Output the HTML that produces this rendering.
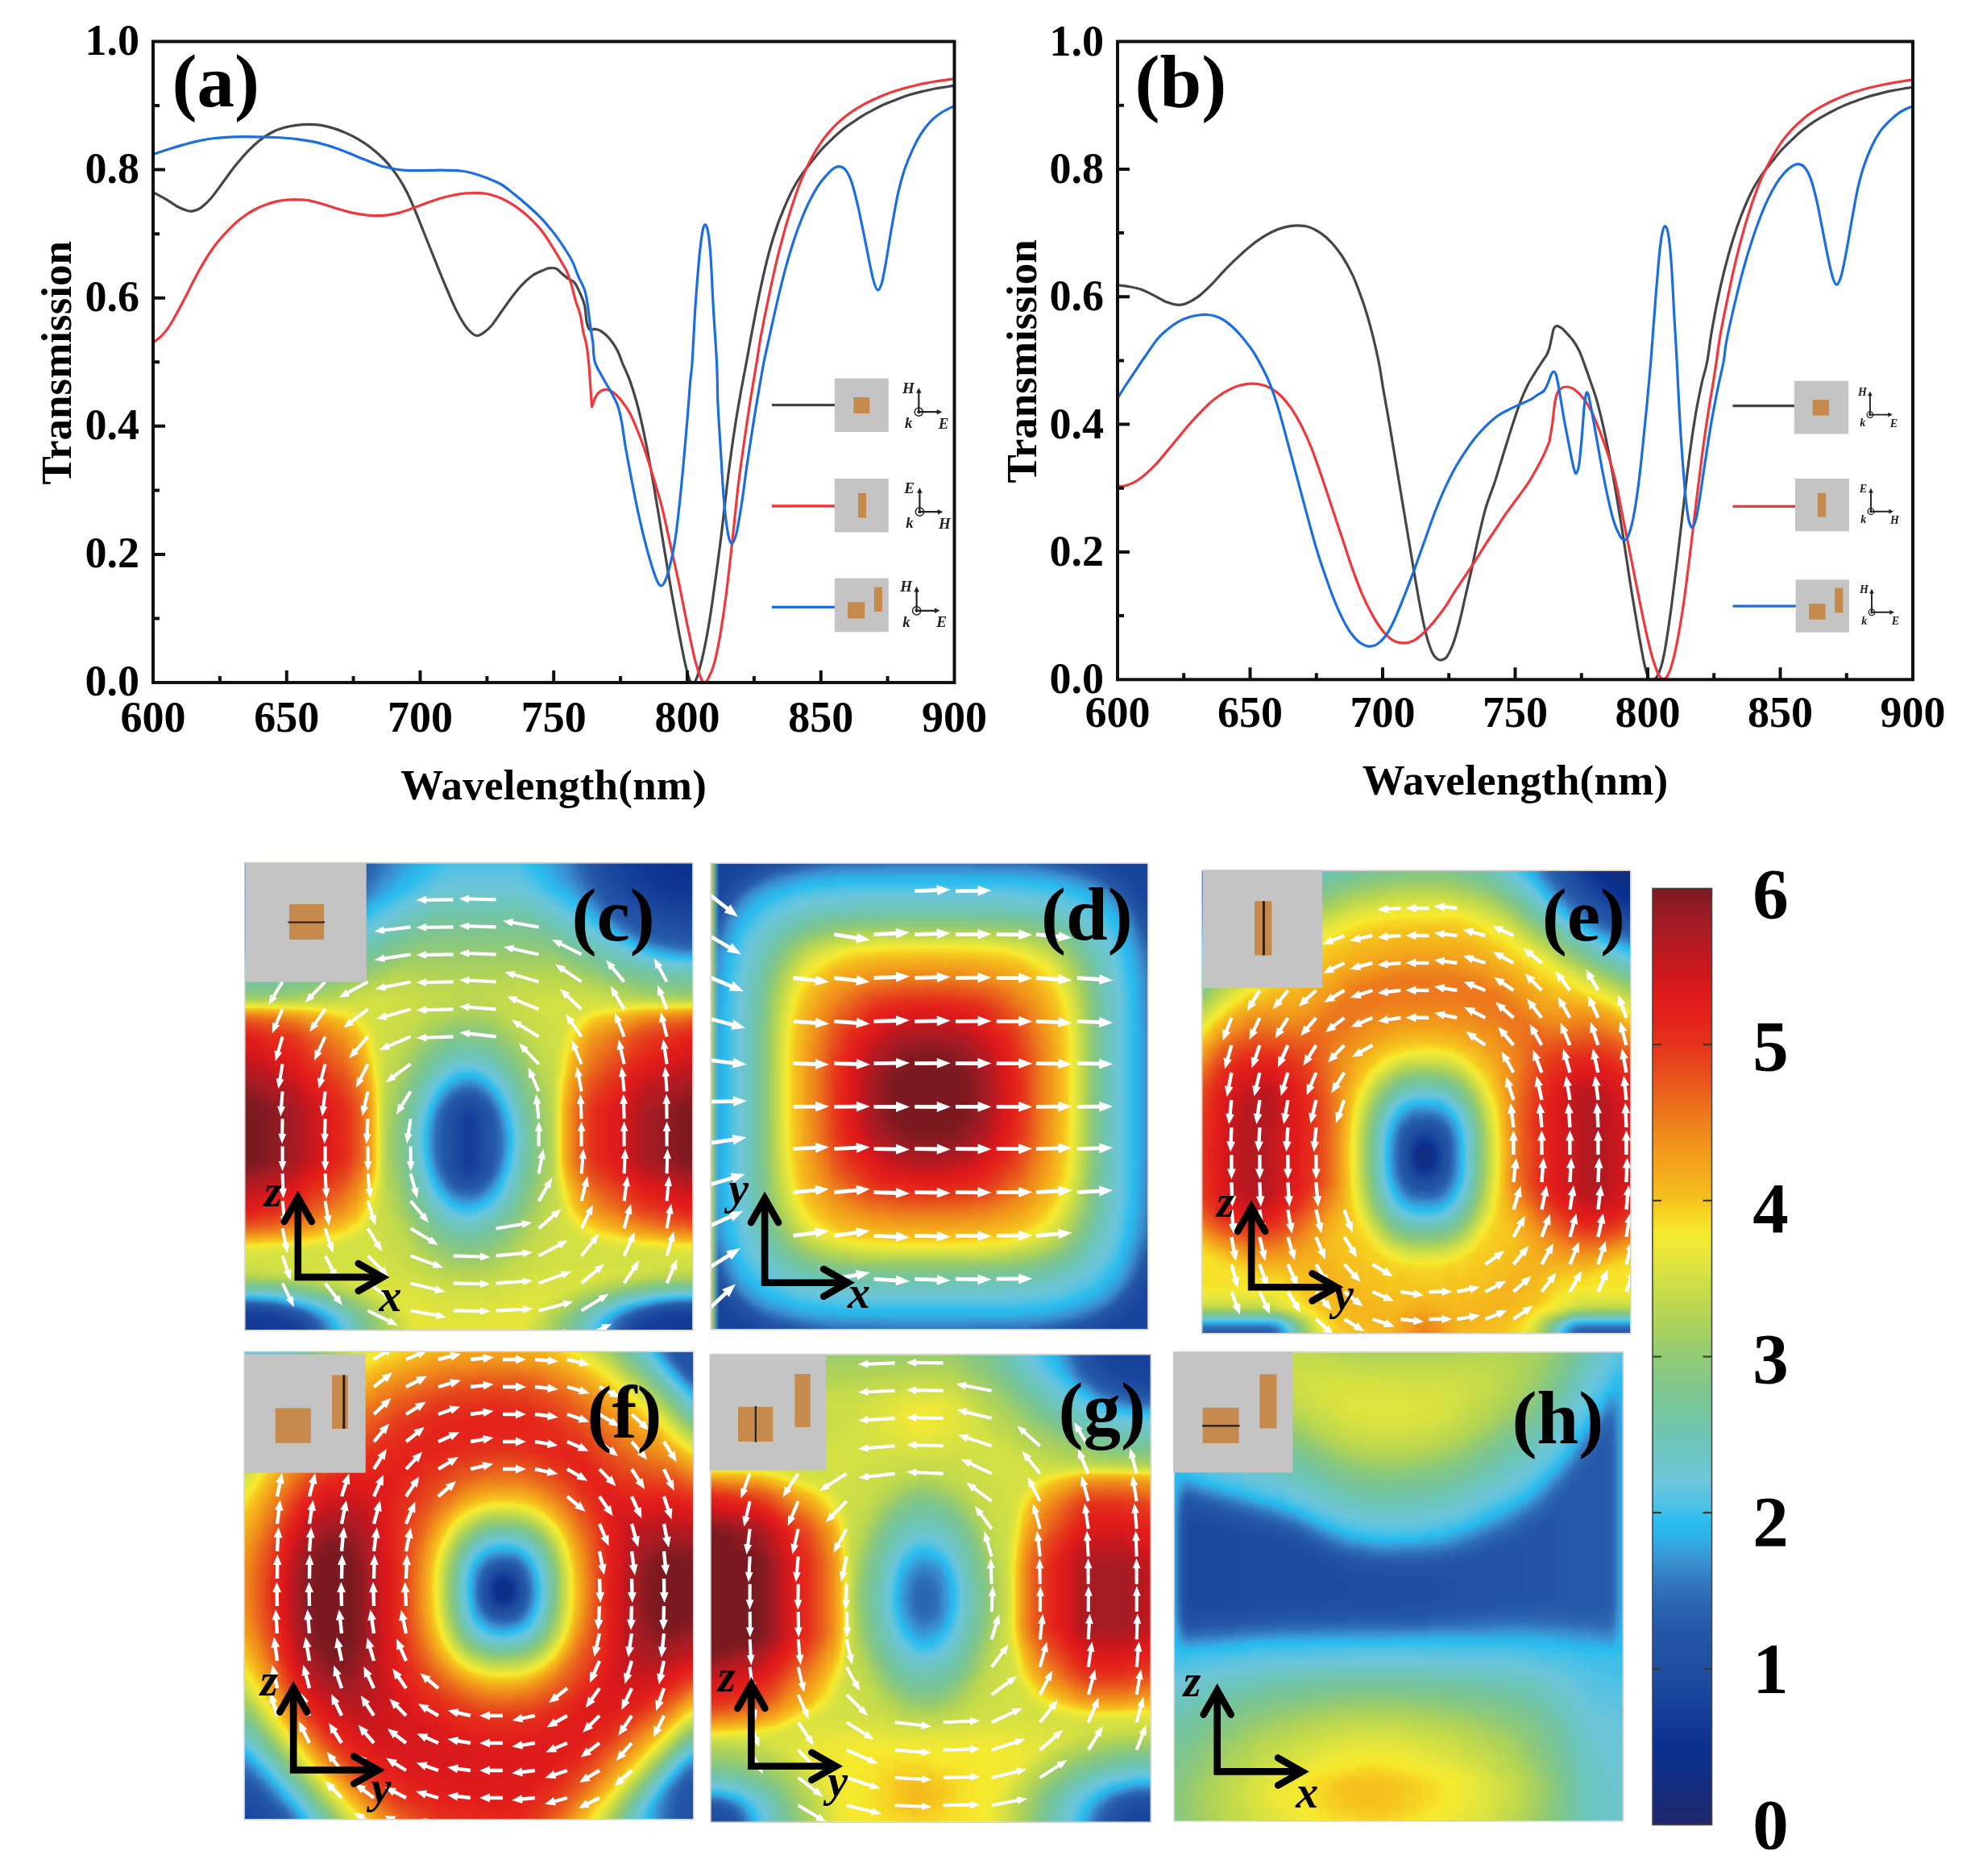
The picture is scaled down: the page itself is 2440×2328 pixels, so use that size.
<!DOCTYPE html><html><head><meta charset="utf-8"><title>Figure</title><style>html,body{margin:0;padding:0;background:#fff}svg{display:block;filter:blur(0.7px)}</style></head><body>
<svg xmlns="http://www.w3.org/2000/svg" width="2440" height="2328" viewBox="0 0 2440 2328">
<rect width="2440" height="2328" fill="#fff"/>
<clipPath id="clipA"><rect x="190" y="51.5" width="994.5" height="795.5"/></clipPath>
<g clip-path="url(#clipA)" fill="none" stroke-width="3.2" stroke-linejoin="round">
<path d="M190.0 238.7C192.5 240.0 200.2 243.9 205.3 246.8C210.3 249.8 216.3 254.2 220.5 256.5C224.8 258.8 227.7 259.9 230.7 260.8C233.7 261.7 235.4 262.5 238.3 262.1C241.3 261.7 244.7 260.8 248.5 258.3C252.3 255.7 256.5 252.1 261.2 246.8C265.9 241.5 271.4 233.3 276.5 226.5C281.6 219.7 286.6 212.5 291.7 206.1C296.8 199.8 301.9 193.6 307.0 188.3C312.1 183.0 317.2 178.4 322.2 174.3C327.3 170.3 332.4 166.8 337.5 164.2C342.6 161.5 347.7 159.8 352.8 158.3C357.9 156.8 362.9 156.0 368.0 155.3C373.1 154.6 378.2 154.3 383.3 154.3C388.4 154.3 393.5 154.5 398.5 155.3C403.6 156.1 408.7 157.5 413.8 159.1C418.9 160.7 424.0 162.7 429.1 164.9C434.2 167.2 439.2 169.6 444.3 172.6C449.4 175.5 454.5 178.8 459.6 182.7C464.7 186.6 470.6 191.9 474.8 196.0C479.1 200.1 481.6 203.2 485.0 207.4C488.4 211.6 491.8 216.1 495.2 221.4C498.6 226.7 502.0 232.4 505.4 239.2C508.8 246.0 512.1 254.0 515.5 262.1C518.9 270.1 522.3 279.0 525.7 287.5C529.1 296.0 532.5 304.5 535.9 313.0C539.3 321.4 542.7 330.1 546.1 338.4C549.4 346.7 552.8 354.7 556.2 362.5C559.6 370.4 563.0 378.7 566.4 385.4C569.8 392.2 573.6 398.8 576.6 403.2C579.5 407.7 581.7 409.9 584.2 412.1C586.7 414.3 589.3 416.3 591.8 416.5C594.4 416.7 596.5 415.4 599.5 413.4C602.4 411.4 605.8 409.0 609.6 404.5C613.4 400.1 618.1 392.6 622.3 386.7C626.6 380.8 630.8 374.4 635.1 368.9C639.3 363.4 643.5 358.1 647.8 353.6C652.0 349.2 656.3 345.2 660.5 342.2C664.7 339.2 669.8 337.4 673.2 335.8C676.6 334.3 678.0 333.2 680.8 332.8C683.6 332.4 687.2 332.2 690.0 333.3C692.8 334.4 695.1 337.5 697.6 339.7C700.2 341.8 702.7 344.2 705.3 346.0C707.8 347.8 710.3 347.4 712.9 350.6C715.4 353.8 718.4 360.3 720.5 365.1C722.6 369.8 724.3 373.4 725.6 379.1C726.9 384.8 727.1 394.4 728.1 399.4C729.2 404.4 730.3 407.6 732.0 409.1C733.7 410.6 736.0 408.0 738.3 408.3C740.7 408.6 743.0 409.0 746.0 410.9C748.9 412.8 752.7 415.7 756.1 419.8C759.5 423.8 763.5 429.8 766.3 435.0C769.1 440.2 770.1 444.9 772.7 451.1C775.2 457.2 778.4 462.9 781.6 471.9C784.7 480.9 788.3 491.8 791.7 505.0C795.1 518.1 798.5 533.8 801.9 550.7C805.3 567.7 808.7 587.2 812.1 606.7C815.5 626.2 818.9 647.4 822.2 667.7C825.6 688.1 829.0 709.3 832.4 728.8C835.8 748.3 839.6 769.0 842.6 784.7C845.6 800.4 848.1 813.3 850.2 822.9C852.3 832.4 853.7 837.6 855.3 841.9C856.9 846.3 858.4 848.8 859.9 848.8C861.4 848.8 863.1 845.0 864.5 841.9C865.8 838.9 866.6 835.8 868.0 830.5C869.5 825.2 871.0 820.3 873.1 810.1C875.2 800.0 878.2 785.1 880.7 769.4C883.3 753.8 885.8 734.7 888.4 716.0C890.9 697.4 893.5 678.3 896.0 657.5C898.5 636.8 901.1 611.8 903.6 591.4C906.2 571.1 908.7 552.4 911.3 535.5C913.8 518.5 916.3 504.1 918.9 489.7C921.4 475.3 924.0 462.8 926.5 449.0C929.1 435.2 931.2 422.5 934.2 407.1C937.1 391.6 940.9 371.9 944.3 356.2C947.7 340.5 951.1 325.7 954.5 313.0C957.9 300.2 961.3 289.6 964.7 279.9C968.1 270.1 971.5 262.3 974.8 254.5C978.2 246.6 981.6 239.2 985.0 232.8C988.4 226.5 991.4 221.8 995.2 216.3C999.0 210.8 1003.7 205.1 1007.9 199.8C1012.1 194.5 1016.4 189.2 1020.6 184.5C1024.9 179.9 1029.1 175.8 1033.3 171.8C1037.6 167.8 1041.8 163.8 1046.1 160.4C1050.3 157.0 1054.5 154.3 1058.8 151.5C1063.0 148.6 1067.2 145.6 1071.5 143.1C1075.7 140.5 1080.0 138.4 1084.2 136.2C1088.4 134.0 1092.7 131.7 1096.9 129.8C1101.2 127.9 1105.4 126.4 1109.6 124.8C1113.9 123.1 1118.1 121.2 1122.3 119.7C1126.6 118.2 1130.8 117.0 1135.1 115.9C1139.3 114.7 1143.5 113.8 1147.8 112.8C1152.0 111.8 1156.3 110.8 1160.5 110.0C1164.7 109.2 1169.4 108.6 1173.2 108.0C1177.0 107.4 1181.7 106.7 1183.4 106.4" stroke="#454545"/>
<path d="M190.0 424.9C191.7 423.6 196.8 420.6 200.2 417.2C203.6 413.8 207.0 409.6 210.3 404.5C213.7 399.4 217.1 392.9 220.5 386.7C223.9 380.6 227.3 374.2 230.7 367.6C234.1 361.1 237.0 354.5 240.9 347.3C244.7 340.1 249.3 331.4 253.6 324.4C257.8 317.4 262.1 311.0 266.3 305.3C270.5 299.6 274.8 294.7 279.0 290.1C283.3 285.4 287.5 281.2 291.7 277.3C296.0 273.5 300.2 270.1 304.4 267.2C308.7 264.2 312.9 261.7 317.2 259.5C321.4 257.3 325.6 255.5 329.9 254.0C334.1 252.4 338.4 251.1 342.6 250.1C346.8 249.2 351.1 248.5 355.3 248.1C359.5 247.7 363.8 247.5 368.0 247.6C372.3 247.6 376.5 247.8 380.7 248.4C385.0 248.9 389.2 250.1 393.5 251.2C397.7 252.3 401.9 253.7 406.2 255.0C410.4 256.3 414.7 257.8 418.9 259.0C423.1 260.3 427.4 261.5 431.6 262.6C435.8 263.7 440.1 264.6 444.3 265.4C448.6 266.2 452.8 266.8 457.0 267.2C461.3 267.6 465.5 267.8 469.8 267.7C474.0 267.6 478.2 267.3 482.5 266.7C486.7 266.1 490.9 265.2 495.2 264.1C499.4 263.0 503.7 261.5 507.9 260.1C512.1 258.6 516.4 256.8 520.6 255.2C524.9 253.7 529.1 252.1 533.3 250.6C537.6 249.2 541.8 247.6 546.1 246.3C550.3 245.0 554.5 243.9 558.8 243.0C563.0 242.1 567.2 241.3 571.5 240.7C575.7 240.1 580.0 239.6 584.2 239.5C588.4 239.3 592.7 239.3 596.9 239.7C601.2 240.1 605.4 240.6 609.6 241.7C613.9 242.8 618.1 244.4 622.3 246.3C626.6 248.2 630.8 250.6 635.1 253.2C639.3 255.8 643.5 258.7 647.8 262.1C652.0 265.5 656.3 269.3 660.5 273.5C664.7 277.8 669.4 282.6 673.2 287.5C677.0 292.4 680.6 298.5 683.4 302.8C686.2 307.1 687.7 309.6 690.0 313.5C692.3 317.4 695.0 321.8 697.3 325.9C699.6 330.0 702.0 333.2 704.0 337.9C706.0 342.6 707.5 347.9 709.3 353.9C711.1 359.9 712.8 368.0 714.6 374.0C716.4 380.0 718.5 383.7 720.0 390.0C721.5 396.3 722.6 405.7 723.9 412.0C725.2 418.3 726.8 421.7 727.9 428.0C729.0 434.3 729.8 441.7 730.6 449.8C731.4 457.9 732.0 467.3 732.6 476.5C733.2 485.7 734.2 500.2 734.5 505.0L734.5 505.0C735.6 502.4 738.1 493.3 740.9 489.7C743.6 486.1 747.6 483.8 751.0 483.3C754.4 482.9 757.8 484.8 761.2 487.1C764.6 489.5 768.0 493.1 771.4 497.3C774.8 501.6 778.2 506.2 781.6 512.6C784.9 518.9 788.3 527.0 791.7 535.5C795.1 543.9 798.5 553.3 801.9 563.4C805.3 573.6 808.7 585.1 812.1 596.5C815.5 608.0 818.9 618.5 822.2 632.1C825.6 645.7 829.0 662.6 832.4 677.9C835.8 693.2 839.2 707.6 842.6 723.7C846.0 739.8 849.4 758.4 852.8 774.5C856.2 790.6 860.0 808.9 862.9 820.3C865.9 831.8 868.7 838.8 870.6 843.2C872.5 847.7 873.1 847.0 874.4 847.0C875.7 847.0 876.3 846.8 878.2 843.2C880.1 839.6 883.3 834.3 885.8 825.4C888.4 816.5 890.9 804.2 893.5 789.8C896.0 775.4 898.5 758.4 901.1 738.9C903.6 719.4 906.2 695.7 908.7 672.8C911.3 649.9 913.8 622.8 916.3 601.6C918.9 580.4 921.4 563.4 924.0 545.6C926.5 527.8 929.1 510.9 931.6 494.8C934.2 478.7 937.1 461.9 939.2 449.0C941.4 436.1 941.8 431.0 944.3 417.2C946.9 403.5 951.1 382.5 954.5 366.4C957.9 350.3 961.3 334.6 964.7 320.6C968.1 306.6 971.5 294.3 974.8 282.4C978.2 270.6 981.6 259.5 985.0 249.4C988.4 239.2 991.4 230.5 995.2 221.4C999.0 212.3 1003.7 202.5 1007.9 194.7C1012.1 186.9 1016.4 180.3 1020.6 174.3C1024.9 168.4 1029.1 163.6 1033.3 159.1C1037.6 154.6 1041.8 150.7 1046.1 147.1C1050.3 143.5 1054.5 140.4 1058.8 137.5C1063.0 134.6 1067.2 132.2 1071.5 129.8C1075.7 127.5 1080.0 125.5 1084.2 123.5C1088.4 121.5 1092.7 119.6 1096.9 117.9C1101.2 116.2 1105.4 114.7 1109.6 113.3C1113.9 111.9 1118.1 110.7 1122.3 109.5C1126.6 108.3 1130.8 107.2 1135.1 106.2C1139.3 105.2 1143.5 104.2 1147.8 103.4C1152.0 102.5 1156.3 101.8 1160.5 101.1C1164.7 100.4 1169.4 99.9 1173.2 99.3C1177.0 98.8 1181.7 98.0 1183.4 97.8" stroke="#f0383c"/>
<path d="M190.0 191.4C194.2 190.0 207.0 185.8 215.4 183.2C223.9 180.7 232.4 178.1 240.9 176.1C249.3 174.2 257.8 172.6 266.3 171.5C274.8 170.5 283.3 170.1 291.7 169.8C300.2 169.5 308.7 169.6 317.2 169.8C325.6 169.9 334.1 170.1 342.6 170.5C351.1 171.0 359.5 171.5 368.0 172.6C376.5 173.6 385.0 174.9 393.5 176.9C401.9 178.9 410.4 181.6 418.9 184.5C427.4 187.5 435.8 191.3 444.3 194.7C452.8 198.1 463.0 202.5 469.8 204.9C476.5 207.2 479.9 207.6 485.0 208.7C490.1 209.7 494.3 210.7 500.3 211.2C506.2 211.7 513.0 211.7 520.6 211.7C528.3 211.7 537.6 211.2 546.1 211.2C554.5 211.3 564.7 211.4 571.5 212.0C578.3 212.6 581.7 213.7 586.7 215.0C591.8 216.4 596.1 217.8 602.0 220.1C607.9 222.5 616.4 225.6 622.3 229.0C628.3 232.4 632.5 236.4 637.6 240.5C642.7 244.5 647.8 248.7 652.9 253.2C658.0 257.6 663.5 262.5 668.1 267.2C672.8 271.8 677.2 276.9 680.8 281.2C684.5 285.4 686.8 288.2 690.0 292.6C693.2 297.0 696.8 302.1 700.2 307.4C703.6 312.7 707.4 318.4 710.3 324.4C713.3 330.4 715.4 337.5 718.0 343.5C720.5 349.4 723.7 354.1 725.6 360.0C727.5 365.9 728.4 372.5 729.4 379.1C730.5 385.6 730.9 391.8 732.0 399.4C733.0 407.1 734.7 416.6 735.8 424.9C736.8 433.1 736.2 441.6 738.3 449.0C740.4 456.4 745.1 463.0 748.5 469.3C751.9 475.7 755.7 481.6 758.7 487.1C761.6 492.7 764.2 496.5 766.3 502.4C768.4 508.3 769.7 513.9 771.4 522.8C773.1 531.7 774.4 543.5 776.5 555.8C778.6 568.1 781.6 583.4 784.1 596.5C786.6 609.6 789.2 622.8 791.7 634.7C794.3 646.5 796.8 657.5 799.4 667.7C801.9 677.9 804.4 687.2 807.0 695.7C809.5 704.2 812.5 713.4 814.6 718.6C816.7 723.8 818.0 726.1 819.7 726.7C821.4 727.4 822.9 726.3 824.8 722.4C826.7 718.5 829.0 711.6 831.1 703.3C833.3 695.1 835.6 684.7 837.5 672.8C839.4 660.9 840.9 647.4 842.6 632.1C844.3 616.9 846.0 599.5 847.7 581.2C849.4 563.0 851.3 540.6 852.8 522.8C854.3 505.0 855.5 486.7 856.6 474.4C857.6 462.1 858.1 464.5 859.1 449.0C860.2 433.5 861.5 403.4 862.9 381.6C864.4 359.8 866.5 333.7 868.0 318.0C869.5 302.4 870.7 294.1 871.8 287.5C873.0 281.0 874.0 278.6 875.1 278.6C876.3 278.6 877.6 281.0 878.7 287.5C879.9 294.1 880.9 302.4 882.0 318.0C883.1 333.7 884.0 359.5 885.3 381.6C886.6 403.8 888.7 431.3 889.6 451.1C890.6 470.8 890.1 481.1 890.9 499.9C891.8 518.6 893.5 543.1 894.7 563.4C896.0 583.8 897.1 605.4 898.5 621.9C900.0 638.5 902.0 653.9 903.6 662.6C905.2 671.3 906.5 674.1 908.2 674.1C909.9 674.1 911.8 670.5 913.8 662.6C915.8 654.8 918.0 640.6 920.2 627.0C922.3 613.5 924.2 597.4 926.5 581.2C928.9 565.1 931.6 546.5 934.2 530.4C936.7 514.3 939.4 498.2 941.8 484.6C944.1 471.0 946.0 459.8 948.1 449.0C950.3 438.2 951.7 432.3 954.5 419.8C957.3 407.3 961.3 388.4 964.7 374.0C968.1 359.6 971.5 345.8 974.8 333.3C978.2 320.8 981.6 309.4 985.0 299.0C988.4 288.6 991.8 279.5 995.2 271.0C998.6 262.5 1002.0 254.9 1005.4 248.1C1008.8 241.3 1012.1 235.4 1015.5 230.3C1018.9 225.2 1022.7 221.0 1025.7 217.6C1028.7 214.2 1030.8 211.8 1033.3 210.0C1035.9 208.1 1038.4 206.6 1041.0 206.6C1043.5 206.6 1046.1 207.1 1048.6 210.0C1051.1 212.8 1053.7 216.9 1056.2 223.9C1058.8 230.9 1061.3 241.3 1063.9 251.9C1066.4 262.5 1068.9 275.2 1071.5 287.5C1074.0 299.8 1077.0 315.5 1079.1 325.7C1081.2 335.8 1082.5 342.8 1084.2 348.6C1085.9 354.3 1087.6 359.6 1089.3 360.0C1091.0 360.4 1092.7 356.8 1094.4 351.1C1096.1 345.4 1097.3 337.5 1099.5 325.7C1101.6 313.8 1104.5 294.3 1107.1 279.9C1109.6 265.5 1112.2 250.6 1114.7 239.2C1117.3 227.8 1119.4 220.1 1122.3 211.2C1125.3 202.3 1129.1 193.2 1132.5 185.8C1135.9 178.4 1138.9 172.7 1142.7 166.7C1146.5 160.8 1151.2 154.6 1155.4 150.2C1159.7 145.7 1163.5 143.1 1168.1 140.0C1172.8 137.0 1180.8 133.2 1183.4 131.9" stroke="#1a6ee0"/>
</g>
<path d="M272.9 847v-8M355.8 847v-15M438.6 847v-8M521.5 847v-15M604.4 847v-8M687.2 847v-15M770.1 847v-8M853.0 847v-15M935.9 847v-8M1018.8 847v-15M1101.6 847v-8M190 767.5h8M190 687.9h15M190 608.4h8M190 528.8h15M190 449.2h8M190 369.7h15M190 290.2h8M190 210.6h15M190 131.0h8" stroke="#111" stroke-width="4" fill="none"/>
<rect x="190" y="51.5" width="994.5" height="795.5" fill="none" stroke="#111" stroke-width="4"/>
<g font-family="Liberation Serif, serif" font-weight="bold" font-size="54" fill="#000">
<text x="190.0" y="907.6" text-anchor="middle">600</text>
<text x="355.8" y="907.6" text-anchor="middle">650</text>
<text x="521.5" y="907.6" text-anchor="middle">700</text>
<text x="687.2" y="907.6" text-anchor="middle">750</text>
<text x="853.0" y="907.6" text-anchor="middle">800</text>
<text x="1018.8" y="907.6" text-anchor="middle">850</text>
<text x="1184.5" y="907.6" text-anchor="middle">900</text>
<text x="173" y="863.0" text-anchor="end">0.0</text>
<text x="173" y="703.9" text-anchor="end">0.2</text>
<text x="173" y="544.8" text-anchor="end">0.4</text>
<text x="173" y="385.7" text-anchor="end">0.6</text>
<text x="173" y="226.6" text-anchor="end">0.8</text>
<text x="173" y="67.5" text-anchor="end">1.0</text>
</g>
<text font-family="Liberation Serif, serif" font-weight="bold" font-size="53" x="687.2" y="992" text-anchor="middle" letter-spacing="0.2">Wavelength(nm)</text>
<text font-family="Liberation Serif, serif" font-weight="bold" font-size="53" transform="translate(87.8 450.2) rotate(-90)" text-anchor="middle" letter-spacing="0">Transmission</text>
<text font-family="Liberation Serif, serif" font-weight="bold" font-size="93" x="213.5" y="132">(a)</text>
<g stroke-width="3.3" fill="none"><path d="M958 502.7H1037" stroke="#454545"/><path d="M958 628H1037" stroke="#f0383c"/><path d="M958 753.3H1037" stroke="#1a6ee0"/></g>
<g fill="#c4c4c4"><rect x="1035.8" y="469.5" width="67" height="66.5"/><rect x="1035.8" y="594" width="67" height="66.5"/><rect x="1035.8" y="717.5" width="67" height="66.7"/></g>
<g fill="#c68a4c"><rect x="1059.3" y="493" width="20" height="20"/><rect x="1065" y="612" width="10" height="30.5"/><rect x="1052" y="747.3" width="21.2" height="20.2"/><rect x="1085" y="728.7" width="10" height="30.3"/></g>
<g stroke="#222" stroke-width="2.2" fill="none"><path d="M1140.3 511.2V484.2M1140.3 511.2H1166.3"/><circle cx="1140.3" cy="511.2" r="5.1" stroke-width="1.5"/></g>
<circle cx="1140.3" cy="511.2" r="2.0" fill="#222"/>
<path d="M1140.3 481.2l-3.3000000000000003 6.6000000000000005h6.6000000000000005z M1169.3 511.2l-6.6000000000000005 -3.3000000000000003v6.6000000000000005z" fill="#222"/>
<g font-family="Liberation Serif, serif" font-weight="bold" font-style="italic" font-size="19" fill="#222" text-anchor="middle">
<text x="1127.4" y="487.8">H</text>
<text x="1127.8" y="531.1">k</text>
<text x="1171.2" y="531.7">E</text>
</g>
<g stroke="#222" stroke-width="2.2" fill="none"><path d="M1141.4 635.2V608.2M1141.4 635.2H1167.4"/><circle cx="1141.4" cy="635.2" r="5.1" stroke-width="1.5"/></g>
<circle cx="1141.4" cy="635.2" r="2.0" fill="#222"/>
<path d="M1141.4 605.2l-3.3000000000000003 6.6000000000000005h6.6000000000000005z M1170.4 635.2l-6.6000000000000005 -3.3000000000000003v6.6000000000000005z" fill="#222"/>
<g font-family="Liberation Serif, serif" font-weight="bold" font-style="italic" font-size="19" fill="#222" text-anchor="middle">
<text x="1128.5" y="611.9">E</text>
<text x="1128.9" y="655.2">k</text>
<text x="1172.3" y="655.7">H</text>
</g>
<g stroke="#222" stroke-width="2.2" fill="none"><path d="M1137.6 757.8V730.8M1137.6 757.8H1163.6"/><circle cx="1137.6" cy="757.8" r="5.1" stroke-width="1.5"/></g>
<circle cx="1137.6" cy="757.8" r="2.0" fill="#222"/>
<path d="M1137.6 727.8l-3.3000000000000003 6.6000000000000005h6.6000000000000005z M1166.6 757.8l-6.6000000000000005 -3.3000000000000003v6.6000000000000005z" fill="#222"/>
<g font-family="Liberation Serif, serif" font-weight="bold" font-style="italic" font-size="19" fill="#222" text-anchor="middle">
<text x="1124.7" y="734.4">H</text>
<text x="1125.1" y="777.8">k</text>
<text x="1168.5" y="778.3">E</text>
</g>
<clipPath id="clipB"><rect x="1387" y="51.5" width="987" height="791.8"/></clipPath>
<g clip-path="url(#clipB)" fill="none" stroke-width="3.2" stroke-linejoin="round">
<path d="M1386.0 353.6C1388.5 354.0 1396.2 354.7 1401.3 355.7C1406.3 356.6 1411.4 357.5 1416.5 359.2C1421.6 361.0 1426.7 363.8 1431.8 366.4C1436.9 368.9 1442.0 372.5 1447.0 374.5C1452.1 376.5 1458.1 378.0 1462.3 378.3C1466.5 378.7 1468.2 378.3 1472.5 376.5C1476.7 374.8 1482.6 371.4 1487.7 367.6C1492.8 363.8 1497.9 358.7 1503.0 353.6C1508.1 348.6 1513.2 342.4 1518.2 337.1C1523.3 331.8 1528.4 326.7 1533.5 321.9C1538.6 317.0 1543.7 312.1 1548.8 307.9C1553.9 303.6 1558.9 299.8 1564.0 296.4C1569.1 293.0 1574.2 289.9 1579.3 287.5C1584.4 285.1 1589.5 283.2 1594.5 281.9C1599.6 280.7 1604.7 279.9 1609.8 279.9C1614.9 279.9 1620.0 280.2 1625.1 281.9C1630.2 283.6 1635.7 286.8 1640.3 290.1C1645.0 293.3 1648.8 296.8 1653.0 301.5C1657.3 306.2 1661.5 311.5 1665.8 318.0C1670.0 324.6 1674.7 332.9 1678.5 340.9C1682.3 349.0 1685.7 358.3 1688.6 366.4C1691.6 374.4 1693.7 380.8 1696.3 389.3C1698.8 397.7 1701.4 406.9 1703.9 417.2C1706.4 427.5 1709.4 440.2 1711.5 451.1C1713.7 461.9 1714.5 469.7 1716.6 482.1C1718.7 494.4 1721.7 510.5 1724.3 525.3C1726.8 540.1 1729.3 555.8 1731.9 571.1C1734.4 586.3 1737.0 601.6 1739.5 616.9C1742.1 632.1 1744.6 647.4 1747.1 662.6C1749.7 677.9 1752.2 693.6 1754.8 708.4C1757.3 723.2 1759.9 738.5 1762.4 751.6C1764.9 764.8 1767.5 777.5 1770.0 787.3C1772.6 797.0 1775.3 805.1 1777.7 810.1C1780.0 815.2 1782.1 816.3 1784.0 817.8C1785.9 819.3 1787.2 819.5 1789.1 819.0C1791.0 818.6 1793.1 818.4 1795.5 815.2C1797.8 812.0 1800.5 806.7 1803.1 800.0C1805.6 793.2 1808.2 784.3 1810.7 774.5C1813.3 764.8 1815.8 752.5 1818.3 741.5C1820.9 730.5 1823.4 719.9 1826.0 708.4C1828.5 697.0 1830.6 685.7 1833.6 672.8C1836.6 659.9 1840.3 643.0 1843.8 630.8C1847.3 618.7 1851.4 609.6 1854.6 600.0C1857.8 590.4 1860.0 582.4 1862.8 573.5C1865.5 564.6 1868.3 555.4 1871.1 546.6C1873.8 537.8 1876.6 529.0 1879.3 520.8C1882.0 512.6 1884.8 504.4 1887.5 497.3C1890.2 490.2 1893.0 484.0 1895.7 478.5C1898.4 473.0 1901.2 469.0 1903.9 464.5C1906.6 460.0 1909.5 455.5 1912.1 451.6C1914.6 447.7 1917.4 444.1 1919.2 441.0C1921.0 437.9 1921.6 436.3 1922.7 432.8C1923.8 429.3 1924.7 423.8 1925.6 419.9C1926.5 416.0 1927.1 411.8 1927.9 409.3C1928.7 406.9 1929.4 406.0 1930.3 405.2C1931.2 404.4 1931.9 404.3 1933.2 404.6C1934.5 404.9 1936.4 406.0 1937.9 407.0C1939.4 408.0 1939.6 408.3 1942.0 410.9C1944.3 413.4 1949.2 418.3 1952.1 422.3C1955.1 426.3 1957.4 430.2 1959.8 435.0C1962.1 439.8 1964.0 445.3 1966.1 451.1C1968.2 456.8 1969.7 461.2 1972.5 469.3C1975.2 477.5 1979.3 487.6 1982.6 499.9C1986.0 512.2 1989.4 527.0 1992.8 543.1C1996.2 559.2 1999.6 577.4 2003.0 596.5C2006.4 615.6 2009.8 636.4 2013.2 657.5C2016.6 678.7 2019.9 702.5 2023.3 723.7C2026.7 744.9 2030.5 767.8 2033.5 784.7C2036.5 801.7 2039.0 815.9 2041.1 825.4C2043.3 834.9 2044.6 838.9 2046.2 841.9C2047.8 845.0 2049.2 843.9 2050.8 843.7C2052.4 843.5 2054.1 843.3 2055.9 840.7C2057.7 838.0 2059.7 833.9 2061.5 827.9C2063.3 822.0 2064.5 817.3 2066.6 805.1C2068.7 792.8 2071.7 772.8 2074.2 754.2C2076.7 735.5 2079.3 714.3 2081.8 693.2C2084.4 672.0 2086.9 648.6 2089.5 627.0C2092.0 605.4 2094.5 582.5 2097.1 563.4C2099.6 544.4 2102.2 527.4 2104.7 512.6C2107.3 497.7 2110.0 485.0 2112.3 474.4C2114.7 463.8 2116.6 460.2 2118.7 449.0C2120.8 437.8 2122.3 422.5 2125.1 407.1C2127.8 391.6 2131.8 371.4 2135.2 356.2C2138.6 340.9 2142.0 327.8 2145.4 315.5C2148.8 303.2 2152.2 292.4 2155.6 282.4C2159.0 272.5 2162.4 263.8 2165.8 255.7C2169.1 247.7 2172.5 240.5 2175.9 234.1C2179.3 227.8 2182.3 223.1 2186.1 217.6C2189.9 212.1 2194.6 206.3 2198.8 201.1C2203.1 195.8 2207.3 190.5 2211.5 185.8C2215.8 181.1 2220.0 177.1 2224.3 173.1C2228.5 169.0 2232.7 165.1 2237.0 161.6C2241.2 158.2 2245.4 155.1 2249.7 152.2C2253.9 149.3 2258.2 146.8 2262.4 144.3C2266.6 141.9 2270.9 139.6 2275.1 137.5C2279.4 135.3 2283.6 133.2 2287.8 131.4C2292.1 129.5 2296.3 127.9 2300.5 126.3C2304.8 124.7 2309.0 123.1 2313.3 121.7C2317.5 120.3 2321.7 119.1 2326.0 117.9C2330.2 116.7 2334.5 115.6 2338.7 114.6C2342.9 113.6 2347.2 112.8 2351.4 112.0C2355.7 111.2 2360.7 110.3 2364.1 109.7C2367.6 109.2 2370.9 108.7 2372.3 108.5" stroke="#454545"/>
<path d="M1386.0 603.6C1387.7 603.5 1392.8 603.6 1396.2 602.9C1399.6 602.1 1403.0 600.7 1406.3 599.1C1409.7 597.4 1413.1 595.2 1416.5 592.7C1419.9 590.1 1423.3 587.0 1426.7 583.8C1430.1 580.6 1433.0 577.9 1436.9 573.6C1440.7 569.4 1445.3 563.4 1449.6 558.4C1453.8 553.3 1458.1 548.2 1462.3 543.1C1466.5 538.0 1470.8 532.7 1475.0 527.8C1479.3 523.0 1483.5 518.3 1487.7 513.9C1492.0 509.4 1496.2 505.0 1500.4 501.1C1504.7 497.3 1508.9 493.9 1513.2 491.0C1517.4 488.0 1521.6 485.5 1525.9 483.3C1530.1 481.2 1534.4 479.4 1538.6 478.2C1542.8 477.1 1547.1 476.4 1551.3 476.2C1555.5 476.0 1559.8 476.1 1564.0 477.0C1568.3 477.9 1572.5 479.2 1576.7 481.6C1581.0 483.9 1585.2 486.9 1589.5 491.0C1593.7 495.1 1597.9 500.1 1602.2 506.2C1606.4 512.4 1610.7 519.6 1614.9 527.8C1619.1 536.1 1623.4 545.2 1627.6 555.8C1631.8 566.4 1636.1 579.1 1640.3 591.4C1644.6 603.7 1648.8 616.9 1653.0 629.6C1657.3 642.3 1661.5 655.0 1665.8 667.7C1670.0 680.4 1674.2 694.0 1678.5 705.9C1682.7 717.7 1686.9 729.2 1691.2 738.9C1695.4 748.7 1699.7 756.9 1703.9 764.4C1708.1 771.8 1712.4 778.3 1716.6 783.4C1720.9 788.5 1725.1 792.5 1729.3 794.9C1733.6 797.3 1737.8 797.9 1742.1 797.9C1746.3 797.9 1750.5 797.1 1754.8 794.9C1759.0 792.7 1763.2 788.7 1767.5 784.7C1771.7 780.7 1776.0 775.8 1780.2 770.7C1784.4 765.6 1788.7 760.3 1792.9 754.2C1797.2 748.0 1801.4 740.4 1805.6 733.8C1809.9 727.3 1814.1 721.1 1818.3 714.8C1822.6 708.4 1826.8 702.3 1831.1 695.7C1835.3 689.1 1839.5 681.9 1843.8 675.3C1848.0 668.8 1852.3 662.6 1856.5 656.3C1860.7 649.9 1864.3 644.2 1869.2 637.2C1874.1 630.2 1881.5 620.5 1886.0 614.3C1890.5 608.1 1892.8 605.3 1896.2 600.1C1899.6 594.9 1903.0 589.1 1906.3 583.0C1909.7 576.9 1913.8 569.3 1916.5 563.4C1919.3 557.6 1921.8 550.7 1922.9 548.2L1922.9 548.2C1923.5 544.4 1925.5 533.4 1926.7 525.3C1927.8 517.2 1928.7 506.2 1929.7 499.9C1930.8 493.5 1931.7 490.2 1933.0 487.1C1934.4 484.1 1936.2 482.7 1938.1 481.6C1940.0 480.4 1942.2 479.9 1944.5 480.0C1946.8 480.1 1949.6 480.7 1952.1 482.1C1954.7 483.5 1957.2 485.9 1959.8 488.4C1962.3 491.0 1964.8 493.7 1967.4 497.3C1969.9 500.9 1972.5 505.0 1975.0 510.0C1977.6 515.1 1980.1 521.5 1982.6 527.8C1985.2 534.2 1987.7 541.0 1990.3 548.2C1992.8 555.4 1995.4 562.6 1997.9 571.1C2000.4 579.6 2003.0 588.0 2005.5 599.1C2008.1 610.1 2010.6 624.5 2013.2 637.2C2015.7 649.9 2018.2 662.6 2020.8 675.3C2023.3 688.1 2025.9 700.8 2028.4 713.5C2031.0 726.2 2033.5 739.4 2036.1 751.6C2038.6 763.9 2041.1 776.2 2043.7 787.3C2046.2 798.3 2048.8 809.3 2051.3 817.8C2053.9 826.2 2056.8 834.0 2058.9 838.1C2061.1 842.3 2062.3 842.5 2064.0 842.7C2065.7 842.9 2067.2 842.7 2069.1 839.4C2071.0 836.1 2073.4 830.3 2075.5 822.9C2077.6 815.4 2079.5 807.2 2081.8 794.9C2084.2 782.6 2086.9 766.5 2089.5 749.1C2092.0 731.7 2094.5 711.0 2097.1 690.6C2099.6 670.3 2102.2 647.8 2104.7 627.0C2107.3 606.3 2109.8 585.1 2112.3 566.0C2114.9 546.9 2117.6 527.8 2120.0 512.6C2122.3 497.3 2124.6 485.0 2126.3 474.4C2128.0 463.8 2128.7 459.0 2130.2 449.0C2131.6 439.0 2132.7 428.9 2135.2 414.7C2137.8 400.5 2142.0 379.9 2145.4 363.8C2148.8 347.7 2152.2 332.0 2155.6 318.0C2159.0 304.1 2162.4 291.5 2165.8 279.9C2169.1 268.2 2172.5 257.8 2175.9 248.1C2179.3 238.4 2182.3 230.1 2186.1 221.4C2189.9 212.7 2194.6 203.6 2198.8 196.0C2203.1 188.3 2207.3 181.6 2211.5 175.6C2215.8 169.7 2220.0 164.9 2224.3 160.4C2228.5 155.8 2232.7 152.0 2237.0 148.4C2241.2 144.8 2245.4 141.6 2249.7 138.7C2253.9 135.9 2258.2 133.4 2262.4 131.1C2266.6 128.8 2270.9 126.7 2275.1 124.8C2279.4 122.8 2283.6 120.9 2287.8 119.2C2292.1 117.5 2296.3 116.0 2300.5 114.6C2304.8 113.2 2309.0 112.0 2313.3 110.8C2317.5 109.6 2321.7 108.5 2326.0 107.5C2330.2 106.4 2334.5 105.5 2338.7 104.7C2342.9 103.8 2347.2 103.1 2351.4 102.4C2355.7 101.7 2360.7 100.9 2364.1 100.3C2367.6 99.8 2370.9 99.3 2372.3 99.1" stroke="#f0383c"/>
<path d="M1386.0 496.0C1387.7 493.3 1392.8 484.8 1396.2 479.5C1399.6 474.2 1403.0 469.3 1406.3 464.3C1409.7 459.2 1413.6 453.4 1416.5 449.0C1419.5 444.6 1420.8 442.9 1424.1 438.1C1427.5 433.3 1432.6 425.2 1436.9 420.3C1441.1 415.3 1445.3 411.8 1449.6 408.3C1453.8 404.8 1458.1 401.8 1462.3 399.4C1466.5 397.0 1470.8 395.2 1475.0 393.8C1479.3 392.4 1483.9 391.6 1487.7 391.0C1491.5 390.5 1494.5 390.3 1497.9 390.5C1501.3 390.7 1504.7 391.2 1508.1 392.3C1511.5 393.4 1514.9 394.8 1518.2 396.9C1521.6 398.9 1525.0 401.5 1528.4 404.5C1531.8 407.5 1535.2 410.9 1538.6 414.7C1542.0 418.5 1545.4 422.8 1548.8 427.4C1552.2 432.0 1554.7 434.7 1558.9 442.1C1563.2 449.6 1570.0 462.3 1574.2 471.9C1578.4 481.5 1581.0 489.3 1584.4 499.9C1587.8 510.5 1591.2 523.2 1594.5 535.5C1597.9 547.8 1601.3 560.9 1604.7 573.6C1608.1 586.3 1611.5 599.1 1614.9 611.8C1618.3 624.5 1621.7 637.6 1625.1 649.9C1628.5 662.2 1631.8 674.5 1635.2 685.5C1638.6 696.5 1642.0 706.3 1645.4 716.0C1648.8 725.8 1652.2 735.5 1655.6 744.0C1659.0 752.5 1662.4 760.1 1665.8 766.9C1669.1 773.7 1672.5 779.8 1675.9 784.7C1679.3 789.6 1682.9 793.4 1686.1 796.2C1689.3 798.9 1692.5 800.3 1695.0 801.2C1697.5 802.2 1699.0 802.3 1701.4 802.0C1703.7 801.7 1706.0 801.5 1709.0 799.5C1712.0 797.4 1715.8 794.4 1719.2 789.8C1722.6 785.2 1725.5 780.0 1729.3 772.0C1733.2 763.9 1737.8 752.1 1742.1 741.5C1746.3 730.9 1750.5 719.9 1754.8 708.4C1759.0 697.0 1763.2 684.7 1767.5 672.8C1771.7 660.9 1776.0 648.2 1780.2 637.2C1784.4 626.2 1788.7 616.0 1792.9 606.7C1797.2 597.4 1801.4 588.9 1805.6 581.2C1809.9 573.6 1814.1 567.3 1818.3 560.9C1822.6 554.5 1826.8 548.4 1831.1 543.1C1835.3 537.8 1839.5 533.4 1843.8 529.1C1848.0 524.9 1852.3 520.8 1856.5 517.7C1860.7 514.5 1864.3 512.7 1869.2 510.0C1874.1 507.4 1881.9 503.8 1886.0 501.9C1890.1 500.0 1891.1 499.8 1893.6 498.6C1896.2 497.4 1898.7 496.3 1901.3 494.8C1903.8 493.3 1906.3 491.4 1908.9 489.7C1911.4 488.0 1914.4 487.1 1916.5 484.6C1918.6 482.1 1920.1 477.8 1921.6 474.4C1923.1 471.0 1924.2 466.5 1925.4 464.3C1926.6 462.1 1927.7 460.8 1928.7 461.2C1929.8 461.6 1930.6 462.5 1931.8 466.8C1932.9 471.1 1934.1 478.7 1935.6 487.1C1937.1 495.6 1938.8 507.1 1940.7 517.7C1942.6 528.3 1945.1 541.0 1947.0 550.7C1948.9 560.5 1950.6 570.0 1952.1 576.2C1953.6 582.3 1954.7 587.6 1955.9 587.6C1957.2 587.6 1958.5 584.4 1959.8 576.2C1961.0 567.9 1962.5 549.9 1963.6 538.0C1964.6 526.1 1965.3 513.2 1966.1 505.0C1967.0 496.7 1967.8 491.0 1968.7 488.4C1969.5 485.9 1970.1 486.5 1971.2 489.7C1972.3 492.9 1973.3 498.6 1975.0 507.5C1976.7 516.4 1979.3 531.2 1981.4 543.1C1983.5 555.0 1985.4 566.4 1987.7 578.7C1990.1 591.0 1992.8 605.4 1995.4 616.9C1997.9 628.3 2000.4 639.3 2003.0 647.4C2005.5 655.4 2008.5 661.4 2010.6 665.2C2012.7 668.9 2014.0 669.8 2015.7 669.8C2017.4 669.8 2018.9 669.8 2020.8 665.2C2022.7 660.6 2025.0 652.9 2027.1 642.3C2029.3 631.7 2031.6 616.0 2033.5 601.6C2035.4 587.2 2036.9 571.9 2038.6 555.8C2040.3 539.7 2042.0 522.8 2043.7 505.0C2045.4 487.1 2047.1 469.6 2048.8 449.0C2050.5 428.4 2052.2 403.0 2053.9 381.6C2055.5 360.2 2057.5 335.8 2058.9 320.6C2060.4 305.3 2061.5 296.7 2062.8 290.1C2064.0 283.4 2065.3 280.7 2066.6 280.7C2067.8 280.7 2069.1 282.6 2070.4 290.1C2071.7 297.6 2072.9 308.3 2074.2 325.7C2075.5 343.0 2076.8 373.4 2078.0 394.3C2079.2 415.2 2080.3 431.3 2081.3 451.1C2082.4 470.8 2083.2 492.6 2084.4 512.6C2085.5 532.6 2086.9 553.7 2088.2 571.1C2089.5 588.5 2090.7 604.6 2092.0 616.9C2093.3 629.1 2094.5 638.6 2095.8 644.8C2097.2 651.1 2098.7 654.5 2100.1 654.5C2101.6 654.5 2103.1 651.1 2104.7 644.8C2106.3 638.6 2107.9 628.7 2109.8 616.9C2111.7 605.0 2113.8 588.9 2116.2 573.6C2118.5 558.4 2121.2 540.1 2123.8 525.3C2126.3 510.5 2128.9 497.3 2131.4 484.6C2134.0 471.9 2137.1 459.4 2139.1 449.0C2141.0 438.6 2140.5 434.4 2142.9 422.3C2145.2 410.2 2149.6 390.9 2153.0 376.5C2156.4 362.1 2159.8 348.3 2163.2 335.8C2166.6 323.3 2170.0 312.1 2173.4 301.5C2176.8 290.9 2180.2 281.2 2183.6 272.3C2186.9 263.4 2190.3 255.3 2193.7 248.1C2197.1 240.9 2200.5 234.5 2203.9 229.0C2207.3 223.5 2210.7 218.9 2214.1 215.0C2217.5 211.2 2221.3 208.0 2224.3 206.1C2227.2 204.2 2229.3 203.4 2231.9 203.6C2234.4 203.8 2237.0 204.4 2239.5 207.4C2242.1 210.4 2244.6 214.4 2247.1 221.4C2249.7 228.4 2252.2 238.4 2254.8 249.4C2257.3 260.4 2259.9 274.8 2262.4 287.5C2264.9 300.2 2267.9 315.9 2270.0 325.7C2272.1 335.4 2273.5 341.4 2275.1 346.0C2276.7 350.6 2278.1 353.6 2279.7 353.1C2281.3 352.7 2283.0 349.3 2284.8 343.5C2286.6 337.6 2288.2 329.5 2290.4 318.0C2292.6 306.6 2295.5 288.8 2298.0 274.8C2300.5 260.8 2303.1 245.6 2305.6 234.1C2308.2 222.7 2310.3 215.0 2313.3 206.1C2316.2 197.2 2320.0 187.9 2323.4 180.7C2326.8 173.5 2329.8 168.2 2333.6 162.9C2337.4 157.6 2342.1 152.9 2346.3 148.9C2350.6 144.9 2354.7 141.5 2359.0 138.7C2363.4 136.0 2370.1 133.4 2372.3 132.4" stroke="#1a6ee0"/>
</g>
<path d="M1469.2 843.3v-8M1551.5 843.3v-15M1633.8 843.3v-8M1716.0 843.3v-15M1798.2 843.3v-8M1880.5 843.3v-15M1962.8 843.3v-8M2045.0 843.3v-15M2127.2 843.3v-8M2209.5 843.3v-15M2291.8 843.3v-8M1387 764.1h8M1387 684.9h15M1387 605.8h8M1387 526.6h15M1387 447.4h8M1387 368.2h15M1387 289.0h8M1387 209.9h15M1387 130.7h8" stroke="#111" stroke-width="4" fill="none"/>
<rect x="1387" y="51.5" width="987" height="791.8" fill="none" stroke="#111" stroke-width="4"/>
<g font-family="Liberation Serif, serif" font-weight="bold" font-size="54" fill="#000">
<text x="1387.0" y="902.0" text-anchor="middle">600</text>
<text x="1551.5" y="902.0" text-anchor="middle">650</text>
<text x="1716.0" y="902.0" text-anchor="middle">700</text>
<text x="1880.5" y="902.0" text-anchor="middle">750</text>
<text x="2045.0" y="902.0" text-anchor="middle">800</text>
<text x="2209.5" y="902.0" text-anchor="middle">850</text>
<text x="2374.0" y="902.0" text-anchor="middle">900</text>
<text x="1370" y="860.3" text-anchor="end">0.0</text>
<text x="1370" y="701.9" text-anchor="end">0.2</text>
<text x="1370" y="543.6" text-anchor="end">0.4</text>
<text x="1370" y="385.2" text-anchor="end">0.6</text>
<text x="1370" y="226.9" text-anchor="end">0.8</text>
<text x="1370" y="68.5" text-anchor="end">1.0</text>
</g>
<text font-family="Liberation Serif, serif" font-weight="bold" font-size="53" x="1880.5" y="986" text-anchor="middle" letter-spacing="0.2">Wavelength(nm)</text>
<text font-family="Liberation Serif, serif" font-weight="bold" font-size="53" transform="translate(1286.4 448.4) rotate(-90)" text-anchor="middle" letter-spacing="0">Transmission</text>
<text font-family="Liberation Serif, serif" font-weight="bold" font-size="93" x="1408.5" y="132.5">(b)</text>
<g stroke-width="3.3" fill="none"><path d="M2150.5 503.7H2228" stroke="#454545"/><path d="M2150.5 628.3H2229" stroke="#f0383c"/><path d="M2150.5 752.2H2230" stroke="#1a6ee0"/></g>
<g fill="#c4c4c4"><rect x="2226.8" y="472.7" width="67.4" height="65.8"/><rect x="2228" y="594" width="67" height="65.3"/><rect x="2228.6" y="719.3" width="66.4" height="65.4"/></g>
<g fill="#c68a4c"><rect x="2249.7" y="496" width="20.3" height="19.6"/><rect x="2256" y="611.8" width="10.2" height="29.7"/><rect x="2245.1" y="749.1" width="20.3" height="19.6"/><rect x="2277.1" y="729.5" width="10.2" height="31"/></g>
<g stroke="#222" stroke-width="1.9" fill="none"><path d="M2320.9 514.6V488.6M2320.9 514.6H2345.9"/><circle cx="2320.9" cy="514.6" r="3.8" stroke-width="1.3"/></g>
<circle cx="2320.9" cy="514.6" r="1.7" fill="#222"/>
<path d="M2320.9 485.6l-2.8499999999999996 5.699999999999999h5.699999999999999z M2348.9 514.6l-5.699999999999999 -2.8499999999999996v5.699999999999999z" fill="#222"/>
<g font-family="Liberation Serif, serif" font-weight="bold" font-style="italic" font-size="14" fill="#222" text-anchor="middle">
<text x="2311.4" y="490.5">H</text>
<text x="2311.7" y="529.3">k</text>
<text x="2350.3" y="529.7">E</text>
</g>
<g stroke="#222" stroke-width="1.9" fill="none"><path d="M2322 634.7V608.7M2322 634.7H2347"/><circle cx="2322" cy="634.7" r="3.8" stroke-width="1.3"/></g>
<circle cx="2322" cy="634.7" r="1.7" fill="#222"/>
<path d="M2322 605.7l-2.8499999999999996 5.699999999999999h5.699999999999999z M2350 634.7l-5.699999999999999 -2.8499999999999996v5.699999999999999z" fill="#222"/>
<g font-family="Liberation Serif, serif" font-weight="bold" font-style="italic" font-size="14" fill="#222" text-anchor="middle">
<text x="2312.5" y="610.6">E</text>
<text x="2312.8" y="649.4">k</text>
<text x="2351.4" y="649.8">H</text>
</g>
<g stroke="#222" stroke-width="1.9" fill="none"><path d="M2323 759.8V733.8M2323 759.8H2348"/><circle cx="2323" cy="759.8" r="3.8" stroke-width="1.3"/></g>
<circle cx="2323" cy="759.8" r="1.7" fill="#222"/>
<path d="M2323 730.8l-2.8499999999999996 5.699999999999999h5.699999999999999z M2351 759.8l-5.699999999999999 -2.8499999999999996v5.699999999999999z" fill="#222"/>
<g font-family="Liberation Serif, serif" font-weight="bold" font-style="italic" font-size="14" fill="#222" text-anchor="middle">
<text x="2313.5" y="735.7">H</text>
<text x="2313.8" y="774.5">k</text>
<text x="2352.4" y="774.9">E</text>
</g>
<clipPath id="cpc"><rect x="304.6" y="1071.4" width="554.4" height="578.5999999999999"/></clipPath>
<filter id="jetc" filterUnits="userSpaceOnUse" x="274.6" y="1041.4" width="614.4" height="638.5999999999999" color-interpolation-filters="sRGB"><feGaussianBlur stdDeviation="5.1"/><feComponentTransfer><feFuncR type="table" tableValues="0.125 0.116 0.107 0.097 0.088 0.078 0.071 0.063 0.055 0.047 0.039 0.049 0.058 0.067 0.077 0.086 0.094 0.102 0.110 0.118 0.125 0.129 0.132 0.135 0.138 0.141 0.150 0.158 0.167 0.176 0.184 0.195 0.206 0.217 0.227 0.210 0.193 0.176 0.173 0.169 0.237 0.306 0.345 0.384 0.424 0.425 0.427 0.429 0.431 0.433 0.435 0.445 0.456 0.466 0.476 0.486 0.504 0.521 0.538 0.555 0.573 0.598 0.623 0.648 0.673 0.698 0.723 0.748 0.773 0.798 0.824 0.851 0.878 0.906 0.933 0.949 0.965 0.967 0.969 0.967 0.965 0.962 0.960 0.958 0.955 0.953 0.949 0.945 0.941 0.937 0.933 0.929 0.925 0.922 0.918 0.914 0.911 0.907 0.904 0.901 0.898 0.897 0.896 0.895 0.894 0.884 0.873 0.863 0.837 0.810 0.784 0.759 0.734 0.709 0.684 0.659 0.624 0.588 0.553 0.518 0.482"/><feFuncG type="table" tableValues="0.153 0.158 0.162 0.167 0.172 0.176 0.180 0.183 0.186 0.189 0.192 0.204 0.216 0.227 0.239 0.251 0.263 0.275 0.286 0.298 0.310 0.316 0.322 0.329 0.335 0.341 0.360 0.379 0.398 0.416 0.435 0.472 0.508 0.544 0.580 0.622 0.664 0.706 0.724 0.741 0.751 0.761 0.766 0.771 0.776 0.776 0.775 0.775 0.774 0.773 0.773 0.773 0.774 0.775 0.776 0.776 0.780 0.783 0.786 0.789 0.792 0.800 0.808 0.816 0.824 0.831 0.841 0.850 0.860 0.869 0.878 0.886 0.894 0.902 0.910 0.914 0.918 0.878 0.839 0.800 0.761 0.736 0.711 0.685 0.660 0.635 0.609 0.582 0.555 0.529 0.502 0.471 0.439 0.408 0.376 0.345 0.317 0.289 0.260 0.232 0.204 0.183 0.163 0.142 0.122 0.115 0.108 0.102 0.099 0.097 0.094 0.097 0.100 0.104 0.107 0.110 0.108 0.107 0.105 0.104 0.102"/><feFuncB type="table" tableValues="0.416 0.433 0.450 0.467 0.485 0.502 0.514 0.525 0.537 0.549 0.561 0.569 0.578 0.587 0.595 0.604 0.610 0.616 0.623 0.629 0.635 0.640 0.645 0.649 0.654 0.659 0.671 0.684 0.696 0.709 0.722 0.747 0.773 0.798 0.824 0.855 0.886 0.918 0.925 0.933 0.918 0.902 0.886 0.871 0.855 0.829 0.803 0.776 0.750 0.724 0.698 0.673 0.648 0.623 0.598 0.573 0.549 0.525 0.502 0.478 0.455 0.431 0.408 0.384 0.361 0.337 0.323 0.309 0.295 0.281 0.267 0.255 0.243 0.231 0.220 0.198 0.176 0.159 0.141 0.129 0.118 0.115 0.113 0.111 0.108 0.106 0.107 0.107 0.108 0.109 0.110 0.111 0.111 0.112 0.113 0.114 0.113 0.112 0.111 0.111 0.110 0.109 0.108 0.107 0.106 0.107 0.108 0.110 0.112 0.115 0.118 0.122 0.127 0.132 0.136 0.141 0.139 0.136 0.134 0.132 0.129"/><feFuncA type="linear" slope="0" intercept="1"/></feComponentTransfer></filter>
<rect x="303.8" y="1070.6" width="556.0" height="580.2" fill="none" stroke="#d4d0cc" stroke-width="1.6"/>
<g clip-path="url(#cpc)"><g filter="url(#jetc)"><g transform="translate(304.60 1075.99) scale(9.2400 9.1841)" stroke-width="1.08" fill="none">
<path stroke="#161616" d="M-2 -2h6M56 -2h6M-2 -1h6M56 -1h6M-2 0h5M57 0h5M-2 1h2"/>
<path stroke="#181818" d="M4 -2h2M55 -2h1M4 -1h2M55 -1h1M3 0h3M55 0h2M0 1h5M55 1h7M-2 2h6M56 2h6"/>
<path stroke="#1a1a1a" d="M6 -2h1M53 -2h2M6 -1h1M53 -1h2M6 0h1M54 0h1M5 1h2M54 1h1M4 2h2M55 2h1M-2 3h6M57 3h5"/>
<path stroke="#1c1c1c" d="M7 -2h2M52 -2h1M7 -1h2M52 -1h1M7 0h2M53 0h1M7 1h1M53 1h1M6 2h1M54 2h1M4 3h2M55 3h2M-2 4h5M57 4h5M-2 62h4M58 62h4M-2 63h5M57 63h5M-2 64h5M57 64h5"/>
<path stroke="#1e1e1e" d="M9 -2h1M51 -2h1M9 -1h1M51 -1h1M9 0h1M51 0h2M8 1h1M52 1h1M7 2h1M53 2h1M6 3h1M54 3h1M3 4h2M56 4h1M-2 5h4M29 34h2M29 35h2M29 36h2M29 37h2M29 38h2M29 39h2M29 40h2M-2 61h6M56 61h6M2 62h4M54 62h4M3 63h3M54 63h3M3 64h3M54 64h3"/>
<path stroke="#202020" d="M10 -2h1M50 -2h1M10 -1h1M50 -1h1M10 0h1M50 0h1M9 1h1M51 1h1M8 2h2M52 2h1M7 3h1M53 3h1M5 4h2M54 4h2M2 5h2M57 5h5M29 41h2M-2 60h4M58 60h4M4 61h2M54 61h2M6 62h1M53 62h1M6 63h1M53 63h1M6 64h1M53 64h1"/>
<path stroke="#222222" d="M11 -2h1M11 -1h1M11 0h1M10 1h1M50 1h1M10 2h1M51 2h1M8 3h2M52 3h1M7 4h1M53 4h1M4 5h2M55 5h2M-2 6h5M59 6h3M29 33h2M2 60h2M56 60h2M6 61h1M53 61h1M7 62h1M52 62h1M7 63h1M52 63h1M7 64h1M52 64h1"/>
<path stroke="#242424" d="M12 -2h1M49 -2h1M12 -1h1M49 -1h1M49 0h1M11 1h1M50 2h1M51 3h1M8 4h1M52 4h1M6 5h1M54 5h1M3 6h2M56 6h3"/>
<path stroke="#262626" d="M48 -2h1M48 -1h1M12 0h1M48 0h1M12 1h1M49 1h1M11 2h1M49 2h1M10 3h1M50 3h1M9 4h1M51 4h1M7 5h2M53 5h1M5 6h2M55 6h1M-2 7h5M58 7h4M28 34h1M31 34h1M28 35h1M31 35h1M28 36h1M31 36h1M28 37h1M31 37h1M28 38h1M31 38h1M28 39h1M31 39h1M28 40h1M31 40h1M28 41h1M31 41h1"/>
<path stroke="#282828" d="M13 -2h1M13 -1h1M13 0h1M48 1h1M12 2h1M11 3h1M10 4h1M52 5h1M7 6h1M53 6h2M3 7h3M56 7h2M28 33h1M31 33h1M29 42h2M4 60h1M55 60h1"/>
<path stroke="#2a2a2a" d="M47 -2h1M47 -1h1M13 1h1M13 2h1M48 2h1M12 3h1M49 3h1M11 4h1M50 4h1M9 5h1M51 5h1M8 6h1M6 7h1M55 7h1M-2 8h6M58 8h4M29 32h2M7 61h1M52 61h1M8 62h1M51 62h1M8 63h1M51 63h1M8 64h1M51 64h1"/>
<path stroke="#2c2c2c" d="M14 -2h1M14 -1h1M14 0h1M47 0h1M48 3h1M49 4h1M10 5h1M52 6h1M7 7h1M54 7h1M4 8h1M56 8h2M28 42h1M31 42h1"/>
<path stroke="#2e2e2e" d="M14 1h1M47 1h1M13 3h1M12 4h1M11 5h1M50 5h1M9 6h1M51 6h1M8 7h1M53 7h1M5 8h1M55 8h1M-2 9h4M28 32h1M31 32h1M27 34h1M32 34h1M27 35h1M32 35h1M27 36h1M32 36h1M27 37h1M32 37h1M27 38h1M32 38h1M27 39h1M32 39h1M27 40h1M32 40h1M27 41h1M32 41h1M5 60h1M54 60h1"/>
<path stroke="#303030" d="M47 2h1M49 5h1M10 6h1M52 7h1M6 8h1M54 8h1M2 9h2M58 9h4M27 33h1M32 33h1M29 43h1"/>
<path stroke="#323232" d="M15 -2h1M46 -2h1M15 -1h1M46 -1h1M46 0h1M14 2h1M13 4h1M48 4h1M12 5h1M11 6h1M50 6h1M9 7h1M51 7h1M7 8h1M53 8h1M4 9h2M56 9h2M29 31h1M30 43h1"/>
<path stroke="#343434" d="M15 0h1M14 3h1M47 3h1M10 7h1M8 8h1M52 8h1M6 9h1M55 9h1M-2 10h4M30 31h1M27 42h1M28 43h1M8 61h1M51 61h1M9 63h1M50 63h1M9 64h1M50 64h1"/>
<path stroke="#363636" d="M15 1h1M46 1h1M49 6h1M9 8h1M7 9h1M54 9h1M2 10h2M58 10h4M28 31h1M27 32h1M26 34h1M26 35h1M33 35h1M26 36h1M33 36h1M26 37h1M33 37h1M26 38h1M33 38h1M26 39h1M33 39h1M26 40h1M32 42h1M31 43h1M6 60h1M53 60h1M9 62h1M50 62h1"/>
<path stroke="#383838" d="M15 2h1M46 2h1M13 5h1M48 5h1M12 6h1M50 7h1M53 9h1M4 10h2M56 10h2M31 31h1M32 32h1M33 34h1M33 40h1M-2 59h3M59 59h3"/>
<path stroke="#3a3a3a" d="M16 -2h1M45 -2h1M16 -1h1M45 -1h1M16 0h1M45 0h1M14 4h1M47 4h1M11 7h1M51 8h1M8 9h1M6 10h1M55 10h1M-2 11h4M26 33h1M26 41h1M1 59h1M58 59h1"/>
<path stroke="#3c3c3c" d="M16 1h1M45 1h1M15 3h1M46 3h1M10 8h1M2 11h2M33 33h1M33 41h1M27 43h1M29 44h2M2 59h1M57 59h1M7 60h1M52 60h1"/>
<path stroke="#3e3e3e" d="M17 -2h1M44 -2h1M17 -1h1M44 -1h1M17 0h1M48 6h1M49 7h1M52 9h1M54 10h1M59 11h3M29 30h2M27 31h1M32 43h1M28 44h1M3 59h1M56 59h1M9 61h1M50 61h1"/>
<path stroke="#404040" d="M44 0h1M17 1h1M16 2h1M45 2h1M14 5h1M47 5h1M13 6h1M12 7h1M50 8h1M9 9h1M7 10h1M4 11h1M58 11h1M32 31h1M25 35h1M25 36h1M25 37h1M34 37h1M25 38h1M34 38h1M25 39h1M26 42h1M31 44h1M10 62h1M49 62h1M10 63h1M49 63h1M10 64h1M49 64h1"/>
<path stroke="#424242" d="M18 -2h1M18 -1h1M18 0h1M44 1h1M16 3h1M45 3h1M15 4h1M46 4h1M11 8h1M5 11h1M57 11h1M28 30h1M31 30h1M26 32h1M34 36h1M34 39h1M33 42h1M4 59h1M55 59h1"/>
<path stroke="#444444" d="M43 -2h1M43 -1h1M43 0h1M18 1h1M17 2h1M44 2h1M51 9h1M8 10h1M53 10h1M56 11h1M33 32h1M25 34h1M34 35h1M25 40h1"/>
<path stroke="#464646" d="M19 -2h1M42 -2h1M19 -1h1M42 -1h1M19 0h1M43 1h1M17 3h1M16 4h1M14 6h1M47 6h1M48 7h1M10 9h1M6 11h1M-2 12h4M34 34h1M34 40h1M27 44h1M29 45h2M8 60h1M51 60h1"/>
<path stroke="#484848" d="M20 -2h1M20 -1h1M20 0h1M42 0h1M19 1h1M18 2h1M43 2h1M44 3h1M45 4h1M15 5h1M46 5h1M13 7h1M12 8h1M49 8h1M55 11h1M2 12h1M29 29h2M27 30h1M26 31h1M25 33h1M25 41h1M26 43h1M32 44h1M28 45h1M5 59h1M54 59h1M10 61h1M49 61h1"/>
<path stroke="#4a4a4a" d="M21 -2h1M41 -2h1M21 -1h1M41 -1h1M41 0h1M20 1h1M42 1h1M19 2h1M18 3h1M17 4h1M50 9h1M9 10h1M52 10h1M3 12h1M32 30h1M33 31h1M34 41h1M33 43h1M31 45h1M11 62h1M48 62h1M11 63h1M48 63h1M11 64h1M48 64h1"/>
<path stroke="#4c4c4c" d="M22 -2h1M40 -2h1M22 -1h1M40 -1h1M21 0h1M41 1h1M42 2h1M43 3h1M44 4h1M16 5h1M45 5h1M15 6h1M46 6h1M11 9h1M7 11h1M54 11h1M4 12h1M59 12h3M28 29h1M31 29h1M34 33h1M6 59h1M53 59h1M9 60h1M50 60h1"/>
<path stroke="#4e4e4e" d="M23 -2h1M39 -2h1M23 -1h1M39 -1h1M22 0h1M40 0h1M21 1h1M20 2h1M41 2h1M19 3h1M42 3h1M18 4h1M14 7h1M47 7h1M58 12h1M25 32h1M24 36h1M24 37h1M24 38h1M25 42h1M27 45h1"/>
<path stroke="#505050" d="M24 -2h1M24 -1h1M23 0h1M39 0h1M22 1h1M40 1h1M21 2h1M20 3h1M43 4h1M17 5h1M16 6h1M13 8h1M48 8h1M10 10h1M51 10h1M8 11h1M53 11h1M5 12h1M57 12h1M27 29h1M26 30h1M34 32h1M24 35h1M35 36h1M35 37h1M35 38h1M24 39h1M34 42h1M26 44h1M33 44h1M32 45h1M29 46h2M11 61h1M48 61h1"/>
<path stroke="#525252" d="M25 -2h1M38 -2h1M25 -1h1M38 -1h1M24 0h1M38 0h1M23 1h1M39 1h1M22 2h1M40 2h1M21 3h1M41 3h1M19 4h1M44 5h1M45 6h1M15 7h1M46 7h1M12 9h1M49 9h1M56 12h1M29 28h2M32 29h1M33 30h1M24 34h1M35 35h1M35 39h1M24 40h1M25 43h1M28 46h1M7 59h1M52 59h1M12 63h1M47 63h1M12 64h1M47 64h1"/>
<path stroke="#545454" d="M37 -2h1M37 -1h1M25 0h1M37 0h1M24 1h1M38 1h1M23 2h1M39 2h1M40 3h1M20 4h1M42 4h1M18 5h1M43 5h1M14 8h1M47 8h1M6 12h1M55 12h1M-2 13h4M28 28h1M31 28h1M25 31h1M35 34h1M35 40h1M34 43h1M31 46h1M-2 58h4M58 58h4M10 60h1M49 60h1M12 62h1M47 62h1"/>
<path stroke="#565656" d="M26 -2h11M26 -1h11M26 0h1M25 1h1M24 2h1M22 3h1M41 4h1M19 5h1M17 6h1M44 6h1M16 7h1M13 9h1M48 9h1M11 10h1M50 10h1M9 11h1M52 11h1M2 13h1M34 31h1M24 33h1M24 41h1M26 45h1M27 46h1M2 58h1M57 58h1M8 59h1M51 59h1"/>
<path stroke="#585858" d="M27 0h10M26 1h1M37 1h1M38 2h1M23 3h1M39 3h1M21 4h1M42 5h1M18 6h1M45 7h1M15 8h1M46 8h1M7 12h1M54 12h1M3 13h1M27 28h1M26 29h1M35 33h1M35 41h1M25 44h1M33 45h1M32 46h1M29 47h1M3 58h1M56 58h1M12 61h1M47 61h1"/>
<path stroke="#5a5a5a" d="M27 1h10M25 2h1M37 2h1M24 3h1M38 3h1M22 4h1M40 4h1M20 5h1M19 6h1M43 6h1M17 7h1M14 9h1M47 9h1M12 10h1M49 10h1M10 11h1M51 11h1M4 13h1M29 27h1M32 28h1M33 29h1M25 30h1M24 32h1M24 42h1M34 44h1M30 47h1M4 58h1M55 58h1"/>
<path stroke="#5c5c5c" d="M26 2h11M25 3h1M37 3h1M23 4h1M39 4h1M21 5h1M41 5h1M42 6h1M18 7h1M44 7h1M16 8h1M11 11h1M8 12h1M53 12h1M5 13h1M57 13h5M28 27h1M30 27h1M34 30h1M35 32h1M23 36h1M23 37h1M23 38h1M35 42h1M28 47h1M31 47h1M9 59h1M50 59h1M11 60h1M48 60h1M13 62h1M46 62h1M13 63h1M46 63h1M13 64h1M46 64h1"/>
<path stroke="#5e5e5e" d="M26 3h11M24 4h1M38 4h1M22 5h1M40 5h1M20 6h1M43 7h1M17 8h1M45 8h1M15 9h1M13 10h1M48 10h1M50 11h1M9 12h1M52 12h1M6 13h1M56 13h1M31 27h1M24 31h1M23 35h1M36 36h1M36 37h1M36 38h1M23 39h1M24 43h1M25 45h1M26 46h1M33 46h1M5 58h1M54 58h1"/>
<path stroke="#606060" d="M23 5h1M39 5h1M21 6h1M41 6h1M19 7h1M44 8h1M46 9h1M12 11h1M7 13h1M55 13h1M-2 14h4M27 27h1M26 28h1M33 28h1M25 29h1M35 31h1M23 34h1M36 35h1M36 39h1M23 40h1M35 43h1M34 45h1M27 47h1M32 47h1"/>
<path stroke="#626262" d="M25 4h1M37 4h1M40 6h1M20 7h1M42 7h1M18 8h1M16 9h1M45 9h1M14 10h1M47 10h1M49 11h1M10 12h1M51 12h1M54 13h1M2 14h2M32 27h1M34 29h1M23 33h1M36 34h1M36 40h1M23 41h1M29 48h2M6 58h1M53 58h1M13 61h1M46 61h1"/>
<path stroke="#646464" d="M26 4h11M24 5h1M38 5h1M22 6h1M41 7h1M19 8h1M43 8h1M17 9h1M15 10h1M13 11h1M11 12h1M8 13h1M53 13h1M4 14h1M60 14h2M29 26h2M24 30h1M36 33h1M36 41h1M24 44h1M35 44h1M26 47h1M28 48h1M31 48h1M10 59h1M49 59h1M12 60h1M47 60h1M14 63h1M45 63h1M14 64h1M45 64h1"/>
<path stroke="#666666" d="M25 5h1M37 5h1M23 6h1M39 6h1M21 7h1M42 8h1M44 9h1M16 10h1M46 10h1M48 11h1M50 12h1M9 13h1M5 14h1M57 14h3M28 26h1M31 26h1M26 27h1M33 27h1M25 28h1M35 30h1M23 32h1M23 42h1M36 42h1M25 46h1M34 46h1M33 47h1M27 48h1M7 58h1M52 58h1M14 62h1M45 62h1"/>
<path stroke="#686868" d="M26 5h11M24 6h1M38 6h1M22 7h1M40 7h1M20 8h1M18 9h1M43 9h1M45 10h1M14 11h1M47 11h1M12 12h1M49 12h1M52 13h1M6 14h1M56 14h1M27 26h1M32 26h1M34 28h1M24 29h1M36 32h1M22 36h1M22 37h1M22 38h1M23 43h1M24 45h1M35 45h1M32 48h1M29 49h1"/>
<path stroke="#6a6a6a" d="M25 6h1M23 7h1M39 7h1M21 8h1M41 8h1M19 9h1M17 10h1M15 11h1M13 12h1M10 13h1M51 13h1M7 14h1M55 14h1M-2 15h5M29 25h2M35 29h1M23 31h1M36 31h1M22 35h1M37 36h1M37 37h1M37 38h1M22 39h1M22 40h1M36 43h1M25 47h1M26 48h1M28 49h1M30 49h2M8 58h1M51 58h1M11 59h1M48 59h1M13 60h1M46 60h1M14 61h1M45 61h1"/>
<path stroke="#6c6c6c" d="M26 6h12M22 8h1M40 8h1M20 9h1M42 9h1M18 10h1M44 10h1M16 11h1M46 11h1M14 12h1M48 12h1M11 13h1M50 13h1M8 14h1M54 14h1M3 15h1M28 25h1M31 25h1M26 26h1M33 26h1M25 27h1M34 27h1M23 30h1M22 34h1M37 35h1M37 39h1M37 40h1M22 41h1M23 44h1M24 46h1M34 47h1M33 48h1M27 49h1M-2 57h5M57 57h5"/>
<path stroke="#6e6e6e" d="M24 7h1M38 7h1M43 10h1M45 11h1M47 12h1M12 13h1M9 14h1M53 14h1M4 15h2M59 15h3M27 25h1M32 25h1M24 28h1M35 28h1M36 30h1M22 33h1M37 33h1M37 34h1M37 41h1M36 44h1M35 46h1M32 49h1M3 57h1M56 57h1M9 58h1M50 58h1M15 62h1M44 62h1M15 63h1M44 63h1M15 64h1M44 64h1"/>
<path stroke="#707070" d="M25 7h13M23 8h1M39 8h1M21 9h1M41 9h1M19 10h1M17 11h1M15 12h1M13 13h1M49 13h1M10 14h1M52 14h1M6 15h1M56 15h3M23 29h1M22 32h1M22 42h1M37 42h1M23 45h1M25 48h1M26 49h1M28 50h3M4 57h1M55 57h1M12 59h1M47 59h1"/>
<path stroke="#727272" d="M24 8h1M38 8h1M22 9h1M40 9h1M20 10h1M42 10h1M18 11h1M44 11h1M16 12h1M46 12h1M14 13h1M48 13h1M11 14h1M51 14h1M7 15h1M55 15h1M-2 16h2M28 24h4M26 25h1M25 26h1M34 26h1M24 27h1M36 29h1M22 31h1M37 32h1M22 43h1M36 45h1M24 47h1M35 47h1M34 48h1M33 49h1M31 50h1M14 60h1M45 60h1M15 61h1M44 61h1"/>
<path stroke="#747474" d="M25 8h13M23 9h1M39 9h1M21 10h1M41 10h1M19 11h1M43 11h1M17 12h1M45 12h1M47 13h1M12 14h1M50 14h1M8 15h2M53 15h2M0 16h4M27 24h1M33 25h1M35 27h1M37 31h1M21 35h1M21 36h1M21 37h1M21 38h1M21 39h1M37 43h1M22 44h1M23 46h1M27 50h1M32 50h1M5 57h1M54 57h1M10 58h1M49 58h1"/>
<path stroke="#767676" d="M24 9h15M44 12h1M15 13h1M13 14h1M49 14h1M10 15h1M52 15h1M4 16h2M58 16h4M32 24h1M25 25h1M24 26h1M23 28h1M36 28h1M22 30h1M37 30h1M21 33h1M21 34h1M38 34h1M38 35h1M38 36h1M38 37h1M38 38h1M38 39h1M21 40h1M38 40h1M21 41h1M37 44h1M36 46h1M24 48h1M35 48h1M25 49h1M34 49h1M26 50h1M33 50h1M28 51h3M6 57h1M53 57h1M13 59h1M46 59h1M16 62h1M43 62h1M16 63h1M43 63h1M16 64h1M43 64h1"/>
<path stroke="#787878" d="M22 10h1M40 10h1M20 11h1M42 11h1M18 12h1M16 13h1M46 13h1M48 14h1M11 15h1M51 15h1M6 16h2M56 16h2M28 23h4M26 24h1M33 24h1M34 25h1M35 26h1M23 27h1M22 29h1M21 32h1M38 33h1M38 41h1M21 42h1M22 45h1M37 45h1M23 47h1M36 47h1M27 51h1M31 51h2"/>
<path stroke="#7a7a7a" d="M23 10h17M21 11h1M41 11h1M19 12h1M43 12h1M17 13h1M45 13h1M14 14h1M47 14h1M12 15h1M50 15h1M8 16h1M54 16h2M-2 17h5M27 23h1M32 23h1M25 24h1M24 25h1M36 27h1M37 29h1M21 31h1M38 32h1M38 42h1M21 43h1M22 46h1M24 49h1M35 49h1M25 50h1M34 50h1M29 52h1M7 57h1M52 57h1M11 58h1M48 58h1M15 60h1M44 60h1M16 61h1M43 61h1"/>
<path stroke="#7c7c7c" d="M22 11h1M20 12h1M42 12h1M18 13h1M44 13h1M15 14h1M49 15h1M9 16h1M53 16h1M3 17h3M28 22h3M26 23h1M33 23h1M34 24h1M35 25h1M23 26h1M36 26h1M22 28h1M37 28h1M21 30h1M38 31h1M20 35h1M20 36h1M20 37h1M20 38h1M20 39h1M38 43h1M21 44h1M37 46h1M23 48h1M36 48h1M26 51h1M33 51h1M28 52h1M30 52h2M8 57h1M51 57h1M14 59h1M45 59h1"/>
<path stroke="#7e7e7e" d="M23 11h18M16 14h1M46 14h1M13 15h1M48 15h1M10 16h1M52 16h1M6 17h1M57 17h5M27 22h1M31 22h2M22 27h1M38 30h1M20 33h1M20 34h1M39 34h1M39 35h1M39 36h1M39 37h1M39 38h1M39 39h1M20 40h1M39 40h1M20 41h1M38 44h1M21 45h1M22 47h1M37 47h1M23 49h1M24 50h1M35 50h1M25 51h1M34 51h1M27 52h1M32 52h1M12 58h1M47 58h1M17 62h1M42 62h1M17 63h1M42 63h1M17 64h1M42 64h1"/>
<path stroke="#818181" d="M21 12h1M41 12h1M19 13h1M43 13h1M17 14h1M45 14h1M14 15h1M11 16h1M51 16h1M7 17h2M55 17h2M26 22h1M25 23h1M34 23h1M24 24h1M35 24h1M23 25h1M36 25h1M37 27h1M21 29h1M38 29h1M20 32h1M39 33h1M39 41h1M20 42h1M39 42h1M38 45h1M21 46h1M22 48h1M36 49h1M26 52h1M33 52h1M28 53h4M-2 56h5M57 56h5M9 57h1M50 57h1M16 60h1M43 60h1M17 61h1M42 61h1"/>
<path stroke="#838383" d="M22 12h19M20 13h1M42 13h1M18 14h1M44 14h1M15 15h1M47 15h1M12 16h1M50 16h1M9 17h1M53 17h2M28 21h4M33 22h1M22 26h1M37 26h1M21 28h1M38 28h1M20 31h1M39 31h1M39 32h1M20 43h1M39 43h1M38 46h1M37 48h1M23 50h1M24 51h1M35 51h1M25 52h1M27 53h1M32 53h1M3 56h2M55 56h2M10 57h1M49 57h1M13 58h1M46 58h1M15 59h1M44 59h1"/>
<path stroke="#858585" d="M21 13h21M16 15h1M46 15h1M13 16h1M49 16h1M10 17h1M52 17h1M27 21h1M32 21h1M25 22h1M34 22h1M24 23h1M35 23h1M23 24h1M36 24h1M22 25h1M21 27h1M20 30h1M39 30h1M19 35h1M19 36h1M19 37h1M40 37h1M19 38h1M40 38h1M19 39h1M19 40h1M20 44h1M39 44h1M21 47h1M38 47h1M22 49h1M36 50h1M34 52h1M26 53h1M33 53h1M29 54h1M5 56h1M54 56h1M18 62h1M41 62h1M18 63h1M41 63h1M18 64h1M41 64h1"/>
<path stroke="#878787" d="M19 14h1M27 14h5M43 14h1M17 15h1M45 15h1M14 16h1M48 16h1M11 17h1M51 17h1M-2 18h8M28 20h4M26 21h1M33 21h1M37 25h1M38 27h1M20 29h1M39 29h1M19 33h1M19 34h1M40 34h1M40 35h1M40 36h1M40 39h1M40 40h1M19 41h1M40 41h1M19 42h1M20 45h1M39 45h1M21 48h1M37 49h1M23 51h1M24 52h1M35 52h1M27 54h2M30 54h2M6 56h1M53 56h1M11 57h1M48 57h1M14 58h1M45 58h1M17 60h1M42 60h1M18 61h1M41 61h1"/>
<path stroke="#898989" d="M20 14h7M32 14h11M18 15h1M44 15h1M15 16h1M47 16h1M12 17h1M50 17h1M6 18h2M58 18h4M27 20h1M32 20h1M25 21h1M34 21h1M24 22h1M35 22h1M23 23h1M36 23h1M22 24h1M21 26h1M38 26h1M20 28h1M19 31h1M19 32h1M40 32h1M40 33h1M40 42h1M19 43h1M20 46h1M39 46h1M38 48h1M22 50h1M37 50h1M36 51h1M25 53h1M34 53h1M32 54h1M7 56h1M52 56h1M16 59h1M43 59h1"/>
<path stroke="#8b8b8b" d="M23 15h13M16 16h1M46 16h1M13 17h1M49 17h1M8 18h2M54 18h4M28 19h4M26 20h1M33 20h1M24 21h1M23 22h1M37 24h1M21 25h1M38 25h1M20 27h1M39 27h1M39 28h1M19 30h1M40 30h1M40 31h1M40 43h1M19 44h1M40 44h1M20 47h1M39 47h1M21 49h1M38 49h1M22 51h1M23 52h1M36 52h1M24 53h1M35 53h1M25 54h2M33 54h1M28 55h4M8 56h1M51 56h1M12 57h1M47 57h1M19 62h1M40 62h1M19 63h1M40 63h1M19 64h1M40 64h1"/>
<path stroke="#8d8d8d" d="M19 15h4M36 15h8M17 16h1M24 16h12M45 16h1M14 17h1M28 17h4M48 17h1M10 18h2M28 18h4M52 18h2M26 19h2M32 19h2M25 20h1M34 20h1M35 21h1M36 22h1M22 23h1M37 23h1M21 24h1M38 24h1M20 26h1M39 26h1M19 28h1M19 29h1M40 29h1M18 32h1M18 33h1M41 33h1M18 34h1M41 34h1M18 35h1M41 35h1M18 36h1M41 36h1M18 37h1M41 37h1M18 38h1M41 38h1M18 39h1M41 39h1M18 40h1M41 40h1M18 41h1M41 41h1M18 42h1M19 45h1M40 45h1M19 46h1M20 48h1M39 48h1M21 50h1M38 50h1M37 51h1M22 52h1M23 53h1M36 53h1M24 54h1M34 54h1M26 55h2M32 55h2M9 56h1M50 56h1M15 58h1M44 58h1M17 59h1M42 59h1M18 60h1M41 60h1M19 61h1M40 61h1"/>
<path stroke="#8f8f8f" d="M18 16h6M36 16h9M15 17h1M23 17h5M32 17h5M47 17h1M12 18h1M26 18h2M32 18h2M50 18h2M25 19h1M34 19h1M24 20h1M35 20h1M23 21h1M36 21h1M22 22h1M37 22h1M21 23h1M38 23h1M20 25h1M39 25h1M19 27h1M40 27h1M40 28h1M18 30h1M18 31h1M41 31h1M41 32h1M41 42h1M18 43h1M41 43h1M18 44h1M41 44h1M40 46h1M19 47h1M40 47h1M20 49h1M39 49h1M21 51h1M38 51h1M37 52h1M35 54h1M-2 55h4M25 55h1M34 55h1M58 55h4M28 56h4M13 57h1M46 57h1"/>
<path stroke="#919191" d="M16 17h7M37 17h10M13 18h1M23 18h3M34 18h3M49 18h1M23 19h2M35 19h2M22 20h2M36 20h2M21 21h2M37 21h2M21 22h1M38 22h1M20 23h1M39 23h1M19 24h2M39 24h1M19 25h1M40 25h1M19 26h1M40 26h1M18 27h1M41 27h1M18 28h1M41 28h1M18 29h1M41 29h1M41 30h1M18 45h1M41 45h1M18 46h1M41 46h1M18 47h1M41 47h1M19 48h1M40 48h1M19 49h1M40 49h1M19 50h2M39 50h2M20 51h1M39 51h1M20 52h2M38 52h1M21 53h2M37 53h2M22 54h2M36 54h2M2 55h3M24 55h1M35 55h1M55 55h3M10 56h1M26 56h2M32 56h2M49 56h1M14 57h1M45 57h1M16 58h1M43 58h1M19 60h1M40 60h1M20 62h1M39 62h1M20 63h1M39 63h1M20 64h1M39 64h1"/>
<path stroke="#939393" d="M14 18h1M20 18h3M37 18h3M48 18h1M20 19h3M37 19h2M20 20h2M38 20h2M19 21h2M39 21h2M19 22h2M39 22h2M18 23h2M40 23h2M18 24h1M40 24h2M18 25h1M41 25h1M18 26h1M41 26h1M17 47h1M42 47h1M17 48h2M41 48h2M17 49h2M41 49h2M18 50h1M41 50h1M18 51h2M40 51h2M18 52h2M39 52h2M19 53h2M39 53h2M20 54h2M38 54h2M5 55h1M21 55h3M36 55h3M54 55h1M11 56h1M23 56h3M34 56h3M48 56h1M27 57h6M18 59h1M41 59h1M20 61h1M39 61h1"/>
<path stroke="#959595" d="M15 18h5M40 18h8M14 19h6M39 19h7M16 20h4M40 20h4M17 21h2M41 21h2M17 22h2M41 22h2M17 23h1M42 23h1M42 24h1M17 46h1M42 46h1M16 49h1M43 49h1M15 50h3M42 50h3M13 51h5M42 51h6M4 52h14M41 52h16M-2 53h21M41 53h21M-2 54h22M40 54h22M6 55h1M19 55h2M39 55h2M53 55h1M12 56h1M21 56h2M37 56h2M47 56h1M15 57h1M23 57h4M33 57h4M44 57h1M17 58h1M26 58h8M42 58h1M21 62h1M38 62h1M21 63h1M38 63h1M21 64h1M38 64h1"/>
<path stroke="#979797" d="M12 19h2M46 19h2M15 20h1M44 20h1M16 21h1M43 21h1M17 24h1M42 25h1M17 45h1M42 45h1M16 48h1M43 48h1M14 50h1M45 50h1M10 51h3M48 51h2M-2 52h6M57 52h5M7 55h12M41 55h12M13 56h8M39 56h8M16 57h7M37 57h7M23 58h3M34 58h3M19 59h1M25 59h9M40 59h1M20 60h1M39 60h1M21 61h1M38 61h1"/>
<path stroke="#999999" d="M10 19h2M48 19h1M17 25h1M42 26h1M42 44h1M15 49h1M44 49h1M9 51h1M50 51h2M18 58h5M37 58h5M20 59h5M34 59h6M24 60h12M26 61h8"/>
<path stroke="#9b9b9b" d="M9 19h1M49 19h2M45 20h1M16 22h1M43 22h1M17 26h1M42 27h1M17 44h1M13 50h1M46 50h1M7 51h2M52 51h1M21 60h3M36 60h3M22 61h4M34 61h4M22 62h16M22 63h16M22 64h16"/>
<path stroke="#9d9d9d" d="M7 19h2M51 19h1M14 20h1M44 21h1M17 27h1M42 28h1M42 43h1M16 47h1M43 47h1M45 49h1M47 50h1M5 51h2M53 51h3"/>
<path stroke="#9f9f9f" d="M5 19h2M52 19h1M15 21h1M43 23h1M17 28h1M17 43h1M44 48h1M14 49h1M12 50h1M48 50h1M2 51h3M56 51h3"/>
<path stroke="#a1a1a1" d="M2 19h3M53 19h4M46 20h1M16 23h1M42 29h1M42 42h1M43 46h1M15 48h1M11 50h1M49 50h1M-2 51h4M59 51h3"/>
<path stroke="#a3a3a3" d="M0 19h2M57 19h2M13 20h1M45 21h1M44 22h1M16 24h1M43 24h1M17 29h1M42 30h1M17 42h1M16 46h1M46 49h1M10 50h1"/>
<path stroke="#a5a5a5" d="M-2 19h2M59 19h3M12 20h1M47 20h1M14 21h1M15 22h1M43 25h1M17 30h1M42 31h1M17 41h1M42 41h1M43 45h1M44 47h1M45 48h1M13 49h1M9 50h1M50 50h1"/>
<path stroke="#a7a7a7" d="M48 20h1M16 25h1M17 31h1M42 32h1M42 40h1M16 45h1M15 47h1M14 48h1M47 49h1M51 50h1"/>
<path stroke="#a9a9a9" d="M11 20h1M49 20h1M46 21h1M45 22h1M44 23h1M16 26h1M43 26h1M17 32h1M17 33h1M42 33h1M17 34h1M42 34h1M17 35h1M42 35h1M17 36h1M42 36h1M17 37h1M42 37h1M17 38h1M42 38h1M17 39h1M42 39h1M17 40h1M43 44h1M12 49h1M48 49h1M8 50h1M52 50h1"/>
<path stroke="#ababab" d="M10 20h1M13 21h1M14 22h1M15 23h1M43 27h1M16 44h1M44 46h1M46 48h1M11 49h1M7 50h1"/>
<path stroke="#adadad" d="M50 20h1M47 21h1M15 24h1M44 24h1M16 27h1M43 28h1M43 43h1M15 46h1M45 47h1M13 48h1M49 49h1M6 50h1M53 50h2"/>
<path stroke="#afafaf" d="M9 20h1M51 20h1M12 21h1M48 21h1M45 23h1M44 25h1M16 28h1M16 43h1M44 45h1M14 47h1M47 48h1M10 49h1M50 49h1M5 50h1M55 50h1"/>
<path stroke="#b1b1b1" d="M8 20h1M11 21h1M13 22h1M46 22h1M14 23h1M15 25h1M43 29h1M43 42h1M15 45h1M12 48h1M9 49h1M3 50h2M56 50h2"/>
<path stroke="#b3b3b3" d="M52 20h1M49 21h1M47 22h1M45 24h1M15 26h1M44 26h1M16 29h1M43 30h1M16 42h1M44 44h1M14 46h1M45 46h1M46 47h1M11 48h1M48 48h1M51 49h1M2 50h1M58 50h1"/>
<path stroke="#b5b5b5" d="M7 20h1M10 21h1M12 22h1M14 24h1M44 27h1M16 30h1M43 31h1M43 41h1M15 44h1M13 47h1M49 48h1M8 49h1M0 50h2M59 50h3"/>
<path stroke="#b7b7b7" d="M6 20h1M53 20h2M50 21h1M48 22h1M46 23h1M45 25h1M15 27h1M16 31h1M43 32h1M16 41h1M44 43h1M45 45h1M47 47h1M10 48h1M52 49h1M-2 50h2"/>
<path stroke="#b9b9b9" d="M5 20h1M55 20h1M9 21h1M51 21h1M11 22h1M13 23h1M14 25h1M45 26h1M44 28h1M16 32h1M43 33h1M43 34h1M43 35h1M43 36h1M43 37h1M43 38h1M43 39h1M43 40h1M15 43h1M14 45h1M46 46h1M12 47h1M48 47h1M50 48h1M7 49h1M53 49h1"/>
<path stroke="#bbbbbb" d="M4 20h1M56 20h1M8 21h1M10 22h1M49 22h1M47 23h1M13 24h1M46 24h1M14 26h1M15 28h1M44 29h1M16 33h1M16 34h1M16 35h1M16 36h1M16 37h1M16 38h1M16 39h1M16 40h1M44 42h1M45 44h1M13 46h1M11 47h1M9 48h1M6 49h1M54 49h1"/>
<path stroke="#bdbdbd" d="M3 20h1M57 20h2M52 21h1M50 22h1M12 23h1M48 23h1M47 24h1M46 25h1M45 27h1M15 29h1M15 42h1M14 44h1M46 45h1M47 46h1M49 47h1M8 48h1M51 48h1M5 49h1M55 49h1"/>
<path stroke="#bfbfbf" d="M1 20h2M59 20h1M7 21h1M9 22h1M11 23h1M12 24h1M13 25h1M14 27h1M45 28h1M15 30h1M44 30h1M44 41h1M45 43h1M13 45h1M12 46h1M10 47h1M52 48h1M4 49h1M56 49h1"/>
<path stroke="#c1c1c1" d="M-2 20h3M60 20h2M53 21h1M51 22h1M49 23h1M48 24h1M47 25h1M46 26h1M14 28h1M44 31h1M15 41h1M14 43h1M46 44h1M47 45h1M11 46h1M48 46h1M50 47h1M7 48h1M3 49h1M57 49h2"/>
<path stroke="#c3c3c3" d="M6 21h1M54 21h1M8 22h1M10 23h1M11 24h1M12 25h1M13 26h1M46 27h1M45 29h1M15 31h1M44 32h1M44 40h1M45 42h1M13 44h1M12 45h1M49 46h1M9 47h1M53 48h1M1 49h2M59 49h1"/>
<path stroke="#c5c5c5" d="M5 21h1M55 21h1M52 22h1M50 23h1M49 24h1M48 25h1M47 26h1M13 27h1M14 29h1M45 30h1M15 32h1M44 33h1M44 34h1M44 35h1M44 36h1M44 37h1M44 38h1M44 39h1M15 40h1M14 42h1M47 44h1M48 45h1M10 46h1M51 47h1M6 48h1M54 48h1M0 49h1M60 49h2"/>
<path stroke="#c7c7c7" d="M4 21h1M56 21h2M7 22h1M9 23h1M10 24h1M11 25h1M49 25h1M12 26h1M47 27h1M46 28h1M14 30h1M15 33h1M15 34h1M15 35h1M15 36h1M15 37h1M15 38h1M15 39h1M45 41h1M46 43h1M12 44h1M11 45h1M50 46h1M8 47h1M5 48h1M55 48h1M-2 49h2"/>
<path stroke="#c9c9c9" d="M2 21h2M58 21h1M53 22h1M51 23h1M50 24h1M10 25h1M11 26h1M48 26h1M12 27h1M13 28h1M45 31h1M14 41h1M13 43h1M48 44h1M49 45h1M9 46h1M52 47h1M4 48h1M56 48h1"/>
<path stroke="#cbcbcb" d="M1 21h1M59 21h1M6 22h1M54 22h1M8 23h1M9 24h1M50 25h1M49 26h1M48 27h1M47 28h1M46 29h1M14 31h1M45 32h1M45 40h1M46 42h1M47 43h1M11 44h1M10 45h1M50 45h1M51 46h1M7 47h1M3 48h1M57 48h2"/>
<path stroke="#cdcdcd" d="M0 21h1M60 21h2M5 22h1M55 22h1M52 23h1M51 24h1M9 25h1M10 26h1M11 27h1M12 28h1M13 29h1M46 30h1M14 32h1M45 33h1M45 34h1M45 35h1M45 36h1M45 37h1M45 38h1M45 39h1M14 40h1M13 42h1M12 43h1M48 43h1M49 44h1M9 45h1M8 46h1M53 47h2M1 48h2M59 48h1"/>
<path stroke="#cfcfcf" d="M-2 21h2M4 22h1M56 22h2M7 23h1M8 24h1M51 25h1M50 26h1M49 27h1M48 28h1M47 29h1M13 30h1M46 31h1M14 33h1M14 34h1M14 35h1M14 36h1M14 37h1M14 38h1M14 39h1M46 41h1M47 42h1M11 43h1M10 44h1M51 45h1M52 46h1M5 47h2M55 47h1M0 48h1M60 48h2"/>
<path stroke="#d1d1d1" d="M2 22h2M58 22h1M53 23h1M52 24h1M8 25h1M9 26h1M10 27h1M11 28h1M12 29h1M47 30h1M13 31h1M13 41h1M12 42h1M49 43h1M50 44h1M8 45h1M7 46h1M4 47h1M56 47h1M-2 48h2"/>
<path stroke="#d3d3d3" d="M1 22h1M59 22h1M6 23h1M54 23h2M7 24h1M52 25h1M51 26h1M50 27h1M49 28h1M48 29h1M12 30h1M46 32h1M46 40h1M47 41h1M48 42h1M10 43h1M9 44h1M53 46h1M3 47h1M57 47h1"/>
<path stroke="#d5d5d5" d="M0 22h1M60 22h2M5 23h1M56 23h1M53 24h2M8 26h1M9 27h1M10 28h1M11 29h1M49 29h1M48 30h1M47 31h1M13 32h1M46 33h1M46 34h1M46 35h1M46 36h1M46 37h1M46 38h1M46 39h1M13 40h1M12 41h1M11 42h1M50 43h1M51 44h1M52 45h1M6 46h1M54 46h1M2 47h1M58 47h1"/>
<path stroke="#d7d7d7" d="M-2 22h2M3 23h2M57 23h1M6 24h1M55 24h1M7 25h1M53 25h1M52 26h1M51 27h1M50 28h1M10 29h1M11 30h1M12 31h1M48 31h1M47 32h1M13 33h1M13 34h1M13 35h1M13 36h1M13 37h1M13 38h1M13 39h1M47 40h1M48 41h1M49 42h1M9 43h1M8 44h1M7 45h1M53 45h1M5 46h1M55 46h1M1 47h1M59 47h3"/>
<path stroke="#d9d9d9" d="M2 23h1M58 23h1M4 24h2M56 24h1M6 25h1M54 25h1M7 26h1M8 27h1M9 28h1M50 29h1M49 30h1M11 31h1M12 32h1M47 33h1M47 34h1M47 35h1M47 36h1M47 37h1M47 38h1M47 39h1M12 40h1M11 41h1M10 42h1M51 43h1M52 44h1M54 45h1M4 46h1M56 46h1M-2 47h3"/>
<path stroke="#dbdbdb" d="M1 23h1M59 23h1M3 24h1M57 24h1M5 25h1M55 25h1M53 26h1M52 27h1M51 28h1M10 30h1M49 31h1M48 32h1M12 33h1M12 34h1M12 35h1M12 36h1M12 37h1M12 38h1M12 39h1M48 40h1M49 41h1M50 42h1M8 43h1M7 44h1M5 45h2M55 45h1M3 46h1M57 46h1"/>
<path stroke="#dddddd" d="M0 23h1M60 23h2M2 24h1M58 24h1M4 25h1M56 25h1M6 26h1M54 26h1M7 27h1M8 28h1M9 29h1M50 30h1M10 31h1M11 32h1M48 33h1M48 34h1M48 35h1M48 36h1M48 37h1M48 38h1M48 39h1M11 40h1M10 41h1M9 42h1M52 43h1M53 44h1M4 45h1M56 45h1M2 46h1M58 46h2"/>
<path stroke="#dfdfdf" d="M-2 23h2M1 24h1M59 24h1M3 25h1M57 25h1M5 26h1M55 26h1M53 27h1M52 28h1M51 29h1M9 30h1M50 31h1M49 32h1M11 33h1M11 34h1M11 35h1M11 36h1M11 37h1M11 38h1M11 39h1M49 40h1M50 41h1M51 42h1M6 44h1M54 44h1M3 45h1M57 45h1M1 46h1M60 46h2"/>
<path stroke="#e1e1e1" d="M0 24h1M60 24h2M2 25h1M58 25h1M4 26h1M56 26h1M6 27h1M54 27h1M7 28h1M8 29h1M51 30h1M9 31h1M10 32h1M49 33h1M49 34h1M49 35h1M49 36h1M49 37h1M49 38h1M49 39h1M10 40h1M9 41h1M8 42h1M7 43h1M5 44h1M55 44h1M2 45h1M58 45h1M-2 46h3"/>
<path stroke="#e3e3e3" d="M-2 24h2M1 25h1M59 25h1M3 26h1M57 26h1M5 27h1M55 27h1M53 28h1M52 29h1M8 30h1M50 32h1M10 33h1M10 34h1M10 35h1M10 36h1M10 37h1M10 38h1M10 39h1M50 40h1M51 41h1M52 42h1M53 43h2M4 44h1M56 44h1M1 45h1M59 45h1"/>
<path stroke="#e5e5e5" d="M0 25h1M60 25h2M2 26h1M58 26h1M4 27h1M56 27h1M6 28h1M54 28h1M7 29h1M51 31h1M9 32h1M50 33h1M50 34h1M50 35h1M50 36h1M50 37h1M50 38h1M50 39h1M9 40h1M8 41h1M7 42h1M6 43h1M55 43h1M3 44h1M57 44h1M0 45h1M60 45h2"/>
<path stroke="#e7e7e7" d="M-2 25h2M1 26h1M59 26h1M3 27h1M57 27h1M5 28h1M55 28h1M53 29h1M52 30h1M8 31h1M51 32h1M9 33h1M9 34h1M9 35h1M9 36h1M9 37h1M9 38h1M9 39h1M52 41h1M53 42h1M5 43h1M56 43h1M2 44h1M58 44h1M-2 45h2"/>
<path stroke="#e9e9e9" d="M0 26h1M60 26h2M2 27h1M58 27h1M4 28h1M56 28h1M6 29h1M54 29h1M7 30h1M52 31h1M8 32h1M51 33h1M51 34h1M51 35h1M51 36h1M51 37h1M51 38h1M51 39h1M51 40h1M6 42h1M54 42h1M4 43h1M57 43h1M1 44h1M59 44h3"/>
<path stroke="#ebebeb" d="M-2 26h2M1 27h1M59 27h1M3 28h1M57 28h1M5 29h1M55 29h1M53 30h1M7 31h1M52 32h1M8 33h1M8 34h1M8 35h1M8 36h1M8 37h1M8 38h1M8 39h1M8 40h1M7 41h1M5 42h1M55 42h1M3 43h1M58 43h1M-2 44h3"/>
<path stroke="#ededed" d="M0 27h1M60 27h2M2 28h1M58 28h1M4 29h1M56 29h1M6 30h1M54 30h1M53 31h1M7 32h1M52 33h1M52 34h1M52 35h1M52 36h1M52 37h1M52 38h1M52 39h1M52 40h1M53 41h1M4 42h1M56 42h1M2 43h1M59 43h1"/>
<path stroke="#efefef" d="M-2 27h2M1 28h1M59 28h1M3 29h1M57 29h1M5 30h1M55 30h1M6 31h1M54 31h1M53 32h1M7 40h1M6 41h1M54 41h1M3 42h1M57 42h1M1 43h1M60 43h2"/>
<path stroke="#f1f1f1" d="M0 28h1M60 28h2M2 29h1M58 29h1M4 30h1M56 30h1M5 31h1M55 31h1M54 32h1M7 33h1M7 34h1M7 35h1M7 36h1M7 37h1M7 38h1M7 39h1M53 40h1M5 41h1M55 41h1M2 42h1M58 42h1M-2 43h3"/>
<path stroke="#f3f3f3" d="M-2 28h2M1 29h1M59 29h1M3 30h1M57 30h1M4 31h1M56 31h1M6 32h1M55 32h1M53 33h1M53 34h1M53 35h1M53 36h1M53 37h1M53 38h1M53 39h1M6 40h1M54 40h1M4 41h1M56 41h1M1 42h1M59 42h1"/>
<path stroke="#f5f5f5" d="M0 29h1M60 29h2M2 30h1M58 30h1M3 31h1M57 31h1M5 32h1M56 32h1M6 33h1M54 33h1M6 34h1M54 34h1M6 35h1M54 35h1M6 36h1M54 36h1M6 37h1M54 37h1M6 38h1M54 38h1M6 39h1M54 39h1M5 40h1M55 40h1M3 41h1M57 41h1M0 42h1M60 42h2"/>
<path stroke="#f7f7f7" d="M-2 29h2M1 30h1M59 30h3M2 31h1M58 31h1M4 32h1M5 33h1M55 33h1M5 34h1M55 34h1M5 35h1M55 35h1M5 36h1M55 36h1M5 37h1M55 37h1M5 38h1M55 38h1M5 39h1M55 39h1M4 40h1M56 40h1M2 41h1M58 41h1M-2 42h2"/>
<path stroke="#f9f9f9" d="M0 30h1M1 31h1M59 31h1M3 32h1M57 32h1M4 33h1M56 33h1M4 34h1M56 34h1M4 35h1M56 35h1M4 36h1M56 36h1M4 37h1M56 37h1M4 38h1M56 38h1M4 39h1M56 39h1M3 40h1M57 40h1M1 41h1M59 41h3"/>
<path stroke="#fbfbfb" d="M-2 30h2M0 31h1M60 31h2M2 32h1M58 32h1M3 33h1M57 33h1M3 34h1M57 34h1M3 35h1M57 35h1M3 36h1M57 36h1M3 37h1M57 37h1M3 38h1M57 38h1M3 39h1M57 39h1M58 40h1M0 41h1"/>
<path stroke="#fdfdfd" d="M-2 31h2M1 32h1M59 32h3M2 33h1M58 33h1M2 34h1M58 34h1M2 35h1M58 35h1M2 36h1M58 36h1M2 37h1M58 37h1M2 38h1M58 38h1M2 39h1M58 39h1M2 40h1M59 40h1M-2 41h2"/>
<path stroke="#ffffff" d="M-2 32h3M-2 33h4M59 33h3M-2 34h4M59 34h3M-2 35h4M59 35h3M-2 36h4M59 36h3M-2 37h4M59 37h3M-2 38h4M59 38h3M-2 39h4M59 39h3M-2 40h4M60 40h2"/>
</g></g></g>
<clipPath id="cpd"><rect x="883" y="1072" width="541" height="577"/></clipPath>
<filter id="jetd" filterUnits="userSpaceOnUse" x="853" y="1042" width="601" height="637" color-interpolation-filters="sRGB"><feGaussianBlur stdDeviation="5.0"/><feComponentTransfer><feFuncR type="table" tableValues="0.125 0.116 0.107 0.097 0.088 0.078 0.071 0.063 0.055 0.047 0.039 0.049 0.058 0.067 0.077 0.086 0.094 0.102 0.110 0.118 0.125 0.129 0.132 0.135 0.138 0.141 0.150 0.158 0.167 0.176 0.184 0.195 0.206 0.217 0.227 0.210 0.193 0.176 0.173 0.169 0.237 0.306 0.345 0.384 0.424 0.425 0.427 0.429 0.431 0.433 0.435 0.445 0.456 0.466 0.476 0.486 0.504 0.521 0.538 0.555 0.573 0.598 0.623 0.648 0.673 0.698 0.723 0.748 0.773 0.798 0.824 0.851 0.878 0.906 0.933 0.949 0.965 0.967 0.969 0.967 0.965 0.962 0.960 0.958 0.955 0.953 0.949 0.945 0.941 0.937 0.933 0.929 0.925 0.922 0.918 0.914 0.911 0.907 0.904 0.901 0.898 0.897 0.896 0.895 0.894 0.884 0.873 0.863 0.837 0.810 0.784 0.759 0.734 0.709 0.684 0.659 0.624 0.588 0.553 0.518 0.482"/><feFuncG type="table" tableValues="0.153 0.158 0.162 0.167 0.172 0.176 0.180 0.183 0.186 0.189 0.192 0.204 0.216 0.227 0.239 0.251 0.263 0.275 0.286 0.298 0.310 0.316 0.322 0.329 0.335 0.341 0.360 0.379 0.398 0.416 0.435 0.472 0.508 0.544 0.580 0.622 0.664 0.706 0.724 0.741 0.751 0.761 0.766 0.771 0.776 0.776 0.775 0.775 0.774 0.773 0.773 0.773 0.774 0.775 0.776 0.776 0.780 0.783 0.786 0.789 0.792 0.800 0.808 0.816 0.824 0.831 0.841 0.850 0.860 0.869 0.878 0.886 0.894 0.902 0.910 0.914 0.918 0.878 0.839 0.800 0.761 0.736 0.711 0.685 0.660 0.635 0.609 0.582 0.555 0.529 0.502 0.471 0.439 0.408 0.376 0.345 0.317 0.289 0.260 0.232 0.204 0.183 0.163 0.142 0.122 0.115 0.108 0.102 0.099 0.097 0.094 0.097 0.100 0.104 0.107 0.110 0.108 0.107 0.105 0.104 0.102"/><feFuncB type="table" tableValues="0.416 0.433 0.450 0.467 0.485 0.502 0.514 0.525 0.537 0.549 0.561 0.569 0.578 0.587 0.595 0.604 0.610 0.616 0.623 0.629 0.635 0.640 0.645 0.649 0.654 0.659 0.671 0.684 0.696 0.709 0.722 0.747 0.773 0.798 0.824 0.855 0.886 0.918 0.925 0.933 0.918 0.902 0.886 0.871 0.855 0.829 0.803 0.776 0.750 0.724 0.698 0.673 0.648 0.623 0.598 0.573 0.549 0.525 0.502 0.478 0.455 0.431 0.408 0.384 0.361 0.337 0.323 0.309 0.295 0.281 0.267 0.255 0.243 0.231 0.220 0.198 0.176 0.159 0.141 0.129 0.118 0.115 0.113 0.111 0.108 0.106 0.107 0.107 0.108 0.109 0.110 0.111 0.111 0.112 0.113 0.114 0.113 0.112 0.111 0.111 0.110 0.109 0.108 0.107 0.106 0.107 0.108 0.110 0.112 0.115 0.118 0.122 0.127 0.132 0.136 0.141 0.139 0.136 0.134 0.132 0.129"/><feFuncA type="linear" slope="0" intercept="1"/></feComponentTransfer></filter>
<rect x="882.2" y="1071.2" width="542.6" height="578.6" fill="none" stroke="#d4d0cc" stroke-width="1.6"/>
<g clip-path="url(#cpd)"><g filter="url(#jetd)"><g transform="translate(883.00 1076.51) scale(9.0167 9.0156)" stroke-width="1.08" fill="none">
<path stroke="#222222" d="M-2 -2h7M55 -2h7M-2 -1h7M55 -1h7M-2 0h6M56 0h6M-2 1h5M57 1h5M-2 2h3M59 2h3M-2 3h3M59 3h3M-2 4h2M60 4h2M-2 59h2M60 59h2M-2 60h3M59 60h3M-2 61h3M59 61h3M-2 62h5M57 62h5M-2 63h6M56 63h6M-2 64h7M55 64h7M-2 65h7M55 65h7"/>
<path stroke="#242424" d="M5 -2h1M54 -2h1M5 -1h1M54 -1h1M4 0h1M55 0h1M1 2h1M58 2h1M0 4h1M59 4h1M-2 5h2M60 5h2M-2 58h2M60 58h2M0 59h1M59 59h1M1 61h1M58 61h1M4 63h1M55 63h1M5 64h1M54 64h1M5 65h1M54 65h1"/>
<path stroke="#262626" d="M6 -2h1M53 -2h1M6 -1h1M53 -1h1M5 0h1M54 0h1M3 1h1M56 1h1M2 2h1M57 2h1M1 3h1M58 3h1M0 5h1M59 5h1M-2 6h2M60 6h2M-2 57h2M60 57h2M0 58h1M59 58h1M1 60h1M58 60h1M2 61h1M57 61h1M3 62h1M56 62h1M5 63h1M54 63h1M6 64h1M53 64h1M6 65h1M53 65h1"/>
<path stroke="#282828" d="M7 -2h2M51 -2h2M7 -1h2M51 -1h2M6 0h1M53 0h1M4 1h1M55 1h1M3 2h1M56 2h1M2 3h1M57 3h1M1 4h1M58 4h1M0 6h1M59 6h1M-2 7h2M60 7h2M-2 56h2M60 56h2M0 57h1M59 57h1M1 59h1M58 59h1M2 60h1M57 60h1M3 61h1M56 61h1M4 62h1M55 62h1M6 63h1M53 63h1M7 64h2M51 64h2M7 65h2M51 65h2"/>
<path stroke="#2a2a2a" d="M9 -2h1M50 -2h1M9 -1h1M50 -1h1M7 0h1M52 0h1M5 1h1M54 1h1M1 5h1M58 5h1M0 7h1M59 7h1M-2 8h2M60 8h2M-2 55h2M60 55h2M0 56h1M59 56h1M1 58h1M58 58h1M5 62h1M54 62h1M7 63h1M52 63h1M9 64h1M50 64h1M9 65h1M50 65h1"/>
<path stroke="#2c2c2c" d="M10 -2h1M49 -2h1M10 -1h1M49 -1h1M8 0h1M51 0h1M4 2h1M55 2h1M2 4h1M57 4h1M-2 9h2M60 9h2M-2 54h2M60 54h2M2 59h1M57 59h1M4 61h1M55 61h1M8 63h1M51 63h1M10 64h1M49 64h1M10 65h1M49 65h1"/>
<path stroke="#2e2e2e" d="M6 1h1M53 1h1M3 3h1M56 3h1M3 60h1M56 60h1M6 62h1M53 62h1"/>
<path stroke="#303030" d="M11 -2h1M48 -2h1M11 -1h1M48 -1h1M9 0h1M50 0h1M0 8h1M59 8h1M0 55h1M59 55h1M9 63h1M50 63h1M11 64h1M48 64h1M11 65h1M48 65h1"/>
<path stroke="#323232" d="M12 -2h1M47 -2h1M12 -1h1M47 -1h1M1 6h1M58 6h1M-2 10h2M60 10h2M-2 53h2M60 53h2M1 57h1M58 57h1M12 64h1M47 64h1M12 65h1M47 65h1"/>
<path stroke="#343434" d="M13 -2h1M46 -2h1M13 -1h1M46 -1h1M10 0h1M49 0h1M5 2h1M54 2h1M5 61h1M54 61h1M10 63h1M49 63h1M13 64h1M46 64h1M13 65h1M46 65h1"/>
<path stroke="#363636" d="M7 1h1M52 1h1M2 5h1M57 5h1M0 9h1M59 9h1M-2 11h2M60 11h2M-2 52h2M60 52h2M0 54h1M59 54h1M2 58h1M57 58h1M7 62h1M52 62h1"/>
<path stroke="#383838" d="M14 -2h2M44 -2h2M14 -1h2M44 -1h2M11 0h1M48 0h1M4 3h1M55 3h1M4 60h1M55 60h1M11 63h1M48 63h1M14 64h2M44 64h2M14 65h2M44 65h2"/>
<path stroke="#3a3a3a" d="M16 -2h1M43 -2h1M16 -1h1M43 -1h1M3 4h1M56 4h1M1 7h1M58 7h1M-2 12h2M60 12h2M-2 51h2M60 51h2M1 56h1M58 56h1M3 59h1M56 59h1M16 64h1M43 64h1M16 65h1M43 65h1"/>
<path stroke="#3c3c3c" d="M17 -2h4M39 -2h4M17 -1h4M39 -1h4M12 0h1M47 0h1M8 1h1M51 1h1M0 10h1M59 10h1M0 53h1M59 53h1M8 62h1M51 62h1M12 63h1M47 63h1M17 64h4M39 64h4M17 65h4M39 65h4"/>
<path stroke="#3e3e3e" d="M21 -2h18M21 -1h18M13 0h1M46 0h1M6 2h1M53 2h1M-2 13h2M60 13h2M-2 50h2M60 50h2M6 61h1M53 61h1M13 63h1M46 63h1M21 64h18M21 65h18"/>
<path stroke="#404040" d="M14 0h1M45 0h1M2 6h1M57 6h1M1 8h1M58 8h1M0 11h1M59 11h1M-2 14h2M60 14h2M-2 49h2M60 49h2M0 52h1M59 52h1M1 55h1M58 55h1M2 57h1M57 57h1M14 63h1M45 63h1"/>
<path stroke="#424242" d="M15 0h1M44 0h1M9 1h1M50 1h1M-2 15h2M60 15h2M-2 48h2M60 48h2M9 62h1M50 62h1M15 63h1M44 63h1"/>
<path stroke="#444444" d="M16 0h8M36 0h8M10 1h1M49 1h1M7 2h1M52 2h1M5 3h1M54 3h1M4 4h1M55 4h1M3 5h1M56 5h1M1 9h1M58 9h1M0 12h1M59 12h1M0 13h1M59 13h1M-2 16h2M60 16h2M-2 17h2M60 17h2M-2 18h2M60 18h2M-2 19h2M60 19h2M-2 44h2M60 44h2M-2 45h2M60 45h2M-2 46h2M60 46h2M-2 47h2M60 47h2M0 50h1M59 50h1M0 51h1M59 51h1M1 54h1M58 54h1M3 58h1M56 58h1M4 59h1M55 59h1M5 60h1M54 60h1M7 61h1M52 61h1M10 62h1M49 62h1M16 63h8M36 63h8"/>
<path stroke="#464646" d="M24 0h12M11 1h1M48 1h1M8 2h1M51 2h1M6 3h1M53 3h1M2 7h1M57 7h1M1 10h1M58 10h1M0 14h1M59 14h1M0 15h1M59 15h1M-2 20h2M60 20h2M-2 21h2M60 21h2M-2 22h2M60 22h2M-2 23h2M60 23h2M-2 24h2M60 24h2M-2 25h2M60 25h2M-2 26h2M60 26h2M-2 27h2M60 27h2M-2 28h2M60 28h2M-2 29h2M60 29h2M-2 30h2M60 30h2M-2 31h2M60 31h2M-2 32h2M60 32h2M-2 33h2M60 33h2M-2 34h2M60 34h2M-2 35h2M60 35h2M-2 36h2M60 36h2M-2 37h2M60 37h2M-2 38h2M60 38h2M-2 39h2M60 39h2M-2 40h2M60 40h2M-2 41h2M60 41h2M-2 42h2M60 42h2M-2 43h2M60 43h2M0 48h1M59 48h1M0 49h1M59 49h1M1 53h1M58 53h1M2 56h1M57 56h1M6 60h1M53 60h1M8 61h1M51 61h1M11 62h1M48 62h1M24 63h12"/>
<path stroke="#484848" d="M12 1h2M46 1h2M9 2h1M50 2h1M5 4h1M54 4h1M4 5h1M55 5h1M3 6h1M56 6h1M2 8h1M57 8h1M1 11h1M58 11h1M0 16h1M59 16h1M0 17h1M59 17h1M0 18h1M59 18h1M0 19h1M59 19h1M0 20h1M59 20h1M0 21h1M59 21h1M0 22h1M59 22h1M0 41h1M59 41h1M0 42h1M59 42h1M0 43h1M59 43h1M0 44h1M59 44h1M0 45h1M59 45h1M0 46h1M59 46h1M0 47h1M59 47h1M1 52h1M58 52h1M2 55h1M57 55h1M3 57h1M56 57h1M4 58h1M55 58h1M5 59h1M54 59h1M9 61h1M50 61h1M12 62h2M46 62h2"/>
<path stroke="#4a4a4a" d="M14 1h4M42 1h4M10 2h1M49 2h1M7 3h1M52 3h1M3 7h1M56 7h1M2 9h1M57 9h1M1 12h1M58 12h1M0 23h1M59 23h1M0 24h1M59 24h1M0 25h1M59 25h1M0 26h1M59 26h1M0 27h1M59 27h1M0 28h1M59 28h1M0 29h1M59 29h1M0 30h1M59 30h1M0 31h1M59 31h1M0 32h1M59 32h1M0 33h1M59 33h1M0 34h1M59 34h1M0 35h1M59 35h1M0 36h1M59 36h1M0 37h1M59 37h1M0 38h1M59 38h1M0 39h1M59 39h1M0 40h1M59 40h1M1 51h1M58 51h1M2 54h1M57 54h1M3 56h1M56 56h1M7 60h1M52 60h1M10 61h1M49 61h1M14 62h4M42 62h4"/>
<path stroke="#4c4c4c" d="M18 1h24M11 2h1M48 2h1M8 3h1M51 3h1M6 4h1M53 4h1M5 5h1M54 5h1M4 6h1M55 6h1M2 10h1M57 10h1M1 13h1M58 13h1M1 14h1M58 14h1M1 49h1M58 49h1M1 50h1M58 50h1M2 53h1M57 53h1M4 57h1M55 57h1M5 58h1M54 58h1M6 59h1M53 59h1M8 60h1M51 60h1M11 61h1M48 61h1M18 62h24"/>
<path stroke="#4e4e4e" d="M12 2h2M46 2h2M9 3h1M50 3h1M7 4h1M52 4h1M3 8h1M56 8h1M2 11h1M57 11h1M1 15h1M58 15h1M1 16h1M58 16h1M1 17h1M58 17h1M1 18h1M58 18h1M1 45h1M58 45h1M1 46h1M58 46h1M1 47h1M58 47h1M1 48h1M58 48h1M2 52h1M57 52h1M3 55h1M56 55h1M7 59h1M52 59h1M9 60h1M50 60h1M12 61h2M46 61h2"/>
<path stroke="#505050" d="M14 2h3M43 2h3M10 3h1M49 3h1M6 5h1M53 5h1M5 6h1M54 6h1M4 7h1M55 7h1M3 9h1M56 9h1M2 12h1M57 12h1M1 19h1M58 19h1M1 20h1M58 20h1M1 21h1M58 21h1M1 22h1M58 22h1M1 23h1M58 23h1M1 24h1M58 24h1M1 25h1M58 25h1M1 26h1M58 26h1M1 27h1M58 27h1M1 28h1M58 28h1M1 29h1M58 29h1M1 30h1M58 30h1M1 31h1M58 31h1M1 32h1M58 32h1M1 33h1M58 33h1M1 34h1M58 34h1M1 35h1M58 35h1M1 36h1M58 36h1M1 37h1M58 37h1M1 38h1M58 38h1M1 39h1M58 39h1M1 40h1M58 40h1M1 41h1M58 41h1M1 42h1M58 42h1M1 43h1M58 43h1M1 44h1M58 44h1M2 51h1M57 51h1M3 54h1M56 54h1M4 56h1M55 56h1M5 57h1M54 57h1M6 58h1M53 58h1M10 60h1M49 60h1M14 61h3M43 61h3"/>
<path stroke="#525252" d="M17 2h26M11 3h1M48 3h1M8 4h1M51 4h1M4 8h1M55 8h1M3 10h1M56 10h1M2 13h1M57 13h1M2 14h1M57 14h1M2 49h1M57 49h1M2 50h1M57 50h1M3 53h1M56 53h1M4 55h1M55 55h1M8 59h1M51 59h1M11 60h1M48 60h1M17 61h26"/>
<path stroke="#545454" d="M12 3h2M46 3h2M9 4h1M50 4h1M7 5h1M52 5h1M6 6h1M53 6h1M5 7h1M54 7h1M3 11h1M56 11h1M2 15h1M57 15h1M2 16h1M57 16h1M2 47h1M57 47h1M2 48h1M57 48h1M3 52h1M56 52h1M5 56h1M54 56h1M6 57h1M53 57h1M7 58h1M52 58h1M9 59h1M50 59h1M12 60h2M46 60h2"/>
<path stroke="#565656" d="M14 3h3M43 3h3M10 4h1M49 4h1M8 5h1M51 5h1M5 8h1M54 8h1M4 9h1M55 9h1M3 12h1M56 12h1M2 17h1M57 17h1M2 18h1M57 18h1M2 19h1M57 19h1M2 20h1M57 20h1M2 21h1M57 21h1M2 22h1M57 22h1M2 23h1M57 23h1M2 24h1M57 24h1M2 25h1M57 25h1M2 26h1M57 26h1M2 27h1M57 27h1M2 28h1M57 28h1M2 29h1M57 29h1M2 30h1M57 30h1M2 31h1M57 31h1M2 32h1M57 32h1M2 33h1M57 33h1M2 34h1M57 34h1M2 35h1M57 35h1M2 36h1M57 36h1M2 37h1M57 37h1M2 38h1M57 38h1M2 39h1M57 39h1M2 40h1M57 40h1M2 41h1M57 41h1M2 42h1M57 42h1M2 43h1M57 43h1M2 44h1M57 44h1M2 45h1M57 45h1M2 46h1M57 46h1M3 51h1M56 51h1M4 54h1M55 54h1M5 55h1M54 55h1M8 58h1M51 58h1M10 59h1M49 59h1M14 60h3M43 60h3"/>
<path stroke="#585858" d="M17 3h26M11 4h2M47 4h2M9 5h1M50 5h1M7 6h1M52 6h1M6 7h1M53 7h1M4 10h1M55 10h1M3 13h1M56 13h1M3 14h1M56 14h1M3 49h1M56 49h1M3 50h1M56 50h1M4 53h1M55 53h1M6 56h1M53 56h1M7 57h1M52 57h1M9 58h1M50 58h1M11 59h2M47 59h2M17 60h26"/>
<path stroke="#5a5a5a" d="M13 4h2M45 4h2M10 5h1M49 5h1M8 6h1M51 6h1M7 7h1M52 7h1M6 8h1M53 8h1M5 9h1M54 9h1M4 11h1M55 11h1M4 12h1M55 12h1M3 15h1M56 15h1M3 16h1M56 16h1M3 17h1M56 17h1M3 46h1M56 46h1M3 47h1M56 47h1M3 48h1M56 48h1M4 51h1M55 51h1M4 52h1M55 52h1M5 54h1M54 54h1M6 55h1M53 55h1M7 56h1M52 56h1M8 57h1M51 57h1M10 58h1M49 58h1M13 59h2M45 59h2"/>
<path stroke="#5c5c5c" d="M15 4h4M41 4h4M11 5h1M48 5h1M9 6h1M50 6h1M5 10h1M54 10h1M4 13h1M55 13h1M3 18h1M56 18h1M3 19h1M56 19h1M3 20h1M56 20h1M3 21h1M56 21h1M3 22h1M56 22h1M3 23h1M56 23h1M3 24h1M56 24h1M3 25h1M56 25h1M3 26h1M56 26h1M3 27h1M56 27h1M3 28h1M56 28h1M3 29h1M56 29h1M3 30h1M56 30h1M3 31h1M56 31h1M3 32h1M56 32h1M3 33h1M56 33h1M3 34h1M56 34h1M3 35h1M56 35h1M3 36h1M56 36h1M3 37h1M56 37h1M3 38h1M56 38h1M3 39h1M56 39h1M3 40h1M56 40h1M3 41h1M56 41h1M3 42h1M56 42h1M3 43h1M56 43h1M3 44h1M56 44h1M3 45h1M56 45h1M4 50h1M55 50h1M5 53h1M54 53h1M9 57h1M50 57h1M11 58h1M48 58h1M15 59h4M41 59h4"/>
<path stroke="#5e5e5e" d="M19 4h22M12 5h2M46 5h2M10 6h1M49 6h1M8 7h1M51 7h1M7 8h1M52 8h1M6 9h1M53 9h1M5 11h1M54 11h1M4 14h1M55 14h1M4 15h1M55 15h1M4 48h1M55 48h1M4 49h1M55 49h1M5 52h1M54 52h1M6 54h1M53 54h1M7 55h1M52 55h1M8 56h1M51 56h1M10 57h1M49 57h1M12 58h2M46 58h2M19 59h22"/>
<path stroke="#606060" d="M14 5h2M44 5h2M11 6h1M48 6h1M9 7h1M50 7h1M6 10h1M53 10h1M5 12h1M54 12h1M4 16h1M55 16h1M4 17h1M55 17h1M4 18h1M55 18h1M4 45h1M55 45h1M4 46h1M55 46h1M4 47h1M55 47h1M5 51h1M54 51h1M6 53h1M53 53h1M9 56h1M50 56h1M11 57h1M48 57h1M14 58h2M44 58h2"/>
<path stroke="#626262" d="M16 5h4M40 5h4M12 6h1M47 6h1M8 8h1M51 8h1M7 9h1M52 9h1M6 11h1M53 11h1M5 13h1M54 13h1M4 19h1M55 19h1M4 20h1M55 20h1M4 21h1M55 21h1M4 22h1M55 22h1M4 23h1M55 23h1M4 24h1M55 24h1M4 25h1M55 25h1M4 26h1M55 26h1M4 27h1M55 27h1M4 28h1M55 28h1M4 29h1M55 29h1M4 30h1M55 30h1M4 31h1M55 31h1M4 32h1M55 32h1M4 33h1M55 33h1M4 34h1M55 34h1M4 35h1M55 35h1M4 36h1M55 36h1M4 37h1M55 37h1M4 38h1M55 38h1M4 39h1M55 39h1M4 40h1M55 40h1M4 41h1M55 41h1M4 42h1M55 42h1M4 43h1M55 43h1M4 44h1M55 44h1M5 50h1M54 50h1M6 52h1M53 52h1M7 54h1M52 54h1M8 55h1M51 55h1M12 57h1M47 57h1M16 58h4M40 58h4"/>
<path stroke="#646464" d="M20 5h20M13 6h1M46 6h1M10 7h1M49 7h1M9 8h1M50 8h1M7 10h1M52 10h1M6 12h1M53 12h1M5 14h1M54 14h1M5 15h1M54 15h1M5 48h1M54 48h1M5 49h1M54 49h1M6 51h1M53 51h1M7 53h1M52 53h1M9 55h1M50 55h1M10 56h1M49 56h1M13 57h1M46 57h1M20 58h20"/>
<path stroke="#666666" d="M14 6h2M44 6h2M11 7h1M48 7h1M8 9h1M51 9h1M6 13h1M53 13h1M5 16h1M54 16h1M5 17h1M54 17h1M5 18h1M54 18h1M5 45h1M54 45h1M5 46h1M54 46h1M5 47h1M54 47h1M6 50h1M53 50h1M8 54h1M51 54h1M11 56h1M48 56h1M14 57h2M44 57h2"/>
<path stroke="#686868" d="M16 6h4M40 6h4M12 7h1M47 7h1M10 8h1M49 8h1M9 9h1M50 9h1M8 10h1M51 10h1M7 11h1M52 11h1M6 14h1M53 14h1M5 19h1M54 19h1M5 20h1M54 20h1M5 21h1M54 21h1M5 22h1M54 22h1M5 23h1M54 23h1M5 24h1M54 24h1M5 25h1M54 25h1M5 26h1M54 26h1M5 27h1M54 27h1M5 28h1M54 28h1M5 29h1M54 29h1M5 30h1M54 30h1M5 31h1M54 31h1M5 32h1M54 32h1M5 33h1M54 33h1M5 34h1M54 34h1M5 35h1M54 35h1M5 36h1M54 36h1M5 37h1M54 37h1M5 38h1M54 38h1M5 39h1M54 39h1M5 40h1M54 40h1M5 41h1M54 41h1M5 42h1M54 42h1M5 43h1M54 43h1M5 44h1M54 44h1M6 49h1M53 49h1M7 52h1M52 52h1M8 53h1M51 53h1M9 54h1M50 54h1M10 55h1M49 55h1M12 56h1M47 56h1M16 57h4M40 57h4"/>
<path stroke="#6a6a6a" d="M20 6h20M13 7h1M46 7h1M11 8h1M48 8h1M7 12h1M52 12h1M6 15h1M53 15h1M6 48h1M53 48h1M7 51h1M52 51h1M11 55h1M48 55h1M13 56h1M46 56h1M20 57h20"/>
<path stroke="#6c6c6c" d="M14 7h1M45 7h1M8 11h1M51 11h1M6 16h1M53 16h1M6 47h1M53 47h1M8 52h1M51 52h1M14 56h1M45 56h1"/>
<path stroke="#6e6e6e" d="M15 7h1M44 7h1M12 8h1M47 8h1M10 9h1M49 9h1M9 10h1M50 10h1M7 13h1M52 13h1M6 17h1M53 17h1M6 18h1M53 18h1M6 45h1M53 45h1M6 46h1M53 46h1M7 50h1M52 50h1M9 53h1M50 53h1M10 54h1M49 54h1M12 55h1M47 55h1M15 56h1M44 56h1"/>
<path stroke="#707070" d="M16 7h3M41 7h3M7 14h1M52 14h1M6 19h1M53 19h1M6 20h1M53 20h1M6 43h1M53 43h1M6 44h1M53 44h1M7 49h1M52 49h1M16 56h3M41 56h3"/>
<path stroke="#727272" d="M19 7h4M37 7h4M13 8h1M46 8h1M11 9h1M48 9h1M8 12h1M51 12h1M6 21h1M53 21h1M6 22h1M53 22h1M6 23h1M53 23h1M6 24h1M53 24h1M6 25h1M53 25h1M6 26h1M53 26h1M6 27h1M53 27h1M6 28h1M53 28h1M6 29h1M53 29h1M6 30h1M53 30h1M6 31h1M53 31h1M6 32h1M53 32h1M6 33h1M53 33h1M6 34h1M53 34h1M6 35h1M53 35h1M6 36h1M53 36h1M6 37h1M53 37h1M6 38h1M53 38h1M6 39h1M53 39h1M6 40h1M53 40h1M6 41h1M53 41h1M6 42h1M53 42h1M8 51h1M51 51h1M11 54h1M48 54h1M13 55h1M46 55h1M19 56h4M37 56h4"/>
<path stroke="#747474" d="M23 7h14M14 8h1M45 8h1M10 10h1M49 10h1M9 11h1M50 11h1M7 15h1M52 15h1M7 48h1M52 48h1M9 52h1M50 52h1M10 53h1M49 53h1M14 55h1M45 55h1M23 56h14"/>
<path stroke="#767676" d="M15 8h1M44 8h1M12 9h1M47 9h1M8 13h1M51 13h1M7 16h1M52 16h1M7 17h1M52 17h1M7 46h1M52 46h1M7 47h1M52 47h1M8 50h1M51 50h1M12 54h1M47 54h1M15 55h1M44 55h1"/>
<path stroke="#787878" d="M16 8h1M43 8h1M11 10h1M48 10h1M9 12h1M50 12h1M8 14h1M51 14h1M7 18h1M52 18h1M7 45h1M52 45h1M8 49h1M51 49h1M9 51h1M50 51h1M11 53h1M48 53h1M16 55h1M43 55h1"/>
<path stroke="#7a7a7a" d="M17 8h3M40 8h3M13 9h1M46 9h1M10 11h1M49 11h1M7 19h1M52 19h1M7 20h1M52 20h1M7 21h1M52 21h1M7 42h1M52 42h1M7 43h1M52 43h1M7 44h1M52 44h1M10 52h1M49 52h1M13 54h1M46 54h1M17 55h3M40 55h3"/>
<path stroke="#7c7c7c" d="M20 8h4M36 8h4M14 9h1M45 9h1M9 13h1M50 13h1M8 15h1M51 15h1M7 22h1M52 22h1M7 23h1M52 23h1M7 24h1M52 24h1M7 25h1M52 25h1M7 26h1M52 26h1M7 27h1M52 27h1M7 28h1M52 28h1M7 29h1M52 29h1M7 30h1M52 30h1M7 31h1M52 31h1M7 32h1M52 32h1M7 33h1M52 33h1M7 34h1M52 34h1M7 35h1M52 35h1M7 36h1M52 36h1M7 37h1M52 37h1M7 38h1M52 38h1M7 39h1M52 39h1M7 40h1M52 40h1M7 41h1M52 41h1M8 48h1M51 48h1M9 50h1M50 50h1M14 54h1M45 54h1M20 55h4M36 55h4"/>
<path stroke="#7e7e7e" d="M24 8h12M15 9h1M44 9h1M12 10h1M47 10h1M10 12h1M49 12h1M8 16h1M51 16h1M8 47h1M51 47h1M10 51h1M49 51h1M12 53h1M47 53h1M15 54h1M44 54h1M24 55h12"/>
<path stroke="#818181" d="M16 9h1M43 9h1M11 11h1M48 11h1M9 14h1M50 14h1M8 17h1M51 17h1M8 46h1M51 46h1M9 49h1M50 49h1M11 52h1M48 52h1M16 54h1M43 54h1"/>
<path stroke="#838383" d="M17 9h1M42 9h1M13 10h1M46 10h1M8 18h1M51 18h1M8 45h1M51 45h1M13 53h1M46 53h1M17 54h1M42 54h1"/>
<path stroke="#858585" d="M18 9h1M41 9h1M14 10h1M45 10h1M12 11h1M47 11h1M10 13h1M49 13h1M9 15h1M50 15h1M8 19h1M51 19h1M8 20h1M51 20h1M8 43h1M51 43h1M8 44h1M51 44h1M9 48h1M50 48h1M10 50h1M49 50h1M12 52h1M47 52h1M14 53h1M45 53h1M18 54h1M41 54h1"/>
<path stroke="#878787" d="M19 9h2M39 9h2M11 12h1M48 12h1M8 21h1M51 21h1M8 22h1M51 22h1M8 41h1M51 41h1M8 42h1M51 42h1M11 51h1M48 51h1M19 54h2M39 54h2"/>
<path stroke="#898989" d="M21 9h18M15 10h1M44 10h1M10 14h1M49 14h1M9 16h1M50 16h1M8 23h1M51 23h1M8 24h1M51 24h1M8 25h1M51 25h1M8 26h1M51 26h1M8 27h1M51 27h1M8 28h1M51 28h1M8 29h1M51 29h1M8 30h1M51 30h1M8 31h1M51 31h1M8 32h1M51 32h1M8 33h1M51 33h1M8 34h1M51 34h1M8 35h1M51 35h1M8 36h1M51 36h1M8 37h1M51 37h1M8 38h1M51 38h1M8 39h1M51 39h1M8 40h1M51 40h1M9 47h1M50 47h1M10 49h1M49 49h1M15 53h1M44 53h1M21 54h18"/>
<path stroke="#8b8b8b" d="M16 10h1M43 10h1M13 11h1M46 11h1M9 17h1M50 17h1M9 46h1M50 46h1M13 52h1M46 52h1M16 53h1M43 53h1"/>
<path stroke="#8d8d8d" d="M17 10h1M42 10h1M12 12h1M47 12h1M11 13h1M48 13h1M10 15h1M49 15h1M9 18h1M50 18h1M9 45h1M50 45h1M10 48h1M49 48h1M11 50h1M48 50h1M12 51h1M47 51h1M17 53h1M42 53h1"/>
<path stroke="#8f8f8f" d="M18 10h1M41 10h1M14 11h1M45 11h1M9 19h1M50 19h1M9 44h1M50 44h1M14 52h1M45 52h1M18 53h1M41 53h1"/>
<path stroke="#919191" d="M19 10h1M40 10h1M15 11h1M44 11h1M13 12h1M46 12h1M11 14h1M48 14h1M10 16h1M49 16h1M9 20h1M50 20h1M9 43h1M50 43h1M10 47h1M49 47h1M11 49h1M48 49h1M13 51h1M46 51h1M15 52h1M44 52h1M19 53h1M40 53h1"/>
<path stroke="#939393" d="M20 10h2M38 10h2M12 13h1M47 13h1M9 21h1M50 21h1M9 22h1M50 22h1M9 41h1M50 41h1M9 42h1M50 42h1M12 50h1M47 50h1M20 53h2M38 53h2"/>
<path stroke="#959595" d="M22 10h16M16 11h1M43 11h1M10 17h1M49 17h1M9 23h1M50 23h1M9 24h1M50 24h1M9 25h1M50 25h1M9 26h1M50 26h1M9 27h1M50 27h1M9 36h1M50 36h1M9 37h1M50 37h1M9 38h1M50 38h1M9 39h1M50 39h1M9 40h1M50 40h1M10 46h1M49 46h1M16 52h1M43 52h1M22 53h16"/>
<path stroke="#979797" d="M17 11h1M42 11h1M14 12h1M45 12h1M11 15h1M48 15h1M10 18h1M49 18h1M9 28h1M50 28h1M9 29h1M50 29h1M9 30h1M50 30h1M9 31h1M50 31h1M9 32h1M50 32h1M9 33h1M50 33h1M9 34h1M50 34h1M9 35h1M50 35h1M10 45h1M49 45h1M11 48h1M48 48h1M14 51h1M45 51h1M17 52h1M42 52h1"/>
<path stroke="#999999" d="M18 11h1M41 11h1M15 12h1M44 12h1M13 13h1M46 13h1M12 14h1M47 14h1M11 16h1M48 16h1M10 19h1M49 19h1M10 44h1M49 44h1M11 47h1M48 47h1M12 49h1M47 49h1M13 50h1M46 50h1M15 51h1M44 51h1M18 52h1M41 52h1"/>
<path stroke="#9b9b9b" d="M19 11h1M40 11h1M10 20h1M49 20h1M10 43h1M49 43h1M19 52h1M40 52h1"/>
<path stroke="#9d9d9d" d="M20 11h2M38 11h2M16 12h1M43 12h1M14 13h1M45 13h1M12 15h1M47 15h1M11 17h1M48 17h1M10 21h1M49 21h1M10 22h1M49 22h1M10 41h1M49 41h1M10 42h1M49 42h1M11 46h1M48 46h1M12 48h1M47 48h1M14 50h1M45 50h1M16 51h1M43 51h1M20 52h2M38 52h2"/>
<path stroke="#9f9f9f" d="M22 11h3M35 11h3M13 14h1M46 14h1M10 23h1M49 23h1M10 24h1M49 24h1M10 39h1M49 39h1M10 40h1M49 40h1M13 49h1M46 49h1M22 52h3M35 52h3"/>
<path stroke="#a1a1a1" d="M25 11h10M17 12h1M42 12h1M15 13h1M44 13h1M12 16h1M47 16h1M11 18h1M48 18h1M10 25h1M49 25h1M10 26h1M49 26h1M10 27h1M49 27h1M10 28h1M49 28h1M10 29h1M49 29h1M10 30h1M49 30h1M10 31h1M49 31h1M10 32h1M49 32h1M10 33h1M49 33h1M10 34h1M49 34h1M10 35h1M49 35h1M10 36h1M49 36h1M10 37h1M49 37h1M10 38h1M49 38h1M11 45h1M48 45h1M12 47h1M47 47h1M15 50h1M44 50h1M17 51h1M42 51h1M25 52h10"/>
<path stroke="#a3a3a3" d="M18 12h1M41 12h1M14 14h1M45 14h1M13 15h1M46 15h1M11 19h1M48 19h1M11 44h1M48 44h1M13 48h1M46 48h1M14 49h1M45 49h1M18 51h1M41 51h1"/>
<path stroke="#a5a5a5" d="M19 12h1M40 12h1M16 13h1M43 13h1M12 17h1M47 17h1M11 20h1M48 20h1M11 43h1M48 43h1M12 46h1M47 46h1M16 50h1M43 50h1M19 51h1M40 51h1"/>
<path stroke="#a7a7a7" d="M20 12h3M37 12h3M17 13h1M42 13h1M15 14h1M44 14h1M13 16h1M46 16h1M12 18h1M47 18h1M11 21h1M48 21h1M11 22h1M48 22h1M11 41h1M48 41h1M11 42h1M48 42h1M12 45h1M47 45h1M13 47h1M46 47h1M15 49h1M44 49h1M17 50h1M42 50h1M20 51h3M37 51h3"/>
<path stroke="#a9a9a9" d="M23 12h14M18 13h1M41 13h1M14 15h1M45 15h1M12 19h1M47 19h1M11 23h1M48 23h1M11 24h1M48 24h1M11 25h1M48 25h1M11 26h1M48 26h1M11 27h1M48 27h1M11 36h1M48 36h1M11 37h1M48 37h1M11 38h1M48 38h1M11 39h1M48 39h1M11 40h1M48 40h1M12 44h1M47 44h1M14 48h1M45 48h1M18 50h1M41 50h1M23 51h14"/>
<path stroke="#ababab" d="M19 13h1M40 13h1M16 14h1M43 14h1M15 15h1M44 15h1M14 16h1M45 16h1M13 17h1M46 17h1M12 20h1M47 20h1M11 28h1M48 28h1M11 29h1M48 29h1M11 30h1M48 30h1M11 31h1M48 31h1M11 32h1M48 32h1M11 33h1M48 33h1M11 34h1M48 34h1M11 35h1M48 35h1M12 43h1M47 43h1M13 46h1M46 46h1M14 47h1M45 47h1M15 48h1M44 48h1M16 49h1M43 49h1M19 50h1M40 50h1"/>
<path stroke="#adadad" d="M20 13h3M37 13h3M17 14h1M42 14h1M13 18h1M46 18h1M12 21h1M47 21h1M12 22h1M47 22h1M12 41h1M47 41h1M12 42h1M47 42h1M13 45h1M46 45h1M17 49h1M42 49h1M20 50h3M37 50h3"/>
<path stroke="#afafaf" d="M23 13h5M32 13h5M18 14h1M41 14h1M16 15h1M43 15h1M15 16h1M44 16h1M14 17h1M45 17h1M13 19h1M46 19h1M12 23h1M47 23h1M12 24h1M47 24h1M12 39h1M47 39h1M12 40h1M47 40h1M13 44h1M46 44h1M14 46h1M45 46h1M15 47h1M44 47h1M16 48h1M43 48h1M18 49h1M41 49h1M23 50h5M32 50h5"/>
<path stroke="#b1b1b1" d="M28 13h4M19 14h2M39 14h2M17 15h1M42 15h1M14 18h1M45 18h1M13 20h1M46 20h1M12 25h1M47 25h1M12 26h1M47 26h1M12 27h1M47 27h1M12 28h1M47 28h1M12 29h1M47 29h1M12 30h1M47 30h1M12 31h1M47 31h1M12 32h1M47 32h1M12 33h1M47 33h1M12 34h1M47 34h1M12 35h1M47 35h1M12 36h1M47 36h1M12 37h1M47 37h1M12 38h1M47 38h1M13 43h1M46 43h1M14 45h1M45 45h1M17 48h1M42 48h1M19 49h2M39 49h2M28 50h4"/>
<path stroke="#b3b3b3" d="M21 14h1M38 14h1M18 15h1M41 15h1M16 16h1M43 16h1M15 17h1M44 17h1M14 19h1M45 19h1M13 21h1M46 21h1M13 22h1M46 22h1M13 41h1M46 41h1M13 42h1M46 42h1M14 44h1M45 44h1M15 46h1M44 46h1M16 47h1M43 47h1M18 48h1M41 48h1M21 49h1M38 49h1"/>
<path stroke="#b5b5b5" d="M22 14h3M35 14h3M19 15h1M40 15h1M17 16h1M42 16h1M15 18h1M44 18h1M14 20h1M45 20h1M13 23h1M46 23h1M13 24h1M46 24h1M13 39h1M46 39h1M13 40h1M46 40h1M14 43h1M45 43h1M15 45h1M44 45h1M17 47h1M42 47h1M19 48h1M40 48h1M22 49h3M35 49h3"/>
<path stroke="#b7b7b7" d="M25 14h10M20 15h1M39 15h1M16 17h1M43 17h1M14 21h1M45 21h1M13 25h1M46 25h1M13 26h1M46 26h1M13 27h1M46 27h1M13 36h1M46 36h1M13 37h1M46 37h1M13 38h1M46 38h1M14 42h1M45 42h1M16 46h1M43 46h1M20 48h1M39 48h1M25 49h10"/>
<path stroke="#b9b9b9" d="M21 15h1M38 15h1M18 16h1M41 16h1M17 17h1M42 17h1M16 18h1M43 18h1M15 19h1M44 19h1M14 22h1M45 22h1M13 28h1M46 28h1M13 29h1M46 29h1M13 30h1M46 30h1M13 31h1M46 31h1M13 32h1M46 32h1M13 33h1M46 33h1M13 34h1M46 34h1M13 35h1M46 35h1M14 41h1M45 41h1M15 44h1M44 44h1M16 45h1M43 45h1M17 46h1M42 46h1M18 47h1M41 47h1M21 48h1M38 48h1"/>
<path stroke="#bbbbbb" d="M22 15h2M36 15h2M19 16h1M40 16h1M15 20h1M44 20h1M14 23h1M45 23h1M14 40h1M45 40h1M15 43h1M44 43h1M19 47h1M40 47h1M22 48h2M36 48h2"/>
<path stroke="#bdbdbd" d="M24 15h12M20 16h1M39 16h1M18 17h1M41 17h1M17 18h1M42 18h1M16 19h1M43 19h1M15 21h1M44 21h1M14 24h1M45 24h1M14 25h1M45 25h1M14 38h1M45 38h1M14 39h1M45 39h1M15 42h1M44 42h1M16 44h1M43 44h1M17 45h1M42 45h1M18 46h1M41 46h1M20 47h1M39 47h1M24 48h12"/>
<path stroke="#bfbfbf" d="M21 16h1M38 16h1M19 17h1M40 17h1M16 20h1M43 20h1M15 22h1M44 22h1M14 26h1M45 26h1M14 27h1M45 27h1M14 28h1M45 28h1M14 29h1M45 29h1M14 30h1M45 30h1M14 31h1M45 31h1M14 32h1M45 32h1M14 33h1M45 33h1M14 34h1M45 34h1M14 35h1M45 35h1M14 36h1M45 36h1M14 37h1M45 37h1M15 41h1M44 41h1M16 43h1M43 43h1M19 46h1M40 46h1M21 47h1M38 47h1"/>
<path stroke="#c1c1c1" d="M22 16h2M36 16h2M18 18h1M41 18h1M17 19h1M42 19h1M15 23h1M44 23h1M15 40h1M44 40h1M17 44h1M42 44h1M18 45h1M41 45h1M22 47h2M36 47h2"/>
<path stroke="#c3c3c3" d="M24 16h2M34 16h2M20 17h1M39 17h1M16 21h1M43 21h1M15 24h1M44 24h1M15 39h1M44 39h1M16 42h1M43 42h1M20 46h1M39 46h1M24 47h2M34 47h2"/>
<path stroke="#c5c5c5" d="M26 16h8M21 17h1M38 17h1M19 18h1M40 18h1M18 19h1M41 19h1M17 20h1M42 20h1M16 22h1M43 22h1M15 25h1M44 25h1M15 26h1M44 26h1M15 37h1M44 37h1M15 38h1M44 38h1M16 41h1M43 41h1M17 43h1M42 43h1M18 44h1M41 44h1M19 45h1M40 45h1M21 46h1M38 46h1M26 47h8"/>
<path stroke="#c7c7c7" d="M22 17h1M37 17h1M20 18h1M39 18h1M16 23h1M43 23h1M15 27h1M44 27h1M15 28h1M44 28h1M15 29h1M44 29h1M15 30h1M44 30h1M15 31h1M44 31h1M15 32h1M44 32h1M15 33h1M44 33h1M15 34h1M44 34h1M15 35h1M44 35h1M15 36h1M44 36h1M16 40h1M43 40h1M20 45h1M39 45h1M22 46h1M37 46h1"/>
<path stroke="#c9c9c9" d="M23 17h2M35 17h2M19 19h1M40 19h1M18 20h1M41 20h1M17 21h1M42 21h1M16 24h1M43 24h1M16 39h1M43 39h1M17 42h1M42 42h1M18 43h1M41 43h1M19 44h1M40 44h1M23 46h2M35 46h2"/>
<path stroke="#cbcbcb" d="M25 17h4M31 17h4M21 18h1M38 18h1M17 22h1M42 22h1M16 25h1M43 25h1M16 38h1M43 38h1M17 41h1M42 41h1M21 45h1M38 45h1M25 46h4M31 46h4"/>
<path stroke="#cdcdcd" d="M29 17h2M22 18h1M37 18h1M20 19h1M39 19h1M19 20h1M40 20h1M18 21h1M41 21h1M17 23h1M42 23h1M16 26h1M43 26h1M16 27h1M43 27h1M16 28h1M43 28h1M16 35h1M43 35h1M16 36h1M43 36h1M16 37h1M43 37h1M17 40h1M42 40h1M18 42h1M41 42h1M19 43h1M40 43h1M20 44h1M39 44h1M22 45h1M37 45h1M29 46h2"/>
<path stroke="#cfcfcf" d="M23 18h1M36 18h1M21 19h1M38 19h1M17 24h1M42 24h1M16 29h1M43 29h1M16 30h1M43 30h1M16 31h1M43 31h1M16 32h1M43 32h1M16 33h1M43 33h1M16 34h1M43 34h1M17 39h1M42 39h1M21 44h1M38 44h1M23 45h1M36 45h1"/>
<path stroke="#d1d1d1" d="M24 18h2M34 18h2M20 20h1M39 20h1M19 21h1M40 21h1M18 22h1M41 22h1M17 25h1M42 25h1M17 38h1M42 38h1M18 41h1M41 41h1M19 42h1M40 42h1M20 43h1M39 43h1M24 45h2M34 45h2"/>
<path stroke="#d3d3d3" d="M26 18h8M22 19h1M37 19h1M18 23h1M41 23h1M17 26h1M42 26h1M17 37h1M42 37h1M18 40h1M41 40h1M22 44h1M37 44h1M26 45h8"/>
<path stroke="#d5d5d5" d="M23 19h1M36 19h1M21 20h1M38 20h1M20 21h1M39 21h1M19 22h1M40 22h1M18 24h1M41 24h1M17 27h1M42 27h1M17 28h1M42 28h1M17 29h1M42 29h1M17 34h1M42 34h1M17 35h1M42 35h1M17 36h1M42 36h1M18 39h1M41 39h1M19 41h1M40 41h1M20 42h1M39 42h1M21 43h1M38 43h1M23 44h1M36 44h1"/>
<path stroke="#d7d7d7" d="M24 19h2M34 19h2M22 20h1M37 20h1M18 25h1M41 25h1M17 30h1M42 30h1M17 31h1M42 31h1M17 32h1M42 32h1M17 33h1M42 33h1M18 38h1M41 38h1M22 43h1M37 43h1M24 44h2M34 44h2"/>
<path stroke="#d9d9d9" d="M26 19h3M31 19h3M21 21h1M38 21h1M20 22h1M39 22h1M19 23h1M40 23h1M18 26h1M41 26h1M18 37h1M41 37h1M19 40h1M40 40h1M20 41h1M39 41h1M21 42h1M38 42h1M26 44h3M31 44h3"/>
<path stroke="#dbdbdb" d="M29 19h2M23 20h1M36 20h1M19 24h1M40 24h1M18 27h1M41 27h1M18 28h1M41 28h1M18 35h1M41 35h1M18 36h1M41 36h1M19 39h1M40 39h1M23 43h1M36 43h1M29 44h2"/>
<path stroke="#dddddd" d="M24 20h2M34 20h2M22 21h1M37 21h1M21 22h1M38 22h1M20 23h1M39 23h1M19 25h1M40 25h1M18 29h1M41 29h1M18 30h1M41 30h1M18 31h1M41 31h1M18 32h1M41 32h1M18 33h1M41 33h1M18 34h1M41 34h1M19 38h1M40 38h1M20 40h1M39 40h1M21 41h1M38 41h1M22 42h1M37 42h1M24 43h2M34 43h2"/>
<path stroke="#dfdfdf" d="M26 20h1M33 20h1M23 21h1M36 21h1M19 26h1M40 26h1M19 37h1M40 37h1M23 42h1M36 42h1M26 43h1M33 43h1"/>
<path stroke="#e1e1e1" d="M27 20h6M24 21h1M35 21h1M22 22h1M37 22h1M21 23h1M38 23h1M20 24h1M39 24h1M19 27h1M40 27h1M19 36h1M40 36h1M20 39h1M39 39h1M21 40h1M38 40h1M22 41h1M37 41h1M24 42h1M35 42h1M27 43h6"/>
<path stroke="#e3e3e3" d="M25 21h1M34 21h1M20 25h1M39 25h1M19 28h1M40 28h1M19 29h1M40 29h1M19 30h1M40 30h1M19 33h1M40 33h1M19 34h1M40 34h1M19 35h1M40 35h1M20 38h1M39 38h1M25 42h1M34 42h1"/>
<path stroke="#e5e5e5" d="M26 21h1M33 21h1M23 22h1M36 22h1M22 23h1M37 23h1M21 24h1M38 24h1M20 26h1M39 26h1M19 31h1M40 31h1M19 32h1M40 32h1M20 37h1M39 37h1M21 39h1M38 39h1M22 40h1M37 40h1M23 41h1M36 41h1M26 42h1M33 42h1"/>
<path stroke="#e7e7e7" d="M27 21h6M24 22h1M35 22h1M20 27h1M39 27h1M20 36h1M39 36h1M24 41h1M35 41h1M27 42h6"/>
<path stroke="#e9e9e9" d="M25 22h1M34 22h1M23 23h1M36 23h1M22 24h1M37 24h1M21 25h1M38 25h1M20 28h1M39 28h1M20 35h1M39 35h1M21 38h1M38 38h1M22 39h1M37 39h1M23 40h1M36 40h1M25 41h1M34 41h1"/>
<path stroke="#ebebeb" d="M26 22h1M33 22h1M21 26h1M38 26h1M20 29h1M39 29h1M20 30h1M39 30h1M20 31h1M39 31h1M20 32h1M39 32h1M20 33h1M39 33h1M20 34h1M39 34h1M21 37h1M38 37h1M26 41h1M33 41h1"/>
<path stroke="#ededed" d="M27 22h2M31 22h2M24 23h1M35 23h1M23 24h1M36 24h1M22 25h1M37 25h1M21 27h1M38 27h1M21 36h1M38 36h1M22 38h1M37 38h1M23 39h1M36 39h1M24 40h1M35 40h1M27 41h2M31 41h2"/>
<path stroke="#efefef" d="M29 22h2M25 23h1M34 23h1M22 26h1M37 26h1M21 28h1M38 28h1M21 29h1M38 29h1M21 34h1M38 34h1M21 35h1M38 35h1M22 37h1M37 37h1M25 40h1M34 40h1M29 41h2"/>
<path stroke="#f1f1f1" d="M26 23h2M32 23h2M24 24h1M35 24h1M23 25h1M36 25h1M22 27h1M37 27h1M21 30h1M38 30h1M21 31h1M38 31h1M21 32h1M38 32h1M21 33h1M38 33h1M22 36h1M37 36h1M23 38h1M36 38h1M24 39h1M35 39h1M26 40h2M32 40h2"/>
<path stroke="#f3f3f3" d="M28 23h4M25 24h1M34 24h1M24 25h1M35 25h1M23 26h1M36 26h1M22 28h1M37 28h1M22 35h1M37 35h1M23 37h1M36 37h1M24 38h1M35 38h1M25 39h1M34 39h1M28 40h4"/>
<path stroke="#f5f5f5" d="M26 24h2M32 24h2M23 27h1M36 27h1M22 29h1M37 29h1M22 30h1M37 30h1M22 31h1M37 31h1M22 32h1M37 32h1M22 33h1M37 33h1M22 34h1M37 34h1M23 36h1M36 36h1M26 39h2M32 39h2"/>
<path stroke="#f7f7f7" d="M28 24h4M25 25h1M34 25h1M24 26h1M35 26h1M23 28h1M36 28h1M23 35h1M36 35h1M24 37h1M35 37h1M25 38h1M34 38h1M28 39h4"/>
<path stroke="#f9f9f9" d="M26 25h2M32 25h2M25 26h1M34 26h1M24 27h1M35 27h1M23 29h1M36 29h1M23 30h1M36 30h1M23 31h1M36 31h1M23 32h1M36 32h1M23 33h1M36 33h1M23 34h1M36 34h1M24 36h1M35 36h1M25 37h1M34 37h1M26 38h2M32 38h2"/>
<path stroke="#fbfbfb" d="M28 25h4M26 26h1M33 26h1M25 27h1M34 27h1M24 28h1M35 28h1M24 29h1M35 29h1M24 34h1M35 34h1M24 35h1M35 35h1M25 36h1M34 36h1M26 37h1M33 37h1M28 38h4"/>
<path stroke="#fdfdfd" d="M27 26h6M26 27h1M33 27h1M25 28h1M34 28h1M24 30h1M35 30h1M24 31h1M35 31h1M24 32h1M35 32h1M24 33h1M35 33h1M25 35h1M34 35h1M26 36h1M33 36h1M27 37h6"/>
<path stroke="#ffffff" d="M27 27h6M26 28h8M25 29h10M25 30h10M25 31h10M25 32h10M25 33h10M25 34h10M26 35h8M27 36h6"/>
</g></g></g>
<linearGradient id="dl" x1="0" y1="0" x2="1" y2="0"><stop offset="0" stop-color="#c4d84a"/><stop offset="0.45" stop-color="#7cc8a0" stop-opacity="0.7"/><stop offset="1" stop-color="#4cc0e4" stop-opacity="0"/></linearGradient>
<rect x="883" y="1072" width="10" height="577" fill="url(#dl)"/>
<clipPath id="cpe"><rect x="1492.4" y="1081" width="530.5999999999999" height="573"/></clipPath>
<filter id="jete" filterUnits="userSpaceOnUse" x="1462.4" y="1051" width="590.5999999999999" height="633" color-interpolation-filters="sRGB"><feGaussianBlur stdDeviation="4.9"/><feComponentTransfer><feFuncR type="table" tableValues="0.125 0.116 0.107 0.097 0.088 0.078 0.071 0.063 0.055 0.047 0.039 0.049 0.058 0.067 0.077 0.086 0.094 0.102 0.110 0.118 0.125 0.129 0.132 0.135 0.138 0.141 0.150 0.158 0.167 0.176 0.184 0.195 0.206 0.217 0.227 0.210 0.193 0.176 0.173 0.169 0.237 0.306 0.345 0.384 0.424 0.425 0.427 0.429 0.431 0.433 0.435 0.445 0.456 0.466 0.476 0.486 0.504 0.521 0.538 0.555 0.573 0.598 0.623 0.648 0.673 0.698 0.723 0.748 0.773 0.798 0.824 0.851 0.878 0.906 0.933 0.949 0.965 0.967 0.969 0.967 0.965 0.962 0.960 0.958 0.955 0.953 0.949 0.945 0.941 0.937 0.933 0.929 0.925 0.922 0.918 0.914 0.911 0.907 0.904 0.901 0.898 0.897 0.896 0.895 0.894 0.884 0.873 0.863 0.837 0.810 0.784 0.759 0.734 0.709 0.684 0.659 0.624 0.588 0.553 0.518 0.482"/><feFuncG type="table" tableValues="0.153 0.158 0.162 0.167 0.172 0.176 0.180 0.183 0.186 0.189 0.192 0.204 0.216 0.227 0.239 0.251 0.263 0.275 0.286 0.298 0.310 0.316 0.322 0.329 0.335 0.341 0.360 0.379 0.398 0.416 0.435 0.472 0.508 0.544 0.580 0.622 0.664 0.706 0.724 0.741 0.751 0.761 0.766 0.771 0.776 0.776 0.775 0.775 0.774 0.773 0.773 0.773 0.774 0.775 0.776 0.776 0.780 0.783 0.786 0.789 0.792 0.800 0.808 0.816 0.824 0.831 0.841 0.850 0.860 0.869 0.878 0.886 0.894 0.902 0.910 0.914 0.918 0.878 0.839 0.800 0.761 0.736 0.711 0.685 0.660 0.635 0.609 0.582 0.555 0.529 0.502 0.471 0.439 0.408 0.376 0.345 0.317 0.289 0.260 0.232 0.204 0.183 0.163 0.142 0.122 0.115 0.108 0.102 0.099 0.097 0.094 0.097 0.100 0.104 0.107 0.110 0.108 0.107 0.105 0.104 0.102"/><feFuncB type="table" tableValues="0.416 0.433 0.450 0.467 0.485 0.502 0.514 0.525 0.537 0.549 0.561 0.569 0.578 0.587 0.595 0.604 0.610 0.616 0.623 0.629 0.635 0.640 0.645 0.649 0.654 0.659 0.671 0.684 0.696 0.709 0.722 0.747 0.773 0.798 0.824 0.855 0.886 0.918 0.925 0.933 0.918 0.902 0.886 0.871 0.855 0.829 0.803 0.776 0.750 0.724 0.698 0.673 0.648 0.623 0.598 0.573 0.549 0.525 0.502 0.478 0.455 0.431 0.408 0.384 0.361 0.337 0.323 0.309 0.295 0.281 0.267 0.255 0.243 0.231 0.220 0.198 0.176 0.159 0.141 0.129 0.118 0.115 0.113 0.111 0.108 0.106 0.107 0.107 0.108 0.109 0.110 0.111 0.111 0.112 0.113 0.114 0.113 0.112 0.111 0.111 0.110 0.109 0.108 0.107 0.106 0.107 0.108 0.110 0.112 0.115 0.118 0.122 0.127 0.132 0.136 0.141 0.139 0.136 0.134 0.132 0.129"/><feFuncA type="linear" slope="0" intercept="1"/></feComponentTransfer></filter>
<rect x="1491.6" y="1080.2" width="532.2" height="574.6" fill="none" stroke="#d4d0cc" stroke-width="1.6"/>
<g clip-path="url(#cpe)"><g filter="url(#jete)"><g transform="translate(1492.40 1085.41) scale(8.8433 8.8154)" stroke-width="1.08" fill="none">
<path stroke="#060606" d="M31 39h1M31 40h1"/>
<path stroke="#0a0a0a" d="M59 -2h3M59 -1h3M60 0h2"/>
<path stroke="#0c0c0c" d="M58 -2h1M58 -1h1M58 0h2M60 1h2M30 39h1M30 40h1"/>
<path stroke="#0e0e0e" d="M57 -2h1M57 -1h1M59 1h1"/>
<path stroke="#101010" d="M57 0h1M58 1h1M59 2h3M31 41h1"/>
<path stroke="#121212" d="M56 -2h1M56 -1h1M56 0h1M57 1h1M31 38h1M30 41h1"/>
<path stroke="#141414" d="M55 -2h1M55 -1h1M58 2h1M59 3h3M30 38h1M32 39h1M32 40h1"/>
<path stroke="#161616" d="M55 0h1M56 1h1M57 2h1"/>
<path stroke="#181818" d="M-2 -2h2M54 -2h1M-2 -1h2M54 -1h1M58 3h1M59 4h3M32 41h1"/>
<path stroke="#1a1a1a" d="M0 -2h1M0 -1h1M-2 0h2M54 0h1M55 1h1M56 2h1M57 3h1M32 38h1"/>
<path stroke="#1c1c1c" d="M53 -2h1M53 -1h1M0 0h1M58 4h1M31 37h1M29 39h1M29 40h1M30 42h2"/>
<path stroke="#1e1e1e" d="M1 -2h1M1 -1h1M1 0h1M53 0h1M-2 1h2M54 1h1M55 2h1M56 3h1M60 5h2M30 37h1"/>
<path stroke="#202020" d="M2 -2h1M2 -1h1M0 1h1M57 4h1M59 5h1M29 38h1M29 41h1M32 42h1"/>
<path stroke="#222222" d="M52 -2h1M52 -1h1M2 0h1M1 1h1M-2 2h3M54 2h1M32 37h1"/>
<path stroke="#242424" d="M3 -2h1M3 -1h1M3 0h1M52 0h1M53 1h1M-2 3h2M55 3h1M56 4h1M58 5h1M60 6h2M33 39h1M33 40h1M29 42h1"/>
<path stroke="#262626" d="M4 -2h1M4 -1h1M2 1h1M1 2h1M0 3h1M59 6h1M29 37h1M33 38h1M33 41h1M31 43h1"/>
<path stroke="#282828" d="M51 -2h1M51 -1h1M53 2h1M54 3h1M57 5h1M30 36h2M30 43h1"/>
<path stroke="#2a2a2a" d="M4 0h1M51 0h1M52 1h1M-2 4h2M55 4h1M58 6h1M32 36h1M33 42h1M32 43h1"/>
<path stroke="#2c2c2c" d="M5 -2h1M5 -1h1M3 1h1M2 2h1M1 3h1M0 4h1M56 5h1M60 7h2M33 37h1M28 39h1M28 40h1M29 43h1"/>
<path stroke="#2e2e2e" d="M52 2h1M53 3h1M54 4h1M57 6h1M59 7h1M29 36h1M28 38h1M28 41h1"/>
<path stroke="#303030" d="M50 -2h1M50 -1h1M5 0h1M51 1h1M-2 5h2M55 5h1M28 42h1M33 43h1M31 44h1"/>
<path stroke="#323232" d="M50 0h1M4 1h1M56 6h1M58 7h1M31 35h1M33 36h1M28 37h1M30 44h1M32 44h1"/>
<path stroke="#343434" d="M6 -2h1M6 -1h1M3 2h1M51 2h1M2 3h1M52 3h1M1 4h1M53 4h1M0 5h1M54 5h1M30 35h1M32 35h1M34 39h1M34 40h1M29 44h1"/>
<path stroke="#363636" d="M49 -2h1M49 -1h1M50 1h1M55 6h1M57 7h1M60 8h2M29 35h1M28 36h1M34 38h1M34 41h1M28 43h1M-2 65h12M53 65h9M-2 66h12M53 66h9"/>
<path stroke="#383838" d="M6 0h1M49 0h1M5 1h1M-2 6h2M59 8h1M34 37h1M34 42h1M33 44h1M-2 64h11M54 64h8M52 65h1M52 66h1"/>
<path stroke="#3a3a3a" d="M7 -2h1M7 -1h1M4 2h1M50 2h1M3 3h1M51 3h1M52 4h1M53 5h1M56 7h1M33 35h1M31 45h1M9 64h1M53 64h1"/>
<path stroke="#3c3c3c" d="M48 -2h1M48 -1h1M49 1h1M2 4h1M1 5h1M0 6h1M54 6h1M58 8h1M34 36h1M27 38h1M27 39h1M27 40h1M27 41h1M34 43h1M28 44h1M30 45h1M32 45h1M52 64h1"/>
<path stroke="#3e3e3e" d="M7 0h1M48 0h1M-2 7h2M60 9h2M30 34h3M28 35h1M27 37h1M27 42h1M29 45h1M10 65h1M10 66h1"/>
<path stroke="#404040" d="M8 -2h1M8 -1h1M6 1h1M5 2h1M50 3h1M51 4h1M52 5h1M55 7h1M57 8h1M59 9h1M29 34h1M33 45h1M10 64h1"/>
<path stroke="#424242" d="M49 2h1M4 3h1M3 4h1M2 5h1M1 6h1M53 6h1M0 7h1M27 36h1M27 43h1M34 44h1M51 65h1M51 66h1"/>
<path stroke="#444444" d="M47 -2h1M47 -1h1M8 0h1M48 1h1M56 8h1M33 34h1M34 35h1M35 38h1M35 39h1M35 40h1M35 41h1M28 45h1"/>
<path stroke="#464646" d="M9 -2h1M9 -1h1M47 0h1M7 1h1M54 7h1M-2 8h2M58 9h1M28 34h1M35 37h1M35 42h1M30 46h3M51 64h1"/>
<path stroke="#484848" d="M6 2h1M5 3h1M49 3h1M50 4h1M51 5h1M0 8h1M60 10h2M30 33h2M27 35h1M35 43h1M27 44h1M34 45h1M29 46h1"/>
<path stroke="#4a4a4a" d="M46 -2h1M46 -1h1M9 0h1M48 2h1M4 4h1M3 5h1M2 6h1M52 6h1M1 7h1M55 8h1M57 9h1M29 33h1M32 33h1M34 34h1M35 36h1M26 39h1M26 40h1M33 46h1"/>
<path stroke="#4c4c4c" d="M10 -2h1M10 -1h1M8 1h1M47 1h1M53 7h1M-2 9h2M59 10h1M33 33h1M26 37h1M26 38h1M26 41h1M26 42h1M28 46h1M11 65h1M11 66h1"/>
<path stroke="#4e4e4e" d="M46 0h1M7 2h1M56 9h1M28 33h1M27 34h1M35 35h1M26 43h1M35 44h1M27 45h1M31 47h1M-2 63h12M53 63h9M11 64h1"/>
<path stroke="#505050" d="M11 -2h1M45 -2h1M11 -1h1M45 -1h1M10 0h1M6 3h1M48 3h1M5 4h1M49 4h1M4 5h1M50 5h1M3 6h1M51 6h1M2 7h1M1 8h1M54 8h1M0 9h1M58 10h1M26 36h1M34 46h1M29 47h2M32 47h1M52 63h1"/>
<path stroke="#525252" d="M9 1h1M46 1h1M47 2h1M52 7h1M-2 10h2M29 32h4M34 33h1M35 34h1M26 35h1M36 38h1M36 39h1M36 40h1M36 41h1M36 42h1M26 44h1M35 45h1M27 46h1M33 47h1M10 63h1M50 65h1M50 66h1"/>
<path stroke="#545454" d="M11 0h1M45 0h1M8 2h1M55 9h1M57 10h1M60 11h2M33 32h1M27 33h1M36 37h1M36 43h1M28 47h1"/>
<path stroke="#565656" d="M12 -2h1M44 -2h1M12 -1h1M44 -1h1M7 3h1M6 4h1M5 5h1M53 8h1M0 10h1M59 11h1M28 32h1M36 36h1M26 45h1M51 63h1M50 64h1"/>
<path stroke="#585858" d="M13 -2h1M13 -1h1M12 0h1M44 0h1M10 1h1M9 2h1M47 3h1M48 4h1M49 5h1M4 6h1M50 6h1M3 7h1M2 8h1M1 9h1M-2 11h2M26 34h1M25 38h1M25 39h1M25 40h1M25 41h1M36 44h1M35 46h1M34 47h1M30 48h3"/>
<path stroke="#5a5a5a" d="M43 -2h1M43 -1h1M45 1h1M46 2h1M8 3h1M51 7h1M54 9h1M56 10h1M58 11h1M34 32h1M35 33h1M36 35h1M25 37h1M25 42h1M27 47h1M29 48h1"/>
<path stroke="#5c5c5c" d="M14 -2h1M14 -1h1M13 0h1M11 1h1M7 4h1M6 5h1M5 6h1M4 7h1M3 8h1M52 8h1M2 9h1M1 10h1M0 11h1M60 12h2M30 31h3M25 36h1M25 43h1M33 48h1M12 65h1M12 66h1"/>
<path stroke="#5e5e5e" d="M43 0h1M12 1h1M44 1h1M10 2h1M9 3h1M48 5h1M55 10h1M-2 12h2M59 12h1M29 31h1M27 32h1M26 33h1M36 34h1M36 45h1M26 46h1M28 48h1M11 63h1"/>
<path stroke="#606060" d="M15 -2h1M42 -2h1M15 -1h1M42 -1h1M14 0h1M45 2h1M46 3h1M8 4h1M47 4h1M7 5h1M49 6h1M50 7h1M53 9h1M57 11h1M33 31h1M25 35h1M25 44h1M35 47h1M34 48h1M12 64h1"/>
<path stroke="#626262" d="M16 -2h1M16 -1h1M15 0h1M42 0h1M13 1h1M11 2h1M6 6h1M5 7h1M4 8h1M3 9h1M2 10h1M1 11h1M0 12h1M28 31h1M35 32h1M37 37h1M37 38h1M37 39h1M37 40h1M37 41h1M37 42h1"/>
<path stroke="#646464" d="M41 -2h1M41 -1h1M43 1h1M44 2h1M10 3h1M9 4h1M51 8h1M54 10h1M56 11h1M58 12h1M-2 13h2M60 13h2M34 31h1M37 36h1M37 43h1M25 45h1M36 46h1M26 47h1M27 48h1M29 49h4M49 65h1M49 66h1"/>
<path stroke="#666666" d="M17 -2h1M17 -1h1M16 0h1M14 1h1M12 2h1M45 3h1M46 4h1M8 5h1M47 5h1M7 6h1M6 7h1M52 9h1M26 32h1M36 33h1M25 34h1M33 49h1M50 63h1"/>
<path stroke="#686868" d="M18 -2h1M40 -2h1M18 -1h1M40 -1h1M17 0h1M41 0h1M13 2h1M11 3h1M10 4h1M48 6h1M5 8h1M4 9h1M3 10h1M2 11h1M55 11h1M1 12h1M57 12h1M0 13h1M59 13h1M30 30h3M27 31h1M37 35h1M37 44h1M35 48h1M28 49h1M49 64h1"/>
<path stroke="#6a6a6a" d="M19 -2h1M19 -1h1M15 1h1M42 1h1M43 2h1M44 3h1M9 5h1M49 7h1M53 10h1M-2 14h2M29 30h1M33 30h1M24 37h1M24 38h1M24 39h1M24 40h1M24 41h1M24 42h1M25 46h1M36 47h1M34 49h1"/>
<path stroke="#6c6c6c" d="M20 -2h1M39 -2h1M20 -1h1M39 -1h1M18 0h1M40 0h1M16 1h1M14 2h1M12 3h1M45 4h1M46 5h1M8 6h1M7 7h1M6 8h1M50 8h1M5 9h1M51 9h1M54 11h1M56 12h1M58 13h1M28 30h1M35 31h1M36 32h1M25 33h1M37 34h1M24 36h1M24 43h1M37 45h1M26 48h1"/>
<path stroke="#6e6e6e" d="M21 -2h1M38 -2h1M21 -1h1M38 -1h1M19 0h1M41 1h1M11 4h1M10 5h1M47 6h1M4 10h1M3 11h1M2 12h1M1 13h1M0 14h1M60 14h2M34 30h1M24 44h1M27 49h1M30 50h3M12 63h1M13 65h1M13 66h1"/>
<path stroke="#707070" d="M22 -2h1M37 -2h1M22 -1h1M37 -1h1M20 0h1M39 0h1M17 1h1M15 2h1M42 2h1M13 3h1M43 3h1M9 6h1M8 7h1M48 7h1M52 10h1M55 12h1M59 14h1M-2 15h2M26 31h1M24 35h1M37 46h1M25 47h1M35 49h1M29 50h1M33 50h1M-2 62h11M54 62h8"/>
<path stroke="#727272" d="M23 -2h2M36 -2h1M23 -1h2M36 -1h1M21 0h1M38 0h1M18 1h1M40 1h1M14 3h1M12 4h1M44 4h1M45 5h1M7 8h1M49 8h1M6 9h1M5 10h1M53 11h1M57 13h1M30 29h2M27 30h1M25 32h1M37 33h1M24 34h1M38 37h1M38 38h1M38 39h1M38 40h1M38 41h1M38 42h1M24 45h1M36 48h1M28 50h1M9 62h1M52 62h2M13 64h1"/>
<path stroke="#747474" d="M25 -2h2M35 -2h1M25 -1h2M35 -1h1M22 0h1M37 0h1M19 1h1M16 2h1M41 2h1M11 5h1M10 6h1M46 6h1M50 9h1M4 11h1M3 12h1M2 13h1M1 14h1M0 15h1M29 29h1M32 29h1M35 30h1M36 31h1M38 36h1M38 43h1M26 49h1M34 50h1M10 62h1M49 63h1"/>
<path stroke="#767676" d="M27 -2h8M27 -1h8M23 0h2M36 0h1M20 1h1M39 1h1M17 2h1M15 3h1M42 3h1M13 4h1M9 7h1M47 7h1M8 8h1M7 9h1M51 10h1M54 12h1M56 13h1M58 14h1M-2 16h2M28 29h1M33 29h1M38 35h1M38 44h1M24 46h1M37 47h1M25 48h1M27 50h1M48 65h1M48 66h1"/>
<path stroke="#787878" d="M25 0h3M35 0h1M21 1h1M38 1h1M18 2h1M40 2h1M14 4h1M43 4h1M12 5h1M11 6h1M48 8h1M6 10h1M5 11h1M52 11h1M60 15h2M34 29h1M26 30h1M25 31h1M37 32h1M24 33h1M23 39h1M23 40h1M36 49h1M30 51h2M51 62h1"/>
<path stroke="#7a7a7a" d="M28 0h7M22 1h1M37 1h1M19 2h1M16 3h1M13 5h1M44 5h1M45 6h1M10 7h1M9 8h1M8 9h1M49 9h1M4 12h1M3 13h1M55 13h1M2 14h1M57 14h1M1 15h1M0 16h1M27 29h1M38 34h1M23 37h1M23 38h1M23 41h1M23 42h1M38 45h1M35 50h1M29 51h1M32 51h2M48 64h1"/>
<path stroke="#7c7c7c" d="M23 1h2M36 1h1M20 2h1M39 2h1M17 3h1M41 3h1M15 4h1M12 6h1M46 7h1M7 10h1M50 10h1M6 11h1M53 12h1M59 15h1M-2 17h2M36 30h1M24 32h1M23 36h1M23 43h1M24 47h1M37 48h1M28 51h1M13 63h1"/>
<path stroke="#7e7e7e" d="M25 1h2M35 1h1M21 2h1M38 2h1M18 3h1M16 4h1M42 4h1M14 5h1M11 7h1M10 8h1M47 8h1M51 11h1M5 12h1M29 28h4M35 29h1M37 31h1M38 33h1M23 35h1M23 44h1M38 46h1M25 49h1M26 50h1M34 51h1M11 62h1"/>
<path stroke="#818181" d="M27 1h8M22 2h1M37 2h1M19 3h1M40 3h1M43 5h1M13 6h1M44 6h1M9 9h1M48 9h1M8 10h1M7 11h1M52 12h1M4 13h1M54 13h1M3 14h1M56 14h1M58 15h1M0 17h1M33 28h1M26 29h1M25 30h1M23 34h1M39 39h1M39 40h1M23 45h1M27 51h1M14 65h1M14 66h1"/>
<path stroke="#838383" d="M23 2h1M17 4h1M41 4h1M15 5h1M12 7h1M45 7h1M49 10h1M6 12h1M2 15h1M1 16h1M60 16h2M-2 18h2M28 28h1M39 37h1M39 38h1M39 41h1M39 42h1M38 47h1M24 48h1M37 49h1M36 50h1M48 63h1M14 64h1"/>
<path stroke="#858585" d="M24 2h2M36 2h1M20 3h1M39 3h1M14 6h1M11 8h1M46 8h1M10 9h1M9 10h1M50 11h1M5 13h1M55 14h1M59 16h1M34 28h1M36 29h1M24 31h1M38 32h1M39 36h1M39 43h1M23 46h1M35 51h1M29 52h4M50 62h1"/>
<path stroke="#878787" d="M26 2h2M34 2h2M21 3h1M38 3h1M18 4h1M16 5h1M42 5h1M13 7h1M47 9h1M8 11h1M7 12h1M51 12h1M53 13h1M4 14h1M3 15h1M57 15h1M0 18h1M27 28h1M37 30h1M23 33h1M39 35h1M39 44h1M25 50h1M26 51h1M33 52h1M47 65h1M47 66h1"/>
<path stroke="#898989" d="M28 2h6M22 3h1M37 3h1M19 4h1M40 4h1M17 5h1M15 6h1M43 6h1M44 7h1M12 8h1M48 10h1M6 13h1M2 16h1M1 17h1M35 28h1M39 45h1M23 47h1M38 48h1M24 49h1M28 52h1M34 52h1M12 62h1M47 64h1"/>
<path stroke="#8b8b8b" d="M23 3h2M36 3h1M20 4h1M39 4h1M14 7h1M45 8h1M11 9h1M10 10h1M9 11h1M49 11h1M52 13h1M5 14h1M54 14h1M56 15h1M58 16h1M60 17h2M-2 19h2M29 27h4M25 29h1M24 30h1M38 31h1M23 32h1M39 34h1M22 37h1M22 38h1M22 39h1M22 40h1M22 41h1M22 42h1M37 50h1M36 51h1M27 52h1M14 63h1"/>
<path stroke="#8d8d8d" d="M25 3h1M35 3h1M21 4h1M18 5h1M41 5h1M16 6h1M13 8h1M46 9h1M8 12h1M50 12h1M4 15h1M59 17h1M28 27h1M33 27h1M26 28h1M39 33h1M22 36h1M22 43h1M39 46h1M49 62h1"/>
<path stroke="#8f8f8f" d="M26 3h4M33 3h2M22 4h1M38 4h1M19 5h1M40 5h1M42 6h1M15 7h1M43 7h1M12 9h1M11 10h1M47 10h1M7 13h1M3 16h1M57 16h1M2 17h1M1 18h1M0 19h1M34 27h1M36 28h1M37 29h1M22 35h1M22 44h1M23 48h1M38 49h1M25 51h1M35 52h1M-2 61h11M53 61h9M47 63h1M15 65h1M15 66h1"/>
<path stroke="#919191" d="M30 3h3M23 4h1M37 4h1M17 6h1M14 8h1M44 8h1M10 11h1M48 11h1M9 12h1M51 13h1M6 14h1M53 14h1M55 15h1M-2 20h2M27 27h1M38 30h1M23 31h1M22 34h1M22 45h1M39 47h1M24 50h1M26 52h1M29 53h4M9 61h1M52 61h1M13 62h1M15 64h1"/>
<path stroke="#939393" d="M24 4h1M36 4h1M20 5h1M39 5h1M18 6h1M41 6h1M16 7h1M13 9h1M45 9h1M49 12h1M8 13h1M5 15h1M4 16h1M58 17h1M60 18h2M35 27h1M25 28h1M24 29h1M39 32h1M40 37h1M40 38h1M40 39h1M40 40h1M40 41h1M40 42h1M37 51h1M28 53h1M33 53h1M10 61h1M48 62h1M46 65h1M46 66h1"/>
<path stroke="#959595" d="M25 4h2M35 4h1M21 5h1M38 5h1M40 6h1M42 7h1M15 8h1M12 10h1M46 10h1M11 11h1M10 12h1M7 14h1M52 14h1M54 15h1M56 16h1M3 17h1M59 18h1M0 20h1M22 33h1M40 36h1M40 43h1M22 46h1M23 49h1M36 52h1M34 53h1M15 63h1M46 64h1"/>
<path stroke="#979797" d="M27 4h8M22 5h1M37 5h1M19 6h1M17 7h1M43 8h1M14 9h1M47 11h1M9 13h1M50 13h1M6 15h1M2 18h1M1 19h1M-2 21h2M29 26h5M26 27h1M37 28h1M23 30h1M39 31h1M40 35h1M40 44h1M22 47h1M39 48h1M38 50h1M24 51h1M25 52h1M27 53h1M-2 60h12M53 60h9M51 61h1M14 62h1"/>
<path stroke="#999999" d="M23 5h2M36 5h1M20 6h1M39 6h1M18 7h1M41 7h1M16 8h1M44 9h1M13 10h1M12 11h1M11 12h1M8 14h1M51 14h1M53 15h1M5 16h1M55 16h1M57 17h1M28 26h1M34 26h1M36 27h1M38 29h1M22 32h1M40 34h1M40 45h1M35 53h1M52 60h1M11 61h1"/>
<path stroke="#9b9b9b" d="M25 5h2M21 6h1M38 6h1M42 8h1M15 9h1M45 10h1M48 12h1M10 13h1M7 15h1M4 17h1M58 18h1M60 19h2M27 26h1M25 27h1M24 28h1M40 33h1M21 36h1M21 37h1M21 38h1M21 39h1M21 40h1M21 41h1M21 42h1M21 43h1M40 46h1M22 48h1M39 49h1M23 50h1M37 52h1M26 53h1M29 54h5M10 60h1M50 61h1M47 62h1M46 63h1M16 64h1M16 65h1M16 66h1"/>
<path stroke="#9d9d9d" d="M27 5h9M22 6h1M19 7h1M40 7h1M17 8h1M14 10h1M13 11h1M46 11h1M49 13h1M9 14h1M50 14h1M52 15h1M6 16h1M54 16h1M56 17h1M3 18h1M2 19h1M1 20h1M0 21h1M35 26h1M23 29h1M39 30h1M22 31h1M21 35h1M21 44h1M40 47h1M38 51h1M36 53h1M28 54h1M34 54h1M-2 59h12M53 59h9M11 60h1M51 60h1M12 61h1M45 65h1M45 66h1"/>
<path stroke="#9f9f9f" d="M23 6h2M37 6h1M20 7h1M39 7h1M18 8h1M41 8h1M16 9h1M43 9h1M44 10h1M12 12h1M47 12h1M11 13h1M48 13h1M10 14h1M8 15h1M53 16h1M5 17h1M59 19h1M-2 22h2M30 25h3M26 26h1M37 27h1M38 28h1M40 32h1M21 34h1M21 45h1M22 49h1M39 50h1M24 52h1M25 53h1M27 54h1M10 59h1M51 59h2M50 60h1M13 61h1M49 61h1M15 62h1M16 63h1M45 64h1"/>
<path stroke="#a1a1a1" d="M25 6h2M36 6h1M21 7h1M19 8h1M40 8h1M17 9h1M42 9h1M15 10h1M43 10h1M14 11h1M45 11h1M46 12h1M49 14h1M9 15h1M51 15h1M7 16h1M55 17h1M4 18h1M57 18h1M28 25h2M33 25h1M36 26h1M39 29h1M22 30h1M21 33h1M41 37h1M41 38h1M41 39h1M41 40h1M41 41h1M41 42h1M21 46h1M40 48h1M23 51h1M35 54h1M11 59h1M50 59h1M12 60h1M49 60h1M48 61h1M46 62h1M17 65h1M17 66h1"/>
<path stroke="#a3a3a3" d="M27 6h9M22 7h1M38 7h1M41 9h1M16 10h1M44 11h1M13 12h1M45 12h1M12 13h1M47 13h1M11 14h1M48 14h1M50 15h1M52 16h1M54 17h1M3 19h1M0 22h1M34 25h1M25 26h1M24 27h1M23 28h1M40 31h1M41 35h1M41 36h1M41 43h1M41 44h1M21 47h1M38 52h1M37 53h1M-2 54h3M26 54h1M-2 55h5M30 55h3M59 55h3M-2 56h8M56 56h6M-2 57h10M54 57h8M-2 58h13M52 58h10M12 59h1M13 60h1M14 61h1M45 63h1M17 64h1M44 65h1M44 66h1"/>
<path stroke="#a5a5a5" d="M23 7h2M37 7h1M20 8h1M39 8h1M18 9h1M40 9h1M42 10h1M15 11h1M43 11h1M46 13h1M47 14h1M10 15h1M49 15h1M8 16h1M51 16h1M6 17h1M56 18h1M58 19h1M2 20h1M60 20h2M1 21h1M-2 23h2M27 25h1M35 25h1M21 32h1M41 34h1M41 45h1M40 49h1M22 50h1M39 51h1M-2 53h3M24 53h1M1 54h2M36 54h1M60 54h2M3 55h2M28 55h2M33 55h1M57 55h2M6 56h1M55 56h1M8 57h3M52 57h2M11 58h1M50 58h2M13 59h1M49 59h1M48 60h1M47 61h1M16 62h1M17 63h1M18 64h1M44 64h1M18 65h1M43 65h1M18 66h1M43 66h1"/>
<path stroke="#a7a7a7" d="M25 7h12M21 8h3M37 8h2M19 9h2M39 9h1M17 10h2M41 10h1M16 11h1M42 11h1M14 12h2M44 12h1M13 13h1M45 13h1M12 14h1M48 15h1M9 16h1M50 16h1M7 17h1M53 17h1M5 18h1M59 20h1M30 24h3M26 25h1M36 25h1M37 26h1M38 27h1M39 28h1M22 29h1M40 30h1M21 31h1M41 33h1M20 38h1M20 39h1M20 40h1M20 41h1M41 46h1M41 47h1M21 48h1M41 48h1M21 49h1M41 49h1M21 50h1M40 50h2M21 51h2M40 51h1M-2 52h2M22 52h2M39 52h2M22 53h2M38 53h2M23 54h3M37 54h2M59 54h1M5 55h1M24 55h4M34 55h4M56 55h1M7 56h1M26 56h11M54 56h1M11 57h1M30 57h3M50 57h2M12 58h1M49 58h1M48 59h1M14 60h1M47 60h1M15 61h1M46 61h1M45 62h1M44 63h1M43 64h1M19 65h1M42 65h1M19 66h1M42 66h1"/>
<path stroke="#a9a9a9" d="M24 8h4M35 8h2M21 9h2M38 9h1M19 10h1M40 10h1M17 11h1M16 12h1M43 12h1M14 13h1M13 14h1M46 14h1M11 15h2M47 15h1M49 16h1M8 17h1M52 17h1M55 18h1M4 19h1M57 19h1M0 23h1M27 24h3M33 24h2M25 25h1M24 26h1M38 26h1M23 27h1M22 28h1M40 29h1M21 30h1M41 32h1M20 36h1M20 37h1M20 42h1M20 43h1M20 44h1M20 45h1M20 46h1M20 47h1M20 48h1M20 49h1M42 49h1M19 50h2M42 50h1M19 51h2M41 51h2M20 52h2M41 52h2M1 53h1M20 53h2M40 53h2M3 54h1M21 54h2M39 54h3M58 54h1M6 55h1M22 55h2M38 55h3M8 56h3M23 56h3M37 56h3M51 56h3M12 57h1M24 57h6M33 57h6M49 57h1M13 58h1M26 58h11M48 58h1M14 59h1M15 60h1M16 61h1M17 62h1M18 63h1M43 63h1M19 64h1M42 64h1M20 65h1M41 65h1M20 66h1M41 66h1"/>
<path stroke="#ababab" d="M28 8h7M23 9h3M36 9h2M20 10h2M39 10h1M18 11h2M41 11h1M17 12h1M42 12h1M15 13h2M44 13h1M14 14h1M45 14h1M13 15h1M46 15h1M10 16h3M48 16h1M50 17h2M6 18h1M54 18h1M3 20h1M2 21h1M60 21h2M1 22h1M-2 24h2M26 24h1M35 24h1M37 25h1M23 26h1M39 27h1M40 28h1M41 31h1M20 34h1M20 35h1M42 47h1M42 48h1M19 49h1M43 50h1M18 51h1M43 51h1M0 52h1M18 52h2M43 52h1M18 53h2M42 53h2M4 54h1M19 54h2M42 54h2M19 55h3M41 55h2M55 55h1M11 56h2M20 56h3M40 56h2M49 56h2M13 57h2M21 57h3M39 57h2M48 57h1M14 58h1M22 58h4M37 58h3M47 58h1M15 59h1M24 59h15M46 59h2M16 60h1M26 60h2M34 60h2M45 60h2M17 61h1M44 61h2M18 62h2M43 62h2M19 63h2M41 63h2M20 64h3M39 64h3M21 65h3M38 65h3M21 66h3M38 66h3"/>
<path stroke="#adadad" d="M26 9h10M22 10h3M38 10h1M20 11h2M40 11h1M18 12h2M41 12h1M17 13h1M43 13h1M15 14h2M44 14h1M14 15h1M13 16h1M47 16h1M9 17h2M49 17h1M7 18h1M5 19h1M56 19h1M58 20h1M28 23h6M25 24h1M36 24h1M24 25h1M38 25h1M39 26h1M22 27h1M21 29h1M41 30h1M20 33h1M42 45h1M42 46h1M19 48h1M43 49h1M18 50h1M44 51h1M17 52h1M44 52h1M2 53h1M17 53h1M44 53h1M60 53h2M17 54h2M44 54h1M57 54h1M7 55h1M14 55h1M18 55h1M43 55h2M13 56h3M19 56h1M42 56h2M47 56h2M15 57h1M19 57h2M41 57h2M46 57h2M15 58h2M20 58h2M40 58h2M45 58h2M16 59h2M21 59h3M39 59h3M44 59h2M17 60h2M22 60h4M28 60h6M36 60h4M43 60h2M18 61h3M24 61h4M34 61h5M42 61h2M20 62h3M40 62h3M21 63h4M38 63h3M23 64h3M36 64h3M24 65h2M36 65h2M24 66h2M36 66h2"/>
<path stroke="#afafaf" d="M25 10h13M22 11h2M38 11h2M20 12h1M40 12h1M18 13h1M42 13h1M17 14h1M15 15h2M45 15h1M14 16h1M46 16h1M11 17h3M48 17h1M8 18h1M51 18h3M59 21h1M27 23h1M34 23h2M37 24h1M23 25h1M22 26h1M40 27h1M21 28h1M41 29h1M20 31h1M20 32h1M42 37h1M42 38h1M42 39h1M42 40h1M42 41h1M42 42h1M42 43h1M42 44h1M19 47h1M43 48h1M18 49h1M44 50h1M-2 51h2M17 51h1M45 52h1M16 53h1M45 53h1M59 53h1M5 54h1M15 54h2M45 54h3M8 55h6M15 55h3M45 55h10M16 56h3M44 56h3M16 57h3M43 57h3M17 58h3M42 58h3M18 59h3M42 59h2M19 60h3M40 60h3M21 61h3M28 61h2M32 61h2M39 61h3M23 62h5M34 62h6M25 63h2M36 63h2M26 64h1M35 64h1M26 65h1M35 65h1M26 66h1M35 66h1"/>
<path stroke="#b1b1b1" d="M24 11h4M34 11h4M21 12h2M39 12h1M19 13h2M41 13h1M18 14h1M43 14h1M17 15h1M44 15h1M15 16h2M14 17h1M47 17h1M9 18h4M49 18h2M6 19h1M55 19h1M4 20h1M29 22h4M26 23h1M36 23h1M0 24h1M24 24h1M38 24h1M39 25h1M40 26h1M21 27h1M41 28h1M20 30h1M42 34h1M42 35h1M42 36h1M19 46h1M43 47h1M18 48h1M44 49h1M17 50h1M16 51h1M45 51h1M1 52h1M16 52h1M46 52h1M3 53h1M15 53h1M46 53h1M13 54h2M48 54h2M56 54h1M30 61h2M28 62h1M33 62h1M27 63h1M35 63h1M27 64h1M27 65h1M34 65h1M27 66h1M34 66h1"/>
<path stroke="#b3b3b3" d="M28 11h6M23 12h2M37 12h2M21 13h1M40 13h1M19 14h1M42 14h1M18 15h1M45 16h1M15 17h1M46 17h1M13 18h2M47 18h2M7 19h1M54 19h1M5 20h1M57 20h1M3 21h1M2 22h1M27 22h2M33 22h2M60 22h2M1 23h1M25 23h1M37 23h1M23 24h1M-2 25h2M22 25h1M21 26h1M41 27h1M20 29h1M42 32h1M42 33h1M19 45h1M44 48h1M17 49h1M45 50h1M0 51h1M46 51h1M15 52h1M4 53h1M14 53h1M47 53h2M58 53h1M6 54h1M11 54h2M50 54h1M55 54h1M29 62h1M34 63h1M34 64h1"/>
<path stroke="#b5b5b5" d="M25 12h4M34 12h3M22 13h2M39 13h1M20 14h1M41 14h1M43 15h1M17 16h1M44 16h1M16 17h1M15 18h1M8 19h6M48 19h6M56 20h1M58 21h1M26 22h1M35 22h2M24 23h1M38 23h1M39 24h1M40 25h1M41 26h1M20 27h1M20 28h1M42 30h1M42 31h1M19 37h1M19 38h1M19 39h1M19 40h1M19 41h1M19 42h1M19 43h1M19 44h1M43 46h1M18 47h1M45 49h1M16 50h1M15 51h1M47 52h1M13 53h1M49 53h1M57 53h1M7 54h4M51 54h4M30 62h3M28 63h1M33 63h1M28 64h1M28 65h1M28 66h1"/>
<path stroke="#b7b7b7" d="M29 12h5M24 13h1M37 13h2M21 14h1M40 14h1M19 15h1M42 15h1M18 16h1M17 17h1M45 17h1M16 18h1M46 18h1M14 19h1M47 19h1M6 20h1M55 20h1M4 21h1M27 21h8M24 22h2M37 22h1M59 22h1M23 23h1M39 23h1M22 24h1M40 24h1M0 25h1M21 25h1M41 25h1M20 26h1M42 28h1M42 29h1M19 35h1M19 36h1M43 45h1M18 46h1M44 47h1M17 48h1M-2 50h2M46 50h1M2 52h1M14 52h1M48 52h1M59 52h3M5 53h1M12 53h1M29 63h1M33 64h1M33 65h1M33 66h1"/>
<path stroke="#b9b9b9" d="M25 13h3M35 13h2M22 14h2M39 14h1M20 15h1M41 15h1M19 16h1M43 16h1M44 17h1M45 18h1M15 19h1M46 19h1M7 20h1M10 20h4M28 20h6M48 20h4M5 21h1M25 21h2M35 21h3M57 21h1M3 22h1M23 22h1M38 22h1M2 23h1M22 23h1M40 23h1M60 23h2M1 24h1M21 24h1M41 24h1M20 25h1M-2 26h2M42 26h1M42 27h1M19 29h1M19 30h1M19 31h1M19 32h1M19 33h1M19 34h1M45 48h1M16 49h1M15 50h1M47 51h1M3 52h1M13 52h1M11 53h1M50 53h2M56 53h1M32 63h1M29 64h1M29 65h1M29 66h1"/>
<path stroke="#bbbbbb" d="M28 13h7M24 14h1M37 14h2M21 15h1M40 15h1M42 16h1M18 17h1M43 17h1M17 18h1M16 19h1M8 20h2M14 20h2M25 20h3M34 20h3M47 20h1M52 20h3M23 21h2M38 21h1M56 21h1M22 22h1M39 22h2M58 22h1M21 23h1M41 23h1M20 24h1M42 24h1M19 25h1M42 25h1M19 26h1M19 27h1M19 28h1M43 38h1M43 39h1M43 40h1M43 41h1M43 43h1M43 44h1M18 45h1M44 46h1M17 47h1M46 49h1M0 50h1M47 50h1M1 51h1M14 51h1M48 51h1M12 52h1M49 52h1M58 52h1M6 53h1M9 53h2M52 53h2M30 63h2M32 64h1M32 65h1M32 66h1"/>
<path stroke="#bdbdbd" d="M25 14h2M35 14h2M22 15h1M39 15h1M20 16h1M41 16h1M19 17h1M18 18h1M44 18h1M26 19h11M45 19h1M23 20h2M37 20h2M46 20h1M6 21h1M11 21h3M22 21h1M39 21h2M48 21h4M55 21h1M4 22h1M21 22h1M41 22h1M20 23h1M42 23h1M59 23h1M19 24h1M43 25h1M0 26h1M43 26h1M-2 27h2M43 27h1M43 28h1M43 29h1M43 30h1M43 31h1M43 32h1M43 33h1M43 36h1M43 37h1M43 42h1M18 44h1M45 47h1M16 48h1M15 49h1M13 51h1M4 52h1M50 52h1M7 53h2M54 53h2M30 64h1M30 65h2M30 66h2"/>
<path stroke="#bfbfbf" d="M27 14h8M23 15h2M38 15h1M21 16h1M40 16h1M20 17h1M42 17h1M26 18h10M43 18h1M17 19h1M24 19h2M37 19h2M44 19h1M16 20h1M22 20h1M39 20h2M45 20h1M7 21h4M14 21h2M21 21h1M41 21h1M47 21h1M52 21h3M5 22h1M20 22h1M42 22h1M57 22h1M3 23h1M19 23h1M43 23h1M18 24h1M43 24h1M1 25h1M18 25h1M18 26h1M18 27h1M18 28h1M18 29h1M18 30h1M43 34h1M43 35h1M44 45h1M17 46h1M46 48h1M-2 49h2M14 50h1M2 51h1M49 51h1M60 51h2M11 52h1M57 52h1M31 64h1"/>
<path stroke="#c1c1c1" d="M25 15h13M22 16h18M21 17h21M19 18h7M36 18h7M18 19h6M39 19h5M17 20h5M41 20h4M16 21h5M42 21h3M46 21h1M12 22h2M18 22h2M43 22h2M48 22h3M56 22h1M18 23h1M58 23h1M2 24h1M44 24h1M60 24h2M44 25h1M44 26h1M0 27h1M44 27h1M44 28h1M18 31h1M18 32h1M18 33h1M18 34h1M18 35h1M18 36h1M18 37h1M18 38h1M18 39h1M18 40h1M18 41h1M18 42h1M18 43h1M44 44h1M17 45h1M45 46h1M16 47h1M15 48h1M47 49h1M48 50h1M12 51h1M59 51h1M5 52h1M10 52h1M51 52h1"/>
<path stroke="#c3c3c3" d="M45 21h1M6 22h1M9 22h3M14 22h4M45 22h1M47 22h1M51 22h2M55 22h1M4 23h1M17 23h1M44 23h2M17 24h1M59 24h1M17 25h1M17 26h1M17 27h1M-2 28h2M44 29h1M44 30h1M44 31h1M44 43h1M46 47h1M0 49h1M14 49h1M1 50h1M13 50h1M3 51h1M50 51h1M6 52h1M8 52h2M52 52h3M56 52h1"/>
<path stroke="#c5c5c5" d="M7 22h2M46 22h1M53 22h2M5 23h1M13 23h2M16 23h1M46 23h1M48 23h1M57 23h1M3 24h1M16 24h1M45 24h1M45 25h1M1 26h1M45 26h1M45 27h1M17 28h1M17 29h1M17 30h1M44 32h1M44 33h1M44 34h1M44 35h1M44 36h1M44 37h1M44 38h1M44 39h1M44 40h1M44 41h1M44 42h1M17 44h1M45 45h1M16 46h1M-2 48h2M47 48h1M48 49h1M49 50h1M4 51h1M11 51h1M58 51h1M7 52h1M55 52h1"/>
<path stroke="#c7c7c7" d="M10 23h3M15 23h1M47 23h1M49 23h3M56 23h1M15 24h1M46 24h1M58 24h1M2 25h1M16 25h1M60 25h2M16 26h1M0 28h1M45 28h1M-2 29h2M45 29h1M17 31h1M17 32h1M17 37h1M17 38h1M17 39h1M17 40h1M17 41h1M17 42h1M17 43h1M15 47h1M14 48h1M13 49h1M2 50h1M12 50h1M60 50h2M10 51h1M51 51h1M57 51h1"/>
<path stroke="#c9c9c9" d="M6 23h4M52 23h4M4 24h1M13 24h2M47 24h2M15 25h1M46 25h1M59 25h1M46 26h1M16 27h1M16 28h1M-2 30h2M45 30h1M17 33h1M17 34h1M17 35h1M17 36h1M45 44h1M16 45h1M46 46h1M47 47h1M49 49h1M50 50h1M59 50h1M5 51h1M52 51h1"/>
<path stroke="#cbcbcb" d="M5 24h1M12 24h1M49 24h2M57 24h1M3 25h1M47 25h1M15 26h1M1 27h1M46 27h1M46 28h1M0 29h1M16 29h1M16 30h1M-2 31h2M45 31h1M45 32h1M45 33h1M45 36h1M45 37h1M45 38h1M45 39h1M45 40h1M45 41h1M45 42h1M45 43h1M15 46h1M-2 47h2M0 48h1M48 48h1M1 49h1M12 49h1M3 50h1M11 50h1M7 51h3M53 51h4"/>
<path stroke="#cdcdcd" d="M6 24h1M9 24h3M51 24h2M56 24h1M13 25h2M48 25h1M58 25h1M2 26h1M47 26h1M59 26h3M15 27h1M46 29h1M16 31h1M-2 32h2M45 34h1M45 35h1M16 44h1M46 45h1M14 47h1M13 48h1M50 49h1M51 50h1M58 50h1M6 51h1"/>
<path stroke="#cfcfcf" d="M7 24h2M53 24h3M4 25h1M12 25h1M49 25h2M57 25h1M3 26h1M14 26h1M47 27h1M1 28h1M15 28h1M15 29h1M0 30h1M46 30h1M16 32h1M-2 33h2M16 33h1M16 34h1M16 35h1M16 36h1M16 37h1M16 38h1M16 39h1M16 40h1M16 41h1M16 42h1M16 43h1M46 44h1M15 45h1M-2 46h2M47 46h1M0 47h1M48 47h1M49 48h1M2 49h1M59 49h3M4 50h1M10 50h1M52 50h1"/>
<path stroke="#d1d1d1" d="M5 25h1M11 25h1M13 26h1M48 26h1M58 26h1M2 27h1M14 27h1M60 27h2M47 28h1M15 30h1M0 31h1M46 31h1M46 32h1M-2 34h2M-2 35h2M46 38h1M46 39h1M46 40h1M46 41h1M46 43h1M-2 45h2M14 46h1M1 48h1M12 48h1M11 49h1M5 50h1M9 50h1M57 50h1"/>
<path stroke="#d3d3d3" d="M6 25h5M51 25h6M4 26h1M12 26h1M49 26h1M48 27h1M59 27h1M14 28h1M1 29h1M47 29h1M15 31h1M0 32h1M46 33h1M46 34h1M46 35h1M-2 36h2M46 36h1M-2 37h2M46 37h1M-2 42h2M46 42h1M-2 43h2M-2 44h2M15 44h1M47 45h1M0 46h1M13 47h1M50 48h1M3 49h1M51 49h1M58 49h1M6 50h3M53 50h4"/>
<path stroke="#d5d5d5" d="M11 26h1M50 26h1M57 26h1M3 27h1M13 27h1M49 27h1M2 28h1M48 28h1M60 28h2M14 29h1M1 30h1M47 30h1M47 31h1M15 32h1M0 33h1M15 33h1M0 34h1M15 34h1M0 35h1M15 36h1M15 37h1M-2 38h2M15 38h1M-2 39h2M15 39h1M-2 40h2M15 40h1M-2 41h2M15 41h1M15 42h1M15 43h1M0 44h1M47 44h1M0 45h1M14 45h1M48 46h1M1 47h1M49 47h1M2 48h1M11 48h1M60 48h2M4 49h1M10 49h1"/>
<path stroke="#d7d7d7" d="M5 26h1M10 26h1M51 26h1M56 26h1M12 27h1M50 27h1M58 27h1M13 28h1M59 28h1M2 29h1M48 29h1M60 29h2M14 30h1M1 31h1M47 32h1M47 33h1M15 35h1M0 36h1M47 36h1M0 37h1M47 37h1M0 38h1M47 38h1M0 39h1M47 39h1M0 40h1M47 40h1M0 41h1M47 41h1M0 42h1M47 42h1M0 43h1M47 43h1M13 46h1M12 47h1M59 48h1M52 49h1M57 49h1"/>
<path stroke="#d9d9d9" d="M6 26h4M52 26h4M4 27h1M11 27h1M57 27h1M3 28h1M12 28h1M49 28h1M13 29h1M48 30h1M14 31h1M1 32h1M14 32h1M1 33h1M47 34h1M47 35h1M14 37h1M14 38h1M14 39h1M14 40h1M14 41h1M14 42h1M14 43h1M14 44h1M48 45h1M1 46h1M49 46h1M2 47h1M50 47h1M60 47h2M3 48h1M51 48h1M5 49h1M9 49h1M56 49h1"/>
<path stroke="#dbdbdb" d="M5 27h1M51 27h1M50 28h1M58 28h1M49 29h1M59 29h1M2 30h1M13 30h1M60 30h2M48 31h1M14 33h1M1 34h1M14 34h1M1 35h1M14 35h1M1 36h1M14 36h1M1 37h1M48 39h1M48 40h1M1 42h1M1 43h1M1 44h1M48 44h1M1 45h1M13 45h1M12 46h1M11 47h1M59 47h1M10 48h1M58 48h1M6 49h3M53 49h3"/>
<path stroke="#dddddd" d="M6 27h5M52 27h5M4 28h1M11 28h1M3 29h1M12 29h1M49 30h1M59 30h1M2 31h1M13 31h1M60 31h2M48 32h1M60 32h2M48 33h1M48 34h1M48 35h1M48 36h1M48 37h1M1 38h1M48 38h1M1 39h1M1 40h1M1 41h1M48 41h1M48 42h1M48 43h1M13 44h1M49 45h1M2 46h1M50 46h1M60 46h2M3 47h1M51 47h1M4 48h1M52 48h1"/>
<path stroke="#dfdfdf" d="M10 28h1M51 28h1M57 28h1M11 29h1M50 29h1M58 29h1M3 30h1M12 30h1M49 31h1M59 31h1M2 32h1M13 32h1M2 33h1M13 33h1M60 33h2M2 34h1M13 34h1M60 34h2M13 35h1M13 36h1M13 37h1M13 38h1M13 39h1M13 40h1M13 41h1M13 42h1M13 43h1M2 45h1M12 45h1M60 45h2M11 46h1M59 46h1M10 47h1M5 48h1M9 48h1M57 48h1"/>
<path stroke="#e1e1e1" d="M5 28h2M52 28h1M55 28h2M4 29h1M51 29h1M50 30h1M58 30h1M3 31h1M12 31h1M49 32h1M59 32h1M49 33h1M59 33h1M2 35h1M49 35h1M60 35h2M2 36h1M49 36h1M60 36h2M2 37h1M49 37h1M60 37h2M2 38h1M49 38h1M60 38h2M2 39h1M49 39h1M60 39h2M2 40h1M49 40h1M60 40h2M2 41h1M49 41h1M60 41h2M2 42h1M49 42h1M60 42h2M2 43h1M49 43h1M60 43h2M2 44h1M12 44h1M49 44h1M60 44h2M50 45h1M59 45h1M51 46h1M52 47h1M58 47h1M6 48h3M53 48h4"/>
<path stroke="#e3e3e3" d="M7 28h3M53 28h2M10 29h1M57 29h1M4 30h1M11 30h1M50 31h1M3 32h1M12 32h1M12 33h1M12 34h1M49 34h1M59 34h1M12 35h1M59 35h1M12 36h1M59 36h1M12 37h1M59 37h1M12 38h1M59 38h1M12 39h1M59 39h1M12 40h1M12 41h1M59 41h1M12 42h1M59 42h1M12 43h1M59 43h1M50 44h1M59 44h1M11 45h1M3 46h1M4 47h1M9 47h1M57 47h1"/>
<path stroke="#e5e5e5" d="M5 29h2M52 29h1M55 29h2M51 30h1M57 30h1M11 31h1M58 31h1M50 32h1M58 32h1M3 33h1M50 33h1M3 34h1M50 34h1M3 35h1M50 35h1M3 36h1M50 36h1M50 37h1M11 38h1M50 38h1M11 39h1M50 39h1M11 40h1M50 40h1M59 40h1M11 41h1M50 41h1M50 42h1M3 43h1M50 43h1M3 44h1M11 44h1M3 45h1M51 45h1M10 46h1M58 46h1M5 47h2M53 47h1M56 47h1"/>
<path stroke="#e7e7e7" d="M7 29h3M53 29h2M5 30h1M10 30h1M4 31h1M51 31h1M11 32h1M11 33h1M58 33h1M11 34h1M58 34h1M11 35h1M58 35h1M11 36h1M3 37h1M11 37h1M51 37h1M3 38h1M51 38h1M3 39h1M51 39h1M3 40h1M51 40h1M3 41h1M51 41h1M3 42h1M11 42h1M51 42h1M11 43h1M51 44h1M58 44h1M10 45h1M58 45h1M4 46h1M52 46h1M57 46h1M7 47h2M54 47h2"/>
<path stroke="#e9e9e9" d="M6 30h2M9 30h1M52 30h1M55 30h2M5 31h1M10 31h1M57 31h1M4 32h1M10 32h1M51 32h1M4 33h1M51 33h1M4 34h1M51 34h1M51 35h1M10 36h1M51 36h1M58 36h1M10 37h1M58 37h1M10 38h1M58 38h1M10 39h1M58 39h1M10 40h1M58 40h1M10 41h1M58 41h1M10 42h1M58 42h1M10 43h1M51 43h1M58 43h1M10 44h1M4 45h1M52 45h1M5 46h1M9 46h1M56 46h1"/>
<path stroke="#ebebeb" d="M8 30h1M53 30h2M6 31h1M52 31h1M56 31h1M5 32h1M52 32h1M57 32h1M5 33h1M10 33h1M57 33h1M10 34h1M57 34h1M4 35h1M10 35h1M52 35h1M57 35h1M4 36h1M52 36h1M57 36h1M4 37h1M52 37h1M57 37h1M4 38h1M52 38h1M57 38h1M4 39h1M52 39h1M57 39h1M4 40h1M52 40h1M57 40h1M4 41h1M52 41h1M57 41h1M4 42h1M52 42h1M57 42h1M4 43h1M52 43h1M57 43h1M4 44h1M52 44h1M57 44h1M5 45h1M9 45h1M57 45h1M6 46h2M53 46h1M55 46h1"/>
<path stroke="#ededed" d="M7 31h1M9 31h1M54 31h2M6 32h1M9 32h1M56 32h1M52 33h1M56 33h1M5 34h1M52 34h1M56 34h1M5 35h1M9 35h1M56 35h1M5 36h1M9 36h1M56 36h1M5 37h1M9 37h1M56 37h1M5 38h1M9 38h1M5 39h1M9 39h1M5 40h1M9 40h1M5 41h1M9 41h1M5 42h1M9 42h1M56 42h1M5 43h1M9 43h1M56 43h1M5 44h1M9 44h1M56 44h1M6 45h1M53 45h1M56 45h1M8 46h1M54 46h1"/>
<path stroke="#efefef" d="M8 31h1M53 31h1M7 32h1M53 32h1M55 32h1M6 33h1M9 33h1M55 33h1M6 34h1M9 34h1M53 34h1M55 34h1M6 35h1M53 35h1M55 35h1M6 36h1M53 36h1M6 37h1M53 37h1M6 38h1M53 38h1M56 38h1M6 39h1M53 39h1M56 39h1M6 40h1M53 40h1M56 40h1M6 41h1M53 41h1M56 41h1M6 42h1M53 42h1M6 43h1M53 43h1M6 44h1M53 44h1M55 44h1M7 45h2M54 45h2"/>
<path stroke="#f1f1f1" d="M8 32h1M54 32h1M7 33h2M53 33h2M7 34h2M54 34h1M7 35h2M7 36h2M55 36h1M7 37h2M55 37h1M7 38h2M54 38h2M7 39h2M54 39h2M7 40h2M54 40h2M7 41h2M54 41h2M7 42h2M55 42h1M7 43h2M55 43h1M7 44h2M54 44h1"/>
<path stroke="#f3f3f3" d="M54 35h1M54 36h1M54 37h1M54 42h1M54 43h1"/>
</g></g></g>
<clipPath id="cpf"><rect x="304" y="1678" width="556" height="579"/></clipPath>
<filter id="jetf" filterUnits="userSpaceOnUse" x="274" y="1648" width="616" height="639" color-interpolation-filters="sRGB"><feGaussianBlur stdDeviation="5.1"/><feComponentTransfer><feFuncR type="table" tableValues="0.125 0.116 0.107 0.097 0.088 0.078 0.071 0.063 0.055 0.047 0.039 0.049 0.058 0.067 0.077 0.086 0.094 0.102 0.110 0.118 0.125 0.129 0.132 0.135 0.138 0.141 0.150 0.158 0.167 0.176 0.184 0.195 0.206 0.217 0.227 0.210 0.193 0.176 0.173 0.169 0.237 0.306 0.345 0.384 0.424 0.425 0.427 0.429 0.431 0.433 0.435 0.445 0.456 0.466 0.476 0.486 0.504 0.521 0.538 0.555 0.573 0.598 0.623 0.648 0.673 0.698 0.723 0.748 0.773 0.798 0.824 0.851 0.878 0.906 0.933 0.949 0.965 0.967 0.969 0.967 0.965 0.962 0.960 0.958 0.955 0.953 0.949 0.945 0.941 0.937 0.933 0.929 0.925 0.922 0.918 0.914 0.911 0.907 0.904 0.901 0.898 0.897 0.896 0.895 0.894 0.884 0.873 0.863 0.837 0.810 0.784 0.759 0.734 0.709 0.684 0.659 0.624 0.588 0.553 0.518 0.482"/><feFuncG type="table" tableValues="0.153 0.158 0.162 0.167 0.172 0.176 0.180 0.183 0.186 0.189 0.192 0.204 0.216 0.227 0.239 0.251 0.263 0.275 0.286 0.298 0.310 0.316 0.322 0.329 0.335 0.341 0.360 0.379 0.398 0.416 0.435 0.472 0.508 0.544 0.580 0.622 0.664 0.706 0.724 0.741 0.751 0.761 0.766 0.771 0.776 0.776 0.775 0.775 0.774 0.773 0.773 0.773 0.774 0.775 0.776 0.776 0.780 0.783 0.786 0.789 0.792 0.800 0.808 0.816 0.824 0.831 0.841 0.850 0.860 0.869 0.878 0.886 0.894 0.902 0.910 0.914 0.918 0.878 0.839 0.800 0.761 0.736 0.711 0.685 0.660 0.635 0.609 0.582 0.555 0.529 0.502 0.471 0.439 0.408 0.376 0.345 0.317 0.289 0.260 0.232 0.204 0.183 0.163 0.142 0.122 0.115 0.108 0.102 0.099 0.097 0.094 0.097 0.100 0.104 0.107 0.110 0.108 0.107 0.105 0.104 0.102"/><feFuncB type="table" tableValues="0.416 0.433 0.450 0.467 0.485 0.502 0.514 0.525 0.537 0.549 0.561 0.569 0.578 0.587 0.595 0.604 0.610 0.616 0.623 0.629 0.635 0.640 0.645 0.649 0.654 0.659 0.671 0.684 0.696 0.709 0.722 0.747 0.773 0.798 0.824 0.855 0.886 0.918 0.925 0.933 0.918 0.902 0.886 0.871 0.855 0.829 0.803 0.776 0.750 0.724 0.698 0.673 0.648 0.623 0.598 0.573 0.549 0.525 0.502 0.478 0.455 0.431 0.408 0.384 0.361 0.337 0.323 0.309 0.295 0.281 0.267 0.255 0.243 0.231 0.220 0.198 0.176 0.159 0.141 0.129 0.118 0.115 0.113 0.111 0.108 0.106 0.107 0.107 0.108 0.109 0.110 0.111 0.111 0.112 0.113 0.114 0.113 0.112 0.111 0.111 0.110 0.109 0.108 0.107 0.106 0.107 0.108 0.110 0.112 0.115 0.118 0.122 0.127 0.132 0.136 0.141 0.139 0.136 0.134 0.132 0.129"/><feFuncA type="linear" slope="0" intercept="1"/></feComponentTransfer></filter>
<rect x="303.2" y="1677.2" width="557.6" height="580.6" fill="none" stroke="#d4d0cc" stroke-width="1.6"/>
<g clip-path="url(#cpf)"><g filter="url(#jetf)"><g transform="translate(304.00 1682.67) scale(9.2667 9.3387)" stroke-width="1.08" fill="none">
<path stroke="#040404" d="M34 31h1"/>
<path stroke="#0c0c0c" d="M34 32h1"/>
<path stroke="#101010" d="M35 31h1"/>
<path stroke="#121212" d="M34 30h1M35 32h1"/>
<path stroke="#161616" d="M35 30h1M33 31h1"/>
<path stroke="#181818" d="M33 32h1"/>
<path stroke="#1a1a1a" d="M33 30h1M34 33h1"/>
<path stroke="#1e1e1e" d="M35 33h1"/>
<path stroke="#202020" d="M34 29h1M33 33h1"/>
<path stroke="#222222" d="M35 29h1M36 31h1"/>
<path stroke="#242424" d="M33 29h1M36 30h1M36 32h1M-2 62h3M-2 63h3"/>
<path stroke="#262626" d="M-2 61h3M1 62h1M1 63h1"/>
<path stroke="#282828" d="M32 31h1M32 32h1M36 33h1M-2 60h3M1 61h2M2 62h1M2 63h1"/>
<path stroke="#2a2a2a" d="M32 30h1M34 34h1M1 60h1M3 61h1M3 62h1M3 63h1"/>
<path stroke="#2c2c2c" d="M36 29h1M33 34h1M35 34h1M-2 59h4M60 59h2M2 60h1M59 60h3M60 61h2"/>
<path stroke="#2e2e2e" d="M60 -2h2M60 -1h2M60 0h2M60 1h2M60 2h2M34 28h1M32 33h1M-2 58h3M60 58h2M59 59h1M59 61h1M4 62h1M59 62h3M4 63h1M59 63h3"/>
<path stroke="#303030" d="M59 -2h1M59 -1h1M59 0h1M59 1h1M59 2h1M35 28h1M32 29h1M59 58h1M58 61h1"/>
<path stroke="#323232" d="M58 0h1M58 1h1M33 28h1M36 34h1M-2 57h3M60 57h2M1 58h1M2 59h1M3 60h1M58 60h1M4 61h1M58 62h1M58 63h1"/>
<path stroke="#343434" d="M58 -2h1M58 -1h1M60 3h2M37 31h1M37 32h1M59 57h1M58 59h1"/>
<path stroke="#363636" d="M57 -2h1M57 -1h1M57 0h1M36 28h1M37 30h1M32 34h1M-2 56h2M60 56h2M58 58h1M5 62h1M57 62h1M5 63h1M57 63h1"/>
<path stroke="#383838" d="M37 33h1M34 35h1M59 56h1M1 57h1M2 58h1M3 59h1M57 60h1M57 61h1"/>
<path stroke="#3a3a3a" d="M59 3h1M32 28h1M37 29h1M31 31h1M31 32h1M33 35h1M35 35h1M0 56h1M58 57h1M57 59h1M4 60h1M5 61h1"/>
<path stroke="#3c3c3c" d="M56 -2h1M56 -1h1M58 2h1M31 30h1M60 55h2M57 58h1"/>
<path stroke="#3e3e3e" d="M57 1h1M34 27h2M31 33h1M37 34h1M36 35h1M-2 55h2M59 55h1M58 56h1M56 61h1M56 62h1M56 63h1"/>
<path stroke="#404040" d="M56 0h1M60 4h2M33 27h1M31 29h1M0 55h1M1 56h1M2 57h1M57 57h1M3 58h1M56 59h1M56 60h1M6 62h1M6 63h1"/>
<path stroke="#424242" d="M36 27h1M37 28h1M32 35h1M4 59h1M5 60h1"/>
<path stroke="#444444" d="M31 34h1M-2 54h2M60 54h2M56 58h1M6 61h1"/>
<path stroke="#464646" d="M32 27h1M31 28h1M38 31h1M38 32h1M34 36h1M55 60h1M55 61h1M55 62h1M55 63h1"/>
<path stroke="#484848" d="M55 -2h1M55 -1h1M58 3h1M59 4h1M38 30h1M37 35h1M33 36h1M35 36h1M0 54h1M1 55h1M55 59h1"/>
<path stroke="#4a4a4a" d="M57 2h1M38 29h1M38 33h1M59 54h1M58 55h1M2 56h1M3 57h1M4 58h1M7 62h1M7 63h1"/>
<path stroke="#4c4c4c" d="M56 1h1M60 5h2M33 26h3M37 27h1M30 30h1M30 31h1M30 32h1M31 35h1M36 36h1M-2 53h2M57 56h1M5 59h1M6 60h1"/>
<path stroke="#4e4e4e" d="M55 0h1M36 26h1M31 27h1M30 29h1M30 33h1M38 34h1M32 36h1M56 57h1M54 60h1M7 61h1M54 61h1M54 62h1M54 63h1"/>
<path stroke="#505050" d="M32 26h1M38 28h1M30 34h1M0 53h1M60 53h2"/>
<path stroke="#525252" d="M59 5h1M30 28h1M38 35h1M37 36h1M34 37h1M1 54h1M2 55h1M3 56h1M55 58h1"/>
<path stroke="#545454" d="M54 -2h1M54 -1h1M58 4h1M37 26h1M38 27h1M39 31h1M31 36h1M33 37h1M35 37h1M-2 52h2M4 57h1M5 58h1"/>
<path stroke="#565656" d="M56 2h1M57 3h1M34 25h2M31 26h1M39 30h1M39 32h1M39 33h1M30 35h1M36 37h1M59 53h1M58 54h1M57 55h1M6 59h1M54 59h1M7 60h1M53 61h1M8 62h1M53 62h1M8 63h1M53 63h1"/>
<path stroke="#585858" d="M55 1h1M60 6h2M33 25h1M30 27h1M39 29h1M32 37h1M56 56h1M8 61h1"/>
<path stroke="#5a5a5a" d="M54 0h1M32 25h1M36 25h1M29 30h1M29 31h1M29 32h1M39 34h1M38 36h1M0 52h1M1 53h1M2 54h1M55 57h1M53 60h1"/>
<path stroke="#5c5c5c" d="M59 6h1M39 28h1M29 29h1M29 33h1M37 37h1M-2 51h2M3 55h1M4 56h1M5 57h1"/>
<path stroke="#5e5e5e" d="M-2 -2h7M53 -2h1M-2 -1h7M53 -1h1M-2 0h7M-2 1h6M-2 2h5M0 3h2M57 4h1M58 5h1M38 26h1M30 36h1M31 37h1M60 52h2M6 58h1M54 58h1M52 62h1M52 63h1"/>
<path stroke="#606060" d="M5 -2h1M5 -1h1M3 2h1M55 2h1M-2 3h2M2 3h1M56 3h1M-2 4h4M-2 5h3M37 25h1M30 26h1M29 28h1M29 34h1M39 35h1M34 38h2M7 59h1M52 61h1M9 62h1M9 63h1"/>
<path stroke="#626262" d="M5 0h1M53 0h1M4 1h1M54 1h1M-2 6h2M60 7h2M31 25h1M39 27h1M33 38h1M0 51h1M1 52h1M2 53h1M58 53h1M57 54h1M53 59h1M8 60h1"/>
<path stroke="#646464" d="M1 5h1M0 6h1M33 24h3M29 35h1M38 37h1M32 38h1M36 38h1M-2 50h2M59 52h1M3 54h1M4 55h1M56 55h1M9 61h1"/>
<path stroke="#666666" d="M6 -2h1M6 -1h1M4 2h1M3 3h1M2 4h1M-2 7h2M59 7h1M36 24h1M29 27h1M40 30h1M40 31h1M40 32h1M39 36h1M5 56h1M55 56h1M6 57h1M52 60h1"/>
<path stroke="#686868" d="M52 -2h1M52 -1h1M6 0h1M5 1h1M56 4h1M57 5h1M58 6h1M0 7h1M32 24h1M38 25h1M40 29h1M40 33h1M30 37h1M37 38h1M54 57h1M7 58h1M51 62h1M51 63h1"/>
<path stroke="#6a6a6a" d="M52 0h1M53 1h1M54 2h1M55 3h1M2 5h1M1 6h1M-2 8h2M30 25h1M39 26h1M40 34h1M29 36h1M31 38h1M0 50h1M1 51h1M8 59h1M10 62h1M10 63h1"/>
<path stroke="#6c6c6c" d="M7 -2h1M7 -1h1M5 2h1M4 3h1M3 4h1M60 8h2M37 24h1M40 28h1M28 30h1M28 31h1M28 32h1M-2 49h2M60 51h2M2 52h1M3 53h1M53 58h1M9 60h1M51 61h1"/>
<path stroke="#6e6e6e" d="M51 -2h1M51 -1h1M7 0h1M6 1h1M1 7h1M0 8h1M31 24h1M29 26h1M28 29h1M28 33h1M34 39h2M4 54h1M52 59h1M10 61h1"/>
<path stroke="#707070" d="M3 5h1M2 6h1M58 7h1M59 8h1M-2 9h2M40 27h1M28 34h1M40 35h1M39 37h1M38 38h1M33 39h1M58 52h1M57 53h1M56 54h1M5 55h1"/>
<path stroke="#727272" d="M8 -2h1M8 -1h1M51 0h1M52 1h1M6 2h1M53 2h1M5 3h1M54 3h1M4 4h1M55 4h1M56 5h1M57 6h1M0 9h1M33 23h3M38 24h1M39 25h1M28 28h1M30 38h1M32 39h1M36 39h1M0 49h1M1 50h1M59 51h1M55 55h1M6 56h1M51 60h1"/>
<path stroke="#747474" d="M8 0h1M7 1h1M2 7h1M1 8h1M-2 10h2M36 23h1M28 35h1M29 37h1M-2 48h2M2 51h1M54 56h1M7 57h1M50 62h1M50 63h1"/>
<path stroke="#767676" d="M50 -2h1M50 -1h1M4 5h1M3 6h1M60 9h2M32 23h1M30 24h1M29 25h1M28 27h1M40 36h1M37 39h1M3 52h1M53 57h1M8 58h1M11 62h1M11 63h1"/>
<path stroke="#787878" d="M9 -2h1M9 -1h1M7 2h1M6 3h1M5 4h1M1 9h1M0 10h1M37 23h1M40 26h1M41 30h1M41 31h1M41 32h1M31 39h1M0 48h1M4 53h1M9 59h1M50 61h1"/>
<path stroke="#7a7a7a" d="M9 0h1M50 0h1M8 1h1M51 1h1M3 7h1M2 8h1M58 8h1M-2 11h2M31 23h1M41 29h1M41 33h1M28 36h1M39 38h1M1 49h1M60 50h2M5 54h1M52 58h1M10 60h1M11 61h1"/>
<path stroke="#7c7c7c" d="M52 2h1M53 3h1M54 4h1M5 5h1M55 5h1M4 6h1M56 6h1M57 7h1M59 9h1M0 11h1M39 24h1M28 26h1M41 28h1M41 34h1M40 37h1M29 38h1M38 39h1M-2 47h2M2 50h1M6 55h1M51 59h1"/>
<path stroke="#7e7e7e" d="M10 -2h1M49 -2h1M10 -1h1M49 -1h1M8 2h1M7 3h1M6 4h1M2 9h1M1 10h1M-2 12h2M38 23h1M40 25h1M27 30h1M27 31h1M27 32h1M27 33h1M30 39h1M33 40h3M58 51h1M57 52h1M56 53h1M55 54h1M7 56h1"/>
<path stroke="#818181" d="M10 0h1M9 1h1M4 7h1M3 8h1M60 10h2M33 22h3M29 24h1M41 27h1M27 29h1M27 34h1M41 35h1M28 37h1M32 40h1M36 40h1M0 47h1M59 50h1M3 51h1M54 55h1M8 57h1M50 60h1M49 62h1M49 63h1"/>
<path stroke="#838383" d="M11 -2h1M11 -1h1M49 0h1M50 1h1M6 5h1M5 6h1M1 11h1M0 12h1M32 22h1M36 22h1M30 23h1M28 25h1M27 28h1M37 40h1M-2 46h2M1 48h1M4 52h1M53 56h1M9 58h1M12 62h1M12 63h1"/>
<path stroke="#858585" d="M48 -2h1M48 -1h1M9 2h1M51 2h1M8 3h1M52 3h1M7 4h1M58 9h1M2 10h1M-2 13h2M27 35h1M41 36h1M39 39h1M31 40h1M52 57h1M10 59h1M49 61h1"/>
<path stroke="#878787" d="M11 0h1M10 1h1M53 4h1M54 5h1M55 6h1M56 7h1M4 8h1M57 8h1M3 9h1M59 10h1M0 13h1M31 22h1M37 22h1M41 26h1M27 27h1M40 38h1M2 49h1M5 53h1M6 54h1M51 58h1M11 60h1"/>
<path stroke="#898989" d="M12 -2h1M12 -1h1M48 0h1M6 6h1M5 7h1M1 12h1M-2 14h2M39 23h1M40 24h1M28 38h1M29 39h1M38 40h1M0 46h1M60 49h2M3 50h1M7 55h1M50 59h1M12 61h1"/>
<path stroke="#8b8b8b" d="M47 -2h1M47 -1h1M12 0h1M49 1h1M9 3h1M8 4h1M7 5h1M3 10h1M2 11h1M29 23h1M27 26h1M42 30h1M42 31h1M42 32h1M27 36h1M41 37h1M30 40h1M-2 45h2M1 47h1M57 51h1M56 52h1M8 56h1M48 62h1M48 63h1"/>
<path stroke="#8d8d8d" d="M11 1h1M10 2h1M50 2h1M51 3h1M4 9h1M60 11h2M0 14h1M-2 15h2M38 22h1M28 24h1M41 25h1M42 29h1M42 33h1M42 34h1M33 41h3M59 49h1M58 50h1M4 51h1M55 53h1M54 54h1M9 57h1M10 58h1M49 60h1M13 62h1M13 63h1"/>
<path stroke="#8f8f8f" d="M13 -2h1M13 -1h1M52 4h1M53 5h1M6 7h1M5 8h1M2 12h1M1 13h1M33 21h3M30 22h1M42 28h1M40 39h1M32 41h1M36 41h1M0 45h1M2 48h1M5 52h1M53 55h1M52 56h1M11 59h1M48 61h1"/>
<path stroke="#919191" d="M13 0h1M47 0h1M12 1h1M9 4h1M8 5h1M7 6h1M54 6h1M55 7h1M56 8h1M57 9h1M58 10h1M3 11h1M59 11h1M0 15h1M32 21h1M36 21h1M26 29h1M26 30h1M26 31h1M26 32h1M26 33h1M42 35h1M27 37h1M39 40h1M37 41h1M-2 44h2M6 53h1M51 57h1M12 60h1"/>
<path stroke="#939393" d="M14 -2h1M46 -2h1M14 -1h1M46 -1h1M48 1h1M11 2h1M10 3h1M4 10h1M1 14h1M-2 16h2M37 21h1M39 22h1M40 23h1M27 25h1M42 27h1M26 28h1M26 34h1M41 38h1M28 39h1M29 40h1M31 41h1M1 46h1M3 49h1M7 54h1M50 58h1M13 61h1"/>
<path stroke="#959595" d="M14 0h1M49 2h1M50 3h1M6 8h1M5 9h1M2 13h1M0 16h1M31 21h1M28 23h1M41 24h1M26 35h1M42 36h1M60 48h2M4 50h1M8 55h1M49 59h1"/>
<path stroke="#979797" d="M15 -2h1M45 -2h1M15 -1h1M45 -1h1M46 0h1M13 1h1M12 2h1M51 4h1M8 6h1M7 7h1M3 12h1M60 12h2M-2 17h2M29 22h1M42 26h1M26 27h1M27 38h1M38 41h1M-2 43h2M0 44h1M2 47h1M5 51h1M9 56h1M10 57h1M48 60h1M14 62h1M47 62h1M14 63h1M47 63h1"/>
<path stroke="#999999" d="M15 0h1M47 1h1M11 3h1M10 4h1M9 5h1M52 5h1M53 6h1M54 7h1M5 10h1M4 11h1M1 15h1M38 21h1M27 24h1M26 36h1M30 41h1M3 48h1M58 49h1M57 50h1M56 51h1M55 52h1M54 53h1M53 54h1M11 58h1M12 59h1"/>
<path stroke="#9b9b9b" d="M16 -2h1M16 -1h1M45 0h1M14 1h1M48 2h1M55 8h1M6 9h1M56 9h1M57 10h1M58 11h1M59 12h1M2 14h1M0 17h1M-2 18h2M30 21h1M26 26h1M42 37h1M41 39h1M40 40h1M33 42h3M1 45h1M59 48h1M6 52h1M52 55h1M51 56h1M13 60h1M14 61h1M47 61h1"/>
<path stroke="#9d9d9d" d="M17 -2h1M44 -2h1M17 -1h1M44 -1h1M16 0h1M13 2h1M12 3h1M49 3h1M8 7h1M7 8h1M3 13h1M1 16h1M33 20h3M40 22h1M41 23h1M42 25h1M43 30h1M43 31h1M43 32h1M43 33h1M28 40h1M39 41h1M-2 42h2M32 42h1M36 42h1M0 43h1M2 46h1M4 49h1M7 53h1M50 57h1"/>
<path stroke="#9f9f9f" d="M15 1h1M46 1h1M11 4h1M50 4h1M10 5h1M51 5h1M9 6h1M52 6h1M5 11h1M4 12h1M2 15h1M0 18h1M-2 19h2M32 20h1M36 20h1M39 21h1M28 22h1M43 28h1M43 29h1M43 34h1M26 37h1M27 39h1M29 41h1M37 42h1M8 54h1M49 58h1"/>
<path stroke="#a1a1a1" d="M18 -2h1M43 -2h1M18 -1h1M43 -1h1M17 0h1M44 0h1M14 2h1M47 2h1M53 7h1M54 8h1M55 9h1M6 10h1M60 13h2M3 14h1M1 17h1M37 20h1M29 21h1M27 23h1M26 25h1M25 31h1M43 35h1M42 38h1M31 42h1M1 44h1M3 47h1M5 50h1M9 55h1M10 56h1M48 59h1M47 60h1M15 62h1M46 62h1M15 63h1M46 63h1"/>
<path stroke="#a3a3a3" d="M19 -2h1M19 -1h1M18 0h1M16 1h1M45 1h1M13 3h1M48 3h1M9 7h1M8 8h1M7 9h1M56 10h1M57 11h1M4 13h1M0 19h1M-2 20h2M31 20h1M42 24h1M43 27h1M25 29h1M25 30h1M25 32h1M25 33h1M-2 41h2M0 42h1M38 42h1M60 47h2M6 51h1M55 51h1M54 52h1M11 57h1M12 58h1"/>
<path stroke="#a5a5a5" d="M20 -2h1M42 -2h1M20 -1h1M42 -1h1M19 0h1M43 0h1M17 1h1M15 2h1M12 4h1M49 4h1M11 5h1M50 5h1M10 6h1M51 6h1M5 12h1M58 12h1M2 16h1M38 20h1M25 28h1M25 34h1M43 36h1M26 38h1M41 40h1M40 41h1M30 42h1M2 45h1M4 48h1M57 49h1M56 50h1M53 53h1M52 54h1M51 55h1M13 59h1M14 60h1M15 61h1M46 61h1"/>
<path stroke="#a7a7a7" d="M21 -2h1M21 -1h1M20 0h1M46 2h1M14 3h1M52 7h1M53 8h1M7 10h1M6 11h1M59 13h1M3 15h1M1 18h1M0 20h1M30 20h1M-2 21h2M40 21h1M41 22h1M26 24h1M43 26h1M25 27h1M25 35h1M-2 40h2M0 41h1M28 41h1M1 43h1M3 46h1M59 47h1M58 48h1M7 52h1M50 56h1M49 57h1"/>
<path stroke="#a9a9a9" d="M22 -2h1M41 -2h1M22 -1h1M41 -1h1M21 0h1M42 0h1M18 1h1M44 1h1M16 2h1M47 3h1M13 4h1M48 4h1M12 5h1M11 6h1M10 7h1M9 8h1M8 9h1M54 9h1M55 10h1M56 11h1M4 14h1M2 17h1M33 19h3M28 21h1M27 22h1M42 23h1M25 36h1M43 37h1M42 39h1M27 40h1M39 42h1M32 43h5M2 44h1M5 49h1M8 53h1M48 58h1M16 62h1M45 62h1M16 63h1M45 63h1"/>
<path stroke="#ababab" d="M23 -2h2M40 -2h1M23 -1h2M40 -1h1M22 0h1M41 0h1M19 1h1M17 2h1M45 2h1M15 3h1M49 5h1M50 6h1M57 12h1M5 13h1M3 16h1M1 19h1M32 19h1M36 19h1M29 20h1M39 20h1M0 21h1M-2 22h2M43 25h1M25 26h1M-2 39h2M26 39h1M0 40h1M1 42h1M29 42h1M37 43h1M9 54h1M10 55h1M47 59h1M46 60h1"/>
<path stroke="#adadad" d="M25 -2h1M39 -2h1M25 -1h1M39 -1h1M23 0h1M20 1h1M43 1h1M16 3h1M46 3h1M14 4h1M13 5h1M12 6h1M11 7h1M51 7h1M10 8h1M52 8h1M9 9h1M8 10h1M7 11h1M6 12h1M58 13h1M60 14h2M2 18h1M31 19h1M37 19h1M-2 23h2M26 23h1M25 25h1M44 29h1M44 30h1M44 31h1M44 32h1M44 33h1M25 37h1M31 43h1M4 47h1M6 50h1M11 56h1M12 57h1M16 61h1M45 61h1"/>
<path stroke="#afafaf" d="M26 -2h2M38 -2h1M26 -1h2M38 -1h1M24 0h1M40 0h1M21 1h1M42 1h1M18 2h1M44 2h1M15 4h1M47 4h1M48 5h1M53 9h1M54 10h1M59 14h1M4 15h1M38 19h1M1 20h1M41 21h1M0 22h1M43 24h1M44 28h1M24 30h1M24 31h1M24 32h1M44 34h1M-2 38h2M43 38h1M0 39h1M27 41h1M41 41h1M2 43h1M30 43h1M38 43h1M3 45h1M60 46h2M56 49h1M55 50h1M7 51h1M54 51h1M53 52h1M52 53h1M51 54h1M50 55h1M13 58h1M14 59h1M15 60h1"/>
<path stroke="#b1b1b1" d="M28 -2h3M36 -2h2M28 -1h3M36 -1h2M25 0h2M39 0h1M22 1h1M19 2h1M17 3h1M45 3h1M14 5h1M13 6h1M49 6h1M50 7h1M51 8h1M10 9h1M9 10h1M8 11h1M55 11h1M7 12h1M56 12h1M6 13h1M5 14h1M3 17h1M2 19h1M30 19h1M40 20h1M27 21h1M42 22h1M0 23h1M-2 24h2M44 27h1M24 28h1M24 29h1M24 33h1M24 34h1M44 35h1M25 38h1M26 40h1M42 40h1M1 41h1M28 42h1M40 42h1M5 48h1M57 48h1M8 52h1M49 56h1M48 57h1M17 62h1M17 63h1"/>
<path stroke="#b3b3b3" d="M31 -2h5M31 -1h5M27 0h2M37 0h2M23 1h1M41 1h1M20 2h1M43 2h1M18 3h1M16 4h1M46 4h1M12 7h1M11 8h1M52 9h1M53 10h1M57 13h1M4 16h1M33 18h4M39 19h1M28 20h1M1 21h1M26 22h1M25 24h1M-2 25h2M44 26h1M24 27h1M24 35h1M-2 37h2M0 38h1M33 44h3M4 46h1M59 46h1M58 47h1M9 53h1M47 58h1M46 59h1M44 62h1M44 63h1"/>
<path stroke="#b5b5b5" d="M29 0h8M24 1h1M40 1h1M21 2h1M42 2h1M44 3h1M15 5h1M47 5h1M14 6h1M48 6h1M49 7h1M50 8h1M51 9h1M54 11h1M6 14h1M58 14h1M5 15h1M60 15h2M3 18h1M32 18h1M37 18h1M29 19h1M2 20h1M1 22h1M43 23h1M0 24h1M-2 26h2M-2 36h2M24 36h1M44 36h1M25 39h1M1 40h1M2 42h1M29 43h1M39 43h1M3 44h1M32 44h1M36 44h1M6 49h1M53 51h1M52 52h1M51 53h1M10 54h1M45 60h1M17 61h1M44 61h1"/>
<path stroke="#b7b7b7" d="M25 1h2M39 1h1M22 2h1M19 3h1M17 4h1M45 4h1M16 5h1M46 5h1M13 7h1M12 8h1M11 9h1M10 10h1M52 10h1M9 11h1M53 11h1M8 12h1M55 12h1M7 13h1M4 17h1M31 18h1M41 20h1M42 21h1M25 23h1M0 25h1M44 25h1M24 26h1M-2 27h2M-2 35h2M0 37h1M43 39h1M31 44h1M37 44h1M5 47h1M7 50h1M54 50h1M50 54h1M11 55h1M49 55h1M12 56h1M13 57h1M14 58h1M15 59h1M16 60h1"/>
<path stroke="#b9b9b9" d="M27 1h3M37 1h2M23 2h1M41 2h1M20 3h1M43 3h1M18 4h1M15 6h1M47 6h1M48 7h1M49 8h1M50 9h1M51 10h1M54 12h1M56 13h1M59 15h1M5 16h1M30 18h1M38 18h1M3 19h1M40 19h1M27 20h1M2 21h1M1 23h1M24 25h1M0 26h1M-2 28h2M45 30h1M45 31h1M45 32h1M-2 34h2M0 36h1M24 37h1M44 37h1M1 39h1M2 41h1M26 41h1M27 42h1M3 43h1M4 45h1M55 49h1M48 56h1M47 57h1M18 62h1M43 62h1M18 63h1M43 63h1"/>
<path stroke="#bbbbbb" d="M30 1h7M24 2h1M40 2h1M21 3h1M42 3h1M19 4h1M44 4h1M17 5h1M45 5h1M14 7h1M13 8h1M12 9h1M11 10h1M10 11h1M52 11h1M9 12h1M53 12h1M8 13h1M55 13h1M7 14h1M57 14h1M6 15h1M4 18h1M28 19h1M26 21h1M43 22h1M1 24h1M44 24h1M0 27h1M45 28h1M-2 29h2M45 29h1M-2 30h2M-2 31h2M-2 32h2M-2 33h2M45 33h1M0 35h1M1 38h1M25 40h1M42 41h1M41 42h1M28 43h1M30 44h1M38 44h1M60 45h2M57 47h1M56 48h1M8 51h1M46 58h1M45 59h1M44 60h1"/>
<path stroke="#bdbdbd" d="M25 2h2M39 2h1M22 3h1M41 3h1M43 4h1M16 6h1M46 6h1M47 7h1M48 8h1M49 9h1M50 10h1M51 11h1M54 13h1M58 15h1M60 16h2M5 17h1M32 17h5M29 18h1M39 18h1M3 20h1M2 22h1M25 22h1M24 24h1M45 27h1M0 28h1M0 29h1M23 29h1M23 30h1M23 31h1M23 32h1M0 33h1M23 33h1M0 34h1M23 34h1M45 34h1M24 38h1M2 40h1M40 43h1M34 45h1M58 46h1M6 48h1M53 50h1M52 51h1M9 52h1M51 52h1M50 53h1M49 54h1M17 60h1M18 61h1M43 61h1"/>
<path stroke="#bfbfbf" d="M27 2h4M37 2h2M23 3h2M20 4h2M18 5h1M44 5h1M17 6h1M15 7h1M14 8h1M13 9h1M48 9h1M12 10h1M49 10h1M11 11h1M10 12h1M52 12h1M53 13h1M56 14h1M6 16h1M31 17h1M37 17h1M4 19h1M41 19h1M42 20h1M2 23h1M44 23h1M1 25h1M45 26h1M23 27h1M23 28h1M0 30h1M0 31h1M0 32h1M23 35h1M45 35h1M1 37h1M44 38h1M43 40h1M3 42h1M4 44h1M29 44h1M39 44h1M32 45h2M35 45h2M59 45h1M5 46h1M54 49h1M10 53h1M11 54h1M48 55h1M47 56h1M15 58h1M16 59h1M19 62h1M19 63h1"/>
<path stroke="#c1c1c1" d="M31 2h6M25 3h1M40 3h1M22 4h1M42 4h1M19 5h1M45 6h1M16 7h1M46 7h1M47 8h1M50 11h1M51 12h1M9 13h1M8 14h1M55 14h1M7 15h1M59 16h1M30 17h1M38 17h1M28 18h1M40 18h1M27 19h1M26 20h1M3 21h1M25 21h1M43 21h1M24 23h1M45 25h1M1 26h1M23 26h1M1 36h1M23 36h1M45 36h1M2 39h1M24 39h1M44 39h1M25 41h1M26 42h1M42 42h1M27 43h1M41 43h1M31 45h1M37 45h1M55 48h1M7 49h1M12 55h1M13 56h1M14 57h1M46 57h1M45 58h1M44 59h1M19 61h1M42 62h1M42 63h1"/>
<path stroke="#c3c3c3" d="M26 3h2M39 3h1M23 4h1M41 4h1M20 5h1M43 5h1M18 6h1M44 6h1M17 7h1M45 7h1M15 8h1M46 8h1M14 9h1M47 9h1M13 10h1M48 10h1M12 11h1M49 11h1M50 12h1M52 13h1M54 14h1M57 15h1M32 16h5M29 17h1M39 17h1M5 18h1M4 20h1M3 22h1M24 22h1M44 22h1M2 24h1M45 24h1M23 25h1M1 27h1M1 28h1M1 35h1M23 37h1M45 37h1M2 38h1M24 40h1M3 41h1M43 41h1M28 44h1M40 44h1M30 45h1M38 45h1M6 47h1M56 47h1M8 50h1M52 50h1M51 51h1M50 52h1M49 53h1M48 54h1M18 60h1M43 60h1M42 61h1M20 62h1M20 63h1"/>
<path stroke="#c5c5c5" d="M28 3h3M37 3h2M24 4h1M40 4h1M21 5h1M42 5h1M19 6h1M16 8h1M15 9h1M11 12h1M10 13h1M51 13h1M9 14h1M53 14h1M8 15h1M56 15h1M7 16h1M31 16h1M37 16h1M58 16h1M6 17h1M60 17h2M27 18h1M41 18h1M26 19h1M42 19h1M25 20h1M43 20h1M23 24h1M2 25h1M1 29h1M46 29h1M1 30h1M46 30h1M1 31h1M46 31h1M1 32h1M46 32h1M1 33h1M46 33h1M1 34h1M23 38h1M45 38h1M44 40h1M25 42h1M4 43h1M26 43h1M60 44h2M5 45h1M29 45h1M39 45h1M33 46h3M57 46h1M53 49h1M9 51h1M47 55h1M46 56h1M17 59h1"/>
<path stroke="#c7c7c7" d="M31 3h6M25 4h2M22 5h1M20 6h1M43 6h1M18 7h1M44 7h1M17 8h1M45 8h1M46 9h1M14 10h1M47 10h1M13 11h1M48 11h1M12 12h1M49 12h1M50 13h1M52 14h1M54 15h2M30 16h1M38 16h1M28 17h1M40 17h1M59 17h1M5 19h1M4 21h1M24 21h1M44 21h1M3 23h1M23 23h1M45 23h1M2 26h1M46 27h1M22 28h1M46 28h1M22 29h1M22 30h1M22 31h1M22 32h1M22 33h1M22 34h1M46 34h1M46 35h1M2 37h1M23 39h1M3 40h1M24 41h1M43 42h1M42 43h1M27 44h1M41 44h1M58 45h1M31 46h2M36 46h2M7 48h1M54 48h1M10 52h1M11 53h1M12 54h1M13 55h1M14 56h1M15 57h1M45 57h1M16 58h1M44 58h1M43 59h1M20 61h1M21 62h1M41 62h1M21 63h1M41 63h1"/>
<path stroke="#c9c9c9" d="M27 4h1M39 4h1M23 5h1M41 5h1M21 6h1M42 6h1M19 7h1M18 8h1M16 9h1M15 10h1M14 11h1M11 13h1M10 14h1M51 14h1M32 15h5M53 15h1M29 16h1M39 16h1M57 16h1M41 17h1M6 18h1M26 18h1M42 18h1M25 19h1M43 19h1M23 22h1M45 22h1M46 25h1M22 26h1M46 26h1M2 27h1M22 27h1M22 35h1M2 36h1M22 36h1M46 36h1M3 39h1M45 39h1M44 41h1M4 42h1M59 44h1M28 45h1M40 45h1M30 46h1M38 46h1M55 47h1M51 50h1M50 51h1M49 52h1M48 53h1M47 54h1M18 59h1M19 60h1M42 60h1M41 61h1"/>
<path stroke="#cbcbcb" d="M28 4h2M37 4h2M24 5h2M40 5h1M22 6h1M41 6h1M20 7h1M43 7h1M44 8h1M17 9h1M45 9h1M16 10h1M46 10h1M47 11h1M13 12h1M48 12h1M12 13h1M49 13h1M50 14h1M9 15h1M31 15h1M37 15h2M52 15h1M8 16h1M28 16h1M40 16h1M55 16h2M7 17h1M27 17h1M5 20h1M24 20h1M44 20h1M4 22h1M3 24h1M22 24h1M46 24h1M22 25h1M2 28h1M2 34h1M2 35h1M22 37h1M46 37h1M23 40h1M45 40h1M24 42h1M44 42h1M25 43h1M43 43h1M5 44h1M26 44h1M42 44h1M6 46h1M39 46h1M56 46h1M8 49h1M52 49h1M9 50h1M46 55h1M45 56h1M44 57h1M17 58h1M21 61h1M22 62h1M40 62h1M22 63h1M40 63h1"/>
<path stroke="#cdcdcd" d="M30 4h7M26 5h1M38 5h2M23 6h1M21 7h1M42 7h1M19 8h1M43 8h1M18 9h1M44 9h1M45 10h1M15 11h1M46 11h1M14 12h1M47 12h1M48 13h1M11 14h1M33 14h3M49 14h1M29 15h2M39 15h1M51 15h1M54 16h1M26 17h1M42 17h1M58 17h1M25 18h1M43 18h1M60 18h2M6 19h1M23 21h1M45 21h1M22 23h1M46 23h1M3 25h1M2 29h1M2 30h1M2 31h1M2 32h1M2 33h1M3 38h1M22 38h1M46 38h1M4 41h1M23 41h1M45 41h1M27 45h1M41 45h1M57 45h1M29 46h1M32 47h5M54 47h1M53 48h1M10 51h1M11 52h1M12 53h1M13 54h1M14 55h1M15 56h1M16 57h1M43 58h1M42 59h1M20 60h1M41 60h1M22 61h1M40 61h1M23 62h1M23 63h1"/>
<path stroke="#cfcfcf" d="M27 5h4M36 5h2M24 6h1M39 6h2M22 7h1M41 7h1M20 8h1M17 10h1M16 11h1M13 13h1M12 14h1M31 14h2M36 14h2M10 15h1M28 15h1M50 15h1M27 16h1M41 16h1M52 16h2M57 17h1M7 18h1M59 18h1M24 19h1M44 19h1M23 20h1M45 20h1M5 21h1M22 22h1M46 22h1M4 23h1M3 26h1M21 30h1M21 31h1M3 37h1M22 39h1M46 39h1M5 43h1M44 43h1M60 43h2M25 44h1M43 44h1M6 45h1M42 45h1M28 46h1M40 46h1M7 47h1M31 47h1M37 47h1M50 50h1M49 51h1M48 52h1M47 53h1M46 54h1M45 55h1M44 56h1M18 58h1M19 59h1M21 60h1M39 62h1M39 63h1"/>
<path stroke="#d1d1d1" d="M31 5h5M25 6h3M38 6h1M23 7h1M40 7h1M21 8h1M42 8h1M19 9h1M43 9h1M18 10h1M44 10h1M17 11h1M45 11h1M15 12h1M46 12h1M14 13h1M47 13h1M30 14h1M38 14h1M48 14h1M11 15h1M27 15h1M40 15h1M49 15h1M9 16h1M26 16h1M50 16h2M8 17h1M25 17h1M43 17h1M55 17h2M24 18h1M23 19h1M22 21h1M4 24h1M21 25h1M21 26h1M47 26h1M3 27h1M21 27h1M47 27h1M21 28h1M47 28h1M21 29h1M47 29h1M47 30h1M47 31h1M21 32h1M47 32h1M21 33h1M47 33h1M21 34h1M47 34h1M21 35h1M47 35h1M3 36h1M4 40h1M22 40h1M46 40h1M23 42h1M45 42h1M24 43h1M58 44h1M26 45h1M41 46h1M55 46h1M30 47h1M38 47h1M8 48h1M52 48h1M51 49h1M17 57h1M43 57h1M42 58h1M41 59h1M40 60h1M23 61h1M39 61h1M24 62h1M24 63h1"/>
<path stroke="#d3d3d3" d="M28 6h4M36 6h2M24 7h2M39 7h1M22 8h1M41 8h1M20 9h1M42 9h1M19 10h1M43 10h1M44 11h1M16 12h1M45 12h1M15 13h1M32 13h5M46 13h1M13 14h1M28 14h2M39 14h1M47 14h1M12 15h1M26 15h1M41 15h1M48 15h1M10 16h1M25 16h1M42 16h1M24 17h1M52 17h3M23 18h1M44 18h1M58 18h1M45 19h1M6 20h1M22 20h1M46 21h1M5 22h1M21 22h1M21 23h1M21 24h1M47 24h1M47 25h1M3 28h1M3 29h1M3 34h1M3 35h1M21 36h1M47 36h1M21 37h1M47 37h1M4 39h1M46 41h1M5 42h1M59 43h1M44 44h1M43 45h1M56 45h1M7 46h1M27 46h1M29 47h1M39 47h1M53 47h1M9 49h1M10 50h1M11 51h1M45 54h1M15 55h1M44 55h1M16 56h1M43 56h1M20 59h1M22 60h1M24 61h1M25 62h1M38 62h1M25 63h1M38 63h1"/>
<path stroke="#d5d5d5" d="M32 6h4M26 7h3M38 7h1M23 8h2M40 8h1M21 9h2M41 9h1M20 10h1M42 10h1M18 11h2M43 11h1M17 12h1M44 12h1M29 13h3M37 13h2M14 14h1M27 14h1M40 14h1M25 15h1M42 15h1M11 16h1M24 16h1M43 16h1M49 16h1M9 17h1M23 17h1M44 17h1M50 17h2M22 18h1M56 18h2M7 19h1M22 19h1M60 19h2M21 20h1M46 20h1M21 21h1M47 23h1M4 25h1M3 30h1M3 31h1M3 32h1M3 33h1M21 38h1M47 38h1M47 39h1M22 41h1M23 43h1M45 43h1M6 44h1M24 44h1M57 44h1M25 45h1M26 46h1M42 46h1M54 46h1M28 47h1M40 47h1M31 48h8M50 49h1M49 50h1M48 51h1M12 52h1M47 52h1M13 53h1M46 53h1M14 54h1M18 57h1M42 57h1M19 58h1M41 58h1M21 59h1M40 59h1M23 60h1M39 60h1M25 61h1M38 61h1M26 62h2M37 62h1M26 63h2M37 63h1"/>
<path stroke="#d7d7d7" d="M29 7h4M35 7h3M25 8h2M39 8h1M23 9h2M40 9h1M21 10h2M41 10h1M20 11h2M42 11h1M18 12h2M30 12h8M16 13h2M27 13h2M39 13h2M45 13h1M15 14h1M25 14h2M41 14h1M46 14h1M13 15h1M24 15h1M43 15h1M47 15h1M23 16h1M44 16h1M48 16h1M10 17h1M22 17h1M8 18h1M45 18h1M51 18h5M21 19h1M46 19h1M59 19h1M6 21h1M20 22h1M47 22h1M5 23h1M20 23h1M20 24h1M20 25h1M4 26h1M20 26h1M20 27h1M4 38h1M21 39h1M21 40h1M47 40h1M5 41h1M22 42h1M46 42h1M60 42h2M58 43h1M23 44h1M45 44h1M24 45h1M44 45h1M55 45h1M25 46h1M43 46h1M8 47h1M27 47h1M41 47h1M29 48h2M39 48h1M51 48h1M32 49h5M49 49h1M48 50h1M47 51h1M46 52h1M15 54h1M44 54h1M16 55h1M43 55h1M17 56h1M42 56h1M19 57h1M41 57h1M20 58h1M40 58h1M22 59h1M39 59h1M24 60h1M38 60h1M26 61h2M37 61h1M28 62h3M36 62h1M28 63h3M36 63h1"/>
<path stroke="#d9d9d9" d="M33 7h2M27 8h3M37 8h2M25 9h2M38 9h2M23 10h2M39 10h2M22 11h1M31 11h11M20 12h2M27 12h3M38 12h6M18 13h3M26 13h1M41 13h1M44 13h1M16 14h3M24 14h1M42 14h1M45 14h1M14 15h1M23 15h1M12 16h1M22 16h1M21 17h1M45 17h1M49 17h1M9 18h1M21 18h1M46 18h1M50 18h1M20 19h1M58 19h1M20 20h1M47 20h1M20 21h1M47 21h1M48 26h1M4 27h1M48 27h1M20 28h1M48 28h1M20 29h1M48 29h1M20 30h1M20 31h1M20 32h1M20 33h1M20 34h1M48 34h1M20 35h1M48 35h1M4 36h1M20 36h1M4 37h1M20 37h1M21 41h1M47 41h1M6 43h1M22 43h1M46 43h1M7 45h1M24 46h1M26 47h1M42 47h1M52 47h1M9 48h1M27 48h2M40 48h2M50 48h1M10 49h1M29 49h3M37 49h3M12 51h1M13 52h1M14 53h1M45 53h1M17 55h1M18 56h1M20 57h1M21 58h1M23 59h2M25 60h2M37 60h1M28 61h5M35 61h2M31 62h5M31 63h5"/>
<path stroke="#dbdbdb" d="M30 8h7M27 9h11M25 10h14M23 11h8M22 12h2M25 12h2M21 13h2M24 13h2M42 13h2M19 14h2M23 14h1M43 14h2M15 15h5M22 15h1M44 15h1M46 15h1M13 16h1M21 16h1M45 16h1M47 16h1M11 17h1M46 17h1M48 17h1M20 18h1M49 18h1M8 19h1M47 19h1M52 19h1M56 19h2M7 20h1M60 20h2M6 22h1M48 22h1M48 23h1M5 24h1M48 24h1M48 25h1M4 28h1M48 30h1M48 31h1M48 32h1M48 33h1M4 35h1M48 36h1M48 37h1M20 38h1M48 38h1M20 39h1M5 40h1M21 42h1M47 42h1M59 42h1M21 43h1M22 44h1M46 44h1M56 44h1M23 45h1M45 45h1M44 46h1M53 46h1M25 47h1M43 47h1M51 47h1M26 48h1M42 48h1M49 48h1M28 49h1M40 49h1M48 49h1M11 50h1M30 50h9M47 50h1M46 51h1M14 52h1M45 52h1M15 53h1M44 53h1M16 54h1M43 54h1M18 55h1M42 55h1M19 56h1M41 56h1M21 57h1M40 57h1M22 58h2M39 58h1M25 59h2M38 59h1M27 60h5M36 60h1M33 61h2"/>
<path stroke="#dddddd" d="M24 12h1M23 13h1M21 14h2M20 15h2M45 15h1M14 16h7M46 16h1M12 17h1M20 17h1M10 18h1M47 18h1M19 19h1M50 19h2M53 19h3M19 20h1M48 20h1M59 20h1M19 21h1M48 21h1M19 22h1M19 23h1M19 24h1M5 25h1M19 25h1M19 26h1M4 29h1M4 30h1M4 31h1M4 32h1M4 33h1M4 34h1M5 39h1M48 39h1M20 40h1M48 40h1M20 41h1M6 42h1M47 43h1M57 43h1M21 44h1M22 45h1M46 45h1M54 45h1M8 46h1M23 46h1M45 46h1M52 46h1M24 47h1M44 47h1M50 47h1M25 48h1M43 48h1M48 48h1M27 49h1M41 49h1M47 49h1M12 50h1M28 50h2M39 50h2M46 50h1M13 51h1M32 51h5M45 51h1M15 52h1M44 52h1M16 53h1M43 53h1M17 54h1M42 54h1M19 55h1M41 55h1M20 56h1M40 56h1M22 57h1M39 57h1M24 58h2M38 58h1M27 59h3M36 59h2M32 60h4"/>
<path stroke="#dfdfdf" d="M13 17h1M16 17h4M47 17h1M11 18h1M19 18h1M48 18h1M9 19h1M48 19h2M8 20h1M52 20h1M58 20h1M7 21h1M6 23h1M19 27h1M19 28h1M19 29h1M19 30h1M19 31h1M19 32h1M19 33h1M19 34h1M19 35h1M19 36h1M5 38h1M48 41h1M60 41h2M20 42h1M48 42h1M58 42h1M20 43h1M7 44h1M47 44h1M55 44h1M22 46h1M46 46h1M50 46h2M9 47h1M23 47h1M45 47h1M48 47h2M10 48h1M24 48h1M44 48h1M46 48h2M11 49h1M25 49h2M42 49h5M13 50h1M27 50h1M41 50h5M14 51h1M29 51h3M37 51h8M41 52h3M17 53h1M41 53h2M18 54h1M40 54h2M20 55h1M40 55h1M21 56h2M39 56h1M23 57h2M38 57h1M26 58h3M36 58h2M30 59h6"/>
<path stroke="#e1e1e1" d="M14 17h2M12 18h1M16 18h3M10 19h1M18 19h1M18 20h1M50 20h2M53 20h5M18 21h1M49 21h1M60 21h2M18 22h1M49 22h1M18 23h1M49 23h1M49 24h1M49 25h1M5 26h1M49 26h1M49 27h1M49 28h1M49 29h1M49 30h1M49 31h1M49 32h1M49 33h1M49 34h1M49 35h1M49 36h1M5 37h1M19 37h1M49 37h1M19 38h1M19 39h1M19 40h1M6 41h1M19 41h1M59 41h1M48 43h1M56 43h1M20 44h1M8 45h1M21 45h1M47 45h1M51 45h3M48 46h2M22 47h1M46 47h2M11 48h1M23 48h1M45 48h1M12 49h1M24 49h1M26 50h1M15 51h1M28 51h1M16 52h1M30 52h11M18 53h1M33 53h8M19 54h1M38 54h2M21 55h1M38 55h2M23 56h1M37 56h2M25 57h3M33 57h5M29 58h7"/>
<path stroke="#e3e3e3" d="M15 18h1M17 19h1M9 20h1M49 20h1M51 21h2M59 21h1M7 22h1M6 24h1M18 24h1M18 25h1M18 26h1M5 27h1M5 36h1M49 38h1M49 39h1M49 40h1M49 41h1M19 42h1M57 42h1M7 43h1M48 44h1M54 44h1M20 45h1M48 45h3M9 46h1M21 46h1M47 46h1M10 47h1M13 49h1M14 50h1M25 50h1M16 51h1M25 51h3M17 52h1M26 52h4M19 53h1M27 53h6M20 54h2M28 54h10M22 55h16M24 56h13M28 57h5"/>
<path stroke="#e5e5e5" d="M13 18h2M11 19h1M16 19h1M17 20h1M8 21h1M50 21h1M53 21h2M57 21h2M18 27h1M5 28h1M18 28h1M5 29h1M18 29h1M5 34h1M5 35h1M6 40h1M58 41h1M49 42h1M19 43h1M49 43h1M55 43h1M19 44h1M49 44h5M20 46h1M11 47h1M21 47h1M12 48h1M21 48h2M14 49h1M20 49h4M15 50h1M20 50h5M17 51h1M19 51h6M18 52h8M20 53h7M22 54h6"/>
<path stroke="#e7e7e7" d="M12 19h1M14 19h2M10 20h1M16 20h1M17 21h1M55 21h2M17 22h1M50 22h3M59 22h3M7 23h1M50 23h1M50 24h1M6 25h1M50 25h1M50 26h1M50 27h1M50 28h1M5 30h1M18 30h1M5 31h1M18 31h1M5 32h1M18 32h1M5 33h1M18 33h1M18 34h1M18 35h1M18 36h1M18 37h1M18 38h1M6 39h1M18 39h1M18 40h1M60 40h2M18 41h1M7 42h1M56 42h1M50 43h5M8 44h1M9 45h1M19 45h1M10 46h1M19 46h1M19 47h2M13 48h1M18 48h3M15 49h1M18 49h2M16 50h4M18 51h1"/>
<path stroke="#e9e9e9" d="M13 19h1M11 20h1M15 20h1M9 21h1M16 21h1M8 22h1M53 22h1M58 22h1M17 23h1M51 23h1M17 24h1M17 25h1M6 26h1M50 29h1M50 30h1M50 31h1M50 32h1M50 33h1M50 34h1M50 35h1M50 36h1M50 37h1M50 38h1M50 39h1M50 40h1M59 40h1M50 41h1M57 41h1M18 42h1M50 42h2M18 43h1M18 44h1M18 45h1M11 46h1M18 46h1M12 47h1M17 47h2M14 48h1M17 48h1M16 49h2"/>
<path stroke="#ebebeb" d="M12 20h3M10 21h1M15 21h1M16 22h1M54 22h4M52 23h1M7 24h1M51 24h1M17 26h1M6 27h1M17 27h1M6 38h1M58 40h1M7 41h1M51 41h1M52 42h4M8 43h1M9 44h1M10 45h1M17 45h1M17 46h1M13 47h1M16 47h1M15 48h2"/>
<path stroke="#ededed" d="M11 21h1M9 22h1M8 23h1M16 23h1M53 23h1M59 23h3M52 24h1M7 25h1M51 25h1M6 28h1M17 28h1M17 29h1M17 30h1M17 31h1M17 32h1M17 33h1M17 34h1M17 35h1M6 36h1M17 36h1M6 37h1M17 37h1M17 38h1M17 39h1M51 39h1M59 39h3M7 40h1M17 40h1M51 40h1M17 41h1M52 41h1M56 41h1M8 42h1M17 42h1M17 43h1M17 44h1M11 45h1M16 45h1M12 46h1M16 46h1M14 47h2"/>
<path stroke="#efefef" d="M12 21h3M10 22h1M15 22h1M54 23h2M57 23h2M8 24h1M16 24h1M53 24h1M52 25h1M51 26h1M51 27h1M51 28h1M6 29h1M51 29h1M6 30h1M51 30h1M6 31h1M51 31h1M6 32h1M51 32h1M6 33h1M51 33h1M6 34h1M51 34h1M6 35h1M51 35h1M51 36h1M51 37h1M51 38h1M7 39h1M52 40h1M57 40h1M53 41h3M9 43h1M10 44h1M16 44h1M13 46h1M15 46h1"/>
<path stroke="#f1f1f1" d="M11 22h1M14 22h1M9 23h1M15 23h1M56 23h1M54 24h1M60 24h2M16 25h1M7 26h1M16 26h1M52 26h1M7 38h1M60 38h2M52 39h1M58 39h1M53 40h1M56 40h1M8 41h1M16 42h1M16 43h1M11 44h1M15 44h1M12 45h1M15 45h1M14 46h1"/>
<path stroke="#f3f3f3" d="M12 22h2M10 23h1M15 24h1M55 24h1M58 24h2M8 25h1M53 25h1M7 27h1M16 27h1M52 27h1M16 28h1M7 37h1M52 37h1M52 38h1M59 38h1M53 39h1M57 39h1M8 40h1M16 40h1M54 40h2M16 41h1M9 42h1M10 43h1M15 43h1M12 44h1M13 45h2"/>
<path stroke="#f5f5f5" d="M11 23h1M14 23h1M9 24h1M56 24h2M15 25h1M54 25h1M60 25h2M8 26h1M53 26h1M7 28h1M52 28h1M7 29h1M16 29h1M52 29h1M16 30h1M52 30h1M16 31h1M52 31h1M16 32h1M52 32h1M16 33h1M52 33h1M7 34h1M16 34h1M52 34h1M7 35h1M16 35h1M52 35h1M7 36h1M16 36h1M52 36h1M16 37h1M16 38h1M53 38h1M58 38h1M8 39h1M16 39h1M54 39h1M56 39h1M9 41h1M10 42h1M15 42h1M11 43h1M13 44h2"/>
<path stroke="#f7f7f7" d="M12 23h2M10 24h1M14 24h1M9 25h1M55 25h2M58 25h2M15 26h1M54 26h1M53 27h1M7 30h1M7 31h1M7 32h1M7 33h1M53 37h1M59 37h3M8 38h1M54 38h1M57 38h1M55 39h1M9 40h1M15 40h1M15 41h1M12 43h3"/>
<path stroke="#f9f9f9" d="M11 24h1M13 24h1M14 25h1M57 25h1M55 26h1M60 26h2M8 27h1M15 27h1M8 28h1M15 28h1M53 28h1M53 35h1M53 36h1M8 37h1M54 37h1M58 37h1M15 38h1M55 38h2M15 39h1M10 41h1M14 41h1M11 42h1M14 42h1"/>
<path stroke="#fbfbfb" d="M12 24h1M10 25h1M13 25h1M9 26h1M14 26h1M56 26h4M54 27h1M8 29h1M15 29h1M53 29h1M15 30h1M53 30h1M15 31h1M53 31h1M15 32h1M53 32h1M15 33h1M53 33h1M15 34h1M53 34h1M8 35h1M15 35h1M8 36h1M15 36h1M54 36h1M59 36h3M15 37h1M55 37h1M57 37h1M9 39h1M10 40h1M14 40h1M11 41h1M12 42h2"/>
<path stroke="#fdfdfd" d="M11 25h2M10 26h1M9 27h1M14 27h1M55 27h1M59 27h3M54 28h1M54 29h1M8 30h1M8 31h1M8 32h1M8 33h1M8 34h1M54 34h1M54 35h1M60 35h2M55 36h1M58 36h1M56 37h1M9 38h1M10 39h1M14 39h1M11 40h1M13 40h1M12 41h2"/>
<path stroke="#ffffff" d="M11 26h3M10 27h4M56 27h3M9 28h6M55 28h7M9 29h6M55 29h7M9 30h6M54 30h8M9 31h6M54 31h8M9 32h6M54 32h8M9 33h6M54 33h8M9 34h6M55 34h7M9 35h6M55 35h5M9 36h6M56 36h2M9 37h6M10 38h5M11 39h3M12 40h1"/>
</g></g></g>
<clipPath id="cpg"><rect x="882.7" y="1681.4" width="544.8999999999999" height="579.0"/></clipPath>
<filter id="jetg" filterUnits="userSpaceOnUse" x="852.7" y="1651.4" width="604.8999999999999" height="639.0" color-interpolation-filters="sRGB"><feGaussianBlur stdDeviation="5.0"/><feComponentTransfer><feFuncR type="table" tableValues="0.125 0.116 0.107 0.097 0.088 0.078 0.071 0.063 0.055 0.047 0.039 0.049 0.058 0.067 0.077 0.086 0.094 0.102 0.110 0.118 0.125 0.129 0.132 0.135 0.138 0.141 0.150 0.158 0.167 0.176 0.184 0.195 0.206 0.217 0.227 0.210 0.193 0.176 0.173 0.169 0.237 0.306 0.345 0.384 0.424 0.425 0.427 0.429 0.431 0.433 0.435 0.445 0.456 0.466 0.476 0.486 0.504 0.521 0.538 0.555 0.573 0.598 0.623 0.648 0.673 0.698 0.723 0.748 0.773 0.798 0.824 0.851 0.878 0.906 0.933 0.949 0.965 0.967 0.969 0.967 0.965 0.962 0.960 0.958 0.955 0.953 0.949 0.945 0.941 0.937 0.933 0.929 0.925 0.922 0.918 0.914 0.911 0.907 0.904 0.901 0.898 0.897 0.896 0.895 0.894 0.884 0.873 0.863 0.837 0.810 0.784 0.759 0.734 0.709 0.684 0.659 0.624 0.588 0.553 0.518 0.482"/><feFuncG type="table" tableValues="0.153 0.158 0.162 0.167 0.172 0.176 0.180 0.183 0.186 0.189 0.192 0.204 0.216 0.227 0.239 0.251 0.263 0.275 0.286 0.298 0.310 0.316 0.322 0.329 0.335 0.341 0.360 0.379 0.398 0.416 0.435 0.472 0.508 0.544 0.580 0.622 0.664 0.706 0.724 0.741 0.751 0.761 0.766 0.771 0.776 0.776 0.775 0.775 0.774 0.773 0.773 0.773 0.774 0.775 0.776 0.776 0.780 0.783 0.786 0.789 0.792 0.800 0.808 0.816 0.824 0.831 0.841 0.850 0.860 0.869 0.878 0.886 0.894 0.902 0.910 0.914 0.918 0.878 0.839 0.800 0.761 0.736 0.711 0.685 0.660 0.635 0.609 0.582 0.555 0.529 0.502 0.471 0.439 0.408 0.376 0.345 0.317 0.289 0.260 0.232 0.204 0.183 0.163 0.142 0.122 0.115 0.108 0.102 0.099 0.097 0.094 0.097 0.100 0.104 0.107 0.110 0.108 0.107 0.105 0.104 0.102"/><feFuncB type="table" tableValues="0.416 0.433 0.450 0.467 0.485 0.502 0.514 0.525 0.537 0.549 0.561 0.569 0.578 0.587 0.595 0.604 0.610 0.616 0.623 0.629 0.635 0.640 0.645 0.649 0.654 0.659 0.671 0.684 0.696 0.709 0.722 0.747 0.773 0.798 0.824 0.855 0.886 0.918 0.925 0.933 0.918 0.902 0.886 0.871 0.855 0.829 0.803 0.776 0.750 0.724 0.698 0.673 0.648 0.623 0.598 0.573 0.549 0.525 0.502 0.478 0.455 0.431 0.408 0.384 0.361 0.337 0.323 0.309 0.295 0.281 0.267 0.255 0.243 0.231 0.220 0.198 0.176 0.159 0.141 0.129 0.118 0.115 0.113 0.111 0.108 0.106 0.107 0.107 0.108 0.109 0.110 0.111 0.111 0.112 0.113 0.114 0.113 0.112 0.111 0.111 0.110 0.109 0.108 0.107 0.106 0.107 0.108 0.110 0.112 0.115 0.118 0.122 0.127 0.132 0.136 0.141 0.139 0.136 0.134 0.132 0.129"/><feFuncA type="linear" slope="0" intercept="1"/></feComponentTransfer></filter>
<rect x="881.9" y="1680.6" width="546.5" height="580.6" fill="none" stroke="#d4d0cc" stroke-width="1.6"/>
<g clip-path="url(#cpg)"><g filter="url(#jetg)"><g transform="translate(882.70 1685.92) scale(9.0817 9.0469)" stroke-width="1.08" fill="none">
<path stroke="#202020" d="M58 -2h4M58 -1h4M59 0h3"/>
<path stroke="#222222" d="M54 -2h4M54 -1h4M54 0h5M57 1h5"/>
<path stroke="#242424" d="M53 -2h1M53 -1h1M53 0h1M54 1h3M55 2h7M58 3h4M58 63h4M58 64h4M58 65h4"/>
<path stroke="#262626" d="M54 2h1M56 3h2M57 62h5M56 63h2M56 64h2M56 65h2"/>
<path stroke="#282828" d="M53 1h1M55 3h1M59 4h3M-2 64h3M-2 65h3"/>
<path stroke="#2a2a2a" d="M52 -2h1M52 -1h1M52 0h1M57 4h2M59 61h3M56 62h1M-2 63h3M1 64h1M1 65h1"/>
<path stroke="#2c2c2c" d="M52 1h1M53 2h1M54 3h1M58 61h1M-2 62h3M1 63h1M55 63h1M55 64h1M55 65h1"/>
<path stroke="#2e2e2e" d="M56 4h1M57 61h1M2 63h1M2 64h1M2 65h1"/>
<path stroke="#303030" d="M51 -2h1M51 -1h1M51 0h1M52 2h1M55 4h1M1 62h1M55 62h1"/>
<path stroke="#323232" d="M51 1h1M53 3h1M58 5h4M56 61h1M54 63h1M54 64h1M54 65h1"/>
<path stroke="#343434" d="M54 4h1M57 5h1M60 60h2M2 62h1"/>
<path stroke="#363636" d="M50 -2h1M50 -1h1M50 0h1M51 2h1M52 3h1M56 5h1M58 60h2M55 61h1M54 62h1M3 63h1M3 64h1M3 65h1"/>
<path stroke="#383838" d="M50 1h1M53 4h1M55 5h1M57 60h1M-2 61h3M53 63h1M53 64h1M53 65h1"/>
<path stroke="#3a3a3a" d="M29 33h1M1 61h1"/>
<path stroke="#3c3c3c" d="M51 3h1M58 6h4M28 32h2M28 33h1M28 34h2M56 60h1M54 61h1M3 62h1M53 62h1"/>
<path stroke="#3e3e3e" d="M49 -2h1M49 -1h1M49 0h1M50 2h1M52 4h1M54 5h1M57 6h1M28 31h2M30 32h1M30 33h1M30 34h1M28 35h2"/>
<path stroke="#404040" d="M28 30h2M30 31h1M27 32h1M27 33h1M27 34h1M30 35h1M29 36h1M2 61h1M4 63h1M4 64h1M4 65h1"/>
<path stroke="#424242" d="M49 1h1M53 5h1M56 6h1M30 30h1M27 31h1M27 35h1M28 36h1M60 59h2M55 60h1M52 63h1M52 64h1M52 65h1"/>
<path stroke="#444444" d="M50 3h1M28 29h2M27 30h1M31 32h1M31 33h1M31 34h1M30 36h1M58 59h2M53 61h1"/>
<path stroke="#464646" d="M48 -2h1M48 -1h1M48 0h1M49 2h1M51 4h1M55 6h1M30 29h1M31 31h1M26 33h1M31 35h1M27 36h1M28 37h2M57 59h1M54 60h1M4 62h1M52 62h1"/>
<path stroke="#484848" d="M52 5h1M28 28h2M27 29h1M31 30h1M26 31h1M26 32h1M26 34h1M31 36h1M30 37h1M-2 60h2M3 61h1"/>
<path stroke="#4a4a4a" d="M48 1h1M54 6h1M58 7h4M30 28h1M31 29h1M26 30h1M26 35h1M27 37h1M28 38h2M56 59h1M0 60h1M51 63h1M51 64h1M51 65h1"/>
<path stroke="#4c4c4c" d="M49 3h1M50 4h1M57 7h1M27 28h1M32 31h1M32 32h1M32 33h1M32 34h1M26 36h1M31 37h1M30 38h1M1 60h1M52 61h1M5 63h1M5 64h1M5 65h1"/>
<path stroke="#4e4e4e" d="M47 -2h1M47 -1h1M47 0h1M48 2h1M53 6h1M56 7h1M28 27h2M31 28h1M26 29h1M32 30h1M32 35h1M27 38h1M55 59h1M53 60h1M51 62h1"/>
<path stroke="#505050" d="M47 1h1M51 5h1M30 27h1M25 31h1M25 32h1M25 33h1M25 34h1M32 36h1M26 37h1M28 39h2M2 60h1M4 61h1"/>
<path stroke="#525252" d="M46 -2h1M46 -1h1M46 0h1M55 7h1M27 27h1M26 28h1M32 29h1M25 35h1M31 38h1M30 39h1M58 58h4M54 59h1M51 61h1M5 62h1"/>
<path stroke="#545454" d="M46 1h1M47 2h1M48 3h1M49 4h1M52 6h1M28 26h2M31 27h1M25 30h1M25 36h1M32 37h1M26 38h1M27 39h1M57 58h1M3 60h1M52 60h1M50 63h1M50 64h1M50 65h1"/>
<path stroke="#565656" d="M45 -2h1M45 -1h1M45 0h1M50 5h1M54 7h1M27 26h1M30 26h1M26 27h1M32 28h1M25 29h1M33 31h1M33 32h1M33 33h1M33 34h1M31 39h1M28 40h2M56 58h1M53 59h1M50 62h1M6 63h1M6 64h1M6 65h1"/>
<path stroke="#585858" d="M45 1h1M46 2h1M47 3h1M48 4h1M51 6h1M53 7h1M57 8h5M33 30h1M33 35h1M25 37h1M32 38h1M30 40h1M55 58h1M-2 59h3M51 60h1M5 61h1M50 61h1M6 62h1"/>
<path stroke="#5a5a5a" d="M44 -2h1M44 -1h1M44 0h1M49 5h1M55 8h2M28 25h2M31 26h1M32 27h1M25 28h1M24 32h1M24 33h1M24 34h1M33 36h1M26 39h1M27 40h1M54 58h1M1 59h1M52 59h1M4 60h1M49 63h1M49 64h1M49 65h1"/>
<path stroke="#5c5c5c" d="M44 1h1M45 2h1M46 3h1M47 4h1M48 5h1M50 6h1M52 7h1M54 8h1M30 25h1M26 26h1M33 29h1M24 31h1M24 35h1M33 37h1M25 38h1M32 39h1M31 40h1M29 41h1M58 57h4M2 59h1M49 62h1"/>
<path stroke="#5e5e5e" d="M43 -2h1M43 -1h1M43 0h1M49 6h1M51 7h1M53 8h1M58 9h4M27 25h1M25 27h1M33 28h1M24 30h1M24 36h1M26 40h1M28 41h1M30 41h1M57 57h1M53 58h1M3 59h1M51 59h1M5 60h1M50 60h1M6 61h1M49 61h1M7 63h1M7 64h1M7 65h1"/>
<path stroke="#606060" d="M43 1h1M44 2h1M45 3h1M46 4h1M47 5h1M50 7h1M52 8h1M56 9h2M29 24h1M31 25h1M32 26h1M24 29h1M34 32h1M34 33h1M34 34h1M33 38h1M25 39h1M27 41h1M56 57h1M7 62h1M48 63h1M48 64h1M48 65h1"/>
<path stroke="#626262" d="M42 -2h1M42 -1h1M42 0h1M48 6h1M54 9h2M28 24h1M30 24h1M26 25h1M34 31h1M34 35h1M24 37h1M32 40h1M31 41h1M55 57h1M52 58h1M4 59h1M49 60h1M48 62h1"/>
<path stroke="#646464" d="M42 1h1M43 2h1M44 3h1M45 4h1M46 5h1M49 7h1M51 8h1M53 9h1M59 10h3M27 24h1M25 26h1M33 27h1M24 28h1M34 30h1M34 36h1M24 38h1M33 39h1M26 41h1M28 42h2M54 57h1M-2 58h3M50 59h1M6 60h1M48 61h1"/>
<path stroke="#666666" d="M41 -2h1M41 -1h1M41 0h1M47 6h1M48 7h1M50 8h1M52 9h1M56 10h3M29 23h1M31 24h1M32 25h1M33 26h1M24 27h1M34 29h1M23 31h1M23 32h1M23 33h1M23 34h1M23 35h1M34 37h1M25 40h1M27 42h1M30 42h1M58 56h4M53 57h1M1 58h2M51 58h1M7 61h1M8 63h1M47 63h1M8 64h1M47 64h1M8 65h1M47 65h1"/>
<path stroke="#686868" d="M42 2h1M43 3h1M44 4h1M45 5h1M49 8h1M51 9h1M54 10h2M27 23h2M30 23h1M26 24h1M25 25h1M34 28h1M23 29h1M23 30h1M23 36h1M34 38h1M24 39h1M33 40h1M25 41h1M32 41h1M26 42h1M31 42h1M29 43h1M56 56h2M3 58h1M5 59h1M49 59h1M48 60h1M8 62h1M47 62h1"/>
<path stroke="#6a6a6a" d="M40 -2h1M40 -1h1M41 1h1M46 6h1M47 7h1M53 10h1M31 23h1M25 24h1M32 24h1M33 25h1M24 26h1M34 27h1M23 28h1M35 31h1M35 32h1M35 33h1M35 34h1M35 35h1M23 37h1M34 39h1M24 40h1M32 42h1M27 43h2M30 43h1M55 56h1M52 57h1M50 58h1M7 60h1M47 61h1"/>
<path stroke="#6c6c6c" d="M40 0h1M41 2h1M42 3h1M43 4h1M44 5h1M45 6h1M48 8h1M50 9h1M52 10h1M56 11h6M27 22h4M26 23h1M32 23h1M24 25h1M34 26h1M23 27h1M35 29h1M35 30h1M22 32h1M22 33h1M35 36h1M23 38h1M33 41h1M25 42h1M26 43h1M31 43h1M54 56h1M4 58h1M6 59h1M8 61h1M46 63h1M46 64h1M46 65h1"/>
<path stroke="#6e6e6e" d="M39 -2h1M39 -1h1M40 1h1M46 7h1M47 8h1M49 9h1M51 10h1M55 11h1M31 22h1M25 23h1M33 24h1M35 28h1M22 30h1M22 31h1M22 34h1M22 35h1M22 36h1M35 37h1M35 38h1M23 39h1M34 40h1M24 41h1M33 42h1M32 43h1M27 44h4M-2 57h4M51 57h1M49 58h1M48 59h1M47 60h1M46 62h1M9 63h1M9 64h1M9 65h1"/>
<path stroke="#707070" d="M39 0h1M41 3h1M42 4h1M43 5h1M44 6h1M48 9h1M54 11h1M28 21h3M26 22h1M32 22h1M33 23h1M24 24h1M34 25h1M23 26h1M35 27h1M22 29h1M36 32h1M36 33h1M22 37h1M23 40h1M34 41h1M24 42h1M25 43h1M26 44h1M31 44h1M58 55h4M53 56h1M2 57h1M5 58h1M7 59h1M8 60h1M46 61h1M9 62h1"/>
<path stroke="#727272" d="M38 -2h1M38 -1h1M39 1h1M40 2h1M45 7h1M46 8h1M50 10h1M53 11h1M58 12h4M27 21h1M31 21h1M25 22h1M34 24h1M23 25h1M35 26h1M22 28h1M36 30h1M36 31h1M36 34h1M36 35h1M36 36h1M22 38h1M35 39h1M33 43h1M32 44h1M28 45h3M56 55h2M52 56h1M3 57h1M50 57h1M47 59h1M9 61h1"/>
<path stroke="#747474" d="M38 0h1M41 4h1M42 5h1M47 9h1M49 10h1M52 11h1M56 12h2M28 20h2M26 21h1M24 23h1M22 27h1M36 29h1M21 32h1M21 33h1M21 34h1M36 37h1M22 39h1M35 40h1M23 41h1M34 42h1M25 44h1M27 45h1M31 45h1M55 55h1M4 57h1M6 58h1M48 58h1M46 60h1M45 62h1M10 63h1M45 63h1M10 64h1M45 64h1M10 65h1M45 65h1"/>
<path stroke="#767676" d="M37 -2h1M37 -1h1M39 2h1M40 3h1M43 6h1M44 7h1M45 8h1M48 10h1M51 11h1M54 12h2M27 20h1M30 20h1M32 21h1M33 22h1M34 23h1M23 24h1M35 25h1M22 26h1M36 28h1M21 30h1M21 31h1M21 35h1M21 36h1M36 38h1M24 43h1M26 45h1M54 55h1M51 56h1M49 57h1M8 59h1M9 60h1M45 61h1M10 62h1"/>
<path stroke="#787878" d="M36 -2h1M36 -1h1M37 0h1M38 1h1M46 9h1M50 11h1M53 12h1M31 20h1M25 21h1M24 22h1M36 27h1M21 29h1M21 37h1M22 40h1M35 41h1M23 42h1M34 43h1M33 44h1M32 45h1M27 46h4M53 55h1M-2 56h4M50 56h1M5 57h1M7 58h1M47 58h1M46 59h1"/>
<path stroke="#7a7a7a" d="M35 -2h1M35 -1h1M36 0h1M37 1h1M38 2h1M39 3h1M40 4h1M41 5h1M42 6h1M43 7h1M44 8h1M47 10h1M49 11h1M52 12h1M58 13h4M28 19h2M26 20h1M32 20h1M33 21h1M34 22h1M23 23h1M35 24h1M22 25h1M36 26h1M21 28h1M37 31h1M37 32h1M37 33h1M37 34h1M37 35h1M21 38h1M36 39h1M22 41h1M35 42h1M24 44h1M25 45h1M31 46h1M57 54h5M52 55h1M2 56h1M48 57h1M45 60h1M10 61h1M44 63h1M44 64h1M44 65h1"/>
<path stroke="#7c7c7c" d="M34 -2h1M34 -1h1M35 0h1M36 1h1M45 9h1M51 12h1M55 13h3M27 19h1M30 19h1M25 20h1M24 21h1M22 24h1M21 27h1M37 29h1M37 30h1M37 36h1M21 39h1M36 40h1M23 43h1M34 44h1M33 45h1M26 46h1M29 47h1M55 54h2M3 56h1M49 56h1M6 57h1M9 59h1M44 62h1M11 63h1M11 64h1M11 65h1"/>
<path stroke="#7e7e7e" d="M34 0h1M35 1h1M37 2h1M38 3h1M39 4h1M40 5h1M41 6h1M42 7h1M43 8h1M44 9h1M46 10h1M48 11h1M50 12h1M54 13h1M26 19h1M31 19h1M23 22h1M35 23h1M36 25h1M21 26h1M37 28h1M20 31h1M20 32h1M20 33h1M20 34h1M37 37h1M22 42h1M35 43h1M24 45h1M32 46h1M27 47h2M30 47h1M54 54h1M51 55h1M4 56h1M7 57h1M47 57h1M8 58h1M46 58h1M45 59h1M10 60h1M44 61h1M11 62h1"/>
<path stroke="#818181" d="M-2 -2h25M33 -2h1M-2 -1h25M33 -1h1M33 0h1M36 2h1M37 3h1M38 4h1M45 10h1M47 11h1M49 12h1M53 13h1M28 18h2M32 19h1M33 20h1M34 21h1M22 23h1M36 24h1M37 27h1M20 30h1M20 35h1M20 36h1M37 38h1M21 40h1M36 41h1M23 44h1M25 46h1M31 47h1M53 54h1M-2 55h5M50 55h1M5 56h1M48 56h1M9 58h1M44 60h1M11 61h1M43 63h1M43 64h1M43 65h1"/>
<path stroke="#838383" d="M23 -2h10M23 -1h10M-2 0h35M34 1h1M35 2h1M36 3h1M39 5h1M40 6h1M41 7h1M42 8h1M43 9h1M52 13h1M58 14h4M27 18h1M30 18h1M25 19h1M24 20h1M23 21h1M35 22h1M21 25h1M20 28h1M20 29h1M20 37h1M37 39h1M21 41h1M36 42h1M22 43h1M34 45h1M33 46h1M26 47h1M32 47h1M29 48h1M57 53h5M52 54h1M3 55h1M49 55h1M6 56h1M8 57h1M46 57h1M45 58h1M10 59h1M11 60h1M43 62h1M12 63h1M12 64h1M12 65h1"/>
<path stroke="#858585" d="M33 1h1M34 2h1M37 4h1M38 5h1M40 7h1M41 8h1M44 10h1M46 11h1M48 12h1M51 13h1M56 14h2M26 18h1M31 18h1M33 19h1M34 20h1M22 22h1M36 23h1M21 24h1M37 26h1M20 27h1M38 31h1M38 32h1M38 33h1M38 34h1M38 35h1M20 38h1M37 40h1M35 44h1M23 45h1M24 46h1M25 47h1M27 48h2M30 48h1M55 53h2M51 54h1M4 55h2M7 56h1M47 56h1M10 58h1M44 59h1M43 61h1M12 62h1"/>
<path stroke="#878787" d="M-2 1h35M35 3h1M36 4h1M39 6h1M42 9h1M43 10h1M45 11h1M46 12h2M49 13h2M53 14h3M28 17h2M32 18h1M24 19h1M35 21h1M37 25h1M38 29h1M38 30h1M38 36h1M20 39h1M21 42h1M36 43h1M22 44h1M34 46h1M33 47h1M26 48h1M31 48h1M53 53h2M-2 54h5M50 54h1M6 55h1M48 55h1M8 56h1M9 57h1M11 59h1M43 60h1M12 61h1M42 63h1M42 64h1M42 65h1"/>
<path stroke="#898989" d="M-2 2h27M33 2h1M34 3h1M37 5h1M38 6h1M39 7h1M40 8h1M41 9h1M42 10h1M43 11h2M45 12h1M47 13h2M51 14h2M27 17h1M30 17h1M25 18h1M23 20h1M22 21h1M36 22h1M21 23h1M20 26h1M38 28h1M19 32h1M19 33h1M19 34h1M38 37h1M38 38h1M20 40h1M37 41h1M35 45h1M32 48h1M59 52h3M52 53h1M3 54h2M49 54h1M7 55h1M46 56h1M10 57h1M45 57h1M11 58h1M44 58h1M43 59h1M12 60h1M42 61h1M13 62h1M42 62h1M13 63h1M13 64h1M13 65h1"/>
<path stroke="#8b8b8b" d="M25 2h8M-2 3h23M35 4h1M36 5h1M37 6h1M38 7h1M39 8h1M40 9h1M41 10h1M42 11h1M44 12h1M46 13h1M49 14h2M26 17h1M31 17h1M33 18h1M34 19h1M35 20h1M37 24h1M20 25h1M38 27h1M19 30h1M19 31h1M19 35h1M19 36h1M37 42h1M21 43h1M36 44h1M22 45h1M23 46h1M24 47h1M25 48h1M28 49h3M56 52h3M51 53h1M5 54h1M47 55h1M9 56h1M12 59h1M13 61h1"/>
<path stroke="#8d8d8d" d="M21 3h5M32 3h2M-2 4h20M34 4h1M37 7h1M38 8h1M39 9h1M40 10h1M41 11h1M43 12h1M45 13h1M47 14h2M28 16h3M25 17h1M32 17h1M24 18h1M34 18h1M23 19h1M22 20h1M36 21h1M21 22h1M37 23h1M20 24h1M38 26h1M19 27h1M19 28h1M19 29h1M39 31h1M39 32h1M39 33h1M39 34h1M39 35h1M19 37h1M19 38h1M38 39h1M38 40h1M20 41h1M20 42h1M37 43h1M21 44h1M36 45h1M35 46h1M23 47h1M34 47h1M24 48h1M33 48h1M26 49h2M31 49h1M54 52h2M-2 53h5M50 53h1M6 54h1M48 54h1M8 55h1M45 56h1M11 57h1M44 57h1M43 58h1M13 60h1M42 60h1M41 62h1M14 63h1M41 63h1M14 64h1M41 64h1M14 65h1M41 65h1"/>
<path stroke="#8f8f8f" d="M26 3h6M18 4h5M35 5h1M36 6h1M38 9h1M39 10h1M40 11h1M42 12h1M44 13h1M46 14h1M58 15h4M25 16h3M31 16h2M24 17h1M33 17h1M23 18h1M22 19h1M35 19h1M36 20h1M21 21h1M37 21h1M20 22h1M37 22h1M20 23h1M38 24h1M19 25h1M38 25h1M19 26h1M39 27h1M39 28h1M39 29h1M39 30h1M39 36h1M39 37h1M39 38h1M19 39h1M19 40h1M38 41h1M38 42h1M20 43h1M37 44h1M21 45h1M22 46h1M36 46h1M22 47h1M35 47h1M23 48h1M34 48h1M25 49h1M32 49h2M52 52h2M3 53h2M49 53h1M7 54h1M47 54h1M9 55h1M46 55h1M10 56h1M12 58h1M13 59h1M42 59h1M41 61h1M14 62h1"/>
<path stroke="#919191" d="M23 4h3M31 4h3M-2 5h24M34 5h1M36 7h1M37 8h1M38 10h1M39 11h1M41 12h1M42 13h2M44 14h2M26 15h7M54 15h4M24 16h1M33 16h1M23 17h1M34 17h2M22 18h1M35 18h2M21 19h1M36 19h1M21 20h1M37 20h1M20 21h1M38 22h1M19 23h1M38 23h1M19 24h1M39 25h1M39 26h1M40 30h1M40 31h1M40 32h1M40 33h1M40 34h1M40 35h1M39 39h1M39 40h1M19 41h1M39 41h1M19 42h1M19 43h1M38 43h1M20 44h1M38 44h1M20 45h1M37 45h1M21 46h1M37 46h1M21 47h1M36 47h1M22 48h1M35 48h1M24 49h1M34 49h1M26 50h6M57 51h5M51 52h1M5 53h1M8 54h1M11 56h1M44 56h1M12 57h1M43 57h1M14 60h1M41 60h1M14 61h1"/>
<path stroke="#939393" d="M26 4h5M22 5h2M-2 6h23M35 6h1M-2 7h22M-2 8h22M36 8h1M-2 9h21M37 9h1M-2 10h20M-2 11h19M40 12h1M41 13h1M22 14h15M43 14h1M21 15h5M33 15h5M46 15h8M20 16h4M34 16h4M19 17h4M36 17h3M19 18h3M37 18h3M18 19h3M37 19h3M18 20h3M38 20h2M18 21h2M38 21h3M18 22h2M39 22h2M18 23h1M39 23h2M39 24h2M40 25h1M40 26h1M40 27h1M40 28h1M40 29h1M40 36h1M40 37h1M40 38h1M40 39h1M40 40h1M18 41h1M40 41h1M18 42h1M39 42h2M18 43h1M39 43h2M18 44h2M39 44h2M18 45h2M38 45h3M18 46h3M38 46h2M19 47h2M37 47h3M19 48h3M36 48h3M21 49h3M35 49h3M25 50h1M32 50h2M55 51h2M50 52h1M6 53h1M48 53h1M46 54h1M10 55h1M45 55h1M13 58h1M42 58h1M41 59h1M15 62h1M40 62h1M15 63h1M40 63h1M15 64h1M40 64h1M15 65h1M40 65h1"/>
<path stroke="#959595" d="M24 5h2M32 5h2M21 6h2M34 6h1M20 7h2M35 7h1M20 8h2M19 9h3M36 9h1M18 10h4M36 10h2M17 11h5M35 11h4M-2 12h26M33 12h7M-2 13h43M-2 14h24M37 14h6M9 15h12M38 15h8M12 16h8M38 16h6M15 17h4M39 17h4M16 18h3M40 18h2M17 19h1M40 19h2M40 20h2M41 21h1M18 24h1M18 25h1M18 40h1M41 42h1M41 43h1M41 44h1M41 45h1M17 46h1M40 46h3M17 47h2M40 47h3M16 48h3M39 48h6M16 49h5M38 49h9M21 50h4M34 50h4M46 50h16M28 51h3M48 51h7M49 52h1M7 53h1M47 53h1M9 54h1M12 56h1M43 56h1M14 59h1M15 61h1M40 61h1"/>
<path stroke="#979797" d="M26 5h6M23 6h1M33 6h1M22 7h2M34 7h1M22 8h1M34 8h2M22 9h1M35 9h1M22 10h1M34 10h2M22 11h3M33 11h2M24 12h9M6 15h3M11 16h1M44 16h1M14 17h1M43 17h1M42 18h1M17 20h1M41 22h1M18 26h1M18 39h1M17 45h1M42 45h1M43 47h1M14 49h2M47 49h2M13 50h8M38 50h8M10 51h4M24 51h4M31 51h4M43 51h5M-2 52h14M46 52h3M8 53h3M10 54h1M45 54h1M11 55h1M44 55h1M13 57h1M42 57h1M14 58h1M41 58h1M15 60h1M40 60h1M39 63h1M16 64h1M39 64h1M16 65h1M39 65h1"/>
<path stroke="#999999" d="M24 6h2M32 6h1M24 7h1M33 7h1M23 8h1M33 8h1M23 9h1M33 9h2M23 10h2M32 10h2M25 11h2M30 11h3M-2 15h8M10 16h1M45 16h1M13 17h1M15 18h1M42 19h1M41 23h1M18 27h1M18 28h1M18 38h1M41 41h1M43 46h1M16 47h1M44 47h1M15 48h1M45 48h1M49 49h2M58 49h4M12 50h1M9 51h1M14 51h10M35 51h8M12 52h3M43 52h3M11 53h2M45 53h2M11 54h1M15 59h1M40 59h1M39 61h1M16 62h1M39 62h1M16 63h1"/>
<path stroke="#9b9b9b" d="M26 6h6M25 7h1M32 7h1M24 8h1M32 8h1M24 9h2M32 9h1M25 10h2M31 10h1M27 11h3M16 19h1M17 21h1M41 24h1M18 29h1M18 30h1M18 31h1M18 32h1M18 33h1M18 34h1M18 35h1M18 36h1M18 37h1M41 40h1M17 44h1M46 48h1M51 49h7M11 50h1M15 52h3M22 52h15M40 52h3M13 53h2M42 53h3M12 54h2M43 54h2M12 55h2M43 55h1M13 56h1M42 56h1M14 57h1M41 57h1M16 60h1M39 60h1M16 61h1"/>
<path stroke="#9d9d9d" d="M26 7h2M29 7h3M25 8h2M31 8h1M26 9h1M30 9h2M27 10h4M9 16h1M46 16h1M12 17h1M44 17h1M14 18h1M43 18h1M41 25h1M42 44h1M16 46h1M13 49h1M8 51h1M18 52h4M37 52h3M15 53h3M26 53h7M40 53h2M14 54h2M42 54h1M14 55h2M42 55h1M14 56h2M15 57h1M15 58h1M40 58h1M17 62h1M38 62h1M17 63h1M38 63h1M17 64h1M38 64h1M17 65h1M38 65h1"/>
<path stroke="#9f9f9f" d="M28 7h1M27 8h4M27 9h3M47 16h1M16 20h1M42 20h1M41 26h1M41 39h1M17 43h1M43 45h1M15 47h1M45 47h1M14 48h1M47 48h1M10 50h1M7 51h1M18 53h8M33 53h7M16 54h3M39 54h3M16 55h2M39 55h3M16 56h2M39 56h3M16 57h2M39 57h2M16 58h2M39 58h1M16 59h2M39 59h1M17 60h1M17 61h1M38 61h1M18 63h1M18 64h1M18 65h1"/>
<path stroke="#a1a1a1" d="M8 16h1M11 17h1M15 19h1M17 22h1M41 27h1M41 38h1M42 43h1M16 45h1M44 46h1M48 48h1M12 49h1M6 51h1M19 54h20M18 55h4M30 55h9M18 56h4M35 56h4M18 57h3M36 57h3M18 58h3M36 58h3M18 59h3M36 59h3M18 60h3M36 60h3M18 61h3M36 61h2M18 62h3M36 62h2M19 63h3M35 63h3M19 64h3M35 64h3M19 65h3M35 65h3"/>
<path stroke="#a3a3a3" d="M7 16h1M48 16h1M45 17h1M13 18h1M44 18h1M43 19h1M42 21h1M41 28h1M17 42h1M46 47h1M11 49h1M9 50h1M3 51h3M22 55h8M22 56h3M30 56h5M21 57h2M33 57h3M21 58h2M34 58h2M21 59h1M34 59h2M21 60h1M34 60h2M21 61h2M34 61h2M21 62h2M33 62h3M22 63h2M32 63h3M22 64h3M31 64h4M22 65h3M31 65h4"/>
<path stroke="#a5a5a5" d="M49 16h1M10 17h1M16 21h1M42 22h1M41 29h1M41 30h1M41 31h1M41 32h1M41 33h1M41 34h1M41 35h1M41 36h1M41 37h1M42 42h1M16 44h1M15 46h1M14 47h1M13 48h1M49 48h1M60 48h2M1 51h2M25 56h5M23 57h2M31 57h2M23 58h1M32 58h2M22 59h2M33 59h1M22 60h2M33 60h1M23 61h1M32 61h2M23 62h2M32 62h1M24 63h3M29 63h3M25 64h6M25 65h6"/>
<path stroke="#a7a7a7" d="M5 16h2M59 16h3M46 17h1M12 18h1M14 19h1M15 20h1M17 23h1M17 41h1M43 44h1M44 45h1M45 46h1M47 47h1M50 48h1M58 48h2M-2 51h3M25 57h6M24 58h1M31 58h1M24 59h1M32 59h1M24 60h1M32 60h1M24 61h1M31 61h1M25 62h2M30 62h2M27 63h2"/>
<path stroke="#a9a9a9" d="M3 16h2M50 16h1M57 16h2M9 17h1M43 20h1M42 23h1M17 24h1M42 41h1M16 43h1M15 45h1M12 48h1M51 48h1M57 48h1M10 49h1M8 50h1M25 58h2M29 58h2M25 59h1M30 59h2M25 60h1M31 60h1M25 61h2M30 61h1M27 62h3"/>
<path stroke="#ababab" d="M1 16h2M51 16h6M47 17h1M11 18h1M45 18h1M44 19h1M16 22h1M42 24h1M17 25h1M17 40h1M42 40h1M43 43h1M14 46h1M46 46h1M48 47h1M52 48h5M27 58h2M26 59h2M29 59h1M26 60h1M29 60h2M27 61h3"/>
<path stroke="#adadad" d="M-2 16h3M13 19h1M14 20h1M15 21h1M43 21h1M17 26h1M17 39h1M16 42h1M15 44h1M44 44h1M45 45h1M13 47h1M11 48h1M9 49h1M7 50h1M28 59h1M27 60h2"/>
<path stroke="#afafaf" d="M8 17h1M48 17h1M46 18h1M43 22h1M42 25h1M17 27h1M42 39h1M43 42h1M14 45h1M47 46h1M49 47h1M6 50h1"/>
<path stroke="#b1b1b1" d="M10 18h1M12 19h1M45 19h1M44 20h1M16 23h1M42 26h1M17 28h1M17 29h1M17 30h1M17 31h1M17 32h1M17 33h1M17 34h1M17 35h1M17 36h1M17 37h1M17 38h1M16 41h1M15 43h1M13 46h1M12 47h1M59 47h3M10 48h1M5 50h1"/>
<path stroke="#b3b3b3" d="M7 17h1M49 17h1M47 18h1M13 20h1M14 21h1M44 21h1M15 22h1M43 23h1M42 27h1M42 38h1M43 41h1M44 43h1M14 44h1M46 45h1M48 46h1M58 47h1M8 49h1M3 50h2"/>
<path stroke="#b5b5b5" d="M60 17h2M9 18h1M11 19h1M16 24h1M42 28h1M16 40h1M15 42h1M45 44h1M13 45h1M12 46h1M11 47h1M50 47h1M57 47h1M1 50h2"/>
<path stroke="#b7b7b7" d="M6 17h1M59 17h1M48 18h1M46 19h1M45 20h1M44 22h1M43 24h1M16 25h1M42 29h1M42 30h1M42 31h1M42 32h1M42 33h1M42 34h1M42 35h1M42 36h1M42 37h1M43 40h1M44 42h1M47 45h1M51 47h4M56 47h1M9 48h1M7 49h1M-2 50h3"/>
<path stroke="#b9b9b9" d="M4 17h2M50 17h1M57 17h2M12 20h1M15 23h1M43 25h1M16 26h1M16 39h1M15 41h1M14 43h1M46 44h1M12 45h1M11 46h1M49 46h1M60 46h2M10 47h1M55 47h1"/>
<path stroke="#bbbbbb" d="M2 17h2M51 17h3M56 17h1M8 18h1M10 19h1M47 19h1M13 21h1M45 21h1M14 22h1M44 23h1M16 27h1M43 39h1M44 41h1M45 43h1M13 44h1M48 45h1M59 46h1M6 49h1"/>
<path stroke="#bdbdbd" d="M1 17h1M54 17h2M49 18h1M11 20h1M46 20h1M15 24h1M44 24h1M43 26h1M16 28h1M16 29h1M16 30h1M16 31h1M16 32h1M16 33h1M16 34h1M16 35h1M16 36h1M16 37h1M16 38h1M15 40h1M14 42h1M50 46h1M58 46h1M8 48h1M4 49h2"/>
<path stroke="#bfbfbf" d="M-2 17h3M59 18h3M48 19h1M12 21h1M45 22h1M15 25h1M43 27h1M43 38h1M44 40h1M45 42h1M13 43h1M46 43h1M12 44h1M47 44h1M11 45h1M10 46h1M51 46h1M57 46h1M9 47h1M3 49h1"/>
<path stroke="#c1c1c1" d="M7 18h1M50 18h1M58 18h1M9 19h1M47 20h1M46 21h1M13 22h1M14 23h1M44 25h1M15 26h1M43 28h1M15 39h1M14 41h1M49 45h1M60 45h2M52 46h5M7 48h1M1 49h2"/>
<path stroke="#c3c3c3" d="M57 18h1M10 20h1M11 21h1M45 23h1M15 27h1M43 29h1M43 30h1M43 31h1M43 32h1M43 33h1M43 34h1M43 35h1M43 36h1M43 37h1M44 39h1M45 41h1M13 42h1M46 42h1M12 43h1M47 43h1M11 44h1M48 44h1M10 45h1M59 45h1M-2 49h3"/>
<path stroke="#c5c5c5" d="M5 18h2M51 18h6M49 19h1M60 19h2M47 21h1M46 22h1M14 24h1M45 24h1M44 26h1M15 28h1M15 29h1M15 30h1M15 31h1M15 32h1M15 33h1M15 34h1M15 35h1M15 36h1M15 37h1M15 38h1M14 40h1M50 45h1M58 45h1M9 46h1M8 47h1M6 48h1"/>
<path stroke="#c7c7c7" d="M4 18h1M8 19h1M59 19h1M48 20h1M12 22h1M46 23h1M14 25h1M44 27h1M44 38h1M45 40h1M57 45h1M5 48h1"/>
<path stroke="#c9c9c9" d="M2 18h2M50 19h1M58 19h1M9 20h1M10 21h1M47 22h1M13 23h1M45 25h1M14 26h1M44 28h1M14 39h1M13 41h1M46 41h1M12 42h1M47 42h1M11 43h1M48 43h1M10 44h1M49 44h1M60 44h2M9 45h1M51 45h6M3 48h2"/>
<path stroke="#cbcbcb" d="M1 18h1M7 19h1M57 19h1M49 20h1M48 21h1M11 22h1M46 24h1M14 27h1M44 29h1M44 30h1M44 31h1M44 32h1M44 33h1M44 34h1M44 35h1M44 36h1M44 37h1M45 39h1M59 44h1M8 46h1M7 47h1M2 48h1"/>
<path stroke="#cdcdcd" d="M-2 18h3M51 19h6M8 20h1M60 20h2M48 22h1M12 23h1M47 23h1M13 24h1M45 26h1M14 28h1M14 29h1M14 30h1M14 31h1M14 32h1M14 33h1M14 34h1M14 35h1M14 36h1M14 37h1M14 38h1M13 40h1M46 40h1M12 41h1M47 41h1M11 42h1M48 42h1M10 43h1M50 44h1M58 44h1M0 48h2"/>
<path stroke="#cfcfcf" d="M6 19h1M59 20h1M9 21h1M49 21h1M13 25h1M46 25h1M45 27h1M45 38h1M49 43h1M60 43h2M9 44h1M57 44h1M8 45h1M7 46h1M5 47h2M-2 48h2"/>
<path stroke="#d1d1d1" d="M5 19h1M50 20h1M58 20h1M60 21h2M10 22h1M11 23h1M48 23h1M12 24h1M47 24h1M13 26h1M45 28h1M13 39h1M46 39h1M12 40h1M47 40h1M11 41h1M48 41h1M59 43h1M51 44h6M4 47h1"/>
<path stroke="#d3d3d3" d="M3 19h2M7 20h1M57 20h1M59 21h1M49 22h1M12 25h1M47 25h1M46 26h1M13 27h1M45 29h1M45 30h1M45 31h1M45 32h1M45 33h1M45 34h1M45 35h1M45 36h1M45 37h1M10 42h1M49 42h1M50 43h1M58 43h1M3 47h1"/>
<path stroke="#d5d5d5" d="M2 19h1M51 20h6M8 21h1M50 21h1M58 21h1M60 22h2M11 24h1M48 24h1M12 26h1M46 27h1M13 28h1M13 29h1M13 30h1M13 31h1M13 32h1M13 33h1M13 34h1M13 35h1M13 36h1M13 37h1M13 38h1M46 38h1M12 39h1M47 39h1M59 42h3M9 43h1M57 43h1M8 44h1M7 45h1M5 46h2M1 47h2"/>
<path stroke="#d7d7d7" d="M1 19h1M6 20h1M57 21h1M9 22h1M59 22h1M49 23h1M47 26h1M12 27h1M46 28h1M11 40h1M48 40h1M49 41h1M58 42h1M51 43h4M56 43h1M4 46h1M-2 47h3"/>
<path stroke="#d9d9d9" d="M-2 19h3M5 20h1M51 21h6M50 22h1M58 22h1M10 23h1M60 23h2M11 25h1M48 25h1M12 28h1M46 29h1M46 30h1M46 31h1M46 32h1M46 33h1M46 34h1M46 35h1M46 36h1M46 37h1M47 38h1M10 41h1M60 41h2M9 42h1M50 42h1M57 42h1M55 43h1M6 45h1M3 46h1"/>
<path stroke="#dbdbdb" d="M4 20h1M7 21h1M57 22h1M59 23h1M49 24h1M11 26h1M47 27h1M12 29h1M12 30h1M12 31h1M12 32h1M12 33h1M12 34h1M12 35h1M12 36h1M12 37h1M12 38h1M11 39h1M48 39h1M59 41h1M51 42h2M56 42h1M8 43h1M7 44h1M5 45h1M1 46h2"/>
<path stroke="#dddddd" d="M2 20h2M8 22h1M51 22h6M50 23h1M58 23h1M10 24h1M60 24h2M48 26h1M11 27h1M47 28h1M10 40h1M49 40h1M60 40h2M50 41h1M58 41h1M53 42h3M4 45h1M-2 46h3"/>
<path stroke="#dfdfdf" d="M1 20h1M9 23h1M57 23h1M59 24h1M10 25h1M49 25h1M48 27h1M11 28h1M11 29h1M47 29h1M11 30h1M47 30h1M11 31h1M47 31h1M11 32h1M47 32h1M11 33h1M47 33h1M11 34h1M47 34h1M11 35h1M47 35h1M11 36h1M47 36h1M11 37h1M47 37h1M11 38h1M48 38h1M59 40h1M9 41h1M57 41h1M6 44h1M2 45h2"/>
<path stroke="#e1e1e1" d="M-2 20h3M5 21h2M51 23h6M50 24h1M58 24h1M60 25h2M10 26h1M10 39h1M49 39h1M50 40h1M58 40h1M51 41h4M56 41h1M8 42h1M7 43h1M5 44h1M1 45h1"/>
<path stroke="#e3e3e3" d="M4 21h1M7 22h1M9 24h1M57 24h1M59 25h1M49 26h1M10 27h1M48 28h1M48 29h1M48 30h1M48 31h1M48 32h1M48 33h1M48 34h1M48 35h1M48 36h1M48 37h1M59 39h3M9 40h1M57 40h1M55 41h1M4 44h1M-2 45h3"/>
<path stroke="#e5e5e5" d="M3 21h1M8 23h1M51 24h4M56 24h1M9 25h1M50 25h1M58 25h1M59 26h3M49 27h1M10 28h1M10 38h1M49 38h1M58 39h1M51 40h2M56 40h1M8 41h1M6 43h1M2 44h2"/>
<path stroke="#e7e7e7" d="M1 21h2M55 24h1M57 25h1M9 26h1M58 26h1M60 27h2M10 29h1M10 30h1M10 31h1M10 32h1M10 33h1M10 34h1M10 35h1M10 36h1M10 37h1M60 38h2M50 39h1M53 40h3M7 42h1M5 43h1M1 44h1"/>
<path stroke="#e9e9e9" d="M0 21h1M5 22h2M8 24h1M51 25h4M56 25h1M50 26h1M57 26h1M59 27h1M49 28h1M49 29h1M49 30h1M49 31h1M49 32h1M49 33h1M49 34h1M49 35h1M49 36h1M49 37h1M59 38h1M9 39h1M51 39h1M57 39h1M3 43h2M-2 44h3"/>
<path stroke="#ebebeb" d="M-2 21h2M4 22h1M7 23h1M55 25h1M51 26h1M9 27h1M50 27h1M58 27h1M59 28h3M60 29h2M60 30h2M60 31h2M60 32h2M60 33h2M60 34h2M60 35h2M60 36h2M60 37h2M50 38h1M58 38h1M52 39h5M8 40h1M7 41h1M6 42h1M2 43h1"/>
<path stroke="#ededed" d="M3 22h1M8 25h1M52 26h5M57 27h1M9 28h1M58 28h1M9 29h1M59 29h1M9 30h1M59 30h1M9 31h1M59 31h1M9 32h1M59 32h1M9 33h1M59 33h1M9 34h1M59 34h1M9 35h1M59 35h1M9 36h1M59 36h1M9 37h1M59 37h1M9 38h1M57 38h1M5 42h1M1 43h1"/>
<path stroke="#efefef" d="M2 22h1M8 26h1M51 27h3M56 27h1M50 28h1M58 29h1M58 30h1M58 31h1M58 32h1M58 33h1M58 34h1M58 35h1M58 36h1M58 37h1M51 38h3M56 38h1M8 39h1M3 42h2M-2 43h3"/>
<path stroke="#f1f1f1" d="M0 22h2M6 23h1M7 24h1M8 27h1M54 27h2M51 28h1M57 28h1M50 29h1M57 29h1M50 30h1M57 30h1M50 31h1M57 31h1M50 32h1M57 32h1M50 33h1M57 33h1M50 34h1M57 34h1M50 35h1M57 35h1M50 36h1M57 36h1M50 37h1M57 37h1M54 38h2M7 40h1M6 41h1M2 42h1"/>
<path stroke="#f3f3f3" d="M-2 22h2M4 23h2M7 25h1M8 28h1M52 28h5M51 29h1M51 30h1M51 31h1M51 32h1M51 33h1M51 34h1M51 35h1M51 36h1M51 37h1M4 41h2M1 42h1"/>
<path stroke="#f5f5f5" d="M3 23h1M6 24h1M7 26h1M8 29h1M52 29h5M8 30h1M52 30h5M8 31h1M52 31h5M8 32h1M52 32h5M8 33h1M52 33h5M8 34h1M52 34h5M8 35h1M52 35h5M8 36h1M52 36h5M8 37h1M52 37h5M8 38h1M7 39h1M6 40h1M3 41h1M-2 42h3"/>
<path stroke="#f7f7f7" d="M2 23h1M5 24h1M6 25h1M7 27h1M5 40h1M2 41h1"/>
<path stroke="#f9f9f9" d="M1 23h1M4 24h1M5 25h1M4 40h1M1 41h1"/>
<path stroke="#fbfbfb" d="M-2 23h3M2 24h2M4 25h1M5 26h2M7 28h1M7 29h1M7 30h1M7 31h1M7 32h1M7 33h1M7 34h1M7 35h1M7 36h1M7 37h1M7 38h1M6 39h1M3 40h1M-2 41h3"/>
<path stroke="#fdfdfd" d="M1 24h1M3 25h1M4 26h1M6 27h1M5 39h1M2 40h1"/>
<path stroke="#ffffff" d="M-2 24h3M-2 25h5M-2 26h6M-2 27h8M-2 28h9M-2 29h9M-2 30h9M-2 31h9M-2 32h9M-2 33h9M-2 34h9M-2 35h9M-2 36h9M-2 37h9M-2 38h9M-2 39h7M-2 40h4"/>
</g></g></g>
<clipPath id="cph"><rect x="1458" y="1678.5" width="555.8" height="580.5"/></clipPath>
<filter id="jeth" filterUnits="userSpaceOnUse" x="1428" y="1648.5" width="615.8" height="640.5" color-interpolation-filters="sRGB"><feGaussianBlur stdDeviation="5.1"/><feComponentTransfer><feFuncR type="table" tableValues="0.125 0.116 0.107 0.097 0.088 0.078 0.071 0.063 0.055 0.047 0.039 0.049 0.058 0.067 0.077 0.086 0.094 0.102 0.110 0.118 0.125 0.129 0.132 0.135 0.138 0.141 0.150 0.158 0.167 0.176 0.184 0.195 0.206 0.217 0.227 0.210 0.193 0.176 0.173 0.169 0.237 0.306 0.345 0.384 0.424 0.425 0.427 0.429 0.431 0.433 0.435 0.445 0.456 0.466 0.476 0.486 0.504 0.521 0.538 0.555 0.573 0.598 0.623 0.648 0.673 0.698 0.723 0.748 0.773 0.798 0.824 0.851 0.878 0.906 0.933 0.949 0.965 0.967 0.969 0.967 0.965 0.962 0.960 0.958 0.955 0.953 0.949 0.945 0.941 0.937 0.933 0.929 0.925 0.922 0.918 0.914 0.911 0.907 0.904 0.901 0.898 0.897 0.896 0.895 0.894 0.884 0.873 0.863 0.837 0.810 0.784 0.759 0.734 0.709 0.684 0.659 0.624 0.588 0.553 0.518 0.482"/><feFuncG type="table" tableValues="0.153 0.158 0.162 0.167 0.172 0.176 0.180 0.183 0.186 0.189 0.192 0.204 0.216 0.227 0.239 0.251 0.263 0.275 0.286 0.298 0.310 0.316 0.322 0.329 0.335 0.341 0.360 0.379 0.398 0.416 0.435 0.472 0.508 0.544 0.580 0.622 0.664 0.706 0.724 0.741 0.751 0.761 0.766 0.771 0.776 0.776 0.775 0.775 0.774 0.773 0.773 0.773 0.774 0.775 0.776 0.776 0.780 0.783 0.786 0.789 0.792 0.800 0.808 0.816 0.824 0.831 0.841 0.850 0.860 0.869 0.878 0.886 0.894 0.902 0.910 0.914 0.918 0.878 0.839 0.800 0.761 0.736 0.711 0.685 0.660 0.635 0.609 0.582 0.555 0.529 0.502 0.471 0.439 0.408 0.376 0.345 0.317 0.289 0.260 0.232 0.204 0.183 0.163 0.142 0.122 0.115 0.108 0.102 0.099 0.097 0.094 0.097 0.100 0.104 0.107 0.110 0.108 0.107 0.105 0.104 0.102"/><feFuncB type="table" tableValues="0.416 0.433 0.450 0.467 0.485 0.502 0.514 0.525 0.537 0.549 0.561 0.569 0.578 0.587 0.595 0.604 0.610 0.616 0.623 0.629 0.635 0.640 0.645 0.649 0.654 0.659 0.671 0.684 0.696 0.709 0.722 0.747 0.773 0.798 0.824 0.855 0.886 0.918 0.925 0.933 0.918 0.902 0.886 0.871 0.855 0.829 0.803 0.776 0.750 0.724 0.698 0.673 0.648 0.623 0.598 0.573 0.549 0.525 0.502 0.478 0.455 0.431 0.408 0.384 0.361 0.337 0.323 0.309 0.295 0.281 0.267 0.255 0.243 0.231 0.220 0.198 0.176 0.159 0.141 0.129 0.118 0.115 0.113 0.111 0.108 0.106 0.107 0.107 0.108 0.109 0.110 0.111 0.111 0.112 0.113 0.114 0.113 0.112 0.111 0.111 0.110 0.109 0.108 0.107 0.106 0.107 0.108 0.110 0.112 0.115 0.118 0.122 0.127 0.132 0.136 0.141 0.139 0.136 0.134 0.132 0.129"/><feFuncA type="linear" slope="0" intercept="1"/></feComponentTransfer></filter>
<rect x="1457.2" y="1677.7" width="557.4" height="582.1" fill="none" stroke="#d4d0cc" stroke-width="1.6"/>
<g clip-path="url(#cph)"><g filter="url(#jeth)"><g transform="translate(1458.00 1683.11) scale(9.2633 9.2143)" stroke-width="1.08" fill="none">
<path stroke="#262626" d="M1 23h4M1 24h7M1 25h8M1 26h8M1 27h8M1 28h8M1 29h8M1 30h8M1 31h8M1 32h8M1 33h8"/>
<path stroke="#282828" d="M1 22h3M5 23h2M8 24h2M9 25h4M9 26h7M9 27h9M9 28h10M9 29h12M9 30h14M9 31h14M9 32h14M9 33h9M1 34h6"/>
<path stroke="#2a2a2a" d="M1 21h1M4 22h1M7 23h2M10 24h2M13 25h2M16 26h1M18 27h1M19 28h2M21 29h2M23 30h4M23 31h9M23 32h9M18 33h11M7 34h4"/>
<path stroke="#2c2c2c" d="M2 21h2M5 22h2M9 23h1M12 24h1M15 25h1M17 26h1M19 27h1M21 28h1M23 29h2M27 30h8M32 31h3M32 32h3M29 33h5M11 34h9M1 35h5"/>
<path stroke="#2e2e2e" d="M1 20h1M4 21h1M7 22h1M10 23h1M13 24h1M16 25h1M18 26h1M20 27h1M22 28h1M25 29h3M35 30h3M35 31h3M35 32h3M34 33h3M20 34h10M6 35h4"/>
<path stroke="#303030" d="M2 20h1M5 21h1M8 22h1M11 23h1M14 24h1M23 28h1M39 28h2M28 29h13M38 30h3M38 31h3M38 32h3M37 33h3M30 34h5M10 35h4M1 36h2"/>
<path stroke="#323232" d="M9 22h1M12 23h1M15 24h1M17 25h1M19 26h1M44 26h2M21 27h1M41 27h5M24 28h2M36 28h3M41 28h5M41 29h5M41 30h5M41 31h5M41 32h5M40 33h4M35 34h3M14 35h9M3 36h2"/>
<path stroke="#343434" d="M3 20h1M6 21h1M10 22h1M50 22h1M13 23h1M48 23h3M47 24h4M45 25h6M42 26h2M46 26h5M22 27h1M39 27h2M46 27h5M26 28h10M46 28h5M46 29h5M46 30h5M46 31h5M46 32h5M44 33h7M38 34h4M23 35h10M5 36h3"/>
<path stroke="#363636" d="M57 12h1M56 13h2M56 14h2M55 15h3M54 16h4M53 17h5M53 18h5M1 19h1M52 19h6M4 20h1M51 20h7M7 21h1M50 21h8M49 22h1M51 22h7M47 23h1M51 23h7M16 24h1M46 24h1M51 24h7M18 25h1M43 25h2M51 25h7M20 26h1M41 26h1M51 26h7M23 27h1M37 27h2M51 27h7M51 28h7M51 29h7M51 30h7M51 31h7M51 32h7M51 33h7M42 34h6M53 34h5M33 35h4M8 36h2"/>
<path stroke="#383838" d="M58 10h1M57 11h2M56 12h1M58 12h1M58 13h1M55 14h1M58 14h1M54 15h1M58 15h1M58 16h1M58 17h1M52 18h1M58 18h1M51 19h1M58 19h1M50 20h1M58 20h1M8 21h1M49 21h1M58 21h1M11 22h1M48 22h1M58 22h1M14 23h1M46 23h1M58 23h1M45 24h1M58 24h1M42 25h1M58 25h1M40 26h1M58 26h1M24 27h1M36 27h1M58 27h1M58 28h1M58 29h1M58 30h1M58 31h1M58 32h1M58 33h1M48 34h5M58 34h1M37 35h4M10 36h4M1 37h1"/>
<path stroke="#3a3a3a" d="M58 9h1M57 10h1M55 13h1M53 16h1M52 17h1M2 19h1M5 20h1M9 21h1M12 22h1M47 22h1M15 23h1M17 24h1M44 24h1M19 25h1M41 25h1M21 26h1M39 26h1M25 27h1M34 27h2M41 35h18M14 36h9M2 37h2"/>
<path stroke="#3c3c3c" d="M58 8h1M56 11h1M54 14h1M51 18h1M3 19h1M50 19h1M6 20h1M49 20h1M48 21h1M13 22h1M45 23h1M43 24h1M22 26h1M38 26h1M26 27h8M23 36h11M56 36h3M4 37h3"/>
<path stroke="#3e3e3e" d="M57 9h1M55 12h1M53 15h1M7 20h1M10 21h1M46 22h1M16 23h1M18 24h1M42 24h1M20 25h1M40 25h1M37 26h1M34 36h5M52 36h4M7 37h2"/>
<path stroke="#404040" d="M54 13h1M52 16h1M1 18h1M4 19h1M11 21h1M47 21h1M14 22h1M44 23h1M39 25h1M23 26h2M36 26h1M39 36h6M47 36h5M9 37h3"/>
<path stroke="#424242" d="M58 7h1M56 10h1M51 17h1M2 18h1M50 18h1M5 19h1M49 19h1M8 20h1M48 20h1M12 21h1M0 22h1M45 22h1M0 23h1M17 23h1M43 23h1M0 24h1M19 24h1M41 24h1M0 25h1M21 25h1M38 25h1M0 26h1M25 26h1M34 26h2M0 27h1M0 28h1M0 29h1M0 30h1M0 31h1M0 32h1M0 33h1M45 36h2M12 37h7M56 37h3M1 38h2"/>
<path stroke="#444444" d="M57 8h1M55 11h1M53 14h1M6 19h1M9 20h1M0 21h1M46 21h1M15 22h1M40 24h1M26 26h1M30 26h4M0 34h1M0 35h1M19 37h15M52 37h4M3 38h3"/>
<path stroke="#464646" d="M58 6h1M56 9h1M54 12h1M52 15h1M3 18h1M0 20h1M10 20h1M47 20h1M13 21h1M16 22h1M44 22h1M18 23h1M42 23h1M20 24h1M22 25h1M37 25h1M27 26h3M0 36h1M34 37h8M49 37h3M6 38h2M58 38h1"/>
<path stroke="#484848" d="M51 16h1M1 17h1M50 17h1M4 18h1M49 18h1M0 19h1M7 19h1M48 19h1M14 21h1M45 21h1M41 23h1M39 24h1M23 25h1M36 25h1M42 37h7M8 38h2M56 38h2"/>
<path stroke="#4a4a4a" d="M57 7h1M59 7h1M59 8h1M59 9h1M55 10h1M59 10h1M59 11h1M59 12h1M53 13h1M59 13h1M59 14h1M59 15h1M59 16h1M59 17h1M59 18h1M8 19h1M59 19h1M11 20h1M59 20h1M59 21h1M43 22h1M59 22h1M59 23h1M21 24h1M38 24h1M59 24h1M24 25h1M34 25h2M59 25h1M59 26h1M59 27h1M59 28h1M59 29h1M59 30h1M59 31h1M59 32h1M59 33h1M59 34h1M59 35h1M0 37h1M10 38h4M53 38h3M1 39h1"/>
<path stroke="#4c4c4c" d="M58 5h1M59 6h1M56 8h1M54 11h1M52 14h1M2 17h1M0 18h1M5 18h1M12 20h1M46 20h1M15 21h1M44 21h1M17 22h1M42 22h1M19 23h1M40 23h1M37 24h1M25 25h2M32 25h2M59 36h1M59 37h1M0 38h1M14 38h15M50 38h3M2 39h2M58 39h1"/>
<path stroke="#4e4e4e" d="M59 5h1M51 15h1M50 16h1M0 17h1M49 17h1M6 18h1M48 18h1M9 19h1M47 19h1M22 24h1M27 25h5M29 38h21M4 39h2M56 39h2"/>
<path stroke="#505050" d="M59 4h1M57 6h1M55 9h1M53 12h1M3 17h1M10 19h1M13 20h1M45 20h1M16 21h1M43 21h1M18 22h1M41 22h1M20 23h1M39 23h1M36 24h1M59 38h1M0 39h1M6 39h2M53 39h3"/>
<path stroke="#525252" d="M59 3h1M0 16h2M4 17h1M7 18h1M46 19h1M14 20h1M38 23h1M23 24h1M35 24h1M8 39h2M51 39h2M59 39h1"/>
<path stroke="#545454" d="M59 2h3M60 3h2M58 4h1M60 4h2M60 5h2M60 6h2M56 7h1M60 7h2M60 8h2M60 9h2M54 10h1M60 10h2M60 11h2M60 12h2M52 13h1M60 13h2M51 14h1M60 14h2M60 15h2M-2 16h2M60 16h2M-2 17h2M48 17h1M60 17h2M-2 18h2M8 18h1M47 18h1M60 18h2M-2 19h2M11 19h1M60 19h2M-2 20h2M44 20h1M60 20h2M-2 21h2M17 21h1M42 21h1M60 21h2M-2 22h2M19 22h1M40 22h1M60 22h2M-2 23h2M21 23h1M60 23h2M-2 24h2M24 24h2M33 24h2M60 24h2M-2 25h2M60 25h2M-2 26h2M60 26h2M-2 27h2M60 27h2M-2 28h2M60 28h2M-2 29h2M60 29h2M-2 30h2M60 30h2M-2 31h2M60 31h2M-2 32h2M60 32h2M-2 33h2M60 33h2M-2 34h2M60 34h2M-2 35h2M60 35h2M-2 36h2M60 36h2M-2 37h2M60 37h2M-2 38h2M60 38h2M-2 39h2M10 39h8M46 39h5M60 39h2M-2 40h5M54 40h8M60 41h2"/>
<path stroke="#565656" d="M60 0h2M59 1h3M58 3h1M57 5h1M56 6h1M55 8h1M54 9h1M53 11h1M52 12h1M-2 15h4M50 15h1M2 16h2M49 16h1M5 17h2M9 18h2M12 19h2M45 19h1M15 20h1M43 20h1M18 21h1M41 21h1M20 22h1M39 22h1M22 23h1M36 23h2M26 24h7M18 39h28M3 40h7M48 40h6M-2 41h5M53 41h7M55 42h7M58 43h4"/>
<path stroke="#585858" d="M60 -2h2M60 -1h2M59 0h1M58 2h1M57 4h1M56 5h1M55 7h1M53 10h1M51 13h1M-2 14h3M50 14h1M2 15h1M49 15h1M4 16h2M48 16h1M7 17h2M47 17h1M11 18h1M46 18h1M14 19h1M44 19h1M16 20h1M42 20h1M40 21h1M21 22h1M38 22h1M23 23h2M34 23h2M10 40h13M32 40h16M3 41h4M49 41h4M-2 42h4M52 42h3M54 43h4M56 44h6M58 45h4"/>
<path stroke="#5a5a5a" d="M59 -2h1M59 -1h1M58 1h1M57 3h1M56 4h1M55 6h1M54 8h1M53 9h1M52 11h1M51 12h1M-2 13h2M1 14h1M3 15h2M6 16h2M9 17h2M46 17h1M12 18h2M45 18h1M15 19h1M43 19h1M17 20h1M41 20h1M19 21h1M39 21h1M22 22h1M36 22h2M25 23h9M23 40h9M7 41h5M46 41h3M2 42h3M50 42h2M-2 43h2M53 43h1M54 44h2M55 45h3M56 46h6M58 47h4M60 48h2"/>
<path stroke="#5c5c5c" d="M58 -2h1M58 -1h1M58 0h1M57 2h1M56 3h1M55 5h1M54 7h1M52 10h1M0 13h2M50 13h1M2 14h2M49 14h1M5 15h1M48 15h1M8 16h1M47 16h1M11 17h1M14 18h1M44 18h1M16 19h1M42 19h1M18 20h1M40 20h1M20 21h1M38 21h1M23 22h2M34 22h2M12 41h7M37 41h9M5 42h3M48 42h2M0 43h3M51 43h2M53 44h1M54 45h1M55 46h1M55 47h3M56 48h4M58 49h4M59 50h3"/>
<path stroke="#5e5e5e" d="M57 1h1M55 4h1M54 6h1M53 8h1M52 9h1M51 11h1M-2 12h3M50 12h1M2 13h1M49 13h1M4 14h1M48 14h1M6 15h2M47 15h1M9 16h2M46 16h1M12 17h2M45 17h1M15 18h1M43 18h1M17 19h1M41 19h1M19 20h1M39 20h1M21 21h2M36 21h2M25 22h3M29 22h5M19 41h18M8 42h3M46 42h2M3 43h2M50 43h1M-2 44h3M52 44h1M53 45h1M54 46h1M54 47h1M55 48h1M56 49h2M56 50h3M57 51h5M58 52h4M59 53h3"/>
<path stroke="#606060" d="M57 -2h1M57 -1h1M57 0h1M56 2h1M54 5h1M53 7h1M51 10h1M-2 11h2M1 12h1M3 13h1M5 14h2M8 15h2M11 16h1M45 16h1M14 17h1M44 17h1M16 18h1M42 18h1M18 19h1M40 19h1M20 20h1M38 20h1M23 21h1M35 21h1M28 22h1M11 42h3M42 42h4M5 43h2M48 43h2M1 44h2M50 44h2M-2 45h2M52 45h1M53 46h1M54 48h1M55 49h1M55 50h1M56 51h1M56 52h2M57 53h2M57 54h5M58 55h4M58 56h4M59 57h3M60 58h2"/>
<path stroke="#626262" d="M56 1h1M55 3h1M53 6h1M52 8h1M0 11h2M50 11h1M2 12h1M49 12h1M4 13h2M48 13h1M7 14h1M47 14h1M10 15h1M46 15h1M12 16h2M15 17h1M43 17h1M17 18h1M41 18h1M19 19h1M39 19h1M21 20h1M37 20h1M24 21h2M31 21h4M14 42h6M35 42h7M7 43h3M46 43h2M3 44h2M49 44h1M0 45h2M51 45h1M52 46h1M53 47h1M53 48h1M54 49h1M54 50h1M55 51h1M55 52h1M55 53h2M56 54h1M56 55h2M57 56h1M57 57h2M57 58h3M58 59h4M58 60h4M58 61h4M57 62h5M57 63h5M57 64h5"/>
<path stroke="#646464" d="M56 -2h1M56 -1h1M56 0h1M55 2h1M54 4h1M52 7h1M51 9h1M-2 10h3M50 10h1M2 11h1M49 11h1M3 12h2M6 13h1M8 14h2M11 15h1M45 15h1M14 16h1M44 16h1M16 17h1M42 17h1M18 18h1M40 18h1M20 19h1M38 19h1M22 20h2M35 20h2M26 21h5M20 42h15M10 43h2M44 43h2M5 44h2M48 44h1M2 45h2M50 45h1M-2 46h3M51 46h1M52 47h1M53 49h1M54 51h1M54 52h1M55 54h1M55 55h1M55 56h2M56 57h1M56 58h1M56 59h2M56 60h2M56 61h2M56 62h1M56 63h1M56 64h1"/>
<path stroke="#666666" d="M55 1h1M54 3h1M53 5h1M51 8h1M-2 9h3M1 10h1M3 11h1M5 12h1M48 12h1M7 13h1M47 13h1M10 14h1M46 14h1M12 15h2M44 15h1M15 16h1M43 16h1M17 17h1M41 17h1M19 18h1M39 18h1M21 19h1M37 19h1M24 20h2M32 20h3M12 43h3M40 43h4M7 44h2M46 44h2M4 45h1M49 45h1M1 46h2M50 46h1M-2 47h3M51 47h1M52 48h1M53 50h1M54 53h1M54 54h1M55 57h1M55 58h1M55 59h1M55 60h1M55 61h1M55 62h1M55 63h1M55 64h1"/>
<path stroke="#686868" d="M55 0h1M54 2h1M53 4h1M52 6h1M-2 8h2M50 9h1M2 10h1M49 10h1M4 11h1M48 11h1M6 12h1M47 12h1M8 13h2M46 13h1M11 14h1M45 14h1M14 15h1M16 16h1M42 16h1M18 17h1M40 17h1M20 18h1M38 18h1M22 19h1M35 19h2M26 20h6M15 43h4M35 43h5M9 44h2M44 44h2M5 45h2M48 45h1M3 46h1M49 46h1M1 47h1M-2 48h2M51 48h1M52 49h1M53 51h1M53 52h1M54 55h1M54 56h1M54 57h1M54 63h1M54 64h1"/>
<path stroke="#6a6a6a" d="M55 -2h1M55 -1h1M54 1h1M53 3h1M52 5h1M51 7h1M0 8h1M50 8h1M1 9h1M3 10h1M5 11h1M7 12h2M10 13h1M12 14h2M44 14h1M15 15h1M43 15h1M17 16h1M41 16h1M19 17h1M39 17h1M21 18h1M37 18h1M23 19h2M33 19h2M19 43h16M11 44h2M41 44h3M7 45h2M46 45h2M4 46h2M48 46h1M2 47h1M50 47h1M0 48h2M-2 49h2M52 50h1M53 53h1M53 54h1M54 58h1M54 59h1M54 60h1M54 61h1M54 62h1"/>
<path stroke="#6c6c6c" d="M51 6h1M-2 7h3M1 8h1M2 9h1M49 9h1M4 10h1M48 10h1M6 11h1M47 11h1M9 12h1M46 12h1M11 13h1M45 13h1M14 14h1M16 15h1M42 15h1M18 16h1M40 16h1M20 17h1M38 17h1M22 18h1M36 18h1M25 19h8M13 44h3M38 44h3M9 45h2M44 45h2M6 46h1M47 46h1M3 47h2M49 47h1M2 48h1M50 48h1M0 49h1M51 49h1M-2 50h2M52 51h1M52 52h1M53 55h1M53 56h1"/>
<path stroke="#6e6e6e" d="M54 0h1M53 2h1M52 4h1M-2 6h2M50 7h1M2 8h1M49 8h1M3 9h1M5 10h1M7 11h2M10 12h1M12 13h2M44 13h1M15 14h1M43 14h1M17 15h1M41 15h1M19 16h1M37 17h1M23 18h1M34 18h2M16 44h4M33 44h5M11 45h1M42 45h2M7 46h2M46 46h1M5 47h1M48 47h1M3 48h1M49 48h1M1 49h1M50 49h1M0 50h1M51 50h1M52 53h1M53 57h1M53 58h1M53 59h1M53 60h1M53 61h1M53 62h1M53 63h1M53 64h1"/>
<path stroke="#707070" d="M54 -2h1M54 -1h1M53 1h1M52 3h1M51 5h1M0 6h1M50 6h1M1 7h1M3 8h1M4 9h1M48 9h1M6 10h2M47 10h1M9 11h1M46 11h1M11 12h1M45 12h1M14 13h1M16 14h1M42 14h1M18 15h1M40 15h1M39 16h1M21 17h1M36 17h1M24 18h2M31 18h3M20 44h13M12 45h3M40 45h2M9 46h1M44 46h2M6 47h1M47 47h1M4 48h1M48 48h1M2 49h1M49 49h1M1 50h1M50 50h1M-2 51h3M51 51h1M51 52h1M52 54h1M52 55h1"/>
<path stroke="#727272" d="M51 4h1M-2 5h2M1 6h1M2 7h1M49 7h1M4 8h1M5 9h2M8 10h1M10 11h1M12 12h1M44 12h1M15 13h1M43 13h1M17 14h1M41 14h1M20 16h1M38 16h1M22 17h2M35 17h1M26 18h5M15 45h3M37 45h3M10 46h2M43 46h1M7 47h2M46 47h1M5 48h1M3 49h1M2 50h1M1 51h1M50 51h1M-2 52h3M-2 53h2M51 53h1M52 56h1M52 57h1M52 62h1M52 63h1M52 64h1"/>
<path stroke="#747474" d="M53 0h1M52 2h1M-2 4h2M0 5h1M50 5h1M3 7h1M5 8h1M48 8h1M7 9h1M47 9h1M9 10h1M46 10h1M11 11h1M45 11h1M13 12h1M16 13h1M42 13h1M19 15h1M39 15h1M21 16h1M37 16h1M24 17h2M32 17h3M18 45h3M32 45h5M12 46h2M41 46h2M9 47h1M44 47h2M6 48h2M47 48h1M4 49h2M48 49h1M3 50h1M49 50h1M2 51h1M1 52h1M50 52h1M0 53h1M-2 54h2M51 54h1M51 55h1M52 58h1M52 59h1M52 60h1M52 61h1"/>
<path stroke="#767676" d="M53 -2h1M53 -1h1M52 1h1M51 3h1M0 4h1M1 5h1M2 6h1M49 6h1M4 7h1M48 7h1M6 8h1M8 9h1M10 10h1M12 11h1M44 11h1M14 12h1M43 12h1M41 13h1M18 14h1M40 14h1M20 15h1M38 15h1M22 16h1M35 16h2M26 17h6M21 45h11M14 46h2M38 46h3M10 47h2M43 47h1M8 48h1M46 48h1M6 49h1M47 49h1M4 50h1M48 50h1M3 51h1M49 51h1M2 52h1M1 53h1M50 53h1M0 54h1M-2 55h3M-2 56h2M51 56h1"/>
<path stroke="#787878" d="M52 0h1M-2 3h2M50 4h1M3 6h1M5 7h1M7 8h1M47 8h1M9 9h1M46 9h1M11 10h1M45 10h1M13 11h1M15 12h1M42 12h1M17 13h1M19 14h1M39 14h1M21 15h1M37 15h1M23 16h2M33 16h2M16 46h3M35 46h3M12 47h1M41 47h2M9 48h1M44 48h2M7 49h1M46 49h1M5 50h1M4 51h1M48 51h1M49 52h1M2 53h1M1 54h1M50 54h1M50 55h1M0 56h1M-2 57h2M51 57h1M51 58h1M51 59h1M51 60h1M51 61h1M51 62h1M51 63h1M51 64h1"/>
<path stroke="#7a7a7a" d="M52 -2h1M52 -1h1M-2 1h2M51 1h1M-2 2h3M51 2h1M0 3h1M50 3h1M1 4h1M2 5h1M49 5h1M4 6h1M48 6h1M6 7h1M8 8h1M10 9h1M12 10h1M44 10h1M14 11h1M43 11h1M16 12h1M18 13h1M40 13h1M20 14h1M38 14h1M22 15h1M36 15h1M25 16h2M30 16h3M19 46h3M31 46h4M13 47h2M39 47h2M10 48h1M43 48h1M8 49h1M45 49h1M6 50h1M47 50h1M5 51h1M3 52h1M48 52h1M49 53h1M2 54h1M49 54h1M1 55h1M50 56h1M0 57h1M-2 58h2M-2 61h2M-2 62h2M-2 63h2M50 63h1M-2 64h2M50 64h1"/>
<path stroke="#7c7c7c" d="M-2 -2h2M-2 -1h2M-2 0h2M51 0h1M0 1h1M50 2h1M1 3h1M2 4h1M49 4h1M3 5h1M5 6h1M47 7h1M9 8h1M46 8h1M11 9h1M45 9h1M13 10h1M15 11h1M42 11h1M17 12h1M41 12h1M19 13h1M39 13h1M37 14h1M23 15h1M34 15h2M27 16h3M22 46h9M15 47h3M36 47h3M11 48h2M41 48h2M9 49h1M44 49h1M7 50h1M46 50h1M6 51h1M47 51h1M4 52h1M3 53h1M48 53h1M3 54h1M2 55h1M49 55h1M1 56h1M1 57h1M50 57h1M0 58h1M-2 59h3M-2 60h3M50 60h1M0 61h1M50 61h1M0 62h1M50 62h1M0 63h1M0 64h1"/>
<path stroke="#7e7e7e" d="M0 -2h1M51 -2h1M0 -1h1M51 -1h1M0 0h1M50 1h1M1 2h1M2 3h1M49 3h1M3 4h1M4 5h1M48 5h1M6 6h1M7 7h1M10 8h1M12 9h1M44 9h1M14 10h1M43 10h1M16 11h1M18 12h1M40 12h1M38 13h1M21 14h1M36 14h1M24 15h2M32 15h2M18 47h2M33 47h3M13 48h2M39 48h2M10 49h1M43 49h1M8 50h1M45 50h1M7 51h1M46 51h1M5 52h1M47 52h1M4 53h1M48 54h1M3 55h1M2 56h1M49 56h1M1 58h1M50 58h1M50 59h1M1 62h1M1 63h1M49 63h1M1 64h1M49 64h1"/>
<path stroke="#818181" d="M1 -2h1M50 -2h1M1 -1h1M50 -1h1M1 0h1M50 0h1M1 1h1M2 2h1M49 2h1M3 3h1M4 4h1M48 4h1M5 5h1M47 6h1M8 7h1M46 7h1M45 8h1M13 9h1M15 10h1M17 11h1M41 11h1M20 13h1M22 14h1M35 14h1M26 15h6M20 47h4M30 47h3M15 48h2M37 48h2M11 49h2M41 49h2M9 50h1M44 50h1M8 51h1M45 51h1M6 52h1M46 52h1M5 53h1M47 53h1M4 54h1M48 55h1M3 56h1M2 57h1M49 57h1M1 59h1M1 60h1M49 60h1M1 61h1M49 61h1M49 62h1M2 63h1M2 64h1"/>
<path stroke="#838383" d="M2 0h1M2 1h1M49 1h1M3 2h1M4 3h1M48 3h1M5 4h1M6 5h1M47 5h1M7 6h1M46 6h1M9 7h1M45 7h1M11 8h1M44 8h1M14 9h1M43 9h1M16 10h1M42 10h1M40 11h1M19 12h1M39 12h1M21 13h1M37 13h1M23 14h2M33 14h2M24 47h6M17 48h2M35 48h2M13 49h1M40 49h1M10 50h2M42 50h2M9 51h1M44 51h1M7 52h1M6 53h1M46 53h1M5 54h1M47 54h1M4 55h1M4 56h1M48 56h1M3 57h1M2 58h1M49 58h1M2 59h1M49 59h1M2 60h1M2 61h1M2 62h1M48 62h1M48 63h1M48 64h1"/>
<path stroke="#858585" d="M2 -2h2M49 -2h1M2 -1h2M49 -1h1M3 0h1M49 0h1M3 1h1M48 1h1M4 2h1M48 2h1M5 3h1M6 4h1M47 4h1M7 5h1M46 5h1M8 6h2M10 7h1M12 8h1M15 9h1M41 10h1M18 11h1M20 12h1M38 12h1M22 13h1M36 13h1M25 14h2M30 14h3M19 48h2M32 48h3M14 49h2M38 49h2M12 50h1M41 50h1M10 51h1M43 51h1M8 52h1M45 52h1M7 53h1M6 54h1M46 54h1M5 55h1M47 55h1M48 57h1M3 58h1M48 59h1M3 60h1M48 60h1M3 61h1M48 61h1M3 62h1M3 63h1M3 64h1"/>
<path stroke="#878787" d="M4 -2h1M25 -2h12M47 -2h2M4 -1h1M25 -1h12M47 -1h2M4 0h1M47 0h2M4 1h1M47 1h1M5 2h1M47 2h1M6 3h1M47 3h1M7 4h1M46 4h1M8 5h1M10 6h1M45 6h1M11 7h2M44 7h1M13 8h1M43 8h1M42 9h1M17 10h1M19 11h1M39 11h1M37 12h1M23 13h1M34 13h2M27 14h3M21 48h5M27 48h5M16 49h2M36 49h2M13 50h1M40 50h1M11 51h1M42 51h1M9 52h1M44 52h1M8 53h1M45 53h1M7 54h1M6 55h1M46 55h1M5 56h1M47 56h1M4 57h1M4 58h1M48 58h1M3 59h1M4 62h1M47 62h1M4 63h1M47 63h1M4 64h1M47 64h1"/>
<path stroke="#898989" d="M5 -2h1M22 -2h3M37 -2h3M44 -2h3M5 -1h1M22 -1h3M37 -1h3M44 -1h3M5 0h1M25 0h12M45 0h2M5 1h2M46 1h1M6 2h1M46 2h1M7 3h1M46 3h1M8 4h1M45 4h1M9 5h2M45 5h1M11 6h1M44 6h1M13 7h1M43 7h1M14 8h1M42 8h1M16 9h1M41 9h1M18 10h1M40 10h1M38 11h1M21 12h1M36 12h1M24 13h1M32 13h2M26 48h1M18 49h2M33 49h3M14 50h2M38 50h2M12 51h1M41 51h1M10 52h1M42 52h2M9 53h1M44 53h1M8 54h1M45 54h1M7 55h1M6 56h1M5 57h1M47 57h1M47 58h1M4 59h1M47 59h1M4 60h1M47 60h1M4 61h1M47 61h1M5 62h1M5 63h1M46 63h1M5 64h1M46 64h1"/>
<path stroke="#8b8b8b" d="M6 -2h2M20 -2h2M40 -2h4M6 -1h2M20 -1h2M40 -1h4M6 0h2M22 0h3M37 0h8M7 1h1M44 1h2M7 2h1M45 2h1M8 3h1M45 3h1M9 4h1M44 4h1M11 5h1M44 5h1M12 6h1M43 6h1M14 7h1M42 7h1M15 8h2M41 8h1M17 9h1M40 9h1M39 10h1M20 11h1M37 11h1M22 12h1M35 12h1M25 13h7M20 49h3M30 49h3M16 50h2M36 50h2M13 51h2M39 51h2M11 52h1M41 52h1M10 53h1M43 53h1M9 54h1M44 54h1M8 55h1M45 55h1M7 56h1M46 56h1M6 57h1M5 58h1M5 59h1M5 60h1M5 61h1M46 61h1M6 62h1M46 62h1M6 63h1M6 64h1"/>
<path stroke="#8d8d8d" d="M8 -2h3M19 -2h1M8 -1h3M19 -1h1M8 0h2M20 0h2M8 1h2M25 1h19M8 2h2M43 2h2M9 3h2M43 3h2M10 4h2M43 4h1M12 5h1M43 5h1M13 6h2M42 6h1M15 7h1M41 7h1M17 8h1M40 8h1M18 9h1M39 9h1M19 10h1M38 10h1M21 11h1M36 11h1M23 12h2M33 12h2M23 49h7M18 50h2M34 50h2M15 51h1M38 51h1M12 52h2M40 52h1M11 53h1M42 53h1M10 54h1M43 54h1M9 55h1M44 55h1M8 56h1M45 56h1M7 57h1M46 57h1M6 58h1M46 58h1M6 59h1M46 59h1M6 60h1M46 60h1M6 61h1M45 62h1M7 63h1M45 63h1M7 64h1M45 64h1"/>
<path stroke="#8f8f8f" d="M11 -2h8M11 -1h8M10 0h4M17 0h3M10 1h2M22 1h3M10 2h2M40 2h3M11 3h1M42 3h1M12 4h1M42 4h1M13 5h2M42 5h1M15 6h1M41 6h1M16 7h1M40 7h1M18 8h1M39 8h1M19 9h1M38 9h1M20 10h2M36 10h2M22 11h1M34 11h2M25 12h3M29 12h4M20 50h2M31 50h3M16 51h2M36 51h2M14 52h1M38 52h2M12 53h1M40 53h2M11 54h1M42 54h1M10 55h1M43 55h1M9 56h1M44 56h1M45 57h1M7 58h1M7 59h1M7 60h1M45 60h1M7 61h1M45 61h1M7 62h1M44 62h1M8 63h1M44 63h1M8 64h1M44 64h1"/>
<path stroke="#919191" d="M14 0h3M12 1h10M12 2h2M23 2h17M12 3h2M39 3h3M13 4h2M40 4h2M15 5h1M40 5h2M16 6h1M40 6h1M17 7h1M39 7h1M19 8h1M38 8h1M20 9h1M37 9h1M22 10h1M35 10h1M23 11h3M31 11h3M28 12h1M22 50h9M18 51h2M33 51h3M15 52h2M37 52h1M13 53h2M39 53h1M12 54h1M41 54h1M11 55h1M42 55h1M43 56h1M8 57h1M44 57h1M8 58h1M45 58h1M45 59h1M8 60h1M8 61h1M44 61h1M8 62h1M9 63h1M43 63h1M9 64h1M43 64h1"/>
<path stroke="#939393" d="M14 2h9M14 3h3M27 3h12M15 4h2M37 4h3M16 5h2M38 5h2M17 6h2M38 6h2M18 7h2M38 7h1M20 8h1M37 8h1M21 9h1M35 9h2M23 10h2M32 10h3M26 11h5M20 51h2M31 51h2M17 52h2M35 52h2M15 53h1M38 53h1M13 54h1M39 54h2M12 55h1M41 55h1M10 56h1M42 56h1M9 57h1M44 58h1M8 59h1M44 59h1M44 60h1M9 61h1M43 61h1M9 62h1M43 62h1M10 63h1M42 63h1M10 64h1M42 64h1"/>
<path stroke="#959595" d="M17 3h10M17 4h4M30 4h7M18 5h2M35 5h3M19 6h1M36 6h2M20 7h1M36 7h2M21 8h1M35 8h2M22 9h2M33 9h2M25 10h7M22 51h9M19 52h1M33 52h2M16 53h2M36 53h2M14 54h2M38 54h1M13 55h1M40 55h1M11 56h1M41 56h1M10 57h1M43 57h1M9 58h1M43 58h1M9 59h1M43 59h1M9 60h1M43 60h1M10 61h1M10 62h1M42 62h1M11 63h1M41 63h1M11 64h1M41 64h1"/>
<path stroke="#979797" d="M21 4h9M20 5h15M20 6h3M32 6h4M21 7h2M33 7h3M22 8h3M32 8h3M24 9h9M20 52h3M30 52h3M18 53h1M34 53h2M16 54h1M36 54h2M14 55h1M38 55h2M12 56h1M40 56h1M11 57h1M42 57h1M10 58h1M42 58h1M10 59h1M42 59h1M10 60h1M42 60h1M11 61h1M42 61h1M11 62h2M41 62h1M12 63h1M40 63h1M12 64h1M40 64h1"/>
<path stroke="#999999" d="M23 6h9M23 7h10M25 8h7M23 52h7M19 53h2M32 53h2M17 54h2M35 54h1M15 55h2M37 55h1M13 56h1M39 56h1M12 57h1M41 57h1M11 58h1M41 58h1M11 59h1M41 59h1M11 60h1M41 60h1M12 61h1M41 61h1M13 62h1M39 62h2M13 63h2M38 63h2M13 64h2M38 64h2"/>
<path stroke="#9b9b9b" d="M21 53h3M29 53h3M19 54h1M33 54h2M17 55h1M35 55h2M14 56h2M38 56h1M13 57h1M40 57h1M12 58h1M40 58h1M12 59h1M40 59h1M12 60h1M40 60h1M13 61h1M39 61h2M14 62h1M38 62h1M15 63h1M37 63h1M15 64h1M37 64h1"/>
<path stroke="#9d9d9d" d="M24 53h5M20 54h2M31 54h2M18 55h2M33 55h2M16 56h1M36 56h2M14 57h1M38 57h2M13 58h1M39 58h1M13 59h1M39 59h1M13 60h1M39 60h1M14 61h1M38 61h1M15 62h2M37 62h1M16 63h2M35 63h2M16 64h2M35 64h2"/>
<path stroke="#9f9f9f" d="M22 54h9M20 55h1M32 55h1M17 56h2M35 56h1M15 57h2M37 57h1M14 58h2M38 58h1M14 59h2M38 59h1M14 60h2M38 60h1M15 61h2M37 61h1M17 62h1M35 62h2M18 63h1M34 63h1M18 64h1M34 64h1"/>
<path stroke="#a1a1a1" d="M21 55h3M29 55h3M19 56h1M33 56h2M17 57h1M36 57h1M16 58h1M36 58h2M16 59h1M36 59h2M16 60h1M36 60h2M17 61h1M35 61h2M18 62h2M33 62h2M19 63h2M32 63h2M19 64h2M32 64h2"/>
<path stroke="#a3a3a3" d="M24 55h5M20 56h2M31 56h2M18 57h1M34 57h2M17 58h1M35 58h1M17 59h1M35 59h1M17 60h2M34 60h2M18 61h1M33 61h2M20 62h1M31 62h2M21 63h2M30 63h2M21 64h2M30 64h2"/>
<path stroke="#a5a5a5" d="M22 56h3M28 56h3M19 57h2M32 57h2M18 58h2M33 58h2M18 59h2M33 59h2M19 60h1M33 60h1M19 61h2M32 61h1M21 62h3M29 62h2M23 63h7M23 64h7"/>
<path stroke="#a7a7a7" d="M25 56h3M21 57h2M30 57h2M20 58h1M32 58h1M20 59h1M31 59h2M20 60h2M31 60h2M21 61h2M30 61h2M24 62h5"/>
<path stroke="#a9a9a9" d="M23 57h7M21 58h2M29 58h3M21 59h3M29 59h2M22 60h2M28 60h3M23 61h7"/>
<path stroke="#ababab" d="M23 58h6M24 59h5M24 60h4"/>
</g></g></g>
<g clip-path="url(#cpc)"><path d="M350.6 1218.4L338.6 1238.1M350.6 1252.4L341.9 1272.5M350.6 1286.4L344.8 1306.7M350.6 1320.4L347.2 1340.8M350.6 1354.4L349.0 1374.9M350.6 1388.4L350.2 1408.9M350.6 1422.4L350.6 1442.9M350.6 1456.4L351.3 1476.9M350.6 1490.4L352.7 1510.9M350.6 1524.4L354.7 1544.8M350.6 1558.4L357.3 1578.7M350.6 1592.4L360.3 1612.4M403.6 1218.4L385.7 1236.8M403.6 1252.4L390.1 1271.9M403.6 1286.4L394.4 1306.5M403.6 1320.4L398.2 1340.8M403.6 1354.4L401.1 1374.9M403.6 1388.4L403.0 1408.9M403.6 1422.4L403.6 1442.9M403.6 1456.4L404.7 1476.9M403.6 1490.4L406.9 1510.9M403.6 1524.4L410.2 1544.7M403.6 1558.4L414.1 1578.3M403.6 1592.4L418.5 1611.6M456.6 1218.4L430.0 1232.8M456.6 1252.4L434.5 1269.3M456.6 1286.4L440.3 1305.2M456.6 1320.4L446.6 1340.4M456.6 1354.4L451.9 1374.8M456.6 1388.4L455.5 1408.9M456.6 1422.4L456.7 1442.9M456.6 1456.4L458.7 1476.9M456.6 1490.4L462.9 1510.7M456.6 1524.4L468.6 1544.1M456.6 1558.4L474.9 1576.7M456.6 1592.4L480.4 1608.5M456.6 1626.4L484.3 1640.1M456.6 1660.4L486.9 1671.8M509.6 1150.4L474.7 1154.5M509.6 1184.4L475.1 1189.6M509.6 1218.4L475.8 1225.2M509.6 1252.4L477.2 1261.5M509.6 1286.4L480.4 1298.8M509.6 1320.4L486.9 1337.0M509.6 1354.4L497.3 1374.1M509.6 1388.4L506.5 1408.9M509.6 1422.4L509.8 1442.9M509.6 1456.4L515.2 1476.8M509.6 1490.4L525.5 1509.3M509.6 1524.4L534.9 1539.6M509.6 1558.4L540.1 1569.6M509.6 1592.4L542.6 1600.6M509.6 1626.4L543.7 1632.6M509.6 1660.4L544.3 1665.2M562.6 1116.4L527.1 1116.7M562.6 1150.4L527.1 1150.8M562.6 1184.4L527.1 1184.9M562.6 1218.4L527.1 1219.0M562.6 1252.4L527.1 1253.3M562.6 1286.4L527.2 1287.7M562.6 1558.4L598.1 1559.5M562.6 1592.4L598.1 1593.2M562.6 1626.4L598.1 1627.0M562.6 1660.4L598.1 1660.8M615.6 1116.4L580.1 1115.5M615.6 1150.4L580.1 1149.3M615.6 1184.4L580.2 1183.0M615.6 1218.4L580.2 1216.5M615.6 1252.4L580.4 1249.7M615.6 1286.4L580.7 1282.4M615.6 1524.4L649.9 1518.8M615.6 1558.4L650.7 1554.9M615.6 1592.4L650.9 1590.0M615.6 1626.4L651.0 1624.7M615.6 1660.4L651.0 1659.1M668.6 1150.4L634.3 1144.6M668.6 1184.4L635.1 1177.1M668.6 1218.4L636.4 1209.1M668.6 1252.4L638.9 1240.4M668.6 1286.4L643.6 1271.0M668.6 1320.4L651.1 1301.9M668.6 1354.4L659.9 1334.3M668.6 1388.4L666.5 1367.9M668.6 1422.4L668.7 1401.9M668.6 1456.4L672.5 1436.0M668.6 1490.4L680.1 1470.6M668.6 1524.4L688.9 1506.8M668.6 1558.4L695.5 1544.2M668.6 1592.4L699.3 1581.4M668.6 1626.4L701.3 1617.8M668.6 1660.4L702.4 1653.6M721.6 1184.4L694.3 1170.5M721.6 1218.4L697.8 1202.3M721.6 1252.4L702.6 1234.4M721.6 1286.4L708.1 1266.9M721.6 1320.4L713.5 1300.2M721.6 1354.4L717.8 1334.0M721.6 1388.4L720.7 1367.9M721.6 1422.4L721.6 1401.9M721.6 1456.4L723.3 1435.9M721.6 1490.4L726.6 1470.0M721.6 1524.4L731.4 1504.4M721.6 1558.4L736.9 1539.3M721.6 1592.4L742.3 1574.9M721.6 1626.4L746.7 1611.0M721.6 1660.4L749.9 1647.2M774.6 1218.4L758.8 1199.4M774.6 1252.4L762.9 1232.6M774.6 1286.4L766.7 1266.2M774.6 1320.4L770.0 1300.0M774.6 1354.4L772.5 1333.9M774.6 1388.4L774.1 1367.9M774.6 1422.4L774.6 1401.9M774.6 1456.4L775.5 1435.9M774.6 1490.4L777.4 1469.9M774.6 1524.4L780.2 1504.0M774.6 1558.4L783.7 1538.3M774.6 1592.4L787.6 1572.9M827.6 1218.4L816.9 1198.5M827.6 1252.4L819.9 1232.2M827.6 1286.4L822.5 1266.0M827.6 1320.4L824.6 1299.9M827.6 1354.4L826.2 1333.9M827.6 1388.4L827.3 1367.9M827.6 1422.4L827.6 1401.9M827.6 1456.4L828.2 1435.9M827.6 1490.4L829.4 1469.9M827.6 1524.4L831.2 1504.0M827.6 1558.4L833.6 1538.1M827.6 1592.4L836.3 1572.3" stroke="#fff" stroke-width="4.1" fill="none"/><path d="M333.2 1247.1L335.5 1233.9L343.9 1238.9zM337.7 1282.2L338.2 1268.7L347.2 1272.6zM341.9 1316.8L340.6 1303.5L350.1 1306.2zM345.5 1351.2L342.7 1338.1L352.4 1339.7zM348.3 1385.4L344.3 1372.5L354.1 1373.3zM350.0 1419.4L345.4 1406.8L355.2 1407.0zM350.6 1453.4L345.7 1440.9L355.5 1440.9zM351.6 1487.4L346.3 1475.1L356.1 1474.7zM353.7 1521.3L347.6 1509.4L357.4 1508.4zM356.8 1555.1L349.5 1543.8L359.1 1541.9zM360.6 1588.7L352.0 1578.3L361.3 1575.3zM364.9 1621.9L355.1 1612.8L363.9 1608.5zM378.4 1244.3L383.6 1232.0L390.6 1238.8zM384.1 1280.5L387.2 1267.4L395.3 1273.0zM390.1 1316.0L390.8 1302.6L399.7 1306.7zM395.5 1350.9L394.0 1337.6L403.5 1340.1zM399.9 1385.3L396.5 1372.3L406.2 1373.5zM402.7 1419.4L398.2 1406.8L408.0 1407.0zM403.6 1453.4L398.7 1440.9L408.5 1440.9zM405.3 1487.4L399.7 1475.2L409.5 1474.6zM408.6 1521.2L401.8 1509.7L411.4 1508.1zM413.4 1554.7L404.9 1544.3L414.2 1541.3zM419.1 1587.6L408.9 1578.8L417.5 1574.3zM425.0 1619.8L413.4 1613.0L421.2 1607.0zM420.8 1237.9L429.4 1227.6L434.1 1236.2zM426.1 1275.6L433.1 1264.1L439.0 1271.9zM433.4 1313.2L437.9 1300.5L445.3 1306.9zM441.9 1349.8L443.1 1336.4L451.8 1340.8zM449.6 1385.0L447.6 1371.8L457.1 1373.9zM454.9 1419.4L450.7 1406.6L460.5 1407.2zM456.7 1453.4L451.8 1440.9L461.6 1440.9zM459.7 1487.3L453.6 1475.4L463.3 1474.4zM466.0 1520.8L457.6 1510.3L467.0 1507.4zM474.1 1553.1L463.4 1545.0L471.8 1539.8zM482.3 1584.1L470.0 1578.7L477.0 1571.8zM489.0 1614.4L475.9 1611.4L481.4 1603.3zM493.7 1644.7L480.4 1643.6L484.7 1634.8zM496.8 1675.5L483.4 1675.7L486.8 1666.5zM464.3 1155.7L476.1 1149.4L477.3 1159.1zM464.7 1191.2L476.3 1184.5L477.8 1194.1zM465.5 1227.2L476.8 1220.0L478.7 1229.6zM467.1 1264.3L477.8 1256.2L480.5 1265.7zM470.7 1303.0L480.3 1293.6L484.1 1302.6zM478.5 1343.2L485.7 1331.9L491.5 1339.8zM491.8 1383.0L494.2 1369.8L502.6 1375.0zM504.9 1419.2L502.0 1406.1L511.6 1407.6zM509.8 1453.4L504.8 1440.9L514.6 1440.9zM518.0 1486.9L509.9 1476.1L519.4 1473.5zM532.2 1517.4L520.4 1511.0L527.9 1504.7zM543.9 1545.1L530.7 1542.8L535.7 1534.4zM550.0 1573.2L536.6 1573.5L539.9 1564.3zM552.7 1603.2L539.4 1604.9L541.8 1595.4zM554.0 1634.5L540.8 1637.0L542.6 1627.4zM554.7 1666.6L541.6 1669.8L542.9 1660.1zM516.6 1116.8L529.1 1111.8L529.1 1121.6zM516.6 1150.9L529.1 1145.8L529.2 1155.6zM516.6 1185.0L529.0 1179.9L529.2 1189.7zM516.6 1219.2L529.0 1214.1L529.2 1223.9zM516.6 1253.5L529.0 1248.3L529.2 1258.1zM516.7 1288.1L529.0 1282.7L529.3 1292.5zM608.5 1559.9L595.9 1564.4L596.2 1554.6zM608.6 1593.4L596.0 1598.0L596.2 1588.2zM608.6 1627.1L596.0 1631.8L596.2 1622.0zM608.6 1661.0L596.0 1665.7L596.2 1655.9zM569.6 1115.2L582.3 1110.6L582.0 1120.4zM569.7 1148.9L582.3 1144.4L582.0 1154.2zM569.7 1182.5L582.4 1178.1L582.0 1187.9zM569.7 1215.9L582.5 1211.7L582.0 1221.5zM569.9 1248.9L582.7 1245.0L582.0 1254.8zM570.3 1281.2L583.2 1277.7L582.1 1287.5zM660.3 1517.1L648.8 1524.0L647.2 1514.3zM661.1 1553.9L649.2 1560.0L648.2 1550.2zM661.4 1589.3L649.2 1595.0L648.6 1585.3zM661.5 1624.1L649.2 1629.7L648.8 1619.9zM661.5 1658.7L649.2 1664.0L648.9 1654.3zM624.0 1142.8L637.1 1140.1L635.5 1149.7zM624.8 1174.9L638.1 1172.8L636.0 1182.3zM626.3 1206.2L639.7 1205.0L637.0 1214.4zM629.2 1236.4L642.6 1236.6L638.9 1245.7zM634.6 1265.5L647.8 1267.9L642.7 1276.2zM643.9 1294.2L656.0 1300.0L648.9 1306.7zM655.7 1324.6L665.2 1334.2L656.2 1338.1zM665.4 1357.5L671.5 1369.4L661.8 1370.4zM668.8 1391.4L673.6 1403.9L663.8 1403.9zM674.4 1425.7L676.9 1438.8L667.3 1437.0zM685.4 1461.5L683.3 1474.8L674.8 1469.9zM696.8 1499.9L690.6 1511.8L684.1 1504.4zM704.8 1539.2L696.0 1549.4L691.4 1540.8zM709.2 1577.8L699.1 1586.6L695.8 1577.4zM711.5 1615.2L700.6 1623.1L698.1 1613.6zM712.7 1651.6L701.4 1658.8L699.5 1649.2zM684.9 1165.7L698.3 1167.0L693.8 1175.8zM689.1 1196.4L702.2 1199.4L696.7 1207.5zM695.0 1227.1L707.4 1232.2L700.7 1239.3zM702.1 1258.3L713.3 1265.8L705.2 1271.4zM709.5 1290.5L718.8 1300.2L709.7 1303.9zM715.9 1323.6L723.0 1335.0L713.4 1336.8zM720.2 1357.4L725.7 1369.7L715.9 1370.1zM721.7 1391.4L726.5 1403.9L716.7 1403.9zM724.1 1425.4L728.0 1438.3L718.2 1437.5zM729.2 1459.8L730.9 1473.1L721.4 1470.8zM736.0 1495.0L734.9 1508.3L726.1 1504.0zM743.5 1531.1L739.5 1544.0L731.9 1537.8zM750.3 1568.2L743.9 1580.0L737.6 1572.5zM755.6 1605.5L747.5 1616.2L742.4 1607.9zM759.4 1642.7L750.1 1652.5L746.0 1643.6zM752.1 1191.3L763.9 1197.8L756.3 1204.1zM757.6 1223.6L768.1 1231.9L759.7 1236.9zM762.9 1256.4L772.0 1266.3L762.9 1269.8zM767.7 1289.8L775.2 1300.9L765.6 1303.0zM771.4 1323.5L777.6 1335.4L767.8 1336.4zM773.8 1357.4L779.0 1369.8L769.2 1370.0zM774.6 1391.4L779.5 1403.9L769.7 1403.9zM776.0 1425.4L780.3 1438.1L770.5 1437.7zM778.9 1459.5L782.0 1472.6L772.3 1471.2zM783.0 1493.9L784.4 1507.3L775.0 1504.7zM788.0 1528.7L787.3 1542.2L778.4 1538.1zM793.4 1564.1L790.6 1577.2L782.4 1571.8zM811.9 1189.3L822.2 1197.9L813.5 1202.6zM816.1 1222.4L825.1 1232.3L816.0 1235.8zM819.9 1255.8L827.7 1266.8L818.2 1269.2zM823.1 1289.6L829.7 1301.2L820.0 1302.6zM825.5 1323.4L831.2 1335.6L821.5 1336.2zM827.1 1357.4L832.2 1369.8L822.4 1370.0zM827.6 1391.4L832.5 1403.9L822.7 1403.9zM828.5 1425.4L833.0 1438.0L823.2 1437.8zM830.4 1459.5L834.1 1472.3L824.4 1471.5zM833.1 1493.6L835.7 1506.8L826.1 1505.1zM836.5 1528.0L837.7 1541.4L828.3 1538.6zM840.4 1562.6L840.0 1576.0L831.0 1572.2z" fill="#fff"/></g>
<g clip-path="url(#cpd)"><path d="M1135.2 1105.8L1164.8 1104.5M1185.9 1105.8L1215.5 1105.3M1035.2 1159.7L1065.0 1164.3M1084.5 1159.7L1114.1 1158.0M1135.2 1159.7L1164.8 1158.6M1185.9 1159.7L1215.5 1159.3M1236.7 1159.7L1266.3 1159.9M1285.9 1159.7L1315.6 1162.4M984.5 1213.5L1014.2 1216.9M1035.2 1213.5L1064.9 1216.9M1084.5 1213.5L1114.1 1212.3M1135.2 1213.5L1164.8 1212.7M1185.9 1213.5L1215.5 1213.2M1236.7 1213.5L1266.3 1213.7M1285.9 1213.5L1315.5 1215.5M1336.7 1213.5L1366.3 1215.5M984.5 1267.3L1014.1 1269.5M1035.2 1267.3L1064.9 1269.5M1084.5 1267.3L1114.1 1266.5M1135.2 1267.3L1164.8 1266.8M1185.9 1267.3L1215.5 1267.1M1236.7 1267.3L1266.3 1267.4M1285.9 1267.3L1315.5 1268.6M1336.7 1267.3L1366.3 1268.6M984.5 1319.6L1014.1 1320.5M1035.2 1319.6L1064.8 1320.5M1084.5 1319.6L1114.1 1319.2M1135.2 1319.6L1164.8 1319.4M1185.9 1319.6L1215.5 1319.5M1236.7 1319.6L1266.3 1319.6M1285.9 1319.6L1315.5 1320.2M1336.7 1319.6L1366.3 1320.2M984.5 1373.4L1014.1 1373.1M1035.2 1373.4L1064.8 1373.1M1084.5 1373.4L1114.1 1373.5M1135.2 1373.4L1164.8 1373.5M1185.9 1373.4L1215.5 1373.4M1236.7 1373.4L1266.3 1373.4M1285.9 1373.4L1315.5 1373.2M1336.7 1373.4L1366.3 1373.2M984.5 1425.7L1014.1 1424.2M1035.2 1425.7L1064.9 1424.2M1084.5 1425.7L1114.1 1426.2M1135.2 1425.7L1164.8 1426.0M1185.9 1425.7L1215.5 1425.8M1236.7 1425.7L1266.3 1425.6M1285.9 1425.7L1315.5 1424.8M1336.7 1425.7L1366.3 1424.8M984.5 1479.5L1014.2 1476.8M1035.2 1479.5L1064.9 1476.8M1084.5 1479.5L1114.1 1480.5M1135.2 1479.5L1164.8 1480.1M1185.9 1479.5L1215.5 1479.8M1236.7 1479.5L1266.3 1479.4M1285.9 1479.5L1315.5 1477.9M1336.7 1479.5L1366.3 1477.9M984.5 1533.3L1014.2 1529.3M1035.2 1533.3L1065.0 1529.3M1084.5 1533.3L1114.1 1534.8M1135.2 1533.3L1164.8 1534.2M1185.9 1533.3L1215.5 1533.7M1236.7 1533.3L1266.3 1533.1M1285.9 1533.3L1315.6 1530.9M1035.2 1587.2L1065.1 1581.9M1084.5 1587.2L1114.1 1589.1M1135.2 1587.2L1164.8 1588.3M1185.9 1587.2L1215.5 1587.6M1236.7 1587.2L1266.3 1586.9M875.0 1105.8L904.2 1128.6M875.0 1158.1L907.0 1176.7M875.0 1210.4L909.2 1224.5M875.0 1262.7L910.8 1272.0M875.0 1315.0L911.7 1319.3M875.0 1367.3L912.0 1366.6M875.0 1419.5L911.6 1413.9M875.0 1471.8L910.5 1461.3M875.0 1524.1L908.7 1508.8M875.0 1576.4L906.3 1556.7M875.0 1628.7L902.1 1603.5" stroke="#fff" stroke-width="4.8" fill="none"/><path d="M1179.8 1103.9L1163.1 1111.0L1162.5 1098.2zM1230.5 1105.1L1213.7 1111.8L1213.4 1099.0zM1079.8 1166.6L1062.1 1170.3L1064.0 1157.7zM1129.1 1157.1L1112.4 1164.5L1111.7 1151.7zM1179.8 1158.1L1163.0 1165.1L1162.6 1152.3zM1230.5 1159.1L1213.6 1165.7L1213.5 1152.9zM1281.3 1160.0L1264.2 1166.3L1264.3 1153.5zM1330.5 1163.8L1313.0 1168.6L1314.2 1155.9zM1029.1 1218.6L1011.5 1223.0L1012.9 1210.3zM1079.8 1218.6L1062.2 1223.0L1063.7 1210.3zM1129.1 1211.6L1112.3 1218.7L1111.8 1205.9zM1179.8 1212.3L1163.0 1219.2L1162.6 1206.4zM1230.5 1213.0L1213.6 1219.6L1213.5 1206.8zM1281.3 1213.7L1264.3 1220.0L1264.3 1207.2zM1330.5 1216.5L1313.1 1221.8L1314.0 1209.0zM1381.3 1216.5L1363.9 1221.8L1364.7 1209.0zM1029.1 1270.5L1011.7 1275.7L1012.6 1262.9zM1079.8 1270.5L1062.4 1275.7L1063.4 1262.9zM1129.1 1266.1L1112.2 1273.0L1111.9 1260.2zM1179.8 1266.6L1162.9 1273.3L1162.7 1260.5zM1230.5 1267.0L1213.6 1273.5L1213.5 1260.7zM1281.3 1267.5L1264.3 1273.8L1264.3 1261.0zM1330.5 1269.2L1313.2 1274.9L1313.8 1262.1zM1381.3 1269.2L1364.0 1274.9L1364.5 1262.1zM1029.1 1321.0L1011.9 1326.9L1012.3 1314.1zM1079.8 1321.0L1062.6 1326.9L1063.1 1314.1zM1129.1 1319.1L1112.1 1325.7L1112.0 1312.9zM1179.8 1319.3L1162.8 1325.8L1162.8 1313.0zM1230.5 1319.5L1213.6 1325.9L1213.5 1313.1zM1281.3 1319.7L1264.3 1326.0L1264.3 1313.2zM1330.5 1320.4L1313.4 1326.5L1313.6 1313.7zM1381.3 1320.4L1364.1 1326.5L1364.4 1313.7zM1029.1 1373.0L1012.2 1379.5L1012.0 1366.7zM1079.8 1373.0L1062.9 1379.5L1062.8 1366.7zM1129.1 1373.6L1112.0 1379.9L1112.1 1367.1zM1179.8 1373.5L1162.8 1379.9L1162.8 1367.1zM1230.5 1373.4L1213.5 1379.8L1213.6 1367.0zM1281.3 1373.4L1264.3 1379.8L1264.3 1367.0zM1330.5 1373.1L1313.5 1379.6L1313.5 1366.8zM1381.3 1373.1L1364.3 1379.6L1364.2 1366.8zM1029.1 1423.4L1012.4 1430.7L1011.8 1417.9zM1079.8 1423.4L1063.2 1430.7L1062.5 1417.9zM1129.1 1426.5L1111.9 1432.6L1112.2 1419.8zM1179.8 1426.2L1162.7 1432.4L1162.9 1419.6zM1230.5 1425.9L1213.5 1432.2L1213.6 1419.4zM1281.3 1425.6L1264.3 1432.0L1264.3 1419.2zM1330.5 1424.3L1313.7 1431.2L1313.3 1418.5zM1381.3 1424.3L1364.5 1431.2L1364.1 1418.5zM1029.1 1475.4L1012.8 1483.3L1011.6 1470.6zM1079.8 1475.4L1063.5 1483.3L1062.3 1470.6zM1129.1 1481.0L1111.8 1486.8L1112.3 1474.0zM1179.8 1480.4L1162.7 1486.5L1162.9 1473.7zM1230.5 1479.9L1213.5 1486.1L1213.6 1473.3zM1281.3 1479.3L1264.3 1485.8L1264.3 1473.0zM1330.5 1477.0L1313.9 1484.4L1313.2 1471.6zM1381.3 1477.0L1364.6 1484.4L1363.9 1471.6zM1029.1 1527.3L1013.1 1535.9L1011.4 1523.3zM1079.8 1527.3L1063.8 1535.9L1062.1 1523.3zM1129.1 1535.5L1111.8 1541.1L1112.4 1528.3zM1179.8 1534.7L1162.6 1540.6L1163.0 1527.8zM1230.5 1533.9L1213.5 1540.1L1213.6 1527.3zM1281.3 1533.0L1264.3 1539.5L1264.2 1526.7zM1330.5 1529.7L1314.1 1537.5L1313.0 1524.7zM1079.8 1579.3L1064.2 1588.5L1062.0 1575.9zM1129.1 1590.0L1111.7 1595.3L1112.5 1582.5zM1179.8 1588.9L1162.6 1594.6L1163.1 1581.9zM1230.5 1587.8L1213.5 1594.0L1213.6 1581.2zM1281.3 1586.8L1264.4 1593.3L1264.2 1580.5zM916.0 1137.8L898.7 1132.4L906.5 1122.3zM920.0 1184.2L902.1 1181.2L908.5 1170.2zM923.1 1230.2L904.9 1229.6L909.8 1217.8zM925.3 1275.8L907.3 1277.7L910.5 1265.3zM926.6 1321.1L909.0 1325.5L910.5 1312.7zM927.0 1366.3L910.1 1373.0L909.9 1360.2zM926.4 1411.6L910.6 1420.5L908.6 1407.9zM924.8 1457.0L910.4 1468.0L906.7 1455.7zM922.4 1502.7L909.5 1515.5L904.2 1503.8zM919.0 1548.7L908.0 1563.2L901.2 1552.4zM913.0 1593.2L905.0 1609.5L896.2 1600.1z" fill="#fff"/></g>
<g clip-path="url(#cpe)"><path d="M1528.4 1263.0L1521.5 1281.0M1528.4 1297.0L1523.2 1315.7M1528.4 1331.0L1524.8 1350.1M1528.4 1365.0L1526.3 1384.4M1528.4 1399.0L1527.6 1418.5M1528.4 1433.0L1528.4 1452.5M1528.4 1467.0L1529.1 1486.5M1528.4 1501.0L1530.4 1520.4M1528.4 1535.0L1531.9 1554.1M1528.4 1569.0L1533.5 1587.7M1528.4 1603.0L1535.2 1621.1M1563.4 1229.0L1553.4 1245.3M1563.4 1263.0L1555.2 1280.4M1563.4 1297.0L1557.1 1315.3M1563.4 1331.0L1559.0 1349.9M1563.4 1365.0L1560.8 1384.3M1563.4 1399.0L1562.4 1418.5M1563.4 1433.0L1563.4 1452.5M1563.4 1467.0L1564.3 1486.5M1563.4 1501.0L1565.9 1520.3M1563.4 1535.0L1567.7 1553.9M1563.4 1569.0L1569.7 1587.3M1563.4 1603.0L1571.5 1620.4M1598.4 1229.0L1586.6 1243.8M1598.4 1263.0L1588.4 1279.2M1598.4 1297.0L1590.5 1314.5M1598.4 1331.0L1592.8 1349.5M1598.4 1365.0L1595.1 1384.2M1598.4 1399.0L1597.1 1418.4M1598.4 1433.0L1598.4 1452.5M1598.4 1467.0L1599.6 1486.5M1598.4 1501.0L1601.6 1520.2M1598.4 1535.0L1603.9 1553.6M1598.4 1569.0L1606.2 1586.6M1598.4 1603.0L1608.3 1619.3M1633.4 1229.0L1619.6 1241.6M1633.4 1263.0L1621.2 1277.4M1633.4 1297.0L1623.3 1313.2M1633.4 1331.0L1626.0 1348.8M1633.4 1365.0L1628.9 1383.9M1633.4 1399.0L1631.6 1418.4M1633.4 1433.0L1633.4 1452.5M1633.4 1467.0L1635.1 1486.4M1633.4 1501.0L1637.8 1519.9M1633.4 1535.0L1640.7 1552.8M1633.4 1569.0L1643.4 1585.3M1633.4 1603.0L1645.5 1617.4M1633.4 1637.0L1647.1 1649.6M1668.4 1161.0L1651.5 1167.8M1668.4 1195.0L1652.0 1203.0M1668.4 1229.0L1652.6 1238.4M1668.4 1263.0L1653.7 1274.3M1668.4 1297.0L1655.5 1310.6M1668.4 1331.0L1658.2 1347.1M1668.4 1365.0L1661.8 1383.2M1668.4 1501.0L1674.8 1519.2M1668.4 1535.0L1678.5 1551.2M1668.4 1569.0L1681.2 1582.7M1668.4 1603.0L1683.0 1614.4M1668.4 1637.0L1684.1 1646.5M1703.4 1161.0L1685.8 1164.9M1703.4 1195.0L1685.9 1199.6M1703.4 1229.0L1686.2 1234.7M1703.4 1263.0L1686.6 1270.1M1703.4 1297.0L1687.5 1306.2M1703.4 1569.0L1719.2 1578.3M1703.4 1603.0L1720.1 1610.2M1703.4 1637.0L1720.6 1642.7M1738.4 1127.0L1720.4 1128.1M1738.4 1161.0L1720.4 1162.3M1738.4 1195.0L1720.5 1196.6M1738.4 1229.0L1720.5 1231.0M1738.4 1263.0L1720.6 1265.6M1738.4 1603.0L1756.2 1605.6M1738.4 1637.0L1756.3 1639.0M1773.4 1127.0L1755.4 1126.9M1773.4 1161.0L1755.4 1160.9M1773.4 1195.0L1755.4 1194.9M1773.4 1229.0L1755.4 1228.9M1773.4 1263.0L1755.4 1262.8M1773.4 1603.0L1791.4 1602.8M1773.4 1637.0L1791.4 1636.8M1808.4 1127.0L1790.5 1125.3M1808.4 1161.0L1790.5 1159.0M1808.4 1195.0L1790.5 1192.6M1808.4 1229.0L1790.6 1226.1M1808.4 1263.0L1790.7 1259.3M1808.4 1603.0L1826.1 1599.2M1808.4 1637.0L1826.2 1634.1M1843.4 1161.0L1825.9 1156.4M1843.4 1195.0L1826.1 1189.5M1843.4 1229.0L1826.5 1222.3M1843.4 1263.0L1827.1 1254.7M1843.4 1297.0L1828.3 1286.4M1843.4 1569.0L1858.5 1558.3M1843.4 1603.0L1859.6 1594.6M1843.4 1637.0L1860.3 1630.2M1878.4 1161.0L1861.8 1153.4M1878.4 1195.0L1862.3 1186.2M1878.4 1229.0L1863.1 1218.6M1878.4 1263.0L1864.4 1250.7M1878.4 1297.0L1866.3 1282.5M1878.4 1331.0L1869.1 1314.3M1878.4 1365.0L1872.5 1346.6M1878.4 1399.0L1876.0 1379.7M1878.4 1433.0L1878.4 1413.5M1878.4 1467.0L1880.6 1447.6M1878.4 1501.0L1884.1 1482.5M1878.4 1535.0L1887.6 1518.2M1878.4 1569.0L1890.4 1554.4M1878.4 1603.0L1892.3 1590.6M1878.4 1637.0L1893.6 1626.5M1913.4 1195.0L1899.0 1183.3M1913.4 1229.0L1900.2 1215.7M1913.4 1263.0L1901.8 1248.0M1913.4 1297.0L1904.0 1280.4M1913.4 1331.0L1906.5 1313.0M1913.4 1365.0L1909.3 1346.0M1913.4 1399.0L1911.8 1379.6M1913.4 1433.0L1913.4 1413.5M1913.4 1467.0L1914.9 1447.6M1913.4 1501.0L1917.4 1482.0M1913.4 1535.0L1920.1 1516.9M1913.4 1569.0L1922.7 1552.3M1913.4 1603.0L1924.9 1588.0M1948.4 1229.0L1937.2 1213.7M1948.4 1263.0L1938.9 1246.4M1948.4 1297.0L1941.0 1279.2M1948.4 1331.0L1943.2 1312.3M1948.4 1365.0L1945.3 1345.8M1948.4 1399.0L1947.2 1379.5M1948.4 1433.0L1948.4 1413.5M1948.4 1467.0L1949.5 1447.5M1948.4 1501.0L1951.4 1481.8M1948.4 1535.0L1953.5 1516.3M1948.4 1569.0L1955.7 1551.2M1948.4 1603.0L1957.8 1586.4M1983.4 1229.0L1973.9 1212.4M1983.4 1263.0L1975.6 1245.4M1983.4 1297.0L1977.4 1278.6M1983.4 1331.0L1979.2 1312.0M1983.4 1365.0L1981.0 1345.7M1983.4 1399.0L1982.5 1379.5M1983.4 1433.0L1983.4 1413.5M1983.4 1467.0L1984.3 1447.5M1983.4 1501.0L1985.7 1481.7M1983.4 1535.0L1987.5 1516.0M1983.4 1569.0L1989.3 1550.6M1983.4 1603.0L1991.1 1585.4M2018.4 1263.0L2011.8 1244.8M2018.4 1297.0L2013.4 1278.2M2018.4 1331.0L2015.0 1311.8M2018.4 1365.0L2016.4 1345.6M2018.4 1399.0L2017.6 1379.5M2018.4 1433.0L2018.4 1413.5M2018.4 1467.0L2019.1 1447.5M2018.4 1501.0L2020.3 1481.6M2018.4 1535.0L2021.7 1515.8M2018.4 1569.0L2023.3 1550.2M2018.4 1603.0L2024.9 1584.8" stroke="#fff" stroke-width="4.4" fill="none"/><path d="M1517.6 1291.3L1517.2 1277.2L1527.3 1281.1zM1520.2 1326.3L1518.5 1312.3L1528.9 1315.2zM1522.8 1360.9L1519.9 1347.2L1530.5 1349.1zM1525.2 1395.3L1521.2 1381.8L1531.9 1383.0zM1527.1 1429.5L1522.3 1416.3L1533.1 1416.7zM1528.4 1463.5L1523.0 1450.5L1533.8 1450.5zM1529.6 1497.5L1523.7 1484.7L1534.5 1484.3zM1531.5 1531.3L1524.8 1518.9L1535.6 1517.8zM1533.9 1565.0L1526.2 1553.1L1536.9 1551.2zM1536.4 1598.3L1527.8 1587.2L1538.2 1584.3zM1539.1 1631.4L1529.4 1621.1L1539.5 1617.3zM1547.7 1254.6L1549.9 1240.7L1559.1 1246.4zM1550.5 1290.3L1551.1 1276.2L1560.9 1280.9zM1553.4 1325.6L1552.6 1311.6L1562.8 1315.1zM1556.5 1360.6L1554.2 1346.7L1564.7 1349.2zM1559.4 1395.2L1555.7 1381.6L1566.5 1383.0zM1561.8 1429.5L1557.1 1416.2L1567.9 1416.7zM1563.4 1463.5L1558.0 1450.5L1568.8 1450.5zM1564.9 1497.5L1558.8 1484.7L1569.6 1484.2zM1567.3 1531.2L1560.3 1519.0L1571.0 1517.6zM1570.2 1564.7L1562.0 1553.2L1572.5 1550.8zM1573.2 1597.7L1563.9 1587.1L1574.1 1583.7zM1576.2 1630.4L1565.8 1620.9L1575.6 1616.3zM1579.8 1252.4L1583.7 1238.9L1592.1 1245.6zM1582.6 1288.6L1584.8 1274.7L1594.0 1280.4zM1586.0 1324.5L1586.4 1310.5L1596.2 1314.9zM1589.6 1360.1L1588.2 1346.1L1598.5 1349.2zM1593.2 1395.0L1590.1 1381.3L1600.8 1383.1zM1596.4 1429.4L1591.9 1416.1L1602.6 1416.8zM1598.4 1463.5L1593.0 1450.5L1603.8 1450.5zM1600.3 1497.4L1594.1 1484.8L1604.9 1484.1zM1603.4 1531.0L1595.9 1519.1L1606.6 1517.3zM1607.0 1564.1L1598.2 1553.2L1608.5 1550.1zM1610.7 1596.6L1600.5 1586.9L1610.3 1582.6zM1614.0 1628.7L1602.7 1620.4L1611.9 1614.8zM1611.5 1249.0L1617.5 1236.2L1624.7 1244.2zM1614.1 1285.7L1618.4 1272.3L1626.6 1279.3zM1617.5 1322.5L1619.8 1308.6L1629.0 1314.3zM1621.7 1358.9L1621.8 1344.8L1631.7 1349.0zM1626.4 1394.6L1624.1 1380.7L1634.6 1383.2zM1630.6 1429.4L1626.4 1415.9L1637.2 1416.9zM1633.4 1463.5L1628.0 1450.5L1638.8 1450.5zM1636.0 1497.4L1629.5 1484.9L1640.3 1484.0zM1640.2 1530.6L1632.1 1519.2L1642.6 1516.8zM1644.9 1563.0L1634.9 1553.0L1644.9 1548.9zM1649.1 1594.6L1637.7 1586.4L1646.9 1580.7zM1652.6 1625.9L1640.1 1619.4L1648.4 1612.4zM1655.2 1657.1L1642.0 1652.3L1649.3 1644.3zM1641.3 1171.9L1651.4 1162.0L1655.4 1172.0zM1642.1 1207.7L1651.4 1197.2L1656.1 1206.9zM1643.2 1244.1L1651.6 1232.8L1657.1 1242.1zM1645.0 1281.1L1652.0 1268.8L1658.6 1277.4zM1647.9 1318.6L1652.9 1305.4L1660.8 1312.9zM1652.3 1356.4L1654.7 1342.5L1663.8 1348.3zM1658.1 1393.5L1657.4 1379.4L1667.6 1383.1zM1678.4 1529.6L1669.0 1519.1L1679.2 1515.6zM1684.3 1560.5L1672.8 1552.3L1682.0 1546.6zM1688.7 1590.8L1675.9 1584.9L1683.8 1577.6zM1691.7 1621.2L1678.1 1617.5L1684.8 1608.9zM1693.5 1652.2L1679.6 1650.1L1685.2 1640.9zM1675.0 1167.2L1686.6 1159.2L1688.9 1169.7zM1675.3 1202.5L1686.5 1193.9L1689.2 1204.3zM1675.7 1238.1L1686.4 1228.9L1689.8 1239.2zM1676.5 1274.4L1686.4 1264.4L1690.6 1274.3zM1678.0 1311.7L1686.5 1300.5L1691.9 1309.9zM1728.7 1583.9L1714.8 1581.9L1720.2 1572.6zM1730.2 1614.5L1716.2 1614.4L1720.4 1604.4zM1731.1 1646.2L1717.0 1647.2L1720.4 1637.0zM1709.5 1128.8L1722.1 1122.6L1722.8 1133.4zM1709.5 1163.2L1722.0 1156.8L1722.8 1167.6zM1709.5 1197.6L1722.0 1191.1L1722.9 1201.8zM1709.6 1232.2L1721.9 1225.4L1723.1 1236.2zM1709.7 1267.2L1721.8 1259.9L1723.3 1270.6zM1767.1 1607.2L1753.5 1610.7L1755.0 1600.0zM1767.2 1640.3L1753.7 1644.2L1754.9 1633.4zM1744.4 1126.9L1757.4 1121.5L1757.4 1132.3zM1744.4 1160.8L1757.4 1155.5L1757.4 1166.3zM1744.4 1194.8L1757.4 1189.5L1757.4 1200.3zM1744.4 1228.8L1757.4 1223.5L1757.4 1234.3zM1744.4 1262.7L1757.5 1257.4L1757.3 1268.2zM1802.4 1602.7L1789.5 1608.2L1789.3 1597.4zM1802.4 1636.8L1789.4 1642.3L1789.4 1631.5zM1779.5 1124.3L1793.0 1120.1L1792.0 1130.9zM1779.6 1157.8L1793.1 1153.9L1791.9 1164.6zM1779.6 1191.2L1793.2 1187.5L1791.8 1198.3zM1779.7 1224.3L1793.4 1221.1L1791.7 1231.7zM1780.0 1257.0L1793.8 1254.4L1791.6 1265.0zM1836.8 1596.9L1825.2 1604.9L1823.0 1594.4zM1837.0 1632.3L1825.1 1639.7L1823.3 1629.1zM1815.3 1153.5L1829.2 1151.6L1826.5 1162.1zM1815.7 1186.1L1829.7 1184.9L1826.4 1195.2zM1816.3 1218.2L1830.3 1218.0L1826.4 1228.0zM1817.3 1249.7L1831.4 1250.8L1826.4 1260.4zM1819.2 1280.1L1833.0 1283.1L1826.8 1292.0zM1867.4 1551.9L1860.0 1563.9L1853.7 1555.1zM1869.4 1589.5L1860.4 1600.3L1855.4 1590.7zM1870.5 1626.1L1860.4 1636.0L1856.4 1626.0zM1851.8 1148.9L1865.9 1149.4L1861.4 1159.2zM1852.7 1180.9L1866.7 1182.4L1861.5 1191.9zM1854.0 1212.4L1867.8 1215.3L1861.8 1224.2zM1856.1 1243.5L1869.5 1248.0L1862.3 1256.1zM1859.3 1274.1L1871.7 1280.6L1863.4 1287.5zM1863.7 1304.7L1874.7 1313.4L1865.3 1318.7zM1869.2 1336.1L1878.3 1346.8L1868.0 1350.1zM1874.7 1368.8L1881.6 1381.0L1870.9 1382.3zM1878.4 1402.5L1883.8 1415.5L1873.0 1415.5zM1881.9 1436.7L1885.8 1450.3L1875.0 1449.0zM1887.4 1472.0L1888.7 1486.0L1878.4 1482.8zM1892.9 1508.6L1891.4 1522.6L1881.9 1517.4zM1897.4 1545.9L1893.3 1559.4L1884.9 1552.5zM1900.6 1583.3L1894.4 1596.0L1887.2 1587.9zM1902.7 1620.3L1895.0 1632.1L1888.9 1623.2zM1890.4 1176.4L1903.9 1180.4L1897.1 1188.8zM1892.4 1208.0L1905.4 1213.3L1897.8 1221.0zM1895.1 1239.3L1907.3 1246.3L1898.8 1252.9zM1898.5 1270.8L1909.7 1279.5L1900.3 1284.8zM1902.6 1302.7L1912.3 1312.9L1902.2 1316.8zM1907.0 1335.3L1915.0 1346.8L1904.4 1349.1zM1910.9 1368.6L1917.3 1381.1L1906.6 1382.0zM1913.4 1402.5L1918.8 1415.5L1908.0 1415.5zM1915.8 1436.6L1920.1 1450.0L1909.4 1449.1zM1919.6 1471.2L1922.3 1485.0L1911.7 1482.8zM1924.0 1506.6L1924.5 1520.7L1914.4 1516.9zM1928.1 1542.7L1926.5 1556.7L1917.0 1551.4zM1931.6 1579.2L1928.0 1592.8L1919.4 1586.3zM1930.6 1204.9L1942.7 1212.2L1934.0 1218.6zM1933.5 1236.9L1944.6 1245.5L1935.2 1250.8zM1936.7 1269.1L1946.7 1279.0L1936.7 1283.2zM1940.2 1301.7L1948.9 1312.8L1938.5 1315.7zM1943.6 1334.9L1951.0 1346.9L1940.3 1348.6zM1946.5 1368.6L1952.7 1381.2L1941.9 1381.9zM1948.4 1402.5L1953.8 1415.5L1943.0 1415.5zM1950.2 1436.6L1954.8 1449.8L1944.0 1449.2zM1953.1 1470.9L1956.4 1484.6L1945.7 1482.9zM1956.5 1505.7L1958.2 1519.7L1947.8 1516.8zM1959.9 1541.0L1960.0 1555.1L1950.0 1551.0zM1963.2 1576.8L1961.5 1590.7L1952.1 1585.4zM1968.4 1202.9L1979.6 1211.5L1970.2 1216.9zM1971.1 1235.4L1981.3 1245.1L1971.5 1249.5zM1974.0 1268.2L1983.1 1278.8L1972.9 1282.2zM1976.9 1301.3L1984.9 1312.8L1974.4 1315.1zM1979.6 1334.8L1986.6 1347.0L1975.9 1348.3zM1981.9 1368.5L1988.0 1381.3L1977.2 1381.8zM1983.4 1402.5L1988.8 1415.5L1978.0 1415.5zM1984.8 1436.5L1989.6 1449.8L1978.8 1449.3zM1987.1 1470.7L1990.9 1484.3L1980.1 1483.0zM1989.8 1505.2L1992.3 1519.1L1981.8 1516.8zM1992.7 1540.1L1993.8 1554.1L1983.6 1550.8zM1995.6 1575.3L1995.3 1589.4L1985.4 1585.0zM2008.1 1234.5L2017.6 1244.9L2007.4 1248.5zM2010.6 1267.6L2019.2 1278.8L2008.7 1281.6zM2013.1 1301.0L2020.7 1312.9L2010.0 1314.8zM2015.3 1334.7L2022.0 1347.1L2011.3 1348.1zM2017.2 1368.5L2023.1 1381.3L2012.3 1381.7zM2018.4 1402.5L2023.8 1415.5L2013.0 1415.5zM2019.5 1436.5L2024.4 1449.7L2013.6 1449.3zM2021.4 1470.7L2025.5 1484.1L2014.7 1483.1zM2023.6 1505.0L2026.7 1518.7L2016.1 1516.9zM2026.0 1539.6L2028.0 1553.5L2017.6 1550.8zM2028.6 1574.4L2029.3 1588.5L2019.1 1584.9z" fill="#fff"/></g>
<g clip-path="url(#cpf)"><path d="M344.0 1857.0L347.8 1838.4M344.0 1891.0L346.4 1872.2M344.0 1925.0L345.1 1906.0M344.0 1959.0L344.2 1940.0M344.0 1993.0L343.7 1974.0M344.0 2027.0L342.7 2008.0M344.0 2061.0L341.5 2042.2M344.0 2095.0L340.1 2076.5M344.0 2129.0L338.6 2110.9M384.0 1857.0L388.6 1838.6M384.0 1891.0L386.9 1872.3M384.0 1925.0L385.4 1906.1M384.0 1959.0L384.3 1940.0M384.0 1993.0L383.6 1974.0M384.0 2027.0L382.4 2008.1M384.0 2061.0L380.9 2042.3M384.0 2095.0L379.2 2076.7M384.0 2129.0L377.4 2111.3M384.0 2163.0L375.7 2146.1M424.0 1857.0L429.8 1839.0M424.0 1891.0L427.7 1872.4M424.0 1925.0L425.8 1906.1M424.0 1959.0L424.4 1940.0M424.0 1993.0L423.5 1974.0M424.0 2027.0L422.0 2008.1M424.0 2061.0L420.1 2042.5M424.0 2095.0L417.9 2077.1M424.0 2129.0L415.9 2112.0M424.0 2163.0L414.0 2147.2M424.0 2197.0L412.4 2182.5M424.0 2231.0L411.1 2217.7M464.0 1687.0L479.4 1677.1M464.0 1721.0L478.6 1709.8M464.0 1755.0L477.5 1742.4M464.0 1789.0L476.0 1774.8M464.0 1823.0L474.0 1807.2M464.0 1857.0L471.6 1839.8M464.0 1891.0L469.0 1872.7M464.0 1925.0L466.5 1906.2M464.0 1959.0L464.5 1940.0M464.0 1993.0L463.4 1974.0M464.0 2027.0L461.3 2008.2M464.0 2061.0L458.7 2042.8M464.0 2095.0L456.1 2077.9M464.0 2129.0L453.8 2113.4M464.0 2163.0L451.9 2148.9M464.0 2197.0L450.4 2184.5M464.0 2231.0L449.3 2220.0M464.0 2265.0L448.6 2255.2M504.0 1687.0L520.7 1679.8M504.0 1721.0L520.2 1712.7M504.0 1755.0L519.5 1745.3M504.0 1789.0L518.4 1777.5M504.0 1823.0L516.7 1809.5M504.0 1857.0L514.3 1841.4M504.0 1891.0L511.1 1873.6M504.0 1925.0L507.7 1906.4M504.0 1959.0L504.7 1940.0M504.0 1993.0L503.0 1974.0M504.0 2027.0L500.0 2008.5M504.0 2061.0L496.5 2043.7M504.0 2095.0L493.4 2079.6M504.0 2129.0L491.1 2115.7M504.0 2163.0L489.5 2151.7M504.0 2197.0L488.5 2187.4M504.0 2231.0L487.8 2222.8M504.0 2265.0L487.3 2257.9M544.0 1687.0L561.5 1682.7M544.0 1721.0L561.3 1715.9M544.0 1755.0L561.0 1748.9M544.0 1789.0L560.5 1781.5M544.0 1823.0L559.6 1813.6M544.0 1857.0L557.9 1845.0M544.0 2095.0L529.8 2083.3M544.0 2129.0L528.3 2119.8M544.0 2163.0L527.4 2155.6M544.0 2197.0L526.9 2191.0M544.0 2231.0L526.6 2226.0M544.0 2265.0L526.5 2260.8M584.0 1687.0L601.9 1685.3M584.0 1721.0L601.9 1719.0M584.0 1755.0L601.8 1752.5M584.0 1789.0L601.8 1785.9M584.0 1823.0L601.6 1818.9M584.0 2129.0L566.4 2125.0M584.0 2163.0L566.2 2160.0M584.0 2197.0L566.1 2194.6M584.0 2231.0L566.1 2229.0M584.0 2265.0L566.1 2263.3M624.0 1687.0L642.0 1687.0M624.0 1721.0L642.0 1721.0M624.0 1755.0L642.0 1755.0M624.0 1789.0L642.0 1789.0M624.0 1823.0L642.0 1823.0M624.0 2129.0L606.0 2129.0M624.0 2163.0L606.0 2163.0M624.0 2197.0L606.0 2197.0M624.0 2231.0L606.0 2231.0M624.0 2265.0L606.0 2265.0M664.0 1687.0L681.9 1688.6M664.0 1721.0L681.9 1722.9M664.0 1755.0L681.9 1757.3M664.0 1789.0L681.8 1791.9M664.0 1823.0L681.6 1826.8M664.0 2129.0L646.3 2132.7M664.0 2163.0L646.2 2165.8M664.0 2197.0L646.1 2199.2M664.0 2231.0L646.1 2232.8M664.0 2265.0L646.1 2266.6M704.0 1687.0L721.6 1691.2M704.0 1721.0L721.4 1725.9M704.0 1755.0L721.1 1760.9M704.0 1789.0L720.6 1796.3M704.0 1823.0L719.8 1832.2M704.0 1857.0L718.1 1868.8M704.0 2095.0L689.6 2106.5M704.0 2129.0L688.1 2138.0M704.0 2163.0L687.3 2170.1M704.0 2197.0L686.9 2202.8M704.0 2231.0L686.6 2235.8M704.0 2265.0L686.4 2269.1M744.0 1721.0L760.3 1729.2M744.0 1755.0L759.6 1764.6M744.0 1789.0L758.5 1800.3M744.0 1823.0L756.9 1836.3M744.0 1857.0L754.5 1872.5M744.0 1891.0L751.3 1908.4M744.0 1925.0L747.7 1943.6M744.0 1959.0L744.7 1978.0M744.0 1993.0L743.0 2012.0M744.0 2027.0L739.9 2045.5M744.0 2061.0L736.4 2078.2M744.0 2095.0L733.2 2110.2M744.0 2129.0L730.9 2142.1M744.0 2163.0L729.4 2174.1M744.0 2197.0L728.4 2206.4M744.0 2231.0L727.7 2239.0M784.0 1755.0L797.6 1767.5M784.0 1789.0L796.1 1803.1M784.0 1823.0L794.1 1838.7M784.0 1857.0L791.7 1874.2M784.0 1891.0L789.1 1909.2M784.0 1925.0L786.5 1943.8M784.0 1959.0L784.5 1978.0M784.0 1993.0L783.3 2012.0M784.0 2027.0L781.2 2045.8M784.0 2061.0L778.6 2079.1M784.0 2095.0L776.0 2112.0M784.0 2129.0L773.6 2144.6M784.0 2163.0L771.7 2176.9M784.0 2197.0L770.3 2209.3M824.0 1789.0L833.9 1804.9M824.0 1823.0L832.0 1840.0M824.0 1857.0L829.9 1874.9M824.0 1891.0L827.8 1909.6M824.0 1925.0L825.9 1943.9M824.0 1959.0L824.4 1978.0M824.0 1993.0L823.5 2012.0M824.0 2027.0L822.0 2045.9M824.0 2061.0L820.0 2079.5M824.0 2095.0L817.9 2112.9M824.0 2129.0L815.8 2145.9" stroke="#fff" stroke-width="4.4" fill="none"/><path d="M350.0 1827.6L352.7 1841.5L342.1 1839.3zM347.7 1861.3L351.5 1874.8L340.8 1873.5zM345.8 1895.1L350.4 1908.4L339.6 1907.7zM344.4 1929.0L349.6 1942.1L338.8 1941.9zM343.5 1963.0L349.1 1975.9L338.3 1976.1zM342.0 1997.1L348.3 2009.7L337.5 2010.4zM340.0 2031.3L347.1 2043.5L336.4 2044.9zM337.8 2065.7L345.8 2077.3L335.2 2079.5zM335.4 2100.3L344.3 2111.2L334.0 2114.3zM391.3 1828.0L393.4 1841.9L382.9 1839.3zM388.6 1861.4L392.0 1875.1L381.3 1873.4zM386.2 1895.1L390.7 1908.5L379.9 1907.7zM384.4 1929.0L389.6 1942.1L378.8 1941.9zM383.4 1963.0L389.1 1975.9L378.3 1976.1zM381.5 1997.1L388.0 2009.6L377.2 2010.5zM379.1 2031.4L386.6 2043.4L375.9 2045.1zM376.4 2066.0L384.9 2077.3L374.5 2080.0zM373.6 2101.0L383.2 2111.3L373.1 2115.1zM370.9 2136.2L381.4 2145.5L371.8 2150.3zM433.2 1828.6L434.4 1842.6L424.1 1839.3zM429.9 1861.6L432.6 1875.4L422.1 1873.3zM426.9 1895.1L431.0 1908.6L420.3 1907.6zM424.6 1929.0L429.7 1942.1L418.9 1941.9zM423.3 1963.0L429.0 1975.9L418.2 1976.1zM420.8 1997.2L427.6 2009.5L416.8 2010.7zM417.8 2031.7L425.8 2043.3L415.2 2045.5zM414.4 2066.7L423.7 2077.3L413.5 2080.7zM411.1 2102.1L421.6 2111.5L411.9 2116.2zM408.1 2137.9L419.6 2146.0L410.5 2151.8zM405.5 2173.9L417.9 2180.7L409.4 2187.4zM403.4 2209.9L416.4 2215.4L408.6 2222.9zM488.6 1671.2L480.6 1682.7L474.8 1673.6zM487.3 1703.1L480.3 1715.3L473.7 1706.8zM485.5 1734.8L479.7 1747.7L472.3 1739.8zM483.0 1766.4L478.8 1779.8L470.5 1772.8zM479.9 1797.9L477.5 1811.8L468.4 1806.0zM476.1 1829.7L475.8 1843.8L465.9 1839.4zM471.9 1862.1L473.7 1876.1L463.3 1873.2zM467.9 1895.3L471.6 1908.9L460.9 1907.5zM464.8 1929.0L469.8 1942.1L459.0 1941.9zM463.0 1963.0L468.8 1975.8L458.0 1976.2zM459.7 1997.3L466.9 2009.4L456.2 2011.0zM455.7 2032.3L464.5 2043.2L454.1 2046.3zM451.5 2067.9L461.9 2077.5L452.0 2082.0zM447.8 2104.1L459.4 2112.1L450.4 2118.0zM444.7 2140.6L457.3 2146.9L449.1 2154.0zM442.3 2177.1L455.5 2181.9L448.2 2189.8zM440.6 2213.3L454.2 2216.8L447.7 2225.5zM439.3 2249.3L453.1 2251.7L447.4 2260.9zM530.8 1675.4L521.0 1685.6L516.7 1675.6zM530.0 1707.6L520.9 1718.4L515.9 1708.8zM528.8 1739.4L520.6 1750.9L514.9 1741.8zM527.0 1770.7L520.2 1783.0L513.4 1774.6zM524.3 1801.5L519.3 1814.7L511.4 1807.3zM520.4 1832.2L517.7 1846.1L508.7 1840.1zM515.3 1863.4L515.4 1877.5L505.4 1873.4zM509.8 1895.6L512.6 1909.4L502.0 1907.3zM505.1 1929.0L510.0 1942.2L499.3 1941.8zM502.5 1963.0L508.5 1975.8L497.7 1976.3zM497.7 1997.7L505.7 2009.3L495.1 2011.6zM492.1 2033.6L502.3 2043.4L492.4 2047.7zM487.2 2070.6L499.0 2078.2L490.1 2084.3zM483.4 2107.9L496.4 2113.4L488.6 2120.9zM480.8 2145.0L494.4 2148.7L487.8 2157.2zM479.1 2181.6L493.0 2183.9L487.3 2193.1zM477.9 2217.8L492.0 2218.9L487.1 2228.5zM477.2 2253.6L491.2 2253.7L487.0 2263.7zM572.2 1680.1L560.9 1688.4L558.3 1677.9zM571.9 1712.8L560.9 1721.7L557.9 1711.3zM571.4 1745.2L561.0 1754.6L557.3 1744.5zM570.5 1776.9L560.9 1787.2L556.5 1777.4zM569.0 1807.9L560.7 1819.2L555.1 1810.0zM566.3 1837.8L560.0 1850.4L552.9 1842.2zM521.4 2076.2L534.8 2080.4L527.9 2088.7zM518.8 2114.2L532.7 2116.1L527.3 2125.5zM517.3 2151.2L531.4 2151.5L527.0 2161.4zM516.5 2187.3L530.6 2186.6L527.0 2196.8zM516.1 2222.9L530.1 2221.4L527.1 2231.7zM515.8 2258.2L529.7 2256.0L527.1 2266.5zM612.9 1684.3L600.4 1690.9L599.4 1680.1zM612.8 1717.7L600.5 1724.6L599.3 1713.8zM612.7 1751.0L600.6 1758.1L599.1 1747.4zM612.6 1784.0L600.7 1791.5L598.9 1780.9zM612.3 1816.4L600.9 1824.6L598.4 1814.1zM555.7 2122.6L569.5 2120.2L567.2 2130.7zM555.4 2158.1L569.1 2155.0L567.3 2165.6zM555.2 2193.1L568.9 2189.5L567.4 2200.2zM555.2 2227.8L568.7 2223.9L567.5 2234.6zM555.1 2262.3L568.6 2258.1L567.6 2268.9zM653.0 1687.0L640.0 1692.4L640.0 1681.6zM653.0 1721.0L640.0 1726.4L640.0 1715.6zM653.0 1755.0L640.0 1760.4L640.0 1749.6zM653.0 1789.0L640.0 1794.4L640.0 1783.6zM653.0 1823.0L640.0 1828.4L640.0 1817.6zM595.0 2129.0L608.0 2123.6L608.0 2134.4zM595.0 2163.0L608.0 2157.6L608.0 2168.4zM595.0 2197.0L608.0 2191.6L608.0 2202.4zM595.0 2231.0L608.0 2225.6L608.0 2236.4zM595.0 2265.0L608.0 2259.6L608.0 2270.4zM692.9 1689.5L679.5 1693.8L680.4 1683.0zM692.9 1724.0L679.4 1728.0L680.5 1717.3zM692.8 1758.7L679.2 1762.4L680.6 1751.7zM692.6 1793.7L678.9 1796.9L680.7 1786.2zM692.4 1829.1L678.5 1831.7L680.8 1821.1zM635.6 2135.0L647.2 2127.0L649.4 2137.6zM635.3 2167.5L647.3 2160.2L649.0 2170.8zM635.2 2200.6L647.4 2193.6L648.8 2204.4zM635.1 2234.0L647.5 2227.3L648.6 2238.0zM635.1 2267.5L647.6 2261.0L648.5 2271.8zM732.3 1693.7L718.4 1696.0L720.9 1685.4zM732.0 1728.9L718.0 1730.6L720.9 1720.2zM731.5 1764.5L717.5 1765.4L721.0 1755.2zM730.7 1800.7L716.6 1800.4L721.0 1790.5zM729.3 1837.7L715.3 1835.8L720.8 1826.5zM726.6 1875.8L713.2 1871.6L720.1 1863.3zM681.0 2113.3L687.8 2101.0L694.6 2109.4zM678.5 2143.4L687.2 2132.3L692.5 2141.7zM677.2 2174.4L687.0 2164.4L691.3 2174.3zM676.4 2206.3L687.0 2197.0L690.5 2207.3zM676.0 2238.8L687.1 2230.1L690.0 2240.5zM675.7 2271.6L687.1 2263.4L689.6 2273.9zM770.1 1734.1L756.0 1733.1L760.9 1723.4zM768.9 1770.3L755.0 1768.1L760.7 1758.9zM767.2 1807.0L753.6 1803.3L760.2 1794.8zM764.5 1844.2L751.6 1838.6L759.4 1831.1zM760.7 1881.6L748.9 1873.8L757.8 1867.8zM755.6 1918.5L745.5 1908.6L755.5 1904.4zM749.9 1954.4L742.1 1942.7L752.6 1940.6zM745.2 1989.0L739.3 1976.2L750.1 1975.8zM742.4 2023.0L737.7 2009.7L748.5 2010.3zM737.5 2056.2L735.1 2042.4L745.6 2044.7zM731.9 2088.3L732.2 2074.2L742.1 2078.6zM726.9 2119.2L730.0 2105.5L738.8 2111.7zM723.2 2149.9L728.5 2136.8L736.2 2144.5zM720.6 2180.7L727.7 2168.6L734.2 2177.2zM718.9 2212.1L727.3 2200.7L732.8 2210.0zM717.8 2243.9L727.1 2233.3L731.9 2243.0zM805.7 1775.0L792.4 1770.1L799.8 1762.2zM803.2 1811.4L790.7 1805.1L798.9 1798.1zM800.1 1848.0L788.5 1840.0L797.6 1834.1zM796.3 1884.2L786.0 1874.6L795.8 1870.1zM792.1 1919.8L783.4 1908.8L793.8 1905.8zM788.0 1954.7L780.9 1942.5L791.6 1941.1zM784.8 1989.0L779.0 1976.1L789.8 1975.9zM783.0 2023.0L778.0 2009.8L788.8 2010.2zM779.6 2056.7L776.2 2043.0L786.9 2044.6zM775.5 2089.7L774.0 2075.7L784.4 2078.8zM771.3 2122.0L772.0 2107.9L781.7 2112.5zM767.5 2153.7L770.3 2139.9L779.2 2145.9zM764.5 2185.2L769.0 2171.9L777.1 2179.0zM762.1 2216.7L768.2 2204.0L775.4 2212.0zM839.8 1814.2L828.3 1806.0L837.4 1800.3zM836.7 1850.0L826.3 1840.5L836.0 1835.9zM833.4 1885.4L824.2 1874.7L834.4 1871.4zM830.0 1920.4L822.1 1908.7L832.7 1906.5zM826.9 1954.8L820.3 1942.4L831.0 1941.4zM824.6 1989.0L818.9 1976.1L829.7 1975.9zM823.2 2023.0L818.2 2009.9L829.0 2010.1zM820.8 2056.8L816.8 2043.3L827.5 2044.5zM817.7 2090.3L815.1 2076.4L825.7 2078.7zM814.3 2123.3L813.4 2109.2L823.6 2112.7zM811.0 2155.8L811.8 2141.7L821.5 2146.5z" fill="#fff"/></g>
<g clip-path="url(#cpg)"><path d="M930.7 1828.6L922.9 1849.7M930.7 1862.9L925.7 1884.3M930.7 1897.2L928.0 1918.7M930.7 1931.5L929.6 1953.0M930.7 1965.8L930.6 1987.3M930.7 2000.1L930.9 2021.6M930.7 2034.4L931.8 2055.9M930.7 2068.7L933.5 2090.2M930.7 2103.0L935.8 2124.4M930.7 2137.3L938.6 2158.4M930.7 2171.6L941.8 2192.3M990.7 1828.6L977.2 1848.9M990.7 1862.9L981.9 1883.9M990.7 1897.2L985.8 1918.6M990.7 1931.5L988.8 1953.0M990.7 1965.8L990.4 1987.3M990.7 2000.1L991.0 2021.6M990.7 2034.4L992.7 2055.9M990.7 2068.7L995.7 2090.1M990.7 2103.0L999.7 2124.0M990.7 2137.3L1004.3 2157.6M990.7 2171.6L1009.0 2190.6M990.7 2205.9L1013.2 2223.3M990.7 2240.2L1016.6 2255.7M1050.7 1828.6L1025.6 1844.6M1050.7 1862.9L1031.9 1881.8M1050.7 1897.2L1039.5 1917.9M1050.7 1931.5L1046.1 1952.9M1050.7 1965.8L1050.1 1987.3M1050.7 2000.1L1051.4 2021.6M1050.7 2034.4L1055.5 2055.8M1050.7 2068.7L1062.2 2089.4M1050.7 2103.0L1069.7 2121.8M1050.7 2137.3L1075.9 2153.2M1050.7 2171.6L1080.0 2184.5M1050.7 2205.9L1082.4 2216.2M1050.7 2240.2L1083.8 2248.5M1110.7 1691.4L1075.3 1692.7M1110.7 1725.7L1075.3 1727.3M1110.7 1760.0L1075.3 1762.1M1110.7 1794.3L1075.5 1797.1M1110.7 1828.6L1075.7 1832.6M1110.7 2137.3L1145.7 2141.2M1110.7 2171.6L1145.9 2174.4M1110.7 2205.9L1146.1 2208.0M1110.7 2240.2L1146.1 2241.8M1170.7 1691.4L1135.2 1690.9M1170.7 1725.7L1135.2 1725.1M1170.7 1760.0L1135.2 1759.2M1170.7 1794.3L1135.2 1793.2M1170.7 1828.6L1135.3 1827.0M1170.7 2137.3L1206.1 2135.7M1170.7 2171.6L1206.2 2170.5M1170.7 2205.9L1206.2 2205.1M1170.7 2240.2L1206.2 2239.6M1230.7 1725.7L1196.6 1719.3M1230.7 1760.0L1197.5 1751.9M1230.7 1794.3L1199.1 1783.9M1230.7 1828.6L1202.2 1815.1M1230.7 1862.9L1207.7 1845.8M1230.7 1897.2L1216.1 1877.1M1230.7 1931.5L1224.5 1910.2M1230.7 1965.8L1229.9 1944.3M1230.7 2000.1L1231.6 1978.6M1230.7 2034.4L1237.1 2013.1M1230.7 2068.7L1245.6 2048.7M1230.7 2103.0L1253.9 2086.0M1230.7 2137.3L1259.3 2123.9M1230.7 2171.6L1262.4 2161.3M1230.7 2205.9L1263.9 2197.9M1230.7 2240.2L1264.8 2233.8M1290.7 1794.3L1270.1 1776.1M1290.7 1828.6L1275.0 1808.8M1290.7 1862.9L1280.2 1842.1M1290.7 1897.2L1284.9 1875.9M1290.7 1931.5L1288.4 1910.0M1290.7 1965.8L1290.4 1944.3M1290.7 2000.1L1291.0 1978.6M1290.7 2034.4L1293.1 2012.9M1290.7 2068.7L1296.6 2047.4M1290.7 2103.0L1301.3 2082.2M1290.7 2137.3L1306.5 2117.5M1290.7 2171.6L1311.5 2153.5M1290.7 2205.9L1315.6 2189.8M1350.7 1794.3L1338.3 1773.8M1350.7 1828.6L1341.9 1807.6M1350.7 1862.9L1345.0 1841.6M1350.7 1897.2L1347.6 1875.8M1350.7 1931.5L1349.5 1910.0M1350.7 1965.8L1350.5 1944.3M1350.7 2000.1L1350.9 1978.6M1350.7 2034.4L1352.0 2012.9M1350.7 2068.7L1353.9 2047.3M1350.7 2103.0L1356.5 2081.7M1350.7 2137.3L1359.6 2116.3M1350.7 2171.6L1363.2 2151.1M1410.7 1828.6L1405.1 1807.3M1410.7 1862.9L1407.1 1841.5M1410.7 1897.2L1408.7 1875.7M1410.7 1931.5L1409.9 1910.0M1410.7 1965.8L1410.6 1944.3M1410.7 2000.1L1410.8 1978.6M1410.7 2034.4L1411.5 2012.9M1410.7 2068.7L1412.7 2047.2M1410.7 2103.0L1414.3 2081.6M1410.7 2137.3L1416.4 2116.0M1410.7 2171.6L1418.8 2150.5" stroke="#fff" stroke-width="4.1" fill="none"/><path d="M919.2 1859.6L919.0 1846.2L928.2 1849.6zM923.3 1894.5L921.4 1881.2L930.9 1883.4zM926.6 1929.1L923.3 1916.1L933.1 1917.3zM929.1 1963.5L924.8 1950.7L934.6 1951.2zM930.5 1997.8L925.7 1985.3L935.5 1985.3zM930.9 2032.1L925.9 2019.6L935.7 2019.6zM932.4 2066.4L926.8 2054.2L936.6 2053.6zM934.9 2100.6L928.4 2088.8L938.1 2087.5zM938.2 2134.6L930.6 2123.5L940.1 2121.3zM942.3 2168.3L933.3 2158.3L942.5 2154.8zM946.8 2201.6L936.6 2192.9L945.2 2188.2zM971.5 1857.7L974.3 1844.5L982.4 1849.9zM977.8 1893.6L978.1 1880.2L987.1 1884.0zM983.5 1928.8L981.5 1915.5L991.0 1917.7zM987.8 1963.4L984.1 1950.5L993.8 1951.4zM990.3 1997.8L985.6 1985.2L995.4 1985.4zM991.1 2032.1L986.1 2019.7L995.9 2019.5zM993.7 2066.3L987.6 2054.3L997.4 2053.4zM998.1 2100.3L990.5 2089.2L1000.0 2087.0zM1003.8 2133.7L994.4 2124.1L1003.4 2120.3zM1010.1 2166.3L999.1 2158.6L1007.2 2153.2zM1016.2 2198.2L1004.1 2192.6L1011.1 2185.8zM1021.5 2229.7L1008.6 2225.9L1014.6 2218.2zM1025.6 2261.0L1012.4 2258.8L1017.4 2250.4zM1016.8 1850.2L1024.7 1839.4L1029.9 1847.6zM1024.5 1889.2L1029.8 1876.9L1036.8 1883.8zM1034.4 1927.1L1036.1 1913.8L1044.7 1918.5zM1043.9 1963.1L1041.7 1949.9L1051.3 1952.0zM1049.8 1997.8L1045.2 1985.2L1055.0 1985.4zM1051.7 2032.1L1046.4 2019.8L1056.2 2019.4zM1057.7 2066.0L1050.2 2054.9L1059.8 2052.8zM1067.2 2098.6L1056.9 2090.0L1065.5 2085.3zM1077.2 2129.2L1064.9 2123.9L1071.7 2116.9zM1084.8 2158.8L1071.6 2156.3L1076.8 2148.0zM1089.6 2188.7L1076.2 2188.1L1080.1 2179.2zM1092.4 2219.5L1079.0 2220.2L1082.0 2210.9zM1094.0 2251.1L1080.6 2252.8L1083.0 2243.3zM1064.8 1693.1L1077.1 1687.7L1077.4 1697.5zM1064.8 1727.8L1077.1 1722.3L1077.5 1732.1zM1064.9 1762.7L1077.1 1757.1L1077.6 1766.8zM1065.0 1797.9L1077.1 1792.0L1077.8 1801.8zM1065.3 1833.8L1077.2 1827.5L1078.3 1837.2zM1156.1 2142.4L1143.1 2145.9L1144.2 2136.1zM1156.4 2175.2L1143.6 2179.1L1144.3 2169.3zM1156.5 2208.6L1143.8 2212.7L1144.3 2202.9zM1156.6 2242.3L1143.9 2246.6L1144.3 2236.8zM1124.7 1690.7L1137.3 1686.0L1137.1 1695.8zM1124.7 1724.9L1137.3 1720.2L1137.1 1730.0zM1124.7 1758.9L1137.3 1754.3L1137.1 1764.1zM1124.7 1792.8L1137.4 1788.3L1137.1 1798.1zM1124.8 1826.5L1137.5 1822.2L1137.1 1832.0zM1216.6 2135.2L1204.3 2140.7L1203.9 2130.9zM1216.7 2170.1L1204.3 2175.4L1204.0 2165.6zM1216.7 2204.8L1204.3 2210.0L1204.1 2200.2zM1216.7 2239.4L1204.3 2244.5L1204.1 2234.7zM1186.3 1717.3L1199.5 1714.8L1197.7 1724.5zM1187.3 1749.4L1200.6 1747.6L1198.3 1757.1zM1189.1 1780.6L1202.5 1779.9L1199.5 1789.2zM1192.7 1810.6L1206.1 1811.5L1201.9 1820.4zM1199.3 1839.5L1212.3 1843.0L1206.4 1850.9zM1209.9 1868.7L1221.2 1875.9L1213.3 1881.7zM1221.6 1900.1L1229.8 1910.8L1220.4 1913.5zM1229.5 1933.8L1234.8 1946.1L1225.0 1946.5zM1232.1 1968.1L1236.4 1980.8L1226.6 1980.4zM1240.1 2003.1L1241.2 2016.4L1231.8 2013.6zM1251.9 2040.3L1248.3 2053.2L1240.5 2047.4zM1262.3 2079.8L1255.1 2091.1L1249.3 2083.2zM1268.9 2119.4L1259.6 2129.2L1255.5 2120.3zM1272.3 2158.0L1262.0 2166.5L1258.9 2157.2zM1274.1 2195.4L1263.1 2203.1L1260.8 2193.6zM1275.1 2231.9L1263.7 2239.0L1261.9 2229.4zM1262.2 1769.2L1274.8 1773.8L1268.3 1781.1zM1268.5 1800.6L1280.1 1807.3L1272.4 1813.4zM1275.5 1832.7L1285.5 1841.7L1276.8 1846.1zM1282.1 1865.8L1290.1 1876.5L1280.7 1879.1zM1287.2 1899.6L1293.5 1911.5L1283.7 1912.5zM1290.2 1933.8L1295.3 1946.2L1285.5 1946.4zM1291.2 1968.1L1295.9 1980.7L1286.1 1980.5zM1294.3 2002.5L1297.7 2015.5L1288.0 2014.4zM1299.5 2037.3L1300.8 2050.6L1291.4 2048.0zM1306.1 2072.8L1304.8 2086.2L1296.0 2081.8zM1313.1 2109.3L1309.1 2122.2L1301.4 2116.0zM1319.4 2146.6L1313.2 2158.5L1306.7 2151.1zM1324.4 2184.1L1316.6 2195.0L1311.2 2186.8zM1332.9 1764.8L1343.5 1773.0L1335.2 1778.0zM1337.8 1797.9L1347.2 1807.5L1338.1 1811.3zM1342.3 1831.4L1350.3 1842.3L1340.8 1844.8zM1346.1 1865.4L1352.7 1877.0L1343.0 1878.4zM1348.9 1899.5L1354.5 1911.7L1344.7 1912.3zM1350.5 1933.8L1355.4 1946.3L1345.7 1946.3zM1351.0 1968.1L1355.8 1980.6L1346.0 1980.6zM1352.6 2002.4L1356.8 2015.2L1347.0 2014.6zM1355.4 2036.9L1358.4 2050.0L1348.7 2048.5zM1359.2 2071.6L1360.7 2084.9L1351.2 2082.3zM1363.7 2106.6L1363.4 2120.0L1354.3 2116.2zM1368.6 2142.1L1366.3 2155.4L1358.0 2150.3zM1402.4 1797.1L1410.3 1808.0L1400.9 1810.5zM1405.4 1831.1L1412.3 1842.6L1402.6 1844.3zM1407.8 1865.3L1413.8 1877.3L1404.0 1878.2zM1409.5 1899.5L1414.9 1911.8L1405.1 1912.2zM1410.5 1933.8L1415.5 1946.3L1405.7 1946.3zM1410.9 1968.1L1415.7 1980.6L1405.9 1980.6zM1411.9 2002.4L1416.3 2015.1L1406.5 2014.7zM1413.7 2036.8L1417.4 2049.7L1407.6 2048.8zM1416.1 2071.2L1418.8 2084.4L1409.2 2082.7zM1419.1 2105.8L1420.6 2119.2L1411.1 2116.7zM1422.5 2140.7L1422.6 2154.1L1413.5 2150.6z" fill="#fff"/></g>
<rect x="305" y="1071" width="149.7" height="147.5" fill="#c4c4c4"/>
<rect x="359" y="1122" width="43.2" height="44" fill="#c68a4c"/>
<path d="M357.5 1144.5L403 1144.5" stroke="#2a1a10" stroke-width="2.2"/>
<rect x="1493" y="1079.5" width="148" height="146.5" fill="#c4c4c4"/>
<rect x="1557" y="1118.3" width="21.5" height="67.2" fill="#c68a4c"/>
<path d="M1568.4 1118.3L1568.4 1185.5" stroke="#2a1a10" stroke-width="3"/>
<rect x="304" y="1680.5" width="149.7" height="147.2" fill="#c4c4c4"/>
<rect x="341.7" y="1747.4" width="44.1" height="43.3" fill="#c68a4c"/>
<rect x="412" y="1706.4" width="20" height="66.6" fill="#c68a4c"/>
<path d="M426.8 1706.4L426.8 1773" stroke="#2a1a10" stroke-width="3"/>
<rect x="880.5" y="1680.5" width="144.5" height="144" fill="#c4c4c4"/>
<rect x="916" y="1745.8" width="43.2" height="43.2" fill="#c68a4c"/>
<path d="M937.9 1745L937.9 1789.6" stroke="#2a1a10" stroke-width="2.2"/>
<rect x="986.4" y="1705" width="19.4" height="66" fill="#c68a4c"/>
<rect x="1456" y="1677.5" width="148.5" height="149.8" fill="#c4c4c4"/>
<rect x="1492.7" y="1746.8" width="44.9" height="44.2" fill="#c68a4c"/>
<path d="M1492 1769.4L1538.5 1769.4" stroke="#2a1a10" stroke-width="2.4"/>
<rect x="1563.3" y="1705.3" width="21.1" height="67.2" fill="#c68a4c"/>
<g font-family="Liberation Serif, serif" font-weight="bold" font-size="93" fill="#000">
<text x="709.5" y="1166.8">(c)</text>
<text x="1292" y="1166">(d)</text>
<text x="1913.8" y="1167.4">(e)</text>
<text x="728.5" y="1783.5">(f)</text>
<text x="1313.5" y="1780">(g)</text>
<text x="1876.5" y="1790.5">(h)</text>
</g>
<g stroke="#000" stroke-width="8.6" fill="none" stroke-linecap="round" stroke-linejoin="miter">
<path d="M369.8 1489.0V1584.9H471.8" stroke-linecap="butt"/>
<path d="M352.8 1516.0L369.8 1486.0L386.8 1516.0"/>
<path d="M444.8 1567.9L474.8 1584.9L444.8 1601.9"/>
</g>
<g font-family="Liberation Serif, serif" font-weight="bold" font-style="italic" font-size="56" fill="#000" text-anchor="middle"><text x="339.0" y="1497.0">z</text><text x="484.6" y="1627.0">x</text></g>
<g stroke="#000" stroke-width="8.6" fill="none" stroke-linecap="round" stroke-linejoin="miter">
<path d="M949.1 1490.1V1591.8H1049.2" stroke-linecap="butt"/>
<path d="M932.1 1517.1L949.1 1487.1L966.1 1517.1"/>
<path d="M1022.2 1574.8L1052.2 1591.8L1022.2 1608.8"/>
</g>
<g font-family="Liberation Serif, serif" font-weight="bold" font-style="italic" font-size="56" fill="#000" text-anchor="middle"><text x="916.8" y="1494.0">y</text><text x="1066.0" y="1623.0">x</text></g>
<g stroke="#000" stroke-width="8.6" fill="none" stroke-linecap="round" stroke-linejoin="miter">
<path d="M1553.1 1501.0V1597.3H1655.6" stroke-linecap="butt"/>
<path d="M1536.1 1528.0L1553.1 1498.0L1570.1 1528.0"/>
<path d="M1628.6 1580.3L1658.6 1597.3L1628.6 1614.3"/>
</g>
<g font-family="Liberation Serif, serif" font-weight="bold" font-style="italic" font-size="56" fill="#000" text-anchor="middle"><text x="1521.0" y="1510.0">z</text><text x="1667.7" y="1625.0">y</text></g>
<g stroke="#000" stroke-width="8.6" fill="none" stroke-linecap="round" stroke-linejoin="miter">
<path d="M364.2 2097.6V2196.5H466.2" stroke-linecap="butt"/>
<path d="M347.2 2124.6L364.2 2094.6L381.2 2124.6"/>
<path d="M439.2 2179.5L469.2 2196.5L439.2 2213.5"/>
</g>
<g font-family="Liberation Serif, serif" font-weight="bold" font-style="italic" font-size="56" fill="#000" text-anchor="middle"><text x="334.0" y="2104.0">z</text><text x="473.0" y="2237.0">y</text></g>
<g stroke="#000" stroke-width="8.6" fill="none" stroke-linecap="round" stroke-linejoin="miter">
<path d="M932.4 2092.9V2191.8H1034.4" stroke-linecap="butt"/>
<path d="M915.4 2119.9L932.4 2089.9L949.4 2119.9"/>
<path d="M1007.4 2174.8L1037.4 2191.8L1007.4 2208.8"/>
</g>
<g font-family="Liberation Serif, serif" font-weight="bold" font-style="italic" font-size="56" fill="#000" text-anchor="middle"><text x="902.0" y="2099.0">z</text><text x="1039.8" y="2229.0">y</text></g>
<g stroke="#000" stroke-width="8.6" fill="none" stroke-linecap="round" stroke-linejoin="miter">
<path d="M1510.7 2100.7V2198.4H1613.1" stroke-linecap="butt"/>
<path d="M1493.7 2127.7L1510.7 2097.7L1527.7 2127.7"/>
<path d="M1586.1 2181.4L1616.1 2198.4L1586.1 2215.4"/>
</g>
<g font-family="Liberation Serif, serif" font-weight="bold" font-style="italic" font-size="56" fill="#000" text-anchor="middle"><text x="1479.7" y="2105.0">z</text><text x="1622.2" y="2243.0">x</text></g>
<linearGradient id="cbg" x1="0" y1="0" x2="0" y2="1"><stop offset="0.0000" stop-color="#7b1a21"/><stop offset="0.0417" stop-color="#a81c24"/><stop offset="0.0833" stop-color="#c8181e"/><stop offset="0.1083" stop-color="#dc1a1c"/><stop offset="0.1333" stop-color="#e41f1b"/><stop offset="0.1667" stop-color="#e5341c"/><stop offset="0.2083" stop-color="#e9581d"/><stop offset="0.2500" stop-color="#ee801c"/><stop offset="0.2917" stop-color="#f3a21b"/><stop offset="0.3333" stop-color="#f6c21e"/><stop offset="0.3500" stop-color="#f7d624"/><stop offset="0.3667" stop-color="#f6ea2d"/><stop offset="0.3833" stop-color="#eee838"/><stop offset="0.4167" stop-color="#d2e044"/><stop offset="0.4583" stop-color="#b2d456"/><stop offset="0.5000" stop-color="#92ca74"/><stop offset="0.5417" stop-color="#7cc692"/><stop offset="0.5833" stop-color="#6fc5b2"/><stop offset="0.6333" stop-color="#6cc6da"/><stop offset="0.6583" stop-color="#4ec2e6"/><stop offset="0.6750" stop-color="#2bbdee"/><stop offset="0.6917" stop-color="#2db4ea"/><stop offset="0.7167" stop-color="#3a94d2"/><stop offset="0.7500" stop-color="#2f6fb8"/><stop offset="0.7917" stop-color="#2457a8"/><stop offset="0.8333" stop-color="#204fa2"/><stop offset="0.8750" stop-color="#16409a"/><stop offset="0.9167" stop-color="#0a318f"/><stop offset="0.9583" stop-color="#142d80"/><stop offset="1.0000" stop-color="#20276a"/></linearGradient>
<rect x="2051" y="1102.5" width="73.5" height="1162.0" fill="url(#cbg)" stroke="#444" stroke-width="1.6"/>
<path d="M2051 2070.8h11M2124.5 2070.8h-11M2051 1877.2h11M2124.5 1877.2h-11M2051 1683.5h11M2124.5 1683.5h-11M2051 1489.8h11M2124.5 1489.8h-11M2051 1296.2h11M2124.5 1296.2h-11" stroke="#3a3a2a" stroke-width="2.2" fill="none"/>
<g font-family="Liberation Serif, serif" font-weight="bold" font-size="89" fill="#000" text-anchor="middle">
<text x="2197.5" y="2293.7">0</text>
<text x="2197.5" y="2099.7">1</text>
<text x="2197.5" y="1917.6">2</text>
<text x="2197.5" y="1716.3">3</text>
<text x="2197.5" y="1528.9">4</text>
<text x="2197.5" y="1327.9">5</text>
<text x="2197.5" y="1139.0">6</text>
</g>
</svg></body></html>
